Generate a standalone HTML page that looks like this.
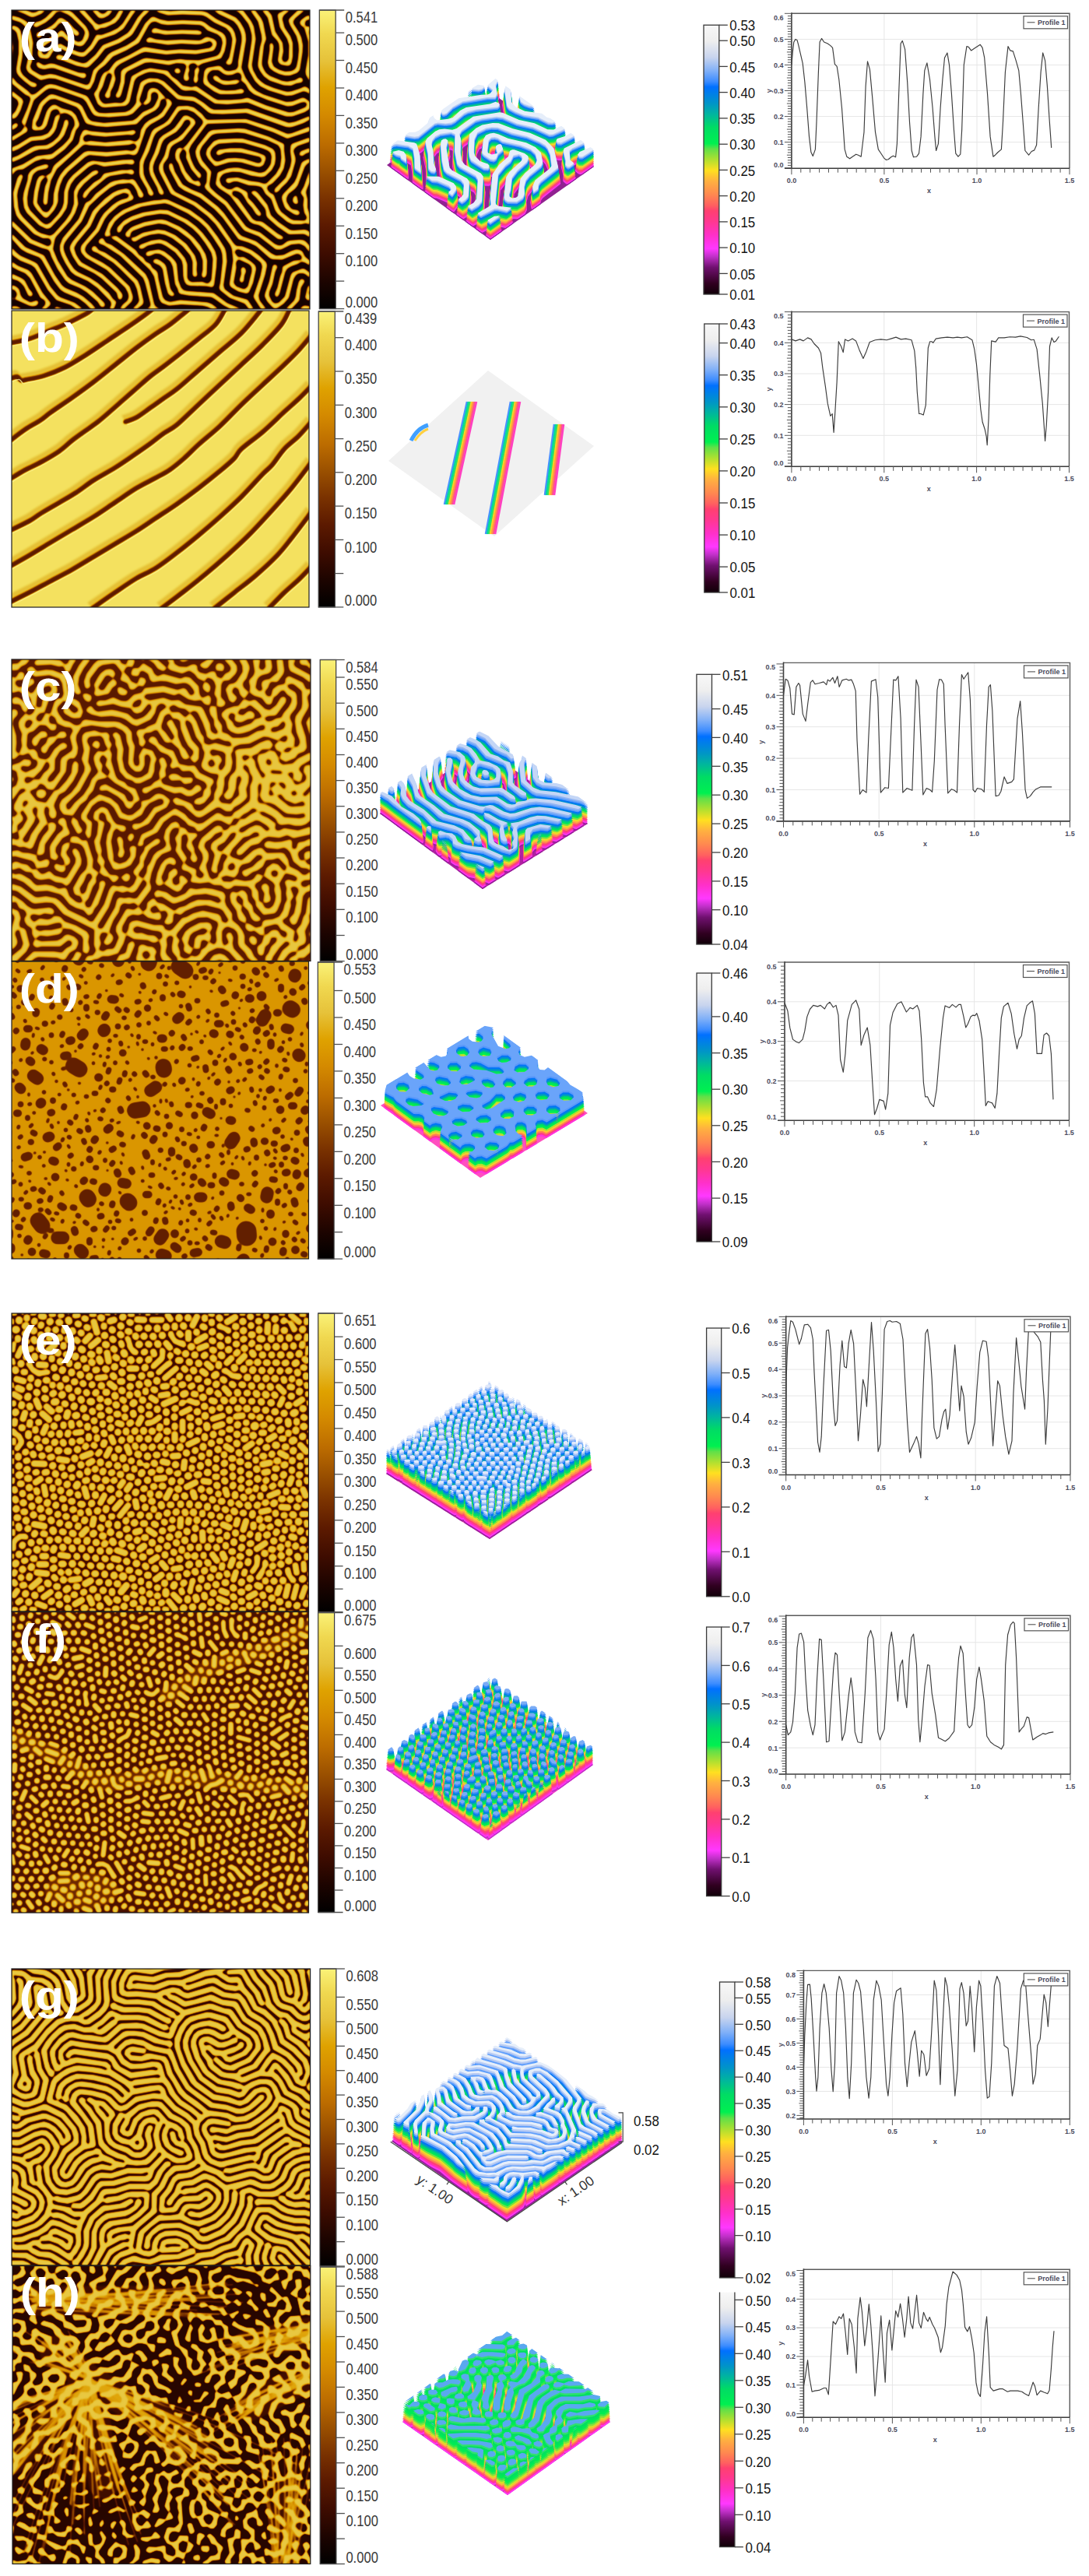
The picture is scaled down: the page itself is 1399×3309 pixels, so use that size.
<!DOCTYPE html>
<html><head><meta charset="utf-8"><style>
html,body{margin:0;padding:0;background:#fff;width:1399px;height:3309px;overflow:hidden}
svg{display:block}
.gl{font-family:'Liberation Sans',sans-serif;font-size:16.6px;fill:#3a3a3a}
.rl{font-family:'Liberation Sans',sans-serif;font-size:16.9px;fill:#141414}
.pl{font-family:'Liberation Sans',sans-serif;font-size:9px;fill:#4a4a5c;font-weight:bold}
.pn{font-family:'Liberation Sans',sans-serif;font-size:52px;font-weight:bold;fill:#fff}
.ax{font-family:'Liberation Sans',sans-serif;font-size:17.5px;fill:#333}
</style></head><body>
<svg width="1399" height="3309" viewBox="0 0 1399 3309">
<defs>
<linearGradient id="gold" x1="0" y1="0" x2="0" y2="1"><stop offset="0.000" stop-color="#faf278"/><stop offset="0.080" stop-color="#f0d850"/><stop offset="0.170" stop-color="#e6c23a"/><stop offset="0.260" stop-color="#dfa200"/><stop offset="0.350" stop-color="#d48a00"/><stop offset="0.450" stop-color="#bc6c00"/><stop offset="0.540" stop-color="#9a5000"/><stop offset="0.630" stop-color="#7a3200"/><stop offset="0.720" stop-color="#5c1a00"/><stop offset="0.815" stop-color="#3e0c00"/><stop offset="0.910" stop-color="#1c0400"/><stop offset="1.000" stop-color="#000000"/></linearGradient>
<linearGradient id="rainbow" x1="0" y1="0" x2="0" y2="1"><stop offset="0.000" stop-color="#f8f8f8"/><stop offset="0.060" stop-color="#eeeeee"/><stop offset="0.120" stop-color="#c8d4ee"/><stop offset="0.170" stop-color="#80b0f8"/><stop offset="0.210" stop-color="#3c8cff"/><stop offset="0.230" stop-color="#0070ff"/><stop offset="0.290" stop-color="#0094c8"/><stop offset="0.330" stop-color="#00b4a0"/><stop offset="0.380" stop-color="#00dc64"/><stop offset="0.440" stop-color="#00f050"/><stop offset="0.460" stop-color="#60e048"/><stop offset="0.500" stop-color="#b0e030"/><stop offset="0.540" stop-color="#ffe020"/><stop offset="0.580" stop-color="#ffb040"/><stop offset="0.630" stop-color="#ff8850"/><stop offset="0.670" stop-color="#ff6060"/><stop offset="0.690" stop-color="#ff4070"/><stop offset="0.730" stop-color="#ff3890"/><stop offset="0.780" stop-color="#ff30c8"/><stop offset="0.830" stop-color="#ff38ff"/><stop offset="0.860" stop-color="#c030c8"/><stop offset="0.900" stop-color="#701070"/><stop offset="0.960" stop-color="#300020"/><stop offset="1.000" stop-color="#100008"/></linearGradient>
<clipPath id="clipa"><rect x="15" y="13" width="383.0" height="384.0"/></clipPath>
<clipPath id="clipb"><rect x="15" y="399" width="382.0" height="381.0"/></clipPath>
<clipPath id="clipc"><rect x="15" y="847" width="384.0" height="387.5"/></clipPath>
<clipPath id="clipd"><rect x="15" y="1235" width="381.5" height="382.0"/></clipPath>
<clipPath id="clipe"><rect x="15" y="1687" width="381.5" height="383.0"/></clipPath>
<clipPath id="clipf"><rect x="15" y="2070.5" width="381.5" height="386.5"/></clipPath>
<clipPath id="clipg"><rect x="15" y="2529" width="383.6" height="381.0"/></clipPath>
<clipPath id="cliph"><rect x="16" y="2910.5" width="382.8" height="383.0"/></clipPath>
<filter id="bl7" x="-5%" y="-5%" width="110%" height="110%"><feGaussianBlur stdDeviation="0.7"/></filter>
<filter id="bl9" x="-5%" y="-5%" width="110%" height="110%"><feGaussianBlur stdDeviation="0.9"/></filter>
<filter id="bl12" x="-5%" y="-5%" width="110%" height="110%"><feGaussianBlur stdDeviation="1.2"/></filter>
<filter id="bl25" x="-5%" y="-5%" width="110%" height="110%"><feGaussianBlur stdDeviation="2.5"/></filter>
<filter id="bl60" x="-5%" y="-5%" width="110%" height="110%"><feGaussianBlur stdDeviation="6.0"/></filter>
<filter id="hma" filterUnits="userSpaceOnUse" x="15" y="13" width="383.0" height="384.0" color-interpolation-filters="sRGB"><feGaussianBlur in="SourceAlpha" stdDeviation="1.5"/><feColorMatrix type="matrix" values="0 0 0 1 0 0 0 0 1 0 0 0 0 1 0 0 0 0 0 1"/><feComponentTransfer><feFuncR type="table" tableValues="0.086 0.098 0.137 0.263 0.467 0.694 0.835 0.882 0.902 0.925 0.937"/><feFuncG type="table" tableValues="0.012 0.016 0.024 0.055 0.184 0.388 0.553 0.663 0.761 0.808 0.839"/><feFuncB type="table" tableValues="0.000 0.000 0.000 0.000 0.000 0.000 0.000 0.051 0.227 0.275 0.306"/></feComponentTransfer></filter>
<filter id="hmb" filterUnits="userSpaceOnUse" x="15" y="399" width="382.0" height="381.0" color-interpolation-filters="sRGB"><feGaussianBlur in="SourceAlpha" stdDeviation="1.1"/><feColorMatrix type="matrix" values="0 0 0 1 0 0 0 0 1 0 0 0 0 1 0 0 0 0 0 1"/><feComponentTransfer><feFuncR type="table" tableValues="0.957 0.941 0.918 0.894 0.855 0.765 0.604 0.494 0.427 0.388 0.361"/><feFuncG type="table" tableValues="0.886 0.847 0.800 0.718 0.592 0.459 0.314 0.208 0.153 0.122 0.102"/><feFuncB type="table" tableValues="0.373 0.314 0.267 0.153 0.000 0.000 0.000 0.000 0.000 0.000 0.000"/></feComponentTransfer></filter>
<filter id="hmc" filterUnits="userSpaceOnUse" x="15" y="847" width="384.0" height="387.5" color-interpolation-filters="sRGB"><feGaussianBlur in="SourceAlpha" stdDeviation="1.5"/><feColorMatrix type="matrix" values="0 0 0 1 0 0 0 0 1 0 0 0 0 1 0 0 0 0 0 1"/><feComponentTransfer><feFuncR type="table" tableValues="0.349 0.361 0.400 0.506 0.663 0.792 0.855 0.882 0.894 0.902 0.910"/><feFuncG type="table" tableValues="0.098 0.102 0.133 0.224 0.361 0.494 0.592 0.663 0.718 0.761 0.780"/><feFuncB type="table" tableValues="0.000 0.000 0.000 0.000 0.000 0.000 0.000 0.051 0.153 0.227 0.247"/></feComponentTransfer></filter>
<filter id="hmd" filterUnits="userSpaceOnUse" x="15" y="1235" width="381.5" height="382.0" color-interpolation-filters="sRGB"><feGaussianBlur in="SourceAlpha" stdDeviation="0.9"/><feColorMatrix type="matrix" values="0 0 0 1 0 0 0 0 1 0 0 0 0 1 0 0 0 0 0 1"/><feComponentTransfer><feFuncR type="table" tableValues="0.855 0.851 0.835 0.784 0.663 0.549 0.467 0.427 0.400 0.388 0.388"/><feFuncG type="table" tableValues="0.592 0.584 0.553 0.482 0.361 0.263 0.184 0.153 0.133 0.122 0.122"/><feFuncB type="table" tableValues="0.000 0.000 0.000 0.000 0.000 0.000 0.000 0.000 0.000 0.000 0.000"/></feComponentTransfer></filter>
<filter id="hme" filterUnits="userSpaceOnUse" x="15" y="1687" width="381.5" height="383.0" color-interpolation-filters="sRGB"><feGaussianBlur in="SourceAlpha" stdDeviation="1.3"/><feColorMatrix type="matrix" values="0 0 0 1 0 0 0 0 1 0 0 0 0 1 0 0 0 0 0 1"/><feComponentTransfer><feFuncR type="table" tableValues="0.224 0.251 0.310 0.439 0.620 0.784 0.855 0.882 0.894 0.902 0.910"/><feFuncG type="table" tableValues="0.043 0.051 0.078 0.165 0.325 0.482 0.592 0.663 0.718 0.761 0.780"/><feFuncB type="table" tableValues="0.000 0.000 0.000 0.000 0.000 0.000 0.000 0.051 0.153 0.227 0.247"/></feComponentTransfer></filter>
<filter id="hmf" filterUnits="userSpaceOnUse" x="15" y="2070.5" width="381.5" height="386.5" color-interpolation-filters="sRGB"><feGaussianBlur in="SourceAlpha" stdDeviation="1.3"/><feColorMatrix type="matrix" values="0 0 0 1 0 0 0 0 1 0 0 0 0 1 0 0 0 0 0 1"/><feComponentTransfer><feFuncR type="table" tableValues="0.286 0.325 0.400 0.522 0.694 0.812 0.867 0.886 0.898 0.910 0.918"/><feFuncG type="table" tableValues="0.067 0.086 0.133 0.235 0.388 0.518 0.616 0.690 0.745 0.780 0.800"/><feFuncB type="table" tableValues="0.000 0.000 0.000 0.000 0.000 0.000 0.000 0.102 0.204 0.247 0.267"/></feComponentTransfer></filter>
<filter id="hmg" filterUnits="userSpaceOnUse" x="15" y="2529" width="383.6" height="381.0" color-interpolation-filters="sRGB"><feGaussianBlur in="SourceAlpha" stdDeviation="1.2"/><feColorMatrix type="matrix" values="0 0 0 1 0 0 0 0 1 0 0 0 0 1 0 0 0 0 0 1"/><feComponentTransfer><feFuncR type="table" tableValues="0.180 0.208 0.286 0.439 0.663 0.812 0.867 0.886 0.898 0.906 0.914"/><feFuncG type="table" tableValues="0.031 0.039 0.067 0.165 0.361 0.518 0.616 0.690 0.745 0.769 0.788"/><feFuncB type="table" tableValues="0.000 0.000 0.000 0.000 0.000 0.000 0.000 0.102 0.204 0.235 0.255"/></feComponentTransfer></filter>
<filter id="hmh" filterUnits="userSpaceOnUse" x="16" y="2910.5" width="382.8" height="383.0" color-interpolation-filters="sRGB"><feGaussianBlur in="SourceAlpha" stdDeviation="1.1"/><feColorMatrix type="matrix" values="0 0 0 1 0 0 0 0 1 0 0 0 0 1 0 0 0 0 0 1"/><feComponentTransfer><feFuncR type="table" tableValues="0.153 0.165 0.224 0.349 0.549 0.757 0.847 0.882 0.894 0.906 0.914"/><feFuncG type="table" tableValues="0.027 0.027 0.043 0.098 0.263 0.447 0.573 0.663 0.733 0.769 0.788"/><feFuncB type="table" tableValues="0.000 0.000 0.000 0.000 0.000 0.000 0.000 0.051 0.176 0.235 0.255"/></feComponentTransfer></filter>
<path id="h3a" d="M13 199l-9-5-2-9 1-59 34-54 11-13 2-8-4-15-23-2-3-34 9 0 8 17 27 21 6 13-15 16-36 59-4 34 5 29-3 8-4 2zM147 51l-21 3-11-3-48-39-8-12 19 0 36 33 21 5 29-7 39-27 20 1 11-5 18 0-4 9-8 7-34 6-33 21-26 8zM143 13l-13 0-18-13 57 0-11 8-15 5zM324 400l-12 0 2-21-5-17-50-55-15-6-55 7-12-3-41-31-43-45-13 3-16 25-3 17 5 17 9 12 19 13 37 34 21 12 3 9-8 5-12-2-42-40-37-27-5-12-3-34 2-13 9-12 17-13 5-12-1-64 39-63 7-5 51-13 38-21 42-9 12-11 5-25 4-1 11 1-9 38-6 8-51 12-41 22-43 11-14 10-23 34-7 17 0 54 6 15 17 11 34 36 25 20 17 5 54-8 13 4 64 69 4 17-2 25-3 0zM312 52l-9-3-2-7 8-21 2-21 15 0-7 46-7 6zM396 98l-9-1-12-13-30-21-5-8 9-55 15 0-9 38 1 13 27 24 17 1 0 18-4 4zM392 47l-9-1-4-12 8-34 13 0-3 42-5 5zM4 74l-3-2 2-21 14-9 4 2 1 11-4 8-14 11zM0 331l0-16 11-12 3-12-3-38-11-18 0-14 8 6 13 0 18-25 5-13-5-33 3-20 36-56 5-17 10-3 6 3 2 9-35 50-10 21-2 13 3 38-2 12-9 13-17 13-4 8 4 67-6 9-23 15zM240 265l-46 3-14-7-20-17-39-42-4-29 3-21 15-26 12-11 42-13 44-22 49-12 38 7 60 43 4 71 4 13 12 14 0 17-17-13-12-22-4-59-4-13-35-29-21-11-12-3-21 2-38 10-38 20-42 13-12 11-8 13-5 29 12 24 34 36 12 8 26 5 21-8 8 2 5 9-9 8zM0 85l0-12 0 12zM362 400l-12 0 4-42-2-9-19-16-60-68-13-38-5-42-12-17 1-8 4-4 30-10 13 0 8 6 6 12 5 42 9 30 30 35 9 15 8 6 9-1 6-9 0-8-42-51-7-25-4-42-8-17-21-14-21-3-30 9-46 25-17 0-8 4-6 8 3 13 24 29 8 6 13-3 7-15-20-13-3-4 0-8 3-5 5 0 15 9 2 21 9 17-1 8-9 5-25 1-8-3-32-37-7-16 3-13 6-9 13-6 29-7 46-24 30-6 25 4 30 23 6 12 3 47 6 21 14 21 21 19 7 14-1 22-18 17-9 1-8-4-51-59-8-21-7-52-4-9-10-6-9 1-7 14 10 21 1 21 10 38 71 82 8 5 9-1 29-21 0 17-25 13-5 6-8 46zM286 400l-11 0 0-13-4-12-27-29-17-5-46 8-13-2-29-21-46-41-9-11 0-9 4-5 9 1 14 21 62 49 12 2 51-7 12 4 38 41 4 16-1 13-3 0zM131 400l-23 0-28-27-29-23-17 2-26 18-8 13 0-24 38-27 8-1 34 22 51 47zM400 400l-12 0 2-25 10-13 0 38zM248 401l-11-1-1-13-9-5-8-1-34 9-12 10-21 0 25-24 46-11 13 4 8 7 7 20 1 4-4 1zM72 400l-16 0-10-6-12 6-13 0 8-17 13-6 13 4 20 19-3 0z" fill-rule="evenodd"/>
<clipPath id="c3a"><rect x="0" y="0" width="400.0" height="400.0"/></clipPath>
<path id="h3c" d="M93 1l-31-1 34 0-3 1zM278 77l-13 3-46-4-56-47-10-21-8-8 16 0 8 17 54 46 34 5 21-7 32-27 55-34 35 0-21 7-55 33-46 37zM248 46l-21-7-44-39 19 0 34 29 12 5 17-5 21-21 15-8 27 0-33 18-28 24-19 4zM257 10l-13 0-7-10 26 0-6 10zM97 34l-21 4-47-10-29 6-1-9 1-4 29-6 47 9 50-7 12 8-3 7-21-3-17 5zM160 233l-46 1-24-7-40-29-16-21-13-12-1-5 5-5 9 1 29 38 34 23 34 6 37-6 24-15 27-33 38-3 11-6 5-8-3-13 11-17 2-17 10-12 35-31 55-33 17-7 0 13-67 40-31 26-10 17-11 34-1 12-6 9-9 4-29 1-13 5-26 32-37 18zM261 111l-8 2-51-3-34-35-25-15-12-1-51 16-51-12-29 8 0-14 21-6 13-1 50 11 21-8 21-1 17-7 30 18 33 33 13 3 42-1 6 7-6 6zM168 266l-67 2-20-7-40-25-41-42 0-20 8 2 8 18 26 27 46 30 21 5 55-2 51-24 8-7 7-17 6-5 38-5 17-8 7-11 14-48 12-20 26-21 50-29 0 14-51 31-19 18-9 17-13 46-8 13-22 10-39 7-10 8 3 13-5 3-59 27zM147 165l-21 3-19-8-19-21-7-21-9-10-38-11-17 3-17 10 0-15 17-8 17-2 25 6 25 11 21-14 26-6 14 2 16 13 19 25-17 30-16 13zM144 152l17-17 3-9-3-12-14-14-8-5-13-1-33 15-2 9 20 29 15 8 18-3zM349 313l-15-1-35-31-17-6-55 3-59 25-84-2-67-40-17-19 0-19 29 31 47 29 17 6 71 1 63-26 34 2 25-4 12 3 35 30 12 6 9 0 17-7 21-1 4-11-3-8-16-9-9-17-20-12-11-16-18-5 11-21 7-35 8-21 16-16 39-24 0 14-34 21-11 14-16 55 4 13 22 17 31 33 4 9 0 21-21 11-30 7zM135 133l-13-2-4-9 2-4 6-3 11 3 3 8-5 7zM156 198l-25 4-24-4-31-21-24-34-10-9-17-1-25 16 0-14 25-15 21 2 13 9 15 25 19 19 21 12 17 2 16-1 17-8 38-47 46-2 9 4 1 4-10 6-29 0-13 4-29 37-21 12zM400 237l-34-33-3-10 12-38 25-19 0 14-15 13-9 21 6 17 18 17 0 18zM400 188l0-11 0 11zM358 279l-9 0-8-5-25-21-8-13-13-2-42 8-12-6 12-7 33-4 27-10-1 17 33 25 17 8 1 5-5 5zM181 337l-13 2-42-5-54 1-38-26-34-14 0-17 40 21 27 20 13 5 51-2 42 3 50-23 21-5 42 2 13 14 19 11-3 9-12 3-4-3-1-13-3-4-30-7-17 0-25 6-42 22zM177 375l-42-8-55 5-25-5-17-9-17-19-21-6 0-13 13 2 12 6 30 25 21 6 50-4 55 6 44-24 28-7 44 11-6 8-9 3-21-9-17 0-67 32zM227 394l-12-5 0-9 17-6 12-10 13 0 21 11 13-2 29-18 21-18 59-16 0 13-51 14-37 27-26 13-12 1-13-11-17-2-8 4-9 14zM13 370l-13-1 0-13 13 2 3 8-3 4zM333 400l-23 0 48-31 42-13 0 13-38 12-29 19zM156 400l-97 1-30-4-29 4-1-5 1-5 29-8 47 10 42-5 25 2 13 5 4 5-4 0zM198 400l-18 0 0-8 5-4 4 2 9 10zM400 401l-27-1 27-8 0 9zM257 400l-14 0 16 0-2 0z" fill-rule="evenodd"/>
<clipPath id="c3c"><rect x="0" y="0" width="400.0" height="400.0"/></clipPath>
<path id="h3d" d="M375 400l-23 0 5-10-3-13-10-10-10-1-10 4-7 10-1 10 4 10-6 1-75-1-11-20-15-7-13 7-4 10 1 10-23 0-7-10-15-5-10 4-10 11-66 1-20-6-29 5-17-22 0-77 15 5 15-1 16-11 1-10-6-9-11-4-30 1 0-32 35 7 8-4 5-10-6-15-12-6-15 3-15 11 0-33 15-4 6-12-7-15-14-9-1-72 1-8 10 9 15 0 14-11 1-10-4-10-11-9-15-1-10 6 0-34 22-13 0 5 13 16 51 21 21-7 5-10-3-10-13-7-25-2-8-6 68 0 5 15 16 8 15-4 8-19 7-1 18 1 18 19 15 4 10-8-2-15 7-1 66 0 20 5 41-5 5 1 10 12 10 2 0 138-15 3-7 12 6 15 16 10 0 34-25-22-10-4-11 2-7 11 6 15 22 17 15 2 10-5 0 33-6 9 7 20-1 72-16 4-6 10 0 10-3 0zM310 46l6-16-7-13-20-6-17 9-3 10 9 13 16 7 16-4zM370 61l12-15-4-16-13-8-16 2-10 11 1 16 14 12 16-2zM201 76l11-15-1-15-8-11-16-2-13 13 0 15 13 17 14-2zM143 81l7-10 2-15-10-11-15-1-11 12 0 20 16 8 11-3zM261 96l10-10 0-15-13-17-15-2-10 14 1 15 9 13 18 2zM91 101l9-15-8-15-16-8-18 8-1 15 9 14 15 5 10-4zM328 106l7-15-6-15-10-7-15 2-11 15 4 15 17 10 14-5zM386 127l11-16-3-15-14-11-15 2-11 14 4 15 12 10 16 1zM113 157l24-23 30-10 9-13-1-10-13-6-15 0-20 22-26 4-12 6-6 10 4 15 9 6 17-1zM224 142l11-10-2-20-10-9-20-1-9 9 4 16 10 12 16 3zM48 147l6-5 4-10-6-16-17-9-15 1-8 14 6 15 12 9 18 1zM293 157l5-15-6-15-14-9-15 5-5 14 5 16 15 9 15-5zM345 177l12-10 1-15-14-16-15-1-12 12 1 15 11 12 16 3zM188 182l8-5 5-10-6-15-18-6-15 5-7 11 2 10 15 9 16 1zM256 243l6-15-3-51-11-11-15-1-10 12 9 31-1 30 12 8 13-3zM77 208l11-11-2-15-10-12-20-1-11 13 4 15 12 10 16 1zM135 223l10-10 2-26-5-8-15-3-15 11-3 16 13 19 13 1zM317 233l9-10 1-15-18-19-15 0-9 14 4 20 15 12 13-2zM188 243l15-10 4-10-4-15-11-8-17 8-11 20 2 10 6 4 16 1zM99 268l8-5 7-10-2-10-6-7-20-5-20 12-2 10 7 12 15 6 13-3zM286 294l12-16-1-15-13-10-16 1-9 14 0 16 9 11 18-1zM354 294l13-10-3-16-20-14-10-1-10 5-5 10 6 16 14 10 15 0zM155 304l10-10 3-16-6-16-5-5-10-1-15 12-4 31 9 9 18-4zM220 299l12-15-1-16-8-8-15 0-15 13-3 16 13 13 17-3zM91 329l19-10 3-10-3-5-19-11-20 3-8 8 2 15 11 9 15 1zM324 344l9-15-6-15-18-7-15 7-5 10 5 15 15 9 15-4zM255 349l8-15-1-15-14-8-15 4-10 14 1 15 14 9 17-4zM382 354l12-10 2-15-11-15-15-2-14 12-1 15 10 14 17 1zM189 359l8-10 2-10-3-10-9-7-20 3-19 14-1 10 11 10 14 4 17-4zM45 370l11-11-4-20-17-10-15 3-9 12 5 15 14 10 15 1zM112 385l14-20 0-11-4-3-26 1-21 13-1 10 12 12 15 2 11-4zM287 395l8-10-1-16-10-9-21 3-6 12 3 15 13 9 14-4z" fill-rule="evenodd"/>
<clipPath id="c3d"><rect x="0" y="0" width="400.0" height="400.0"/></clipPath>
<path id="h3e" d="M7 3l-7 0-1-3 11 0-3 3zM36 6l-7 0-5-6 17 0-5 6zM58 20l-4 0-6-6 0-7 4-7 7 0 1 4 1 10-3 6zM97 1l-6-1 8 0-2 1zM119 11l-8-4-1-7 14 0 0 7-5 4zM141 2l-8-2 11 0-3 2zM227 0l-4 0 4 0zM252 5l-9-5 18 0-9 5zM299 12l-4 0-5-5 3-7 11 0 1 7-6 5zM321 4l-7-4 13 0-6 4zM364 7l-4 3-7-1-3-9 15 0-1 7zM378 4l-4-4 13 0-9 4zM79 15l-3 1-6-5 2-9 10 2 1 7-4 4zM277 18l-9-4-1-7 3-4 7 1 6 7-6 7zM166 18l-10-4-3-3 3-4 10-2 7 2 1 7-8 4zM191 20l-7-1-2-5 3-7 6-3 6 7-6 9zM213 20l-4 0-5-6 1-6 4-4 7 2 2 5-5 9zM234 23l-4-1-4-8 5-7 3 0 7 7-7 9zM335 22l-6-4 0-7 3-4 7-3 3 3 0 7-7 8zM400 18l-4 3-7-3-2-4 2-5 7-2 4 2 0 9zM18 23l-7 2-4-3 0-8 4-5 8 2 1 7-2 5zM97 23l-7-3-1-6 8-6 6 3 1 3-7 9zM137 26l-4-1-4-7 1-4 7-4 8 4-2 8-6 4zM40 26l-8 3-4-4 0-7 4-4 5 0 4 4-1 8zM256 26l-9-4 0-4 5-6 7 2 2 4-5 8zM317 26l-10-4 1-8 6-2 8 6 0 4-5 4zM378 33l-9-8-1-7 3-5 7 3 5 9-1 7-4 1zM357 31l-7 0-4-6 1-3 6-5 7 5-3 9zM119 34l-7-1-3-4 2-7 4-3 8 6-4 9zM295 34l-7-1-3-4 3-9 7 0 5 5-5 9zM79 37l-9-1-4-7 1-4 5-2 8 2 2 7-3 5zM159 37l-8 1-3-4-1-5 4-5 4 0 6 5-2 8zM0 41l0-14 6 5 0 4-6 5zM50 40l-7-2-1-6 5-4 7-1 3 9-7 4zM180 40l-7 1-4-5 0-4 4-6 9 3 1 7-3 4zM198 41l-4-1-3-8 7-6 4 0 3 6-7 9zM223 41l-6-1-3-4 2-8 7-1 4 2 1 7-5 5zM270 40l-3 1-6-5 3-7 6-3 6 3 1 3-7 8zM400 41l-6-5-1-4 7-5 0 14zM97 43l-7-2-2-5 6-6 7 2 2 4-6 7zM249 47l-4 1-6-5-2-7 4-5 10 5 1 7-3 4zM339 48l-9-5-2-7 4-4 7 1 6 7 0 3-6 5zM25 47l-7 0-4-4 0-3 4-6 7 0 4 3 1 6-5 4zM141 52l-11-6-2-6 2-4 7-1 5 5 3 7-4 5zM314 48l-8-1-3-4 3-8 8-1 4 2 1 7-5 5zM364 51l-7-1-3-3 2-7 4-3 9 3 0 7-5 4zM65 56l-4 0-5-6 5-8 7 1 2 4-5 9zM115 55l-7 0-3-4 3-8 7-1 4 3 0 5-4 5zM288 54l-7 1-3-5 3-8 7-1 3 2 1 7-4 4zM389 54l-7 2-4-3-1-6 5-6 7 2 2 4-2 7zM47 60l-10-2-2-8 3-3 5-1 5 4 2 4-3 6zM166 59l-7 0-5-5 2-7 6-2 7 5 1 4-4 5zM213 58l-8 1-4-5 4-9 4 0 6 5-2 8zM4 63l-4-1-1-8 1-6 4 0 6 6-6 9zM86 63l-3 0-6-5 1-8 5-2 7 2 2 4 0 4-6 5zM187 63l-4-2-5-7 6-7 7 2 2 5-2 7-4 2zM231 60l-8 0-2-2 1-8 5-3 7 3 1 4-4 6zM267 63l-10-5 2-9 8 0 5 5-5 9zM306 67l-3 1-7-3 0-7 3-4 4-1 5 5-2 9zM328 66l-7 2-4-3-1-4 5-8 8 1 1 7-2 5zM400 60l0-8 0 8zM29 70l-4 2-7-3-2-4 2-6 4-3 7 4 0 10zM130 70l-7-1-4-4 4-8 7 0 3 4 1 4-4 5zM346 71l-4-1-4-5 2-7 6-3 6 6-6 10zM368 73l-4-1-4-7 8-7 3 1 3 6-6 8zM68 74l-3 1-6-3-2-4 4-6 4-1 6 4 1 3-4 6zM249 72l-4 2-5-2-2-7 3-6 4-1 6 3 0 7-2 4zM105 78l-9-6 1-7 4-3 7 2 3 4-3 8-3 2zM151 77l-7-1-3-4-1-4 4-5 7 1 5 4 0 4-5 5zM285 80l-9-8 5-8 9 4 0 8-5 4zM393 76l-4 2-7-2-1-8 5-4 7 1 2 3-2 8zM47 81l-7 0-4-5 1-4 6-5 8 5-4 9zM180 76l-11 2-5-6 2-4 3-2 8 0 5 6-2 4zM205 80l-10-4 0-8 7-2 7 2 1 8-5 4zM227 85l-7-4-3-5 1-4 5-4 9 8-5 9zM7 84l-7-3 0-9 4-2 3 0 5 6-5 8zM267 83l-4 2-6-2-1-7 3-5 9 1 2 4-3 7zM83 88l-7-5 0-4 7-7 3 1 5 6-1 4-7 5zM303 91l-7-5 0-3 7-7 7-1 3 8-3 5-7 3zM335 87l-3 3-8-2-2-9 6-4 7 2 2 6-2 4zM126 87l-7 2-4-2 0-8 11-2 3 6-3 4zM353 92l-5-2-3-7 8-6 7 6-7 9zM22 94l-4-2-2-6 2-4 7-2 4 3 1 7-8 4zM61 99l-4-2-3-7 7-8 7 4 0 4-7 9zM191 97l-10-3 3-11 3-1 8 4 1 4-5 7zM249 95l-11 0-2-9 5-3 8 1 3 6-3 5zM378 104l-6-3-3-7-1-8 3-5 4 0 4 5 2 15-3 3zM144 98l-3 0-5-4-1-8 6-3 3 1 5 6-5 8zM166 98l-9-8 0-4 5-3 10 7 0 4-6 4zM396 98l-3 0-5-4 5-9 7 2 0 9-4 2zM43 101l-5 0-4-4-1-3 7-6 7 6-4 7zM101 105l-5-4-2-7 7-7 6 3 2 7-4 7-4 1zM216 103l-7-1-4-5 0-7 4-2 7 1 4 5-4 9zM281 98l-11 1-3-5 7-6 7-1 4 7-4 4zM11 109l-7-1-3-3 1-8 5-2 4 0 3 6-3 8zM79 109l-7-4 0-4 7-7 4 1 4 6-1 4-7 4zM130 109l-11-2-2-6 2-3 7-1 6 4-2 8zM321 110l-4 1-6-3-1-7 4-6 8 2 1 8-2 5zM342 110l-7 1-3-3 0-7 3-5 4 0 6 5-3 9zM256 118l-4 0-5-6 2-7 7-5 3 2 3 6-6 10zM299 114l-4 1-6-3 0-7 3-6 3-1 5 3 2 7-3 6zM364 109l-7 2-4-2 0-8 7-3 6 7-2 4zM29 118l-7-1-3-5 6-8 8 4-1 7-3 3zM159 113l-4 2-7-3-2-7 5-3 8 2 2 4-2 5zM177 119l-4 0-5-7 5-8 4-1 5 5-1 7-4 4zM198 117l-3 0-6-5 6-9 8 5-1 7-4 2zM234 117l-9-5 1-7 5-4 3 1 5 6-5 9zM50 121l-7-1-2-5 6-8 7-1 4 6-8 9zM277 121l-7-1-2-5 6-8 8 5 0 3-5 6zM396 122l-7-2-3-5 3-8 7 1 4 4 0 6-4 4zM72 129l-7-2-2-4 2-7 3-3 4 1 5 9-5 6zM94 128l-8-1-2-4 2-8 4-3 7 3 2 4-5 9zM115 128l-8-5 0-8 5-2 8 6 1 4-6 5zM141 129l-10-3-1-7 3-5 4 0 6 5 0 7-2 3zM375 128l-7-1-3-4 6-9 4-1 5 6-5 9zM220 132l-12-6 1-9 7-1 4 3 4 7-4 6zM310 134l-5-1-4-7 5-7 8 2 1 5-5 8zM335 130l-3 3-7-3-3-7 2-4 4-2 6 2 3 7-2 4zM357 130l-7 2-4-2-2-4 2-7 4-2 5 2 3 4-1 7zM14 134l-7 3-5-4-1-7 6-6 8 3-1 11zM162 134l-9-4 0-4 6-5 10 5 0 4-7 4zM36 139l-7 1-4-3 0-7 4-4 3-1 6 5-2 9zM191 138l-7 0-4-3-1-5 3-4 5-2 8 2 2 7-6 5zM241 137l-7-7 4-6 7-1 5 7-1 4-8 3zM267 141l-8-3-2-5 1-3 5-5 4 1 5 7-5 8zM288 139l-3 0-5-6 2-7 6-3 6 7-6 9zM58 142l-8-1-4-4 4-8 8 0 3 4-3 9zM386 144l-5-3 1-8 7-4 4 1 3 3-2 8-8 3zM108 144l-3 3-8-2-2-4 2-7 8-1 3 2 0 9zM130 146l-7 1-4-3-1-7 5-4 8 4-1 9zM86 148l-3 3-8-3-2-7 3-5 9 1 3 7-2 4zM151 149l-7 1-3-2-1-7 4-4 7 1 3 6-3 5zM213 149l-4 2-7-3 0-9 3-2 8 2 2 5-2 5zM371 150l-7 0-3-2-2-7 3-4 6-1 5 5-2 9zM173 154l-7 0-4-6 7-8 7 4 1 4-4 6zM231 155l-8-2-2-5 6-8 7 4 2 4-5 7zM328 152l-4 2-6-3-3-3 2-7 4-2 6 2 3 7-2 4zM350 152l-4 2-7-3-2-3 2-7 7-2 4 3 2 6-2 4zM4 156l-4 2 0-15 6 5-2 8zM252 159l-7-3-2-5 6-7 7 1 3 6-7 8zM303 155l-4 1-6-5 2-8 8-2 3 3 1 7-4 4zM25 159l-7 1-4-5 0-7 4-4 7 4 2 7-2 4zM43 162l-7-2-2-5 6-8 4 1 5 7-6 7zM65 160l-7-1-3-4 6-9 8 5-4 9zM277 163l-7-1-2-7 2-5 7-4 6 5-1 8-5 4zM400 158l-4-7 4-6 0 13zM195 162l-4 1-7-4 0-8 3-3 9 3 1 8-2 3zM97 171l-4-2-5-7 6-7 3 0 6 7-6 9zM119 164l-4 1-5-3-2-3 4-7 9 3 1 4-3 5zM133 170l-7-8 7-7 4 0 4 7-1 4-7 4zM389 169l-7 1-5-4-1-7 2-4 8 0 4 4 2 7-3 3zM159 169l-4 3-6-3-2-3 4-8 8 1 2 7-2 3zM216 171l-7 1-4-3 0-7 4-3 4-1 6 4-3 9zM364 172l-7 0-4-3-1-7 4-3 4-1 7 4-3 10zM76 177l-4-1-3-7 3-6 4-2 3 2 3 6-6 8zM238 176l-7 0-3-3 3-10 7-1 4 4 1 3-5 7zM295 175l-7-2-2-4 0-3 6-5 8 5 0 3-5 6zM317 175l-7-1-3-5 2-7 5-2 3 0 4 6-4 9zM339 175l-4 0-6-6 3-8 7-1 5 6-5 9zM11 178l-10-5-1-4 4-5 7 0 5 5-5 9zM177 178l-8-5 0-7 4-3 7 2 3 4-1 4-5 5zM259 181l-3 0-6-4 1-8 5-3 9 3-1 8-5 4zM32 184l-8-7 0-4 5-5 7 2 3 7-3 7-4 0zM58 181l-8 0-3-4 3-9 8 0 3 5-3 8zM115 186l-7 0-4-6 8-8 9 5 0 3-6 6zM198 188l-7-2-3-6 7-8 3 1 5 7-5 8zM141 192l-10-5-1-7 3-3 4-1 6 4 1 7-3 5zM281 189l-7-1-3-4 3-9 9 2 2 7-4 5zM375 192l-7-4-2-4 5-7 7 1 3 6-6 8zM90 193l-4 0-4-6 3-7 5-2 7 6-7 9zM159 192l-4-1-4-7 4-6 4-1 6 7-6 8zM216 195l-6-4 0-4 3-5 7-2 5 7-2 5-7 3zM332 192l-11 1-3-9 6-4 8 2 2 5-2 5zM353 193l-7-1-3-5 3-7 7-1 5 5 0 3-5 6zM400 193l-7-2-3-4-1-3 4-7 7 2 0 14zM29 206l-4 1-16-16 2-6 7 0 11 10 3 7-3 4zM245 195l-7 3-4-2 0-9 4-3 7 0 3 7-3 4zM306 195l-7 1-4-2-2-7 3-3 7-3 4 3 2 7-3 4zM0 189l0-3 0 3zM68 200l-3 0-5-5 2-8 6-3 7 7-7 9zM184 198l-4 3-7-3 0-10 4-2 5 1 3 4-1 7zM50 203l-7 2-3-3-1-7 4-6 4 0 6 6-3 8zM267 202l-4 3-7-3-2-7 3-4 6-2 4 3 2 6-2 4zM123 206l-7-4-1-4 8-6 6 6-1 4-5 4zM101 209l-6-7 2-5 8-2 5 7-5 7-4 0zM202 210l-4 2-6-3-1-7 4-5 9 1 1 7-3 5zM285 211l-8-1-2-5 6-9 4 1 4 5 0 3-4 6zM368 211l-8 1-3-3-1-7 4-4 4-1 6 5-2 9zM389 211l-7-1-4-5 4-8 7 1 4 4 0 3-4 6zM11 217l-10-4-1-11 7 0 8 7 1 4-5 4zM86 213l-3 3-7-2-2-5 2-5 7-3 3 2 0 10zM144 217l-7 2-4-6 2-8 6-4 5 4-2 12zM166 211l-7 1-4-3-2-4 2-5 4-2 7 4 0 9zM324 214l-7 0-5-5 3-7 6-2 3 3 3 6-3 5zM342 214l-8-5 1-7 4-3 3 0 6 6-2 7-4 2zM220 217l-7-3-1-5 4-5 7-2 5 7-8 8zM303 217l-4 0-4-4-1-4 5-5 4 0 5 5-5 8zM65 220l-4 3-7-2-2-8 6-5 5 1 4 4-2 7zM245 220l-7-2-2-5 5-7 10 3 0 7-6 4zM123 225l-10-2-2-3 4-7 4-1 6 4 1 4-3 5zM180 229l-6-2-2-7 3-7 5-3 4 3 2 7-6 9zM267 227l-8-4-1-3 5-7 10 3 0 7-6 4zM40 227l-8 2-5-6 2-7 3-2 10 2 1 7-3 4zM101 229l-10-2-1-4 4-6 7 0 3 3 1 3-4 6zM162 232l-7 1-4-3-1-7 5-4 4-1 5 5 1 4-3 5zM205 233l-10 0-1-10 4-3 7 0 4 7-4 6zM292 232l-10-1-1-8 4-3 7 0 3 3-3 9zM357 235l-7-3-3-5 6-8 4 1 5 7-5 8zM378 231l-3 0-6-4 2-9 4-2 6 4 1 7-4 4zM400 229l-4 1-5-3-1-4 3-6 7 0 0 12zM231 236l-11-1-1-8 12-4 4 8-4 5zM314 236l-4 0-6-5 2-8 4-2 7 2 2 4-5 9zM335 236l-5-2-4-7 6-7 3 1 5 6-1 7-4 2zM14 240l-7-1-2-5 2-6 7-4 6 7-6 9zM79 238l-7 1-4-5 4-9 10 2 0 7-3 4zM58 244l-8 1-4-4-2-3 3-6 7-2 4 2 3 6-3 6zM144 239l-3 2-9-3 0-7 5-4 7 3 2 4-2 5zM252 243l-7-1-3-4 3-9 7 0 4 3 1 6-5 5zM123 245l-4 1-7-5-1-3 3-4 9-1 6 5-6 7zM97 250l-7 1-4-6 8-8 6 1 3 3-6 9zM277 246l-10 1-2-9 5-4 7 2 3 5-3 5zM375 251l-10-2-1-8 7-3 7 3 1 4-4 6zM400 246l-4 2-7-1-3-6 1-3 9-3 4 4 0 7zM32 253l-7 1-3-5 3-8 4-3 8 3-1 8-4 4zM187 253l-7 0-3-4 0-8 3-2 7-1 4 3 1 8-5 4zM213 254l-8 0-4-5 1-4 7-5 8 5 1 4-5 5zM303 250l-11 0-1-9 4-3 8 2 2 5-2 5zM328 253l-11-1-2-7 6-4 7 2 3 6-3 4zM159 256l-7-4-1-3 4-6 7-2 4 2 2 6-2 4-7 3zM238 258l-7 1-4-3-1-7 5-4 9 4 0 7-2 2zM350 256l-8 0-3-4 3-9 8-1 3 3 1 7-4 4zM7 263l-7-7 7-8 7 4 2 4-2 4-7 3zM72 262l-7 0-3-6 6-9 7 2 3 3-6 10zM141 261l-8 1-3-2-1-8 4-3 8 1 2 6-2 5zM50 264l-7 2-3-3 0-7 3-3 7-1 4 4-4 8zM115 265l-9-2-1-7 3-3 7-1 4 4 1 3-5 6zM259 265l-8-2-2-7 3-4 7-1 5 5 1 3-6 6zM285 267l-8 0-3-3 0-5 3-4 8-1 3 3 1 6-4 4zM393 268l-10-1-3-4 2-6 7-2 4 2 3 6-3 5zM83 282l-7 1-5-6 1-3 11-7 3-8 8-1 2 9-13 15zM198 273l-7 0-3-3 3-10 7-1 4 4-4 10zM306 270l-7-3 0-4 7-7 4 1 4 6-1 4-7 3zM368 273l-8-2-2-4 2-7 4-2 8 5-1 7-3 3zM177 275l-4 2-6-3-1-7 3-6 4-1 5 3 2 7-3 5zM223 274l-7 1-3-3-2-5 2-4 7-2 3 2 3 7-3 4zM346 278l-11-6-11 3-3-8 7-6 11 7 7-3 4 1 2 8-6 4zM32 278l-7 1-4-2-3-3 2-7 5-3 8 3 2 7-3 4zM155 278l-7 1-5-5 5-9 8 2 2 7-3 4zM58 283l-8-2-2-4 2-5 8-3 6 5-6 9zM130 283l-7-1-3-5 6-8 4 0 5 5-5 9zM245 281l-7 1-4-5-1-3 5-6 9 2 1 7-3 4zM7 282l-7 2 0-14 9 4-2 8zM108 286l-7-1-3-4 3-7 4-2 8 5-5 9zM267 286l-8 1-3-6 3-6 8-3 6 5-6 9zM292 286l-7-1-2-4 2-5 7-4 6 5 0 4-6 5zM400 283l-3-6 3-5 0 11zM317 291l-9-3-1-7 3-3 7 0 3 3-3 10zM382 290l-9-5 0-4 5-5 8 1 2 4 0 4-6 5zM187 297l-3 0-5-5 0-7 5-4 3 1 5 6-5 9zM209 290l-4 1-5-3-2-3 4-7 9 3-2 9zM360 295l-9-3 2-10 7-1 5 4 0 3-5 7zM40 299l-4-1-4-6 8-8 3 1 5 7-1 3-7 4zM166 300l-4-1-5-7 5-9 5 2 4 7-5 8zM227 298l-4 1-5-4 0-7 5-4 8 4-4 10zM335 299l-7-2-1-5 8-8 6 4 1 4-7 7zM18 301l-7-1-2-5 3-7 6-2 6 6-6 9zM68 301l-9-2-1-4 3-6 7-1 5 4-5 9zM97 299l-3 3-8-1-2-9 2-3 8-1 4 4-1 7zM144 300l-9-5 1-7 5-2 3 0 6 6-6 8zM123 303l-11 2-4-6 4-6 7-2 6 4-2 8zM249 304l-8 1-4-6 8-9 6 2 1 3-3 9zM267 312l-8-1-1-8 16-12 7-1 3 5-2 4-8 4-7 9zM400 305l-7 0-3-2-2-4 5-7 7 0 0 13zM0 300l0-5 0 5zM303 305l-10-2-2-4 4-6 10 2 2 4-4 6zM209 310l-11 1-2-8 6-5 7 2 3 6-3 4zM375 311l-7-1-3-4 2-7 4-2 7 2 2 4-5 8zM353 315l-7 2-4-3-1-4 1-5 8-3 3 1 3 7-3 5zM32 320l-7-1-3-5 3-8 4-1 7 5 1 4-5 6zM54 318l-7-1-3-3 2-8 4-2 4 0 5 6-5 8zM79 319l-7-1-3-4 0-4 7-5 8 5 0 4-5 5zM137 319l-7-2-2-3 5-9 4 0 4 5-4 9zM162 318l-3 2-8-1-2-5 2-7 8-1 3 3 2 5-2 4zM184 319l-7 0-5-5 5-9 7 0 4 5 1 4-5 5zM11 322l-7 1-3-2-1-7 4-5 7 0 3 5-3 8zM101 323l-7-1-3-5 6-9 9 6 0 3-5 6zM227 322l-8-5 1-7 3-3 8 1 3 6-1 3-6 5zM288 321l-7 0-3-4 3-8 9 1 2 7-4 4zM332 322l-4 2-6-3-2-7 4-7 10 7-2 8zM310 325l-7 0-4-4 4-8 8 1 2 7-3 4zM393 325l-7 2-4-2-2-4 2-6 7-3 4 2 2 7-2 4zM123 329l-8-1-3-4 3-8 9 1 2 7-3 5zM249 329l-8-4-1-4 5-7 4 0 6 3 0 4-6 8zM213 333l-8 0-3-2-3-7 3-3 3-2 8 3 2 6-2 5zM364 332l-7-4-1-4 4-5 8-1 4 6-8 8zM61 336l-5-8 5-6 4 0 5 6-5 7-4 1zM274 335l-7 0-4-3 0-8 4-3 8 3 2 8-3 3zM22 341l-8-2-1-4 5-8 4-1 5 6-5 9zM47 342l-7-2-4-5-1-3 5-7 3 0 6 7 1 7-3 3zM86 340l-7-1-2-4 1-7 5-2 7 6-4 8zM148 340l-7 1-5-6 1-7 4-3 8 3 1 7-2 5zM169 341l-7 1-4-7 4-7 4-2 6 6-3 9zM191 340l-7 0-4-5 4-8 8 1 2 7-3 5zM339 340l-4-2-2-6 6-7 7 1 2 6-1 3-8 5zM4 344l-4 1-1-3 1-12 5 5-1 9zM108 344l-7 1-3-3-1-7 4-4 4 0 5 4-2 9zM231 344l-8-2-1-7 9-6 7 6 0 4-7 5zM295 344l-9-5 2-10 7 1 5 5-5 9zM317 345l-7-1-3-5 3-5 7-4 6 5-6 10zM400 345l-6-6 6-9 0 15zM382 348l-7-1-4-5 1-3 6-5 8 5-4 9zM130 348l-7 1-4-2 0-8 4-3 7 2 2 4-2 6zM256 350l-10-4 3-9 7 0 5 5-5 8zM72 354l-7 0-5-4 5-9 10 5-3 8zM216 354l-14 1-6-5 1-4 5-3 11 1 5 6-2 4zM353 354l-6-4 1-4 5-6 7 0 3 6-1 4-9 4zM32 359l-8-6 5-8 9 5 0 3-6 6zM281 357l-7 0-4-4 0-7 4-3 7 2 4 5 0 3-4 4zM94 361l-8 1-3-4-1-5 4-5 8 1 2 4-2 8zM159 362l-9-2-4-7 3-3 6-2 4 2 3 7-3 5zM180 361l-8-4 0-7 5-3 7 1 3 5-1 4-6 4zM328 361l-7-4 0-4 7-6 7 0 3 6-2 4-8 4zM14 369l-4-1-5-8 1-7 5-3 5 3 3 7-5 9zM50 368l-6-8 2-7 4-2 5 2 2 7-3 7-4 1zM241 364l-3 2-7-3-3-6 2-4 4-2 8 2 2 7-3 4zM310 365l-4 2-7-2-4-8 1-4 7-2 5 2 4 7-2 5zM396 365l-7 0-3-5 3-8 7 0 4 4-4 9zM112 369l-5-1-3-8 4-6 4-1 6 7 0 4-6 5zM133 369l-3 0-4-5 2-7 5-3 6 3 1 3-7 9zM371 369l-7-1-2-4 3-7 6-3 6 6-6 9zM267 368l-4 3-7-1-4-6 1-4 10-2 5 6-1 4zM76 375l-8 1-5-5 5-8 8 1 3 4-3 7zM191 379l-5-4 0-4 5-7 7-1 5 5 0 3-5 5-7 3zM346 375l-7-4 0-3 7-8 4 1 4 7-8 7zM36 381l-4 0-6-6 3-9 7 1 4 4-4 10zM173 381l-10-3-1-7 4-3 7 0 3 3 2 4-5 6zM223 381l-7-1-4-5 1-7 3-3 11 6 0 7-4 3zM285 379l-9-4 1-7 4-3 7 1 3 5 0 4-6 4zM97 383l-7 0-4-5 4-8 7 0 5 5 0 3-5 5zM148 384l-7-1-3-5 3-5 7-3 6 5-6 9zM324 384l-8-6 1-7 4-2 7 1 3 5-7 9zM386 385l-8-2-2-5 6-7 4 1 4 6-4 7zM0 386l0-15 6 4 1 3-7 8zM245 388l-7-2-2-4 0-4 5-5 7 2 3 3 0 4-6 6zM400 385l-4-7 4-6 0 13zM54 392l-7-1-3-5 4-8 6-2 5 6-5 10zM123 389l-8 2-5-5 5-9 8-1 4 2 0 8-4 3zM270 389l-7 3-5-6 0-4 9-5 4 5-1 7zM306 392l-3 1-6-4-1-7 3-5 7 1 3 4-3 10zM368 390l-8 2-5-6 5-9 4 0 6 5-2 8zM22 394l-8-1-2-7 2-5 8-1 3 5-3 9zM76 397l-8 1-3-5 7-9 7 1 2 4-5 8zM202 400l-5-4 0-7 8-6 5 3 1 7-6 7-3 0zM342 398l-3 0-5-5 1-7 4-3 7 2 2 4-6 9zM162 400l-7 0-3-4 3-8 7-1 3 2 1 7-4 4zM184 400l-9 0-1-4 6-10 4 0 4 7-4 7zM231 401l-12-1 0-7 4-4 8 1 3 6-3 5zM285 400l-7 0-3-4 0-3 6-6 4 0 5 6-5 7zM101 401l-13-1 0-4 6-5 7 1 3 4-3 5zM144 400l-11 1-3-1 0-4 7-6 7 6 0 4zM324 401l-12-1 2-4 7-4 6 4 1 4-4 1zM386 401l-13-1 2-4 7-4 7 4 0 4-3 1zM7 401l-8-1 1-7 9 3 2 4-4 1zM40 401l-13-1 9-6 4 2 0 5zM259 400l-17 0 7-5 8 1 2 4zM400 401l-2-5 2-2 0 7zM119 400l-4 0 4 0zM360 400l-6 0 6 0z" fill-rule="evenodd"/>
<clipPath id="c3e"><rect x="0" y="0" width="400.0" height="400.0"/></clipPath>
<path id="h3f" d="M25 14l-8-1-4-5 2-8 10 0 3 4-3 10zM173 18l-6-1-2-9 8-7 8 0 3 7-11 10zM211 10l-11-2-1-8 16 0-4 10zM240 5l-8 1-4-6 16 0-4 5zM269 1l-4 2-6-3 10 1zM295 1l-6-1 6 1zM84 17l-12 2-6-6 0-5 6-4 8 1 5 3-1 9zM371 20l-9-2-3-5 3-10 9 1 3 4 1 8-4 4zM400 18l-8-1-4-4 4-11 8 0 0 16zM0 14l0-7 0 7zM114 22l-9-4-2-5 6-7 9 2 3 5 0 4-7 5zM143 22l-8-4-2-5 10-9 4 2 4 7-8 9zM312 26l-5-1-5-8 5-9 5-1 4 2 3 8-7 9zM345 23l-8 2-4-4 0-11 4-3 8 4 2 6-2 6zM51 28l-9 0-4-3 0-8 13-4 4 8-4 7zM257 28l-12-3-2-4 5-7 9 0 3 3 1 4-4 7zM286 27l-8 0-4-6 4-10 8 1 4 5-4 10zM227 35l-8 3-4-4 0-9 4-5 10 1 1 8-3 6zM17 41l-9-2-4-5 4-9 9 0 5 4-1 8-4 4zM189 39l-6-1-1-9 7-6 9 0 3 6-2 5-10 5zM101 45l-8-2-5-5 0-6 5-5 4 0 7 7-3 11zM160 45l-11-3 1-8 6-4 10 4 0 4-6 7zM392 46l-10-4-2-8 3-5 9 1 4 4 0 8-4 4zM72 51l-9-2-3-7 3-8 4-1 5 1 5 8-5 9zM131 48l-9 0-4-4 0-6 4-5 9 0 4 5-4 10zM362 46l-8 1-4-5 4-10 11 2 1 8-4 4zM278 51l-4 3-9-3-2-5 2-7 9-1 4 4 0 9zM303 52l-10-1-2-9 4-5 8 0 4 5-4 10zM328 51l-4 0-5-9 5-7 9 1 3 6 0 4-8 5zM42 55l-12-4 4-10 8-1 6 6-6 9zM248 52l-8 1-4-2 1-9 7-4 4 2 4 6-4 6zM206 63l-4 0-6-8 2-4 8-5 8 5 0 4-8 8zM177 68l-4 1-6-6 2-8 8-5 4 2 2 7-6 9zM4 68l-4-1-1-8 1-7 4 0 8 3 1 4-9 9zM379 70l-12-3-1-4 5-8 8 0 4 4 1 4-5 7zM93 73l-5 2-7-3-1-9 4-5 12 1 1 8-4 6zM152 73l-9 0-5-6 1-6 4-4 4 0 7 6-2 10zM236 72l-11 0-1-9 3-4 9 1 2 7-2 5zM349 74l-4 1-7-3-1-9 4-4 8 0 4 4-4 11zM400 63l0-7 0 7zM63 77l-8 2-4-3-1-9 5-5 8 1 3 4-3 10zM122 77l-8-1-3-4 0-9 3-3 8 1 4 6-4 10zM265 77l-4 2-8-3-2-9 6-4 4 0 5 4-1 10zM291 80l-5 1-6-5 0-9 6-4 5 1 4 8-4 8zM320 78l-11-2-1-9 4-5 8 0 4 5-4 11zM29 80l-8-4-1-4 5-7 9 2 3 5-1 4-7 4zM198 85l-9 2-4-3 1-8 3-3 9 0 3 7-3 5zM223 93l-4 2-6-2-3-9 3-4 6-2 4 3 0 12zM392 93l-5-1-2-8 2-5 9-3 4 4 0 7-8 6zM109 97l-4 3-8-1-3-11 3-3 8-1 5 4-1 9zM173 102l-12-5-3-9 3-4 7-1 6 5 2 9-3 5zM371 95l-13-1-2-10 6-3 9 3 2 4-2 7zM17 103l-9-1-2-5 2-9 5-2 8 7-4 10zM76 103l-9 0-4-6 9-11 4 1 5 6-5 10zM139 100l-11-3-2-4 5-8 8 0 4 3 0 9-4 3zM248 101l-6 0-5-4 3-10 10 1 2 9-4 4zM337 101l-12-4 3-10 9-1 4 4 1 7-5 4zM42 106l-4-1-4-8 8-8 4 0 5 8-9 9zM278 108l-9-2-3-5 3-11 9 1 4 6-4 11zM307 106l-7-1-5-4 4-11 11 3 2 8-5 5zM202 115l-10-6-2-4 4-6 8 0 6 6 0 4-6 6zM122 124l-8-1-4-5 4-9 8-1 6 6 0 4-6 6zM156 124l-9 0-4-5 0-5 4-5 8 0 4 5-3 10zM232 123l-5 1-7-6 3-11 9 2 3 5-3 9zM366 123l-17-5-2-9 7-1 21 6 0 4-9 5zM400 125l-11-7 0-9 3-2 8 1 0 17zM0 123l0-12 3 7-3 5zM93 127l-9-1-4-4 4-10 12 2 1 8-4 5zM257 127l-10-5 0-4 6-6 8 2 2 4-6 9zM328 129l-8-2-4-5-1-4 5-5 8 1 5 4 0 8-5 3zM29 129l-11-3-2-4 5-7 12 3 2 4-6 7zM59 131l-10-5 1-8 5-3 8 1 3 6-7 9zM185 131l-4 2-8-2-2-9 2-4 8-2 4 4 3 6-3 5zM299 133l-12-2-3-9 2-4 9-1 7 5 1 4-4 7zM215 142l-13-3 0-10 9-2 5 4 2 8-3 3zM114 149l-12-2-3-4 2-6 4-3 9 3 3 6-3 6zM139 146l-10-3 2-11 8 0 3 3 2 4-5 7zM269 148l-4-1-4-8 8-7 8 7-1 4-7 5zM358 145l-13 0-4-6 1-4 7-3 8 3 3 4-2 6zM383 149l-10-6 2-8 4-3 8 2 3 5-3 8-4 2zM8 152l-8-3 0-11 4-2 9 2 3 5-1 4-7 5zM84 152l-14 0-5-5 1-4 14-5 7 5 1 4-4 5zM164 162l-7-2-3-8 1-9 5-4 4 1 4 7-4 15zM244 153l-8 1-4-5-1-6 5-6 8 1 4 5-4 10zM320 153l-10-1-2-9 4-4 8 0 4 4 1 4-5 6zM46 152l-12 2-5-7 5-6 8-1 6 3 2 4-4 5zM189 161l-8-5 4-12 9 3 2 5-2 7-5 2zM291 165l-5-1-4-8 1-4 8-4 7 8-7 9zM215 170l-9-1-2-5 2-5 9-5 7 6-7 10zM341 169l-4 1-7-6 3-8 8-1 4 5-4 9zM135 173l-9-4-2-5 7-7 8 1 4 6-1 4-7 5zM265 174l-8 0-4-6 4-9 8 0 4 5-4 10zM366 173l-8-5-1-4 5-7 9 1 3 6-8 9zM396 177l-9-3-2-6 7-8 8 2 0 12-4 3zM21 178l-8-1-3-4 7-11 8 2 3 4-7 10zM51 179l-9-2-2-4 2-5 9-4 6 4-6 11zM109 177l-8 0-4-4 0-9 8-2 5 2 3 9-4 4zM80 180l-10-3-2-4 4-7 11 2 2 5-5 7zM320 181l-8 2-5-2-3-8 3-5 5-1 8 4 2 6-2 4zM185 190l-4-1-6-8 2-8 4-2 9 6 0 8-5 5zM236 186l-6-1-3-8 9-9 4 2 3 7-7 9zM152 194l-6-5-1-4 2-5 9-4 4 2 2 7-2 5-8 4zM286 190l-8 0-4-5 4-8 8-1 4 5-4 9zM215 194l-9 3-4-3 0-9 9-4 5 4-1 9zM345 194l-7-5-1-4 8-6 10 6-1 5-9 4zM131 198l-9 2-4-2-2-4 2-8 8-2 5 2 2 8-2 4zM379 200l-8-2-4-4 4-9 8-1 5 5-1 8-4 3zM4 203l-5-1 1-15 8 2 2 5-6 9zM38 200l-11-2-2-4 4-7 9 0 3 2 1 5-4 6zM63 203l-8-5 0-4 8-6 9 6-1 4-8 5zM101 203l-4 2-8-3-3-8 2-4 9-2 4 4 0 11zM257 204l-8-2-3-4 4-9 7-2 6 7-6 10zM400 204l-4-6 4-9 0 15zM299 208l-4-3-3-7 3-5 4-1 7 6 0 4-7 6zM328 209l-4 1-7-4-1-4 4-7 4-1 7 4-3 11zM177 212l-9 2-4-3 1-9 3-3 9 1 3 6-3 6zM232 215l-9 1-4-5 4-10 11 1 1 9-3 4zM147 222l-8-1-4-6 8-9 9 4 1 5-6 7zM278 219l-9-4 0-9 5-2 8 2 2 5-6 8zM379 224l-8 1-9-6-13-2-4-6 4-7 5 0 12 9 13 0 3 6-3 5zM25 221l-4 2-7-4-1-4 4-7 10 3-2 10zM51 226l-9-2-3-5 7-9 9 5 1 4-5 7zM80 224l-8-1-3-4 3-7 4-2 9 5 1 4-6 5zM202 224l-8 2-4-3-1-8 5-7 10 3 1 8-3 5zM122 224l-4 2-9-2-4-5 1-4 12-3 6 7-2 5zM4 232l-4 3 0-16 4 4 0 9zM257 232l-9 2-4-3-2-4 2-7 9-3 4 3 2 7-2 5zM312 234l-5 1-8-3-2-5 2-7 4-2 9 4 2 5-2 7zM400 234l-4-2-3-9 7-6 0 17zM337 232l-11 0-2-5 4-7 5-1 5 4-1 9zM177 240l-4 3-8-3-3-4 2-8 4-2 9 3 2 7-2 4zM97 246l-9 0-3-6 3-8 5-3 7 7-3 10zM227 241l-12 1-4-6 2-4 6-5 8 3 3 6-3 5zM278 245l-9-5 0-5 9-6 9 7-1 4-8 5zM38 246l-13 1-7-7 7-7 9 1 6 6-2 6zM63 249l-8-5 0-4 8-7 9 7-1 4-8 5zM143 249l-8-9 8-7 8 7-4 8-4 1zM358 246l-4 2-7-4-1-8 3-3 11 3-2 10zM122 250l-10-2 0-8 6-4 7 4-3 10zM379 254l-5-1-3-9 8-7 7 3 1 4-8 10zM189 270l-5-5 0-8 5-13 9-2 2 6-3 13-3 8-5 1zM4 262l-4 2 0-17 7 6-3 9zM248 262l-4 0-7-5 3-10 8-1 4 2 1 9-5 5zM303 264l-8-3-3-4 3-8 4-2 9 6-1 8-4 3zM328 262l-4-1-5-8 5-8 9 2 2 6 0 4-7 5zM400 264l-5-7 5-8 0 15zM55 272l-9 1-3-4-1-8 4-4 5-1 6 5-2 11zM80 273l-8-3-2-5 6-9 4 0 6 5-2 8-4 4zM164 272l-4-1-6-6 3-8 7-3 7 7-3 8-4 3zM223 270l-8 1-4-6 4-9 8 1 3 4-3 9zM274 272l-9-2-2-5 6-9 11 5 0 4-6 7zM25 274l-9-5 1-7 4-3 4 0 6 6-6 9zM105 274l-4-1-4-8 8-7 4 1 4 6-4 8-4 1zM135 275l-5-1-4-9 9-6 7 6 0 4-7 6zM349 274l-6-5 0-4 6-6 9 1 3 5-2 4-10 5zM379 282l-4-1-4-7 1-5 7-3 8 3 1 5-1 4-8 4zM8 292l-8 1 0-16 11 5-3 10zM240 292l-8-2-3-8 7-6 8-1 4 7-8 10zM295 291l-9-4-1-5 6-7 4-1 7 8-7 9zM324 292l-5-1-5-9 6-8 8 2 5 6-1 4-8 6zM63 299l-4-1-5-7 5-8 4-1 4 2 4 7-8 8zM97 296l-9 2-4-3 0-10 4-3 9 3 2 6-2 5zM152 298l-11-3 0-9 6-4 9 4 1 5-5 7zM181 296l-4 2-7-3-1-9 4-5 8 1 3 4-3 10zM211 292l-9 3-4-3 0-10 4-3 9 2 2 5-2 6zM400 288l0-7 0 7zM34 300l-9-4-1-5 10-8 6 3 2 5-8 9zM118 299l-7-8 3-6 8-2 4 3 1 9-9 4zM274 297l-5 2-8-3-1-10 5-3 8 3 3 5-2 6zM358 300l-8-1-4-4 3-9 9-1 7 6-1 4-6 5zM392 309l-5 1-8-3-2-4 2-7 4-2 9 3 2 6-2 6zM227 313l-8 2-4-3 0-9 4-3 8 2 0 11zM307 317l-10-1-2-9 4-5 8-1 4 2 1 9-5 5zM21 320l-13 0-4-4 0-7 4-3 10 1 6 9-3 4zM109 323l-10-3-1-8 3-4 4-1 8 5 1 4-5 7zM168 321l-8 2-4-3 0-10 4-3 8 2 3 7-3 5zM194 322l-10-6 0-4 5-7 9 1 3 6-3 7-4 3zM244 326l-4-2 0-8 2-9 6-4 7 4 0 9-11 10zM337 320l-7 0-4-4 2-11 9-1 3 3 1 9-4 4zM55 320l-4 3-9-1-4-6 1-4 12-4 5 8-1 4zM76 324l-8-8 8-8 4 0 5 8-5 8-4 0zM135 324l-4-1-5-7 5-8 4 0 7 8-7 8zM278 325l-9 0-2-5 7-11 8 3 2 4-6 9zM366 326l-9-2-3-4 4-8 8 0 5 4 1 4-6 6zM396 338l-9-1-3-4 3-10 11 1 2 9-4 5zM215 340l-11-3 2-10 9-2 5 3 1 5-6 7zM316 346l-8-9 4-8 4-2 4 2 4 8-4 8-4 1zM101 346l-4 3-9-3-2-5 2-7 9-1 4 4 0 9zM181 346l-10-5 2-8 4-3 8 2 3 5-7 9zM286 350l-4-2-2-7 2-5 9-4 4 2 1 7-5 8-5 1zM349 347l-8 2-4-4-1-8 5-5 10 5-2 10zM17 347l-9 2-3-4 1-8 11-3 3 7-3 6zM42 350l-4 0-6-5 2-10 4-2 7 4 1 8-4 5zM67 351l-5-2-4-8 5-7 9 2 2 5-2 8-5 2zM122 350l-8-9 4-7 4-1 8 8-4 8-4 1zM156 347l-9 2-4-3 0-10 4-3 9 2 2 6-2 6zM265 350l-8 3-4-4-2-8 3-4 7-2 4 3 3 7-3 5zM375 351l-11-2-1-4 3-7 5-1 6 4-2 10zM236 359l-9 2-5-7 10-11 7 6-3 10zM206 363l-8 2-4-1-2-10 6-4 8 2 3 6-3 5zM400 367l-13 3-4-8 4-7 9-2 4 3 0 11zM173 371l-9 0-4-5 4-9 9-1 4 5 0 5-4 5zM307 373l-8-1-3-6 3-8 4-2 4 0 5 6-5 11zM333 375l-5-1-5-8 5-9 9 3 3 6-7 9zM29 372l-4 3-8-3-2-10 10-3 6 7-2 6zM55 375l-11-4 1-9 6-3 8 3 2 4-6 9zM88 372l-8 1-4-2 0-10 4-3 8 2 3 6-3 6zM114 376l-11-5 1-9 5-3 5 0 5 7-5 10zM143 376l-8-1-3-4 3-11 8 0 5 6-5 10zM282 377l-8 1-4-3-1-9 5-5 4 0 6 5-2 11zM362 376l-10-5 1-9 5-2 10 6 0 5-6 5zM253 381l-9 0-4-6 8-10 9 6-4 10zM219 388l-8-5-1-4 9-8 4 1 4 7-8 9zM8 394l-8 0 0-15 12 4 1 4-5 7zM189 393l-5-1-4-9 9-7 9 7-9 10zM72 396l-5 1-5-5 1-9 4-2 5 0 5 6-5 9zM164 396l-12 2-2-11 6-4 8 1 3 8-3 4zM320 400l-4 0-6-8 6-9 8 3 2 6-2 6-4 2zM383 397l-8 0-5-5 5-10 8 0 4 5-4 10zM51 400l-13 0-7-8 1-5 10-1 9 10 0 4zM101 400l-10 0-3-4 5-11 9 2 2 9-3 4zM131 400l-10 0-3-4-1-4 5-7 9 1 4 5-4 9zM299 400l-14 0 1-11 9-2 4 5 0 8zM349 400l-6 0-5-4 3-10 8-1 5 3 1 8-6 4zM400 389l0-5 0 5zM269 401l-13-1 0-4 9-7 7 7 0 4-3 1zM244 400l-16 0 8-7 4 1 4 6zM211 400l-8 0 8 0z" fill-rule="evenodd"/>
<clipPath id="c3f"><rect x="0" y="0" width="400.0" height="400.0"/></clipPath>
<path id="h3g" d="M3 9l-3 2 0-9 18-2-15 9zM6 29l-6 2 0-8 13-6 18-13 16 1 8-5 11 0-6 8-25 5-29 16zM3 51l-3 0 0-8 19-7 19-11 25-5 9-7 6-13 9 0-8 18-8 7-30 8-38 18zM6 70l-6 2 0-9 47-19 19-4 13-6 9-9 11-25 8 0-12 28-7 10-17 9-24 6-41 17zM192 155l-31-12-48-6-37-24-10-3-35 13-7 6-11 16-13 4 0-8 10-6 12-16 47-18 51 29 42 5 27 10 6 0 5-3 3-13-1-9-4-7-25-7-50-8-32-22-1-7 8 0 22 18 15 6 45 6 12 5 8-3 0-3-5-6-6-3-60-10-18-13-10-12-7 2-9 8-28 7-51 20-6 1 0-9 54-20 25-6 19-11 22-40 24-6 17 0 47 3 75 22 15 32 4 5 44 27 13 1 25-6 16 0 0 8-13 0-31 7-6 0-54-30-5-6-10-25-7-8-72-20-41-4-32 5-8 8-12 25 1 10 13 12 12 7 60 8 9 7-1 13 8 22 0 16-6 11-13 5zM293 10l-10 2-46-12 31 0 15 3 16-3 17 0-7 5-16 5zM365 57l-9 1-10-4-15-10-9-9-3-10-5-6 1-3 18-16 13 0-18 15-3 7 8 13 7 6 19 8 41-5 0 8-35 5zM378 35l-22 2-14-9-3-6 1-3 16-12 19 1 25-5 0 9-3 1-41 3-6 3 0 6 6 4 44-5 0 8-22 3zM268 252l-4 0-2-6 33-29 14-8 28-6 7-5 14-18 6-26-3-9-18-27-53-30-18-3 4-9-8-19-4-7-9-6-28-5-25-9-38-4-22 1-10 11 0 9 10 7 56 8 16 6 6 4 7 38 5 10-2 25-3 9-17 16-24 5-29-12-34-4-13 6-11 11-4 10-7 3-38-21-9-1-4-3 13-16 10-4 9 2 29 17 8-2 7-9 16-2 28 4 26 11 9 2 16-5 11-11 3-9 1-19-10-44-5-5-10-3-53-7-11-4-11-10-1-6 6-16 6-6 23-4 41 4 67 17 8 8 10 29 70 37 3 4 1 9 10 6-1 10 3 5 6 1 25-6 0 8-22 4-6 3-7 26-19 25-40 12-38 32zM369 76l-19 1-36-20-8-11-11-24 4-3 7 1 1 11 10 16 33 21 9 2 41-6 0 8-31 4zM261 93l-6-2-1-15-4-10-4-5-7-2-12 1-32-11-34-4-13 1-4-5 1-3 6-2 38 4 19 4 19 7 22 3 9 9 4 16 6 6 0 3-7 5zM167 244l-2-5 1-12-7-16-8-8-9-5-12 4-7 10-13 12-22 5-18-2-20-14-19-8-12-1-19 4 0-6 19-6 12 0 22 9 19 13 16 2 19-4 21-24 11-2 15 4 7 5 10 18 0 10 5 4 41-7 29 8 6-2 31-29 22-12 19-4 10-5 9-19-1-10-8-12-10-8-10-2-4-9-23-12-13 0-31 10-7-20-1-13-4-9 2-7 6 3 3 4 3 25 4 6 28-8 10 1 22 10 9 9 16 8 6 5 11 19 0 10-5 15-12 15-25 6-13 6-19 13-25 25-9-1-29-8-38 5-9 7zM189 134l-13-7-56-9-28-17-13-11-7-2-18 5-38 16-11 8 0 6-5 6 0-10 3-2-3-13 9-1 48-20 19-4 6 2 9 9 29 18 69 14 5 7-5 5zM369 117l-10-4 2-3 30-7 9 0 0 6-31 8zM246 142l-3 1-3-4 6-10 31-9 10 1 23 11-2 3-6 2-19-8-9-1-19 6-9 8zM6 168l-6 1 0-9 19-5 16-20 28-12 9 2 33 20-1 4-6 0-26-15-12-2-19 9-10 10-6 11-19 6zM384 133l-6 2-9-3 6-6 25-5 0 9-16 3zM243 220l-7 0-2-6 12-6 23-22 18-8 6-6 28-8 2-3-1-7-7-2-13 6-19-9-9 0-25 12-32 29-22 5-9-3 1-3 5-4 13 0 9-4 14-11 15-16 28-13 12 0 16 8 7 0 12-6 9 5 4 13-3 9-7 4-22 5-25 14-31 27zM95 176l1-3-4-6-10-3-16-10-9-1-7 4 4 8 12 2 16 11 6 1 7-3zM186 217l-6-3-3-12-10-13-13-7-12-3-13-1-6 3-19 23-16 5-10-1-21-14-22-9-13-1-22 5-1-6 1-3 31-5 28 11 20 12 9 3 13-6 19-23 15-2 18 3 15 7 18 12-5 10 5 4 6 2 22-4 10-4 31-29 19-10 9-1 3 4-3 4-22 9-37 34-38 6zM381 177l-2-4 2-6 19-6 0 9-9 2-10 5zM283 354l-22-5-6-5-41-9-22 0-9 4-2-8 8-4 25-1 25 8 8-3 0-10 4-9-2-5-29-12-15-1-35 5-8 7-15 25-14 6-10-3-7-16 11-9 15-23 15-14 60-7 29 9 12 8 7 1 3 7-7 4-9-8-16-7-22-5-50 6-8 3-8 8-12 21-8 6-2 6 6 5 7-2 15-25 10-9 41-7 12 0 22 7 18 9 2 7-2 12-7 13 5 8 3-1 6-4 7-31 12-23 35-34 10-4 18-2 6-4 5-9-2-6 1-7 22-32 3-3 10 3 9-4 0 9-16 3-16 21-4 10-1 15-4 6-13 7-15 0-7 2-35 36-7 12-7 29-5 9 4 9 10-9 6-26 9-19 32-31 6-2 3 3-3 6-32 31-7 13-7 31-8 8zM293 372l-16 2-63-19-38-3-4-2 0-4 8-6 9 8 22-2 66 20 13-2 12-14 6-29 6-12 32-32 5-12 18-13 4-6 3-22 5-10 8-9 11-4 0 8-8 5-7 10-7 30-17 14-13 19-26 25-6 12-7 32-16 16zM107 309l-25-3-28 2-4-2-1-7 5-2 50 3 8-4 10-19 20-22 3-28-10-9 0-4 7-4 5 4 6 16-3 31-19 19-11 19-13 10zM110 246l-44 1-9-4-19-15-13-4-16 1-9 8 0-12 19-5 12 1 38 22 29 1 12-5 4 4-4 7zM274 275l-3 1-25-15-29-8-53 7-4-5 7-9 9 6 38-8 39 11 12 9 6 1 41-35 31-9 5 3-4 6-4 2-16 2-12 5-38 36zM255 400l-27 0-17-5-47-5-64 10 0-6-31-32-4-22 4-3 19 0 13 18 16 13 50-7 13 3 34 3 60 18 16 1 16-9 15-18 6-31 7-13 21-19 14-19 20-16 6-31 5-7 0 25-3 10 3 15-9-2-13 8-19 26-17 13-6 10-4 9-1 16 2 9-9 5-8 11-20 14-9 3-10-1-60-18-50-6-54 7-20-18-11-15-6 0-3 6 9 13 25 27 60-8 47 5 43 13-2 0zM104 288l-47-2-10 2-19-18-19-12-2-6 3-13 6-4 12 1 26 19 9 4 44 1 10-4 8-10 0-7-3-9 4-5 3-1 4 6-2 22-14 14-7 3-9-2-44 0-32-23-6-1-5 6 5 6 9 4 22 19 44 2 13-2 2 5-5 5zM85 401l-7-1-6-8-16-11-6-12-7-41-8-12-11-23-24-18 0-8 19 10 13 13 9 22 9 10 4 1 12-5 19-1 16 3 5 4 11 19 9 5 22-4 6-3 15-26 10-6 35-3 19 5 6 4 0 3-6 3-9-5-13-2-31 3-5 4-10 16-2 9-18 7-19 4-12-4-15-22-5-4-37-1-5 8 7 35 4 6 22 19 2 6-2 1zM350 400l-13 0 19-11 13 3 18-2 7-2 2-4-4-28-17-33-10 1-14 16 1 10 7 9 6 16-6 8-4-5-1-13-8-9-3-10 2-12 5-7 19-15 18-25 10-2 3 1 0 9-6-2-6 3-12 19 2 5 9 8 13 27 0 39-16 4-25 0-9 2zM47 395l-9 1-3-2-9-51-16-34-10-11 0-10 16 14 16 32 8 47 12 10-5 4zM400 327l-10-15 4-5 6 2 0 18zM19 400l-10 0 5-6 0-7-6-34-8-19 0-18 16 34 8 44-2 5-3 1zM381 382l-3 0-3-4-1-13-11-22 2-6 7 1 9 21 4 16-4 7zM318 400l-12 0 27-22 1-13 6 1 4 9-2 6-24 19zM0 392l0-21 2 13-2 8zM63 400l-6 0 3-2 3 2z" fill-rule="evenodd"/>
<clipPath id="c3g"><rect x="0" y="0" width="400.0" height="400.0"/></clipPath>
<path id="h3h" d="M0 58l0-21 9-16-2-21 21 0-5 17 0 21-23 20zM46 36l-4 0-6-7 0-12 6-17 14 0-4 8 4 17-10 11zM84 21l-8 3-7-3-3-8 6-11 10-2 6 4 2 9-6 8zM114 17l-11-4-1-13 22 0-2 12-8 5zM147 9l-8-4-3-5 25 0-5 6-9 3zM185 2l-11-2 15 0-4 2zM206 32l-12-3-4-8 3-8 13-9 1-4 17 0-13 8 1 13-6 11zM236 32l-9-1-3-6 3-12 15-13 21 0-14 13-6 12-7 7zM253 61l-9 1-4-4-2-7 3-9 16-8 4-15 21-19 20 0-28 31-13 7-1 13-7 10zM312 222l-5 1-9-8-6-30-36-50-4-21 1-34 4-10 14-7 3-17 40-38 1-8 13-1 8 1-14 8-1 13-6 8-29 32-12 6-5 30 0 21 5 15 36 52 6 26-4 11zM387 31l-8-2-1-16 8-13 10 0 3 21-12 10zM341 215l-8 1-7-5 0-17-9-26-30-37-4-34 5-21 34-34 23-34 17-8 5 8-2 9-16 10-12 22-31 31-7 17 1 17 7 21 16 12 15 26 2 16 7 17-6 9zM173 35l-9 0-7-10 3-8 8-6 9 3 3 7-2 8-5 6zM139 38l-8 0-7-9 2-9 9-4 8 2 4 7-1 9-7 4zM105 47l-8 0-8-5 0-8 8-9 8 0 7 9 0 8-7 5zM396 233l-13-1-25-13-1-8 4-13-9-13 1-17-11-12-6-17-12-5-7-8-4-21 3-17 34-33 8-17 13-7 8 3-3 12-14 15-8 16-19 16-6 16 11 22 17 8 3 13-2 12 12 13 3 8-5 17 11 10 19 7 2 8-4 6zM67 60l-7-5-2-9 5-10 9-2 6 4 3 8-5 10-9 4zM253 229l-9 0-4-3-6-24-45-63 5-42-6-25-13-17 0-9 6-6 8 1 5 4 0 18 14 13 1 63 46 72 2 12-4 6zM219 65l-8-4-5-10 2-9 7-4 8 2 4 6-2 13-6 6zM358 118l-9 2-4-4 0-15 17-10 9-19 19-26 10-6 0 22-17 25-14 10-11 21zM0 109l1-33 33-31 8-2 6 8-2 8-38 34-8 16zM143 122l-10-4 0-21-9-13-10-25-1-13 5-1 8 0 5 5 2 17 12 17 6 25-2 9-6 4zM219 222l-9-3-22-25-9-17-11-13-3-17-13-3-4-5 1-8 15-9 1-4-4-25-17-38 2-9 6-3 9 3 5 21 11 17 4 25-7 17-1 21 12 8 21 35 16 16 2 9-5 7zM101 82l-8 0-9-6-2-9 6-8 9 0 8 8 1 9-5 6zM8 148l-8 0 0-23 12-3 3-17 19-19 21-17 8-4 4 2 3 9-3 6-29 22-9 16-15 6 0 13-6 9zM282 237l-8 1-8-6 1-9 7-12-9-9-42-67-1-59 5-8 9 1 5 7-2 46 4 17 39 55-2 17 10 12-3 9-5 5zM59 131l-13-2-2-7 3-8 8-6 11-3 6-14 12-2 6 8-3 8-7 5-11-1-4 17-6 5zM387 173l-13-9-1-8 3-9-11-16 20-30 15-15 0 27-12 9-7 21 15 17-2 8-7 5zM114 116l-9-1-6-10 1-8 5-7 9 0 6 11 0 8-6 7zM93 141l-14-6-1-9 6-7 9 0 7 7 0 9-7 6zM198 242l-9-2-23-25-19-36-12-8-6-7 1-12-18-9-2-8 8-10 13 3 2 7-2 12 18 9 8 17 11 12 9 15 25 27 2 9-6 6zM400 145l-3-10 3-6 0 16zM38 159l-9-3-5-9 1-8 9-7 8 2 3 5-1 13-6 7zM76 163l-13-1-5-6-1-9 6-7 9 1 6 6 2 9-4 7zM177 257l-13-1-12-15-13-6-17-36-32-35 3-11 4-3 8 2 17 24 15 13 9 22 14 19 18 14 2 9-3 4zM25 199l-4 3-4-2-16-32 2-8 5-4 9 2 4 6 8 21-4 14zM51 187l-9-2-6-8 2-11 4-4 9 3 6 8 0 8-6 6zM114 261l-7-4-1-25-18-32-12-3-9-8-1-8 6-6 4-2 8 4 9 14 12 7 11 17 14 38-16 8zM400 205l-8 0-10-11 2-9 8-5 8 4 0 21zM0 201l0-10 0 10zM88 251l-12-5-13-29-17 0-8-6 0-9 4-5 9-3 16 14 15 7 12 25-6 11zM17 232l-9-4-3-9 4-8 12-7 8 15-4 8-8 5zM29 287l-16 1-3-2-1-8 12-13 3-17 9-12 9-8 9-1 5 5 2 8-18 13-5 25-6 9zM291 266l-5 3-7-4-3-4 1-8 5-6 17-7 13-16 16 7 17-6 10 7-1 8-5 3-8 2-13-3-21 8-16 16zM227 254l-8-1-7-9 2-8 9-8 9 4 4 8-2 8-7 6zM0 267l-1-23 1-5 4 0 8 5 0 9-12 14zM375 261l-9 1-7-5 2-13 5-3 13 1 4 6-2 9-6 4zM261 271l-4 1-12-11 0-13 8-8 8 3 5 10 0 8-5 10zM400 268l-6-15 6-12 0 27zM59 304l-8-2-7-7 8-34 7-10 4 0 7 6 1 8-6 13 1 21-7 5zM173 291l-9 2-6-2-6-12-17-9-8-13 4-4 12-2 7 6 6 13 20 4 3 8-6 9zM198 276l-9-3-5-8 3-8 11-6 10 10-2 8-8 7zM324 279l-8 3-9-4 2-13 32-9 16 5-2 8-6 5-16 0-9 5zM93 283l-9 1-5-10 3-9 6-6 9 1 6 5-1 9-9 9zM232 288l-9 0-6-6 1-13 9-6 9 4 3 7-2 8-5 6zM295 296l-9 2-8-7-2-9 6-7 9 0 8 7 0 9-4 5zM383 291l-14-5 0-8 10-8 17 1 0 11-13 9zM126 296l-8 3-8-4-2-9 6-10 8-1 10 7 0 9-6 5zM261 305l-8 2-8-4-1-4 4-13 9-8 4 1 6 7 0 9-6 10zM143 355l-8 2-5-3-3-9 4-6 29-15 10-17 24-21 4-3 9 3 3 5-2 8-19 14-24 28-22 14zM316 316l-9-3-3-6 2-8 6-5 8-2 13 3 16-13 11 4 0 9-6 8-9 2-12-5-8 12-9 4zM93 312l-9 1-11-10 4-8 11-7 11 11 0 8-6 5zM0 317l0-25 7 3 4 12-11 10zM147 318l-8 1-5-3-1-4 4-13 10-5 5 1 5 8-2 9-8 6zM400 315l-7-12 7-11 0 23zM34 320l-9 4-9-8 2-9 11-8 11 4 0 9-6 8zM164 380l-8 1-4-2-4-4 2-9 20-12 53-54 9-1 6 4-4 13-18 12-52 52zM379 325l-8 2-9-7 2-13 7-4 8 1 6 8-6 13zM282 329l-12-5-2-4 6-10 12-5 7 7 1 8-3 6-9 3zM118 333l-9-2-5-7 1-9 9-6 14 7 2 4-4 8-8 5zM59 337l-12 0-3-9 3-8 12-6 12 14-12 9zM349 337l-8 3-11-7 1-9 6-7 8-1 6 4 3 8-5 9zM189 401l-18-1 0-4 29-34 21-21 27-21 9-1 8 5-6 13-17 8-15 13-26 25-8 17-4 1zM0 345l0-22 6 14-6 8zM93 341l-13 3-8-16 8-5 8-1 7 6-2 13zM400 348l-8-3-5-8 3-9 10-6 0 26zM316 348l-9 0-7-7-1-8 4-6 9-2 10 8 0 8-6 7zM29 355l-8 2-7-8 1-12 10-6 12 10-2 8-6 6zM227 400l-20 0 4-8 37-35 30-18 13 6 0 9-3 4-23 6-23 19-15 17zM375 365l-9-1-7-10 0-9 7-7 9 2 6 9-1 9-5 7zM114 362l-9 4-8-3-3-9 3-7 8-4 9 2 4 9-4 8zM76 368l-25 0-5-2-2-8 7-8 25 1 5 7-5 10zM341 376l-8-5-6-9 3-8 7-5 8 3 6 10-2 9-8 5zM0 395l0-39 6 10-6 29zM312 381l-9-2-6-8 2-9 8-5 9 3 4 6-1 9-7 6zM396 400l-7 0 0-34 11-12 1 38-1 7-4 1zM25 400l-16 0 10-8-3-17 9-10 9 2 4 8-2 8-10 9-1 8zM131 389l-9 1-7-7 1-8 10-8 9 1 5 7-9 14zM97 394l-13 0-6-7 1-8 5-5 9-2 9 7 1 8-6 7zM299 401l-15-1 0-4-6-4-13 8-21 0 6-8 23-17 9-2 20 23 1 4-4 1zM366 400l-8-4-4-13 8-9 9-2 6 15-3 9-8 4zM59 401l-18-1 5-13 9-6 8 1 6 5-3 9-7 5zM337 401l-23-1 1-4 6-9 16-2 6 7-3 8-3 1zM160 400l-24 0 7-8 9-2 8 6 0 4zM118 400l-12 0 8-3 7 3-3 0z" fill-rule="evenodd"/>
<clipPath id="c3h"><rect x="0" y="0" width="400.0" height="400.0"/></clipPath>
</defs>
<g filter="url(#hma)"><rect x="15" y="13" width="383.0" height="384.0" fill="#000" fill-opacity="0"/><g transform="translate(15,13) scale(0.5)"><path d="M61 16l-7 2-6-1-16-8-24-9 28 0 18 7 10-2 7-5 16 0-10 9-16 7zM96 123l-6 2-16-2-5-4-2-7 2-19 5-9 13-5 12-9 16-7 10-10 3-1 6 3 7 9 10 8 19 10 6-1 6-4 6-16 0-6-4-7-30-30-10-7-19-8-10 2-12 14-16 13-23 12-7-2-2-3 5-7 14-4 13-8 20-20 38 0 11 6 35 36 7 13 1 9-3 10-9 13-4 4-7 2-9-2-23-11-13-12-9 0-7 6-12 5-16 10-8 7-3 10 3 6 4 3 8-3 8-14 26-12 19 11 26 10 9 2 7-1 17-18 15-27 13 1 22-8 19-9 13-12 22-35 13 0-10 13-23 35-21 14-42 14-16 24-19 18-6 2-9-1-28-10-15-8-9-2-10 2-6 5-10 17zM218 52l-3 0-7-13-37-39 15 0 29 33 9 5 29-9 13-11 11-18 11 0-12 22-10 11-26 12-12 1-10 6zM237 20l-6 1-7-1-18-20 13 0 9 8 6 2 6-2 8-8 12 0-10 13-13 7zM192 148l-25-5-36-14-12-2-4-2-1-6 5-4 6 0 38 16 20 6 9-2 23-20 19-25 38-15 26-16 9-11 17-29 17-19 15 0-20 19-25 42-6 6-27 17-38 15-19 24-22 22-7 3zM558 141l-7-3-1-3 9-13 6-29 2-19-5-16-11-12-30-14-21-15-10-4-51-2-38 2-23-7-9-6 19 0 19 3 29-3 55 3 11 3 24 17 32 16 9 8 6 11 4 19-11 58-2 4-6 2zM721 273l-16 0-57-19-42-17-52 5-32-2-48-32-9-2-20 1-9-3-36-34-9-6-26-5-12 0-10 3-19 9-6 6-3 6-12 52-4 6-7 5-52 4-9-1-10-8-10-26 9-13 11-32 6-9 13-6 12-17 7-7 32-15 36-20 6-1 54 9 36-3 41 2 36-6 7-7-2-6-5-5-24 8-12 1-38-2-35 3-39-6-13 0-3-3-1-3 6-6 5-1 13 5 28 3 39-2 45 2 6-1 10-7 6-1 16 5 7 6 1 7-3 9-4 7-4 2-42 8-45-2-32 3-54-7-10 3-54 28-10 8-5 8-1 7 4 16-6 19-7 13-1 13-3 4-6 0-4-4-1-3 9-17 10-32-1-6-7-3-3 1-5 8-8 26-9 16-1 10 3 9 7 8 6 2 26-3 16 1 6-3 5-5 2-6 13-55 29-16 19-5 45 7 4 5 6 9 15 10 13 14 23 4 12-3 45 31 10 5 32 0 29-2 16-4 48 20 58 18 12-1 32-13 3-8-3-4-3-1-9 1-23 9-13 1-50-16-36-15-12-10-9-16-12-10 2-6-1-7-3-5-7-2-13 6-13 1-9-3-13-10-16 0-6 3-6 7-2 6 1 10 7 10 25 15 16 2 23-1 16-4 6 3 2 4-5 5-29 2-29 0-15-7-26-19-2-7 3-26 4-6 4-3 29-5 6 2 10 10 10 2 19-4 5-8 0-13 9-52 0-13-3-12-8-16-10-11-38-18-13-10 16 0 41 19 11 12 10 17 4 13 1 16-12 71 11 26 18 25 9 8 19 10 58 19 16-1 26-10 6 1 13 10 1 11-2 7-12 8-32 11zM721 219l-16 1-45-14-22-11-13-13-14-25-4-12 10-68 0-13-4-16-5-13-17-22-8-8-11-5 22 0 21 28 7 14 5 32-10 67 3 13 11 20 9 9 11 8 22 9 26 8 9 2 10-1 22-7 13-6 7 3 6 6 0 12-6-6-10-3-29 11zM718 194l-19-1-36-12-15-11-10-14-5-11 0-10 5-39 5-19-1-13-9-35-20-29 12 0 16 21 5 11 8 42-6 16-5 42 0 9 4 10 6 10 10 8 32 13 13 2 10-2 10-2 12-7 5 1 3 3 0 6-4 3-13 2-13 6zM715 142l-7 1-16-3-6-5-2-6 4-29-1-13-4-8-14-15-11-45-15-19 14 0 11 13 9 42 19 29 2 22-4 19 3 7 5 2 6-2 4-7 1-35-5-16-19-30-6-31 3-5 9-4 6-4 14 0-16 13-4 9 6 23 15 22 6 17 0 35-3 16-4 7zM715 168l-13 0-15-4-14-7-11-9-4-13 5-32 0-16 4-3 3 1 3 8-5 39 5 13 13 8 16 5 16-1 10-5 4-7 4-20 2-22-1-16-5-20-17-29-4-12 4-6 21-20 17 0-25 21-5 8 1 6 13 20 7 15 4 20-1 19-7 45-6 7-19 7zM276 225l-7 0-2-6 7-13 6-23 1-26 6-6 50-26 9-2 55 7 32-4 16 2 32 1 45-11 6-4 5-8 5-22-3-13-10-9-26-10-10-10-9-4-45-2-38 2-16-2-16-7-10 2-7 8-25 45-32 19-35 16-20 22-17 13-6 10-5 19-10 19-6 3-84-29-16-1-22 5-30-19-5-7-2-6 5-23 2-38-7-42-5-6-10-8-22-7 0-10 19 5 14 7 8 6 5 10 9 42-2 19 0 26-6 16 5 9 22 13 6 1 19-4 13 2 77 26 7 0 5-6 9-32 24-22 13-17 9-7 39-17 22-14 8-10 18-33 16-16 6-1 16 7 20 4 38-2 48 2 9 4 14 11 31 15 7 7 3 9 0 13-4 19-9 18-48 13-12 7-5-6-5-2-10 2-4 7 3 9-4 10 3 13-4 5-7-1-3-4 0-7 7-25-1-4-6-4-19-1-19 5-45-7-16 1-45 22-4 4-3 6-1 19-8 29-3 7-3 3zM766 184l-10-18-1-9 7-41 0-36-10-35-9-6-3-7 3-6 13-10 10-3 0 11-10 2-3 9 2 7 11 0 0 3-2 13 3 13-1 113zM71 71l-4 0-3-4 0-6 2-3 14-5 23-13 9-8 8-10 5-2 6 1 16 11 13 15 11 8 3 6-4 5-7-1-28-31-7-2-6 2-10 12-29 15-12 10zM61 198l-10-1-18-14-14-13-6-9-1-10 6-39 0-32-5-22-7-8-6-1 0-8 6-1 10 4 6 7 2 7 5 32-2 32-5 26 1 9 6 10 19 16 16 6 1 4-4 5zM487 62l-6 1-42-2-45 2-19-4-13 0-3-4 3-7 7-2 16 5 16 2 35-2 42 1 9 3 2 3-2 4zM0 135l0-67 4 28-4 39zM189 174l-6 1-74-26-10 0-16 3-9-2-7-3-4-9 1-3 3-2 16 9 16-5 10 1 64 23 16 1 3 5-3 7zM474 188l-3 0-4-8 3-13 0-13 8-9 3 4 1 5-4 13 1 13-5 8zM433 161l-7 2-5-2-3-4 2-6 6-2 5 2 3 6-1 4zM724 299l-9 2-10-1-102-36-61 3-29-1-7-3-22-19-16-10-42-5-41-38-10-5-10-2-16 3-9 7-12 37 2 6 5 4-24 25-13 5-48 4-29-2-9-3-6-7-15-28-8-8-68-24-9-2-10 0-9 5-30 25-22 64-3 3-6-9 0-3 14-32 8-23 0-6-2-3-11-5-35-29 0-18 13 16 29 22 9 10 10-3 27-22 11-3 13 2 80 28 5 5 18 33 9 6 16 1 52-3 12-5 10-10 6-9 1-16 10-36 9-6 13-5 22 1 16 7 38 35 10 3 23 1 9 2 22 14 17 14 9 4 29 0 58-3 106 37 16-3 38-15 0 9-16 9-26 9zM577 190l-26 2-9-1-21-11-4-6 1-4 4-2 7 2 9 9 7 2 13 1 19-3 6 1 4 3-10 7zM0 430l0-23 29-11 35-21 39-5 28-22 11-11 7-9 5-17 8-15-1-13-6-10-11-7-9-2-10 3-4-10-6-3-9 2-5 4-11 36-7 9-6 3-16 1-5-1-4-3 2-22 17-41 6-8 19-16 7-2 9 2 61 22 8 7 14 29 6 7 7 3 29 4 74-6 10-6 16-16 25-11 6-7 9-19-1-10-7-5-7 1-4 4 0 16-5 8-10 5-6-3 10-13 3-19 6-8 9-1 10 3 20 22-1 3-6 0-5 3-4 16-9 10-30 16-19 20-77 7-26-2-25-6-4-4-14-31-8-8-55-21-13 1-9 7-10 11-12 33-6 9 0 7 5 5 4 0 7-5 12-36 6-9 8-7 8-1 16 9 26 7 11 11 9 22-1 7-8 9-8 26-20 23-31 24-10 3-16-2-19 6-32 21-13 1-6 3-7 8-3 9zM0 280l0-10 10-10 8-19-3-10-15-11 0-13 27 21 3 7-7 22-7 13-6 7-10 3zM90 534l-7-2-17-18-8-11-3-8 3-29 7-29 6-10 9-3 7 3-10 10-3 6-6 26-3 26 15 22 10 3 6-4 11-18 1-26 4-17 6-18 7-14 12-15 49-43 10-3 48 3 51-5 13 2 7-2 6-7-1-6-6-5-13 4-54 4-48-3-10-2-6 2-67 61-15 29-7 32-2 26-2 5-7 0-2-8 2-20 3-19 7-16-3-8-3-2 14-9 6-16 5-6 35-29 24-23 3-7 2-13 7-14 6-3 13 4 42 4 54-4 16-3 5 4 0 3-8 6-13-1-58 5-32-3-12-3-10 4-3 8 3 6 3 2 13-3 38 4 64-6 13 4 4-1 8-9 3-20 10-16 11-9 22-11 11-9 12-19 0-9-3-7 6-1 9 7 2 7-21 32-10 7-25 14-11 11-20 58-4 7-7 3-13-3-57 6-45-4-10 5-44 38-13 16-8 19-5 22 0 20-4 11-6 11-14 16-5 4zM0 249l0-10 1 5-1 5zM362 477l-6 0-5-5-3-12-18-31-2-11 1-29 12-26 19-51 6-7 25-13 11-9 24-36 26-1 16 4 21 17 10 13 4 2 99-2 68 22 38 16 10-1 48-18 0 11-3 2-55 18-35-16-70-24-16-1-85 3-41 55-6 13 5 22 7 16 6 10 13 13 1 6-3 5-3 0-20-24-13-29 1-13-3-6-4-3-3 0-8 13 0 9 16 36 18 22 6 3 10-2 6 12-6 3-26-11-8-8-11-19-7-20-8-13-1-12 3-10 3-4 7-3 6 3 10-9 42-55 1-6-4-6-20-18-16-6-16 0-7 4-22 32-32 20-6 6-5 10-11 34-12 24-3 12 1 23 5 13 20 35 1 3-3 5zM0 364l0-11 16-7 32-20 29-3 16-6 11-15 8-29 10-6 2 3-1 6-5 13-3 13-6 12-10 11-16 8-32 3-34 21-17 7zM654 768l-13 0-17-26-3-6 18-52 5-25-3-10-29-23-29-12-6 1-4 5 0 3 7 10 3 2 13-1 19 12 11 10 2 9-8 36-11 25-6 2-20-5-19-11-4-5 0-6 9-58-3-29-4-10-39-55-20-20-35-27-59-30-28-54-3-10 1-10 14-25 7-26 7-8 19-10 13-11 21-26-2-9-6-2-7 2-9 15-13 15-26 15-7 6-5 10-7 23-11 22-4 13 1 13 7 16 19 35 1 6-3 3-7-2-3-4-4-13-18-33-3-15 2-16 12-26 12-35 9-9 22-13 9-7 23-31 10 0 16 9 4 6 0 6-33 41-22 12-7 6-4 9-4 19-12 16-1 10 2 10 23 45 6 7 54 27 39 30 22 24 35 51 7 7 16 1 24 10 18 13 19 18 2 8-5 24-17 53 3 13 17 22zM3 390l-3 0 0-10 16-6 35-21 10-4 29-2 16-9 13-12 5-8 8-19 4-16 5-2 4 2 1 9-11 29-10 13-19 16-13 7-22 1-13 4-36 20-19 8zM0 309l0-12 10-7 6 2 0 4-3 5-13 8zM3 335l-3 2 0-11 24-14 11-15 6 8-1 7-37 23zM766 623l-13-17-13-6-22 2-26 13-13 0-44-34-36-14-6-6-45-60-32-25-17-16-4-7 6-10 1-25-4-7-11-10-6-9-7-16-2-13 5-13 30-38 9-4 67-4 16 1 61 20 40 19 0 16 3 26-4 21-10 18-19 20-13 7-1 8 7 9 10 5 13 34 6 10 23 18 9 4 29 1 5-4 0-7-6-9-3-20 2-19-9-13 9-16 15-43 0 31-9 22-1 6 4 17 0 22 5 16 1 27-10-4-12 3-23 0-13-6-25-21-6-9-10-29-15-13-6-12-5-6-13-3-19-1-29-10-10 0-12 5-5-2-3-3 1-6 3-2 26-2 32 9 23 3 12 4 7 0 25-25 11-19 3-23-2-22-6-10-28-13-58-18-19-2-54 3-10 3-6 5-21 25-6 13 1 10 5 13 24 29-5 32 2 9 16 15 27 21 49 64 10 6 26 9 38 30 10 4 9-1 13-10 7-2 25-2 10 1 6 4 10 11 0 17zM679 469l-3 0-1-3 1-7 28-28 12-29 3-16-3-23 1-16 4-4 45-16 0 11-32 11-9 8-1 6 5 16 0 10-11 38-11 16-14 13-7 9-7 4zM695 589l-11-1-40-31-9-5-14-3-9-5-51-68-29-19-8-10 5-30 25-10 16-2 13 0 52 13 6 0 10-3 9-10 6-10 2-19-3-10-8-6-13-5-48-14-22-1-42 3-6 3-9 7-5 7-2 6 1 7 3 6 6 7 6 3 6 0 22-8 20-1 22 2 35 11 7 0 4-4 0-7-4-5-48-11-16-1-26 1-16 7-7-3 2-7 5-4 29-4 29 0 41 11 18 7 3 3 1 6-6 16-9 5-10-1-38-11-16-1-16 1-29 9-7 1-17-19-6-12 3-13 17-20 13-5 42-2 19 0 58 17 19 9 4 4 3 6 1 16-2 14-8 15-17 16-10 2-26-4-28-9-20-1-19 4-6 3-7 9-1 6 5 13 15 10 10 1 10-6 6-1 23 12 3 3 1 13 13 13 20 26 1 6-3 2-3 0-7-5-10-16-12-13-9-16-7-9-10-5-10-1-3 2-1 6 2 4 14 9 37 52 9 5 13 1 6 3 36 28 14 8 1 3-3 4zM747 375l-8-2 0-3 3-7 24-9 0 11-10 3-9 7zM734 527l-9-3-20-13-4-6-6-17-1-9 4-7 28-29 6-12 13-39 5-4 16-7 0 10-6 3-7 8-18 48-7 9-17 13-5 10 0 10 10 16 5 4 13 2 5 3 1 7-6 3zM99 560l-9 2-19-9-32-32-7-13-3-23 2-16 10-32 1-13 3-6 6-7 13-8 19-6 7-1 4 2 1 4-5 5-23 5-8 6-5 6-11 39-3 19 1 19 6 13 27 28 9 7 7 2 10-5 20-22 10-16 4-13 1-29 6-19 5-10 11-13 39-33 12-4 32 4 45-6 26-1 3 2 2 6-5 5-16-2-58 7-19-6-6 0-10 4-6 4-33 28-11 15-7 19-1 29-3 14-13 20-29 31zM683 737l-5-1-2-7 7-16 7-29 5-12 1-13 28-15 20-2 2-6-2-6-7-4-6 0-36 15-25-1-7-3-35-31-19-9-26-8-41-56-20-21-38-30-41-19-14-10-24-45-1-10 3-5 3 0 3 2 6 20 20 33 23 13 25 10 43 34 15 16 37 51 8 8 38 14 39 31 12 6 20-2 19-10 13-4 9 1 7 4 6 13 13 11 0 12-13-8-9-2-9 6-17 6-10 6-5 8-15 57-5 8zM237 763l-8-1-8-13-29-25-16-10-29-12-9-8-20-29-16-32-4-13-5-5-16-4-32-13-45-44 0-14 51 49 42 18 3-1 6-5-1-10-5-5-16 0-23-11-38-38-7-10-6-22-2-36 11-38 7-9 4 0 3 5-13 36-2 13 3 32 4 13 8 11 35 35 10 6 25 7 9-5 31-35 13-19 8-23 0-32 7-14 10-12 31-26 10-3 6 4-3 5-13 7-22 19-14 17-4 13 3 22-8 23-12 20-37 41-3 6-5 26 12 29 25 41 11 9 35 17 19 13 30 29 2 6-3 5zM189 483l-3 1-4-5 4-11 25-25 17-10 9-13 45-9 16 0 10-2 6 4 1 5-4 5-16-4-42 7-9 4-42 35-13 18zM260 768l-9 0 5-10-1-9-34-35-25-18-33-15-11-9-14-22-10-20-4-13 0-13 7-18 41-49 18-42 12-6 14-17 37-29 10-4 22-4 16 1 10-2 6 4 21 34 1 4-2 5-7 1-4-3-5-16-8-13-9-6-32 3-19 9-25 20-29 27-19 40-37 45-7 10-3 9 1 10 5 13 10 19 11 16 10 8 31 15 20 13 29 26 10 15 9 7-3 10-4 9-2 0zM288 768l-10 0 7-11 13-11 3-10-2-10-7-13-48-46-54-31-11-13-2-9 2-9 37-43 12-26 9-14 22-21 13-9 10-5 16-4 4-7-2-4-12-3-22 9-38 32-11 14-15 32-35 42-7 13 5 16 7 12 7 9 54 30 39 36 12 15 1 7-3 6-3 2-5-2-4-16-39-37-19-13-40-20-15-23-6-14-2-8 2-7 6-10 37-45 14-32 7-8 24-24 21-16 13-6 22-5 9 5 3 9 6 7 0 6-4 3-33 13-27 23-10 13-15 31-32 36-4 10 1 6 6 7 10 7 29 15 19 13 50 48 8 24 0 8-3 7-20 19zM766 584l-10-7-6-2-38 1-29-20-26-23-3-6-1-13-3-6-21-26-14-13 1-3 9-2 7 5 25 31 9 27 20 18 29 20 9 1 29-2 7 2 6 5 0 13zM734 498l-6 0-6-6 1-10 5-5 3-1 2 3 3 16-2 3zM622 768l-12 0-11-14-39-15-25-20-2-6 3-12 6-55-1-19-4-13-21-32-17-23-18-17-29-20-45-22-13-4-32 4-29 5-38 15-16 10-14 13-11 19-2 7 2 9-1 2-13 2-1-7 11-28 14-17 21-16 37-16 43-9 16-1 10-2 10 1 58 27 31 23 16 15 23 30 19 30 3 11 2 23-9 61 3 10 23 17 36 10 16 24zM516 712l-16-3-42-1-9-3-5-8-3-13-1-28-3-13-17-21-23-16-12-6-10-1-26 6-12 8-7 0-3-2 0-4 3-4 29-11 22-3 16 5 29 20 19 23 6 15 0 36 4 7 7 4 28-1 10 4 6 0 7-8 2-22 2-33-4-16-16-25-16-21-16-16-23-16-41-20-20-2-38 6-35 12-20 13-8 15-4 3-4-1-1-2 0-10 17-18 20-11 29-10 44-7 20 1 51 25 22 17 16 16 20 26 13 22 4 16-1 23-6 48-4 5zM494 688l-4-2-2-5 3-13 0-25-7-20-26-34-32-24-29-14-19-3-35 7-32 12-5 5-2 10-3 2-6-2-3-3 1-7 13-13 8-4 26-10 32-6 13-1 11 2 35 16 19 13 18 16 16 19 14 23 4 16-1 35-2 6-5 4zM474 685l-6 0-3-4 0-35-6-16-20-24-26-20-19-9-16-3-22 3-19 6-20 12-5-1-4-3-1-6 10-2 20-11 38-8 18 2 27 12 29 23 22 30 5 18-1 19 2 13-3 4zM215 768l-11 0-15-15-16-12-38-16-10-7-16-21-32-56-6-6-32-12-15-9-24-27 0-13 35 35 48 21 28 51 18 26 9 7 29 12 17 10 21 18 12 14-2 0zM529 768l-14 0-12-6-13-3-54-3-32 3-19-7-6-10-13-58-10-16-48-46-36-27-12-7-6-6 15-2 50 37 8 12 11 7 6 10 12 6 5 10 11 8 3 5 2 16 10 42 2 6 6 7 12 4 26-5 70 6 11 4 17 13-2 0zM381 768l-36 0 11-6 1-7-14-54-5-13-59-57-42-27-13-5-1-5 4-6 7-3 8 13 14 5 33 24 55 51 8 16 14 61 4 7 13 6-2 0zM321 768l-11 0 14-14 4-8-6-29-7-16-36-36-19-17-39-24-13-5-3-5 3-7 7-1 9 11 16 6 29 20 55 52 6 15 9 39-2 7-16 12zM183 768l-15 0-17-11-36-12-22-26-33-57-9-7-30-12-18-13-3-4 0-16 10 11 12 10 36 16 8 5 33 58 19 23 7 5 37 14 21 16zM590 768l-27 0-19-10-22-16-9-5-58-4-22-4-4-3-2-9-7-13-6-45-6-13-14-12-13-8-12-1-13 6-7 1-4-2 0-7 8-4 25-4 14 5 18 14 10 11 4 7 4 42 7 19 7 7 10 2 67 5 35 26 36 15zM417 734l-7 1-8-6-8-28-6-36-7-9-16-7-2-3 2-5 7-2 9 4 12 9 4 7 10 54 3 7 8 9-1 5zM599 717l8-7 10-38 0-10-3-6-5-4-26-12-4 3-3 6 1 13-7 39 7 9 16 6 6 1zM87 768l-12 0 11-10 1-9-4-5-9-5-27-51-12-12-19-8-16-9 0-13 16 11 27 11 8 8 28 50 21 26-1 6-12 10zM683 765l-7 2-6-4-13-14-7-13 1-8 11-31 9-41 5-3 5 3 2 3-6 13-7 32-8 19-1 10 8 16 7 5 10-2 16-16 15-55 4-7 26-10 6 1 13 10 0 13-10-9-6-3-13 0-7 5-6 10-12 48-13 15-16 11zM590 701l-5-7 5-16-1-13 4-5 3 0 5 5 1 7-4 9-2 16-6 4zM51 735l-6 0-3-3-10-22-8-9-8-6-16-5 0-13 24 11 9 6 12 23 8 9 1 7-3 2zM718 768l-14 0 22-22 4-10 2-16 6-23 5-6 5 0 4 3 1 3-10 16-4 33-21 22zM64 759l-10 2-9-2-38-17 5-6 2-7-5-9-3-2-6 0 0-12 11 4 8 7 4 16 6 8 19 10 16-5 3 1 2 5-5 7zM766 746l-6-1-6-6 6-26 3-6 3-1 0 14-3 6 3 7 0 13zM3 743l-3 2 0-8 6 5-3 1zM26 768l-26 0 0-7 13 0 16 7-3 0zM766 768l-26 0 7-7 6-2 13 2 0 7zM135 768l-26 0 3-5 3-1 22 6-2 0z"/></g></g><rect x="15" y="13" width="383.0" height="384.0" fill="none" stroke="#1e1e1e" stroke-width="1.2"/>
<text transform="matrix(1.16 0 0 1 24.8 65.7)" class="pn">(a)</text>
<rect x="410.3" y="13.0" width="20.9" height="383.6" fill="url(#gold)" stroke="#3a3a3a" stroke-width="1.2"/>
<line x1="410.3" y1="13.0" x2="442.2" y2="13.0" stroke="#505050" stroke-width="1.3"/>
<text transform="matrix(1 0 0 1.17 443.7 29.3)" class="gl">0.541</text>
<line x1="410.3" y1="396.6" x2="442.2" y2="396.6" stroke="#505050" stroke-width="1.3"/>
<text transform="matrix(1 0 0 1.17 443.7 394.7)" class="gl">0.000</text>
<line x1="431.2" y1="361.1" x2="442.2" y2="361.1" stroke="#505050" stroke-width="1.3"/>
<line x1="431.2" y1="325.7" x2="442.2" y2="325.7" stroke="#505050" stroke-width="1.3"/>
<text transform="matrix(1 0 0 1.17 443.7 342.0)" class="gl">0.100</text>
<line x1="431.2" y1="290.2" x2="442.2" y2="290.2" stroke="#505050" stroke-width="1.3"/>
<text transform="matrix(1 0 0 1.17 443.7 306.5)" class="gl">0.150</text>
<line x1="431.2" y1="254.8" x2="442.2" y2="254.8" stroke="#505050" stroke-width="1.3"/>
<text transform="matrix(1 0 0 1.17 443.7 271.1)" class="gl">0.200</text>
<line x1="431.2" y1="219.3" x2="442.2" y2="219.3" stroke="#505050" stroke-width="1.3"/>
<text transform="matrix(1 0 0 1.17 443.7 235.6)" class="gl">0.250</text>
<line x1="431.2" y1="183.9" x2="442.2" y2="183.9" stroke="#505050" stroke-width="1.3"/>
<text transform="matrix(1 0 0 1.17 443.7 200.2)" class="gl">0.300</text>
<line x1="431.2" y1="148.4" x2="442.2" y2="148.4" stroke="#505050" stroke-width="1.3"/>
<text transform="matrix(1 0 0 1.17 443.7 164.7)" class="gl">0.350</text>
<line x1="431.2" y1="113.0" x2="442.2" y2="113.0" stroke="#505050" stroke-width="1.3"/>
<text transform="matrix(1 0 0 1.17 443.7 129.3)" class="gl">0.400</text>
<line x1="431.2" y1="77.5" x2="442.2" y2="77.5" stroke="#505050" stroke-width="1.3"/>
<text transform="matrix(1 0 0 1.17 443.7 93.8)" class="gl">0.450</text>
<line x1="431.2" y1="42.1" x2="442.2" y2="42.1" stroke="#505050" stroke-width="1.3"/>
<text transform="matrix(1 0 0 1.17 443.7 58.4)" class="gl">0.500</text>
<g filter="url(#bl7)"><polygon points="630.0,118.0 763.0,214.0 630.0,308.0 497.0,212.0" fill="#902090"/><g transform="matrix(0.33250 0.24000 -0.33250 0.23500 630.0 118.0)"><use href="#h3a" fill="#98209c" stroke="#98209c" stroke-width="14.0" stroke-linejoin="round" clip-path="url(#c3a)"/></g><g transform="matrix(0.33250 0.24000 -0.33250 0.23500 630.0 116.4)"><use href="#h3a" fill="#ff36f4" stroke="#ff36f4" stroke-width="13.0" stroke-linejoin="round" clip-path="url(#c3a)"/></g><g transform="matrix(0.33250 0.24000 -0.33250 0.23500 630.0 114.9)"><use href="#h3a" fill="#ff33b2" stroke="#ff33b2" stroke-width="12.0" stroke-linejoin="round" clip-path="url(#c3a)"/></g><g transform="matrix(0.33250 0.24000 -0.33250 0.23500 630.0 113.3)"><use href="#h3a" fill="#ff3e78" stroke="#ff3e78" stroke-width="11.0" stroke-linejoin="round" clip-path="url(#c3a)"/></g><g transform="matrix(0.33250 0.24000 -0.33250 0.23500 630.0 111.7)"><use href="#h3a" fill="#ff7e54" stroke="#ff7e54" stroke-width="10.0" stroke-linejoin="round" clip-path="url(#c3a)"/></g><g transform="matrix(0.33250 0.24000 -0.33250 0.23500 630.0 110.1)"><use href="#h3a" fill="#ffb040" stroke="#ffb040" stroke-width="9.0" stroke-linejoin="round" clip-path="url(#c3a)"/></g><g transform="matrix(0.33250 0.24000 -0.33250 0.23500 630.0 108.6)"><use href="#h3a" fill="#ebe024" stroke="#ebe024" stroke-width="8.0" stroke-linejoin="round" clip-path="url(#c3a)"/></g><g transform="matrix(0.33250 0.24000 -0.33250 0.23500 630.0 107.0)"><use href="#h3a" fill="#74e042" stroke="#74e042" stroke-width="7.0" stroke-linejoin="round" clip-path="url(#c3a)"/></g><g transform="matrix(0.33250 0.24000 -0.33250 0.23500 630.0 105.4)"><use href="#h3a" fill="#00e957" stroke="#00e957" stroke-width="6.0" stroke-linejoin="round" clip-path="url(#c3a)"/></g><g transform="matrix(0.33250 0.24000 -0.33250 0.23500 630.0 103.9)"><use href="#h3a" fill="#00cc7c" stroke="#00cc7c" stroke-width="5.0" stroke-linejoin="round" clip-path="url(#c3a)"/></g><g transform="matrix(0.33250 0.24000 -0.33250 0.23500 630.0 102.3)"><use href="#h3a" fill="#009cbe" stroke="#009cbe" stroke-width="4.0" stroke-linejoin="round" clip-path="url(#c3a)"/></g><g transform="matrix(0.33250 0.24000 -0.33250 0.23500 630.0 100.7)"><use href="#h3a" fill="#0076f6" stroke="#0076f6" stroke-width="3.0" stroke-linejoin="round" clip-path="url(#c3a)"/></g><g transform="matrix(0.33250 0.24000 -0.33250 0.23500 630.0 99.1)"><use href="#h3a" fill="#5e9efc" stroke="#5e9efc" stroke-width="2.0" stroke-linejoin="round" clip-path="url(#c3a)"/></g><g transform="matrix(0.33250 0.24000 -0.33250 0.23500 630.0 97.6)"><use href="#h3a" fill="#b8ccf4" stroke="#b8ccf4" stroke-width="1.0" stroke-linejoin="round" clip-path="url(#c3a)"/></g><g transform="matrix(0.33250 0.24000 -0.33250 0.23500 630.0 96.0)"><use href="#h3a" fill="#e6eefa" clip-path="url(#c3a)"/></g></g>
<rect x="904.0" y="32.2" width="19.8" height="345.8" fill="url(#rainbow)"/>
<rect x="904.0" y="32.2" width="19.8" height="345.8" fill="none" stroke="#3a3a3a" stroke-width="1.3"/>
<line x1="923.8" y1="32.2" x2="934.8" y2="32.2" stroke="#404040" stroke-width="1.3"/>
<text transform="matrix(1 0 0 1.12 937.3 39.4)" class="rl">0.53</text>
<line x1="923.8" y1="52.2" x2="934.8" y2="52.2" stroke="#404040" stroke-width="1.3"/>
<text transform="matrix(1 0 0 1.12 937.3 59.4)" class="rl">0.50</text>
<line x1="923.8" y1="85.4" x2="934.8" y2="85.4" stroke="#404040" stroke-width="1.3"/>
<text transform="matrix(1 0 0 1.12 937.3 92.6)" class="rl">0.45</text>
<line x1="923.8" y1="118.6" x2="934.8" y2="118.6" stroke="#404040" stroke-width="1.3"/>
<text transform="matrix(1 0 0 1.12 937.3 125.8)" class="rl">0.40</text>
<line x1="923.8" y1="151.9" x2="934.8" y2="151.9" stroke="#404040" stroke-width="1.3"/>
<text transform="matrix(1 0 0 1.12 937.3 159.1)" class="rl">0.35</text>
<line x1="923.8" y1="185.2" x2="934.8" y2="185.2" stroke="#404040" stroke-width="1.3"/>
<text transform="matrix(1 0 0 1.12 937.3 192.3)" class="rl">0.30</text>
<line x1="923.8" y1="218.4" x2="934.8" y2="218.4" stroke="#404040" stroke-width="1.3"/>
<text transform="matrix(1 0 0 1.12 937.3 225.6)" class="rl">0.25</text>
<line x1="923.8" y1="251.6" x2="934.8" y2="251.6" stroke="#404040" stroke-width="1.3"/>
<text transform="matrix(1 0 0 1.12 937.3 258.8)" class="rl">0.20</text>
<line x1="923.8" y1="284.9" x2="934.8" y2="284.9" stroke="#404040" stroke-width="1.3"/>
<text transform="matrix(1 0 0 1.12 937.3 292.1)" class="rl">0.15</text>
<line x1="923.8" y1="318.1" x2="934.8" y2="318.1" stroke="#404040" stroke-width="1.3"/>
<text transform="matrix(1 0 0 1.12 937.3 325.3)" class="rl">0.10</text>
<line x1="923.8" y1="351.4" x2="934.8" y2="351.4" stroke="#404040" stroke-width="1.3"/>
<text transform="matrix(1 0 0 1.12 937.3 358.6)" class="rl">0.05</text>
<line x1="923.8" y1="378.0" x2="934.8" y2="378.0" stroke="#404040" stroke-width="1.3"/>
<text transform="matrix(1 0 0 1.12 937.3 385.2)" class="rl">0.01</text>
<path d="M1016.9 182.6H1374.0M1016.9 149.6H1374.0M1016.9 116.5H1374.0M1016.9 83.4H1374.0M1016.9 50.4H1374.0M1135.9 17.3V216.2M1255.0 17.3V216.2" stroke="#e6e6e6" stroke-width="1" fill="none"/>
<path d="M1016.9 83.4 L1018.3 66.9 L1019.8 54.0 L1022.0 50.4 L1024.0 51.4 L1025.7 57.6 L1028.3 68.9 L1031.2 81.4 L1033.9 105.6 L1036.7 138.7 L1039.5 175.4 L1041.9 195.5 L1044.3 200.5 L1047.4 191.9 L1049.0 156.8 L1051.4 92.7 L1053.1 54.0 L1055.5 49.4 L1058.6 54.0 L1063.3 56.0 L1066.9 58.6 L1069.6 61.3 L1072.4 82.4 L1075.2 85.4 L1077.8 102.0 L1081.5 138.7 L1085.2 191.9 L1087.8 201.2 L1091.7 203.8 L1095.2 201.2 L1099.7 198.2 L1102.6 199.2 L1106.2 201.2 L1110.0 169.7 L1112.1 110.9 L1114.5 78.8 L1117.4 89.1 L1120.9 127.4 L1124.5 169.7 L1128.3 191.9 L1131.9 197.2 L1135.5 202.8 L1138.3 205.4 L1141.2 204.8 L1144.7 201.8 L1147.4 200.2 L1150.6 201.8 L1152.4 184.6 L1154.7 120.1 L1157.1 56.0 L1159.3 52.4 L1162.6 63.3 L1165.7 105.6 L1168.5 156.8 L1171.2 193.5 L1173.5 201.8 L1177.6 201.2 L1180.5 197.2 L1183.1 175.4 L1185.9 120.1 L1187.8 90.7 L1190.9 80.8 L1194.5 102.0 L1198.1 138.7 L1200.9 175.4 L1202.6 193.5 L1205.4 184.6 L1208.1 138.7 L1210.9 102.0 L1213.5 74.2 L1216.9 67.9 L1219.5 83.4 L1222.4 120.1 L1225.4 166.1 L1227.8 197.2 L1230.9 201.2 L1233.8 198.2 L1235.7 166.1 L1238.3 83.4 L1241.9 59.6 L1244.3 60.3 L1247.6 64.9 L1253.1 61.3 L1259.3 57.3 L1262.1 61.3 L1264.7 74.2 L1268.5 120.1 L1272.1 175.4 L1275.9 201.2 L1278.5 199.2 L1282.1 195.5 L1286.4 191.9 L1288.5 156.8 L1291.4 92.7 L1295.0 59.6 L1297.8 64.9 L1301.4 65.9 L1305.2 77.8 L1308.8 90.7 L1311.4 120.1 L1314.2 156.8 L1316.9 193.5 L1321.6 199.2 L1325.2 194.5 L1328.8 192.9 L1331.6 186.3 L1334.2 138.7 L1337.1 92.7 L1339.7 67.9 L1342.6 77.8 L1345.4 110.9 L1348.1 153.2 L1350.7 189.9" stroke="#3c3c3c" stroke-width="1.15" fill="none" stroke-linejoin="round"/>
<path d="M1016.9 17.3H1374.0V216.2" stroke="#5a5a5a" stroke-width="1.4" fill="none"/>
<path d="M1016.9 16.3V216.2M1007.9 216.2H1374.0" stroke="#3c3c3c" stroke-width="1.6" fill="none"/>
<path d="M1007.9 215.7H1016.9M1011.9 212.4H1016.9M1011.9 209.1H1016.9M1011.9 205.8H1016.9M1011.9 202.5H1016.9M1010.9 199.2H1016.9M1011.9 195.9H1016.9M1011.9 192.6H1016.9M1011.9 189.2H1016.9M1011.9 185.9H1016.9M1007.9 182.6H1016.9M1011.9 179.3H1016.9M1011.9 176.0H1016.9M1011.9 172.7H1016.9M1011.9 169.4H1016.9M1010.9 166.1H1016.9M1011.9 162.8H1016.9M1011.9 159.5H1016.9M1011.9 156.2H1016.9M1011.9 152.9H1016.9M1007.9 149.6H1016.9M1011.9 146.3H1016.9M1011.9 143.0H1016.9M1011.9 139.6H1016.9M1011.9 136.3H1016.9M1010.9 133.0H1016.9M1011.9 129.7H1016.9M1011.9 126.4H1016.9M1011.9 123.1H1016.9M1011.9 119.8H1016.9M1007.9 116.5H1016.9M1011.9 113.2H1016.9M1011.9 109.9H1016.9M1011.9 106.6H1016.9M1011.9 103.3H1016.9M1010.9 100.0H1016.9M1011.9 96.7H1016.9M1011.9 93.4H1016.9M1011.9 90.0H1016.9M1011.9 86.7H1016.9M1007.9 83.4H1016.9M1011.9 80.1H1016.9M1011.9 76.8H1016.9M1011.9 73.5H1016.9M1011.9 70.2H1016.9M1010.9 66.9H1016.9M1011.9 63.6H1016.9M1011.9 60.3H1016.9M1011.9 57.0H1016.9M1011.9 53.7H1016.9M1007.9 50.4H1016.9M1011.9 47.1H1016.9M1011.9 43.8H1016.9M1011.9 40.4H1016.9M1011.9 37.1H1016.9M1010.9 33.8H1016.9M1011.9 30.5H1016.9M1011.9 27.2H1016.9M1011.9 23.9H1016.9M1011.9 20.6H1016.9M1007.9 17.3H1016.9M1016.9 216.2V224.2M1028.8 216.2V221.7M1040.7 216.2V221.7M1052.6 216.2V221.7M1064.5 216.2V221.7M1076.4 216.2V221.7M1088.3 216.2V221.7M1100.2 216.2V221.7M1112.1 216.2V221.7M1124.0 216.2V221.7M1135.9 216.2V224.2M1147.8 216.2V221.7M1159.7 216.2V221.7M1171.6 216.2V221.7M1183.5 216.2V221.7M1195.5 216.2V221.7M1207.4 216.2V221.7M1219.3 216.2V221.7M1231.2 216.2V221.7M1243.1 216.2V221.7M1255.0 216.2V224.2M1266.9 216.2V221.7M1278.8 216.2V221.7M1290.7 216.2V221.7M1302.6 216.2V221.7M1314.5 216.2V221.7M1326.4 216.2V221.7M1338.3 216.2V221.7M1350.2 216.2V221.7M1362.1 216.2V221.7M1374.0 216.2V224.2" stroke="#555" stroke-width="1" fill="none"/>
<text x="1006.4" y="215.0" class="pl" text-anchor="end">0.0</text>
<text x="1006.4" y="185.9" class="pl" text-anchor="end">0.1</text>
<text x="1006.4" y="152.9" class="pl" text-anchor="end">0.2</text>
<text x="1006.4" y="119.8" class="pl" text-anchor="end">0.3</text>
<text x="1006.4" y="86.7" class="pl" text-anchor="end">0.4</text>
<text x="1006.4" y="53.7" class="pl" text-anchor="end">0.5</text>
<text x="1006.4" y="25.8" class="pl" text-anchor="end">0.6</text>
<text x="1016.9" y="235.2" class="pl" text-anchor="middle">0.0</text>
<text x="1135.9" y="235.2" class="pl" text-anchor="middle">0.5</text>
<text x="1255.0" y="235.2" class="pl" text-anchor="middle">1.0</text>
<text x="1374.0" y="235.2" class="pl" text-anchor="middle">1.5</text>
<text x="1193.5" y="248.2" class="pl" text-anchor="middle">x</text>
<text transform="translate(990.9,116.8) rotate(-90)" class="pl" text-anchor="middle">y</text>
<rect x="1315.0" y="20.8" width="56.5" height="16" fill="#fff" stroke="#555" stroke-width="1.2"/>
<line x1="1319.5" y1="28.8" x2="1329.5" y2="28.8" stroke="#444" stroke-width="1"/>
<text x="1333.0" y="32.3" class="pl">Profile 1</text>
<g filter="url(#hmb)"><rect x="15" y="399" width="382.0" height="381.0" fill="#000" fill-opacity="0"/><g transform="translate(15,399) scale(0.5)"><g stroke="#000" stroke-width="20.0" stroke-opacity="0.25" fill="none"><path d="M-6.0 84.0C2.5 82.1 27.3 78.3 45.0 72.8C62.7 67.3 83.5 57.5 100.0 50.8C116.5 44.1 129.3 39.1 144.0 32.4C158.7 25.7 177.7 16.1 188.0 10.4C198.3 4.7 203.0 0.1 206.0 -2.0" transform="translate(-6.0,-8.0)"/><path d="M-6.0 176.0C-2.7 175.0 9.0 169.3 14.0 170.0C19.0 170.7 20.3 178.7 24.0 180.0C27.7 181.3 26.3 180.0 36.0 178.0C45.7 176.0 65.2 173.3 82.0 168.0C98.8 162.7 118.7 155.1 137.0 146.0C155.3 136.9 173.6 124.8 192.0 113.2C210.4 101.6 228.9 88.6 247.2 76.4C265.5 64.2 286.7 50.4 302.0 40.0C317.3 29.6 329.3 21.0 339.0 14.0C348.7 7.0 356.5 0.7 360.0 -2.0" transform="translate(-6.0,-8.0)"/><path d="M-6.0 336.0C0.7 331.0 20.7 315.0 34.0 306.0C47.3 297.0 62.8 289.3 73.8 282.0C84.8 274.7 86.4 271.7 100.0 262.0C113.6 252.3 136.9 237.0 155.2 224.0C173.5 211.0 191.6 198.0 210.0 184.0C228.4 170.0 247.0 154.7 265.4 140.0C283.8 125.3 303.2 109.3 320.6 96.0C338.0 82.7 355.6 70.0 370.0 60.0C384.4 50.0 394.6 44.9 406.8 36.0C419.0 27.1 435.5 12.9 443.4 6.6C451.3 0.3 452.2 -0.6 454.0 -2.0" transform="translate(-6.0,-8.0)"/><path d="M-6.0 434.0C0.7 430.0 20.0 417.7 34.0 410.0C48.0 402.3 63.3 396.1 78.0 388.0C92.7 379.9 109.3 370.4 122.2 361.4C135.1 352.4 144.2 342.6 155.2 334.0C166.2 325.4 177.0 318.0 188.0 310.0C199.0 302.0 210.3 294.7 221.4 286.0C232.5 277.3 244.0 267.0 254.4 258.0C264.8 249.0 273.0 241.7 284.0 232.0C295.0 222.3 308.4 210.7 320.6 200.0C332.8 189.3 345.8 177.3 357.4 168.0C369.0 158.7 378.7 152.5 390.0 144.0C401.3 135.5 410.0 128.7 425.0 116.8C440.0 104.9 463.5 86.3 480.0 72.8C496.5 59.3 512.7 48.5 524.0 36.0C535.3 23.5 544.0 4.3 548.0 -2.0" transform="translate(-6.0,-8.0)"/><path d="M292.0 286.0C296.8 284.1 309.7 280.9 320.6 274.8C331.5 268.7 345.8 257.3 357.4 249.2C369.0 241.1 378.7 234.0 390.0 226.0C401.3 218.0 410.0 213.5 425.0 201.4C440.0 189.3 461.6 169.5 480.0 153.6C498.4 137.7 516.8 121.7 535.2 105.8C553.6 89.9 573.9 74.5 590.4 58.0C606.9 41.5 626.1 16.6 634.4 6.6C642.7 -3.4 639.1 -0.6 640.0 -2.0" transform="translate(-6.0,-8.0)"/><path d="M-6.0 566.0C2.5 561.8 31.7 548.3 45.0 541.0C58.3 533.7 60.9 529.9 73.8 522.0C86.7 514.1 106.8 502.7 122.2 493.6C137.6 484.5 151.7 476.8 166.4 467.2C181.1 457.6 193.9 446.7 210.4 436.2C226.9 425.7 248.3 414.7 265.4 404.0C282.5 393.3 297.9 382.5 313.2 372.0C328.5 361.5 344.6 350.3 357.4 341.0C370.2 331.7 378.7 324.0 390.0 316.0C401.3 308.0 410.0 305.6 425.0 293.2C440.0 280.8 461.6 258.9 480.0 241.8C498.4 224.7 516.8 207.5 535.2 190.4C553.6 173.3 572.0 156.2 590.4 139.0C608.8 121.8 628.3 104.6 645.4 87.4C662.5 70.2 681.8 50.9 693.2 36.0C704.6 21.1 710.5 4.3 714.0 -2.0" transform="translate(-6.0,-8.0)"/><path d="M-6.0 658.0C2.5 653.2 27.3 639.5 45.0 629.2C62.7 618.9 81.6 607.0 100.0 596.0C118.4 585.0 136.8 574.0 155.2 563.0C173.6 552.0 192.0 541.6 210.4 530.0C228.8 518.4 247.0 505.5 265.4 493.2C283.8 480.9 303.2 466.9 320.6 456.4C338.0 445.9 355.6 437.9 370.0 430.0C384.4 422.1 394.6 417.2 406.8 408.8C419.0 400.4 431.2 390.1 443.4 379.4C455.6 368.7 464.7 358.4 480.0 344.6C495.3 330.8 516.8 313.9 535.2 296.8C553.6 279.7 572.0 259.5 590.4 241.8C608.8 224.1 627.0 207.5 645.4 190.4C663.8 173.3 685.3 153.7 700.6 139.0C715.9 124.3 725.8 114.7 737.4 102.2C749.0 89.7 764.6 70.4 770.0 64.0" transform="translate(-6.0,-8.0)"/><path d="M-6.0 750.0C2.5 745.8 27.3 733.7 45.0 724.6C62.7 715.5 81.6 705.0 100.0 695.2C118.4 685.4 136.8 676.2 155.2 665.8C173.6 655.4 192.0 643.8 210.4 632.8C228.8 621.8 247.0 610.8 265.4 599.8C283.8 588.8 303.2 577.6 320.6 566.6C338.0 555.6 352.6 545.2 370.0 533.6C387.4 522.0 406.7 509.7 425.0 496.8C443.3 483.9 461.6 470.5 480.0 456.4C498.4 442.3 519.9 425.1 535.2 412.4C550.5 399.7 562.8 389.5 572.0 380.0C581.2 370.5 578.2 367.0 590.4 355.6C602.6 344.2 627.0 327.5 645.4 311.6C663.8 295.7 685.3 274.3 700.6 260.2C715.9 246.1 725.8 238.0 737.4 227.0C749.0 216.0 764.6 199.5 770.0 194.0" transform="translate(-6.0,-8.0)"/><path d="M206.0 766.0C215.9 759.1 246.3 737.6 265.4 724.6C284.5 711.6 303.2 698.4 320.6 688.0C338.0 677.6 352.6 673.0 370.0 662.0C387.4 651.0 406.7 635.9 425.0 621.8C443.3 607.7 461.6 592.9 480.0 577.6C498.4 562.3 516.8 546.5 535.2 530.0C553.6 513.5 572.0 497.0 590.4 478.6C608.8 460.2 632.1 433.6 645.4 419.8C658.7 406.0 660.8 406.7 670.0 396.0C679.2 385.3 689.4 367.8 700.6 355.6C711.8 343.4 725.8 334.2 737.4 322.6C749.0 311.0 764.6 292.1 770.0 286.0" transform="translate(-6.0,-8.0)"/><path d="M384.0 766.0C393.9 758.5 424.3 735.9 443.4 721.0C462.5 706.1 480.2 692.1 498.6 676.8C517.0 661.5 535.2 645.7 553.6 629.2C572.0 612.7 590.4 596.0 608.8 577.6C627.2 559.2 645.4 539.2 663.8 519.0C682.2 498.8 701.3 477.9 719.0 456.4C736.7 434.9 761.5 401.1 770.0 390.0" transform="translate(-6.0,-8.0)"/><path d="M520.0 766.0C528.7 759.1 554.1 738.8 572.0 724.6C589.9 710.4 608.8 696.5 627.2 680.6C645.6 664.7 666.9 645.1 682.2 629.2C697.5 613.3 704.4 603.5 719.0 585.0C733.6 566.5 761.5 529.2 770.0 518.0" transform="translate(-6.0,-8.0)"/><path d="M660.0 766.0C666.8 759.1 687.7 737.0 700.6 724.6C713.5 712.2 725.8 702.7 737.4 691.6C749.0 680.5 764.6 663.6 770.0 658.0" transform="translate(-6.0,-8.0)"/></g><g stroke="#000" stroke-width="11.0" fill="none" stroke-linecap="round"><path d="M-6.0 84.0C2.5 82.1 27.3 78.3 45.0 72.8C62.7 67.3 83.5 57.5 100.0 50.8C116.5 44.1 129.3 39.1 144.0 32.4C158.7 25.7 177.7 16.1 188.0 10.4C198.3 4.7 203.0 0.1 206.0 -2.0"/><path d="M-6.0 176.0C-2.7 175.0 9.0 169.3 14.0 170.0C19.0 170.7 20.3 178.7 24.0 180.0C27.7 181.3 26.3 180.0 36.0 178.0C45.7 176.0 65.2 173.3 82.0 168.0C98.8 162.7 118.7 155.1 137.0 146.0C155.3 136.9 173.6 124.8 192.0 113.2C210.4 101.6 228.9 88.6 247.2 76.4C265.5 64.2 286.7 50.4 302.0 40.0C317.3 29.6 329.3 21.0 339.0 14.0C348.7 7.0 356.5 0.7 360.0 -2.0"/><path d="M-6.0 336.0C0.7 331.0 20.7 315.0 34.0 306.0C47.3 297.0 62.8 289.3 73.8 282.0C84.8 274.7 86.4 271.7 100.0 262.0C113.6 252.3 136.9 237.0 155.2 224.0C173.5 211.0 191.6 198.0 210.0 184.0C228.4 170.0 247.0 154.7 265.4 140.0C283.8 125.3 303.2 109.3 320.6 96.0C338.0 82.7 355.6 70.0 370.0 60.0C384.4 50.0 394.6 44.9 406.8 36.0C419.0 27.1 435.5 12.9 443.4 6.6C451.3 0.3 452.2 -0.6 454.0 -2.0"/><path d="M-6.0 434.0C0.7 430.0 20.0 417.7 34.0 410.0C48.0 402.3 63.3 396.1 78.0 388.0C92.7 379.9 109.3 370.4 122.2 361.4C135.1 352.4 144.2 342.6 155.2 334.0C166.2 325.4 177.0 318.0 188.0 310.0C199.0 302.0 210.3 294.7 221.4 286.0C232.5 277.3 244.0 267.0 254.4 258.0C264.8 249.0 273.0 241.7 284.0 232.0C295.0 222.3 308.4 210.7 320.6 200.0C332.8 189.3 345.8 177.3 357.4 168.0C369.0 158.7 378.7 152.5 390.0 144.0C401.3 135.5 410.0 128.7 425.0 116.8C440.0 104.9 463.5 86.3 480.0 72.8C496.5 59.3 512.7 48.5 524.0 36.0C535.3 23.5 544.0 4.3 548.0 -2.0"/><path d="M292.0 286.0C296.8 284.1 309.7 280.9 320.6 274.8C331.5 268.7 345.8 257.3 357.4 249.2C369.0 241.1 378.7 234.0 390.0 226.0C401.3 218.0 410.0 213.5 425.0 201.4C440.0 189.3 461.6 169.5 480.0 153.6C498.4 137.7 516.8 121.7 535.2 105.8C553.6 89.9 573.9 74.5 590.4 58.0C606.9 41.5 626.1 16.6 634.4 6.6C642.7 -3.4 639.1 -0.6 640.0 -2.0"/><path d="M-6.0 566.0C2.5 561.8 31.7 548.3 45.0 541.0C58.3 533.7 60.9 529.9 73.8 522.0C86.7 514.1 106.8 502.7 122.2 493.6C137.6 484.5 151.7 476.8 166.4 467.2C181.1 457.6 193.9 446.7 210.4 436.2C226.9 425.7 248.3 414.7 265.4 404.0C282.5 393.3 297.9 382.5 313.2 372.0C328.5 361.5 344.6 350.3 357.4 341.0C370.2 331.7 378.7 324.0 390.0 316.0C401.3 308.0 410.0 305.6 425.0 293.2C440.0 280.8 461.6 258.9 480.0 241.8C498.4 224.7 516.8 207.5 535.2 190.4C553.6 173.3 572.0 156.2 590.4 139.0C608.8 121.8 628.3 104.6 645.4 87.4C662.5 70.2 681.8 50.9 693.2 36.0C704.6 21.1 710.5 4.3 714.0 -2.0"/><path d="M-6.0 658.0C2.5 653.2 27.3 639.5 45.0 629.2C62.7 618.9 81.6 607.0 100.0 596.0C118.4 585.0 136.8 574.0 155.2 563.0C173.6 552.0 192.0 541.6 210.4 530.0C228.8 518.4 247.0 505.5 265.4 493.2C283.8 480.9 303.2 466.9 320.6 456.4C338.0 445.9 355.6 437.9 370.0 430.0C384.4 422.1 394.6 417.2 406.8 408.8C419.0 400.4 431.2 390.1 443.4 379.4C455.6 368.7 464.7 358.4 480.0 344.6C495.3 330.8 516.8 313.9 535.2 296.8C553.6 279.7 572.0 259.5 590.4 241.8C608.8 224.1 627.0 207.5 645.4 190.4C663.8 173.3 685.3 153.7 700.6 139.0C715.9 124.3 725.8 114.7 737.4 102.2C749.0 89.7 764.6 70.4 770.0 64.0"/><path d="M-6.0 750.0C2.5 745.8 27.3 733.7 45.0 724.6C62.7 715.5 81.6 705.0 100.0 695.2C118.4 685.4 136.8 676.2 155.2 665.8C173.6 655.4 192.0 643.8 210.4 632.8C228.8 621.8 247.0 610.8 265.4 599.8C283.8 588.8 303.2 577.6 320.6 566.6C338.0 555.6 352.6 545.2 370.0 533.6C387.4 522.0 406.7 509.7 425.0 496.8C443.3 483.9 461.6 470.5 480.0 456.4C498.4 442.3 519.9 425.1 535.2 412.4C550.5 399.7 562.8 389.5 572.0 380.0C581.2 370.5 578.2 367.0 590.4 355.6C602.6 344.2 627.0 327.5 645.4 311.6C663.8 295.7 685.3 274.3 700.6 260.2C715.9 246.1 725.8 238.0 737.4 227.0C749.0 216.0 764.6 199.5 770.0 194.0"/><path d="M206.0 766.0C215.9 759.1 246.3 737.6 265.4 724.6C284.5 711.6 303.2 698.4 320.6 688.0C338.0 677.6 352.6 673.0 370.0 662.0C387.4 651.0 406.7 635.9 425.0 621.8C443.3 607.7 461.6 592.9 480.0 577.6C498.4 562.3 516.8 546.5 535.2 530.0C553.6 513.5 572.0 497.0 590.4 478.6C608.8 460.2 632.1 433.6 645.4 419.8C658.7 406.0 660.8 406.7 670.0 396.0C679.2 385.3 689.4 367.8 700.6 355.6C711.8 343.4 725.8 334.2 737.4 322.6C749.0 311.0 764.6 292.1 770.0 286.0"/><path d="M384.0 766.0C393.9 758.5 424.3 735.9 443.4 721.0C462.5 706.1 480.2 692.1 498.6 676.8C517.0 661.5 535.2 645.7 553.6 629.2C572.0 612.7 590.4 596.0 608.8 577.6C627.2 559.2 645.4 539.2 663.8 519.0C682.2 498.8 701.3 477.9 719.0 456.4C736.7 434.9 761.5 401.1 770.0 390.0"/><path d="M520.0 766.0C528.7 759.1 554.1 738.8 572.0 724.6C589.9 710.4 608.8 696.5 627.2 680.6C645.6 664.7 666.9 645.1 682.2 629.2C697.5 613.3 704.4 603.5 719.0 585.0C733.6 566.5 761.5 529.2 770.0 518.0"/><path d="M660.0 766.0C666.8 759.1 687.7 737.0 700.6 724.6C713.5 712.2 725.8 702.7 737.4 691.6C749.0 680.5 764.6 663.6 770.0 658.0"/></g></g></g><g clip-path="url(#clipb)" stroke="#fbf08a" stroke-width="1.6" fill="none" opacity="0.8" filter="url(#bl7)"><path d="M14.5 444.5C18.8 443.6 31.2 441.7 40.0 438.9C48.8 436.1 59.2 431.3 67.5 427.9C75.8 424.5 82.2 422.1 89.5 418.7C96.8 415.3 106.3 410.6 111.5 407.7C116.7 404.8 119.0 402.5 120.5 401.5"/><path d="M14.5 490.5C16.2 490.0 22.0 487.2 24.5 487.5C27.0 487.8 27.7 491.8 29.5 492.5C31.3 493.2 30.7 492.5 35.5 491.5C40.3 490.5 50.1 489.2 58.5 486.5C66.9 483.8 76.8 480.1 86.0 475.5C95.2 470.9 104.3 464.9 113.5 459.1C122.7 453.3 131.9 446.8 141.1 440.7C150.3 434.6 160.8 427.7 168.5 422.5C176.2 417.3 182.2 413.0 187.0 409.5C191.8 406.0 195.8 402.8 197.5 401.5"/><path d="M14.5 570.5C17.8 568.0 27.9 560.0 34.5 555.5C41.1 551.0 48.9 547.2 54.4 543.5C59.9 539.8 60.7 538.3 67.5 533.5C74.3 528.7 85.9 521.0 95.1 514.5C104.3 508.0 113.3 501.5 122.5 494.5C131.7 487.5 141.0 479.8 150.2 472.5C159.4 465.2 169.1 457.2 177.8 450.5C186.5 443.8 195.3 437.5 202.5 432.5C209.7 427.5 214.8 424.9 220.9 420.5C227.0 416.1 235.3 409.0 239.2 405.8C243.1 402.6 243.6 402.2 244.5 401.5"/><path d="M14.5 619.5C17.8 617.5 27.5 611.3 34.5 607.5C41.5 603.7 49.1 600.5 56.5 596.5C63.9 592.5 72.2 587.7 78.6 583.2C85.0 578.7 89.6 573.8 95.1 569.5C100.6 565.2 106.0 561.5 111.5 557.5C117.0 553.5 122.7 549.8 128.2 545.5C133.7 541.2 139.5 536.0 144.7 531.5C149.9 527.0 154.0 523.3 159.5 518.5C165.0 513.7 171.7 507.8 177.8 502.5C183.9 497.2 190.4 491.2 196.2 486.5C202.0 481.8 206.9 478.8 212.5 474.5C218.1 470.2 222.5 466.8 230.0 460.9C237.5 455.0 249.2 445.6 257.5 438.9C265.8 432.2 273.8 426.7 279.5 420.5C285.2 414.3 289.5 404.7 291.5 401.5"/><path d="M163.5 545.5C165.9 544.6 172.4 543.0 177.8 539.9C183.2 536.8 190.4 531.2 196.2 527.1C202.0 523.0 206.9 519.5 212.5 515.5C218.1 511.5 222.5 509.2 230.0 503.2C237.5 497.2 248.3 487.3 257.5 479.3C266.7 471.3 275.9 463.4 285.1 455.4C294.3 447.4 304.4 439.8 312.7 431.5C321.0 423.2 330.6 410.8 334.7 405.8C338.8 400.8 337.0 402.2 337.5 401.5"/><path d="M14.5 685.5C18.8 683.4 33.4 676.7 40.0 673.0C46.6 669.3 48.0 667.5 54.4 663.5C60.8 659.5 70.9 653.9 78.6 649.3C86.3 644.7 93.3 640.9 100.7 636.1C108.1 631.3 114.5 625.9 122.7 620.6C130.9 615.3 141.6 609.9 150.2 604.5C158.8 599.1 166.4 593.8 174.1 588.5C181.8 583.2 189.8 577.7 196.2 573.0C202.6 568.3 206.9 564.5 212.5 560.5C218.1 556.5 222.5 555.3 230.0 549.1C237.5 542.9 248.3 532.0 257.5 523.4C266.7 514.8 275.9 506.3 285.1 497.7C294.3 489.1 303.5 480.6 312.7 472.0C321.9 463.4 331.6 454.8 340.2 446.2C348.8 437.6 358.4 427.9 364.1 420.5C369.8 413.1 372.8 404.7 374.5 401.5"/><path d="M14.5 731.5C18.8 729.1 31.2 722.3 40.0 717.1C48.8 711.9 58.3 706.0 67.5 700.5C76.7 695.0 85.9 689.5 95.1 684.0C104.3 678.5 113.5 673.3 122.7 667.5C131.9 661.7 141.0 655.2 150.2 649.1C159.4 643.0 169.1 636.0 177.8 630.7C186.5 625.4 195.3 621.5 202.5 617.5C209.7 613.5 214.8 611.1 220.9 606.9C227.0 602.7 233.1 597.6 239.2 592.2C245.3 586.9 249.8 581.7 257.5 574.8C265.1 567.9 275.9 559.5 285.1 550.9C294.3 542.3 303.5 532.3 312.7 523.4C321.9 514.5 331.0 506.3 340.2 497.7C349.4 489.1 360.1 479.4 367.8 472.0C375.5 464.6 380.4 459.9 386.2 453.6C392.0 447.4 399.8 437.7 402.5 434.5"/><path d="M14.5 777.5C18.8 775.4 31.2 769.4 40.0 764.8C48.8 760.2 58.3 755.0 67.5 750.1C76.7 745.2 85.9 740.6 95.1 735.4C104.3 730.2 113.5 724.4 122.7 718.9C131.9 713.4 141.0 707.9 150.2 702.4C159.4 696.9 169.1 691.3 177.8 685.8C186.5 680.3 193.8 675.1 202.5 669.3C211.2 663.5 220.8 657.3 230.0 650.9C239.2 644.5 248.3 637.7 257.5 630.7C266.7 623.7 277.4 615.1 285.1 608.7C292.8 602.3 298.9 597.2 303.5 592.5C308.1 587.8 306.6 586.0 312.7 580.3C318.8 574.6 331.0 566.2 340.2 558.3C349.4 550.3 360.1 539.6 367.8 532.6C375.5 525.6 380.4 521.5 386.2 516.0C392.0 510.5 399.8 502.2 402.5 499.5"/><path d="M120.5 785.5C125.5 782.0 140.6 771.3 150.2 764.8C159.8 758.3 169.1 751.7 177.8 746.5C186.5 741.3 193.8 739.0 202.5 733.5C211.2 728.0 220.8 720.4 230.0 713.4C239.2 706.4 248.3 698.9 257.5 691.3C266.7 683.6 275.9 675.8 285.1 667.5C294.3 659.2 303.5 651.0 312.7 641.8C321.9 632.6 333.6 619.3 340.2 612.4C346.8 605.5 347.9 605.9 352.5 600.5C357.1 595.1 362.2 586.4 367.8 580.3C373.4 574.2 380.4 569.6 386.2 563.8C392.0 558.0 399.8 548.5 402.5 545.5"/><path d="M209.5 785.5C214.4 781.8 229.6 770.4 239.2 763.0C248.8 755.6 257.6 748.5 266.8 740.9C276.0 733.2 285.1 725.4 294.3 717.1C303.5 708.8 312.7 700.5 321.9 691.3C331.1 682.1 340.2 672.1 349.4 662.0C358.6 651.9 368.1 641.5 377.0 630.7C385.9 620.0 398.2 603.0 402.5 597.5"/><path d="M277.5 785.5C281.8 782.0 294.6 771.9 303.5 764.8C312.4 757.7 321.9 750.8 331.1 742.8C340.3 734.8 351.0 725.1 358.6 717.1C366.2 709.1 369.7 704.3 377.0 695.0C384.3 685.7 398.2 667.1 402.5 661.5"/><path d="M347.5 785.5C350.9 782.0 361.4 771.0 367.8 764.8C374.2 758.6 380.4 753.8 386.2 748.3C392.0 742.8 399.8 734.3 402.5 731.5"/></g><rect x="15" y="399" width="382.0" height="381.0" fill="none" stroke="#1e1e1e" stroke-width="1.2"/>
<text transform="matrix(1.16 0 0 1 24.8 451.7)" class="pn">(b)</text>
<rect x="409.2" y="400.0" width="21.1" height="379.9" fill="url(#gold)" stroke="#3a3a3a" stroke-width="1.2"/>
<line x1="409.2" y1="400.0" x2="441.3" y2="400.0" stroke="#505050" stroke-width="1.3"/>
<text transform="matrix(1 0 0 1.17 442.8 416.3)" class="gl">0.439</text>
<line x1="409.2" y1="779.9" x2="441.3" y2="779.9" stroke="#505050" stroke-width="1.3"/>
<text transform="matrix(1 0 0 1.17 442.8 778.0)" class="gl">0.000</text>
<line x1="430.3" y1="736.6" x2="441.3" y2="736.6" stroke="#505050" stroke-width="1.3"/>
<line x1="430.3" y1="693.4" x2="441.3" y2="693.4" stroke="#505050" stroke-width="1.3"/>
<text transform="matrix(1 0 0 1.17 442.8 709.7)" class="gl">0.100</text>
<line x1="430.3" y1="650.1" x2="441.3" y2="650.1" stroke="#505050" stroke-width="1.3"/>
<text transform="matrix(1 0 0 1.17 442.8 666.4)" class="gl">0.150</text>
<line x1="430.3" y1="606.8" x2="441.3" y2="606.8" stroke="#505050" stroke-width="1.3"/>
<text transform="matrix(1 0 0 1.17 442.8 623.1)" class="gl">0.200</text>
<line x1="430.3" y1="563.6" x2="441.3" y2="563.6" stroke="#505050" stroke-width="1.3"/>
<text transform="matrix(1 0 0 1.17 442.8 579.9)" class="gl">0.250</text>
<line x1="430.3" y1="520.3" x2="441.3" y2="520.3" stroke="#505050" stroke-width="1.3"/>
<text transform="matrix(1 0 0 1.17 442.8 536.6)" class="gl">0.300</text>
<line x1="430.3" y1="477.0" x2="441.3" y2="477.0" stroke="#505050" stroke-width="1.3"/>
<text transform="matrix(1 0 0 1.17 442.8 493.3)" class="gl">0.350</text>
<line x1="430.3" y1="433.7" x2="441.3" y2="433.7" stroke="#505050" stroke-width="1.3"/>
<text transform="matrix(1 0 0 1.17 442.8 450.0)" class="gl">0.400</text>
<g filter="url(#bl7)"><polygon points="627,476 763,573 635,689 499,592" fill="#f1f1f1"/><line x1="571.0" y1="648.0" x2="600.0" y2="516.0" stroke="#4a90ff" stroke-width="2.6"/><line x1="573.0" y1="648.0" x2="602.0" y2="516.0" stroke="#00d8a0" stroke-width="2.6"/><line x1="575.0" y1="648.0" x2="604.0" y2="516.0" stroke="#30e060" stroke-width="2.6"/><line x1="577.0" y1="648.0" x2="606.0" y2="516.0" stroke="#ffd020" stroke-width="2.6"/><line x1="579.0" y1="648.0" x2="608.0" y2="516.0" stroke="#ff9a40" stroke-width="2.6"/><line x1="581.0" y1="648.0" x2="610.0" y2="516.0" stroke="#ff5a80" stroke-width="2.6"/><line x1="583.0" y1="648.0" x2="612.0" y2="516.0" stroke="#ff40c0" stroke-width="2.6"/><line x1="624.0" y1="686.0" x2="656.0" y2="516.0" stroke="#4a90ff" stroke-width="2.6"/><line x1="626.0" y1="686.0" x2="658.0" y2="516.0" stroke="#00d8a0" stroke-width="2.6"/><line x1="628.0" y1="686.0" x2="660.0" y2="516.0" stroke="#30e060" stroke-width="2.6"/><line x1="630.0" y1="686.0" x2="662.0" y2="516.0" stroke="#ffd020" stroke-width="2.6"/><line x1="632.0" y1="686.0" x2="664.0" y2="516.0" stroke="#ff9a40" stroke-width="2.6"/><line x1="634.0" y1="686.0" x2="666.0" y2="516.0" stroke="#ff5a80" stroke-width="2.6"/><line x1="636.0" y1="686.0" x2="668.0" y2="516.0" stroke="#ff40c0" stroke-width="2.6"/><line x1="700.0" y1="636.0" x2="712.0" y2="545.0" stroke="#4a90ff" stroke-width="2.6"/><line x1="702.0" y1="636.0" x2="714.0" y2="545.0" stroke="#00d8a0" stroke-width="2.6"/><line x1="704.0" y1="636.0" x2="716.0" y2="545.0" stroke="#30e060" stroke-width="2.6"/><line x1="706.0" y1="636.0" x2="718.0" y2="545.0" stroke="#ffd020" stroke-width="2.6"/><line x1="708.0" y1="636.0" x2="720.0" y2="545.0" stroke="#ff9a40" stroke-width="2.6"/><line x1="710.0" y1="636.0" x2="722.0" y2="545.0" stroke="#ff5a80" stroke-width="2.6"/><line x1="712.0" y1="636.0" x2="724.0" y2="545.0" stroke="#ff40c0" stroke-width="2.6"/><path d="M528 566q8-16 22-20" stroke="#40a0ff" stroke-width="5" fill="none"/><path d="M533 566q8-12 17-15" stroke="#ffd040" stroke-width="3" fill="none"/></g>
<rect x="904.8" y="416.0" width="19.1" height="345.0" fill="url(#rainbow)"/>
<rect x="904.8" y="416.0" width="19.1" height="345.0" fill="none" stroke="#3a3a3a" stroke-width="1.3"/>
<line x1="923.9" y1="416.0" x2="934.9" y2="416.0" stroke="#404040" stroke-width="1.3"/>
<text transform="matrix(1 0 0 1.12 937.4 423.2)" class="rl">0.43</text>
<line x1="923.9" y1="440.6" x2="934.9" y2="440.6" stroke="#404040" stroke-width="1.3"/>
<text transform="matrix(1 0 0 1.12 937.4 447.8)" class="rl">0.40</text>
<line x1="923.9" y1="481.7" x2="934.9" y2="481.7" stroke="#404040" stroke-width="1.3"/>
<text transform="matrix(1 0 0 1.12 937.4 488.9)" class="rl">0.35</text>
<line x1="923.9" y1="522.8" x2="934.9" y2="522.8" stroke="#404040" stroke-width="1.3"/>
<text transform="matrix(1 0 0 1.12 937.4 530.0)" class="rl">0.30</text>
<line x1="923.9" y1="563.9" x2="934.9" y2="563.9" stroke="#404040" stroke-width="1.3"/>
<text transform="matrix(1 0 0 1.12 937.4 571.1)" class="rl">0.25</text>
<line x1="923.9" y1="604.9" x2="934.9" y2="604.9" stroke="#404040" stroke-width="1.3"/>
<text transform="matrix(1 0 0 1.12 937.4 612.1)" class="rl">0.20</text>
<line x1="923.9" y1="646.0" x2="934.9" y2="646.0" stroke="#404040" stroke-width="1.3"/>
<text transform="matrix(1 0 0 1.12 937.4 653.2)" class="rl">0.15</text>
<line x1="923.9" y1="687.1" x2="934.9" y2="687.1" stroke="#404040" stroke-width="1.3"/>
<text transform="matrix(1 0 0 1.12 937.4 694.3)" class="rl">0.10</text>
<line x1="923.9" y1="728.1" x2="934.9" y2="728.1" stroke="#404040" stroke-width="1.3"/>
<text transform="matrix(1 0 0 1.12 937.4 735.3)" class="rl">0.05</text>
<line x1="923.9" y1="761.0" x2="934.9" y2="761.0" stroke="#404040" stroke-width="1.3"/>
<text transform="matrix(1 0 0 1.12 937.4 768.2)" class="rl">0.01</text>
<path d="M1016.9 559.3H1373.5M1016.9 519.6H1373.5M1016.9 480.0H1373.5M1016.9 440.3H1373.5M1135.8 400.6V599.3M1254.6 400.6V599.3" stroke="#e6e6e6" stroke-width="1" fill="none"/>
<path d="M1016.9 435.9 L1022.0 437.9 L1027.6 435.9 L1032.1 437.9 L1037.6 433.9 L1042.1 435.9 L1045.9 441.5 L1051.4 447.0 L1054.5 453.4 L1056.8 472.4 L1060.4 496.6 L1063.3 518.4 L1066.8 534.3 L1069.2 531.5 L1071.1 555.4 L1072.8 529.6 L1075.1 491.1 L1077.3 438.7 L1080.6 445.0 L1083.2 452.6 L1085.6 435.9 L1089.6 437.9 L1095.1 435.1 L1099.6 437.9 L1104.4 450.6 L1108.9 460.5 L1112.5 452.6 L1117.2 439.5 L1124.4 436.7 L1131.7 435.9 L1139.1 436.7 L1144.6 435.1 L1151.0 433.1 L1157.4 435.9 L1163.8 435.1 L1171.0 436.7 L1174.8 450.6 L1176.7 472.4 L1178.3 503.8 L1180.7 531.5 L1182.8 531.5 L1186.2 533.1 L1189.3 520.4 L1191.2 472.4 L1192.3 447.0 L1194.7 438.7 L1196.9 438.7 L1198.8 440.3 L1202.3 435.1 L1209.7 433.9 L1217.1 433.1 L1224.4 433.9 L1229.9 433.1 L1235.4 433.9 L1242.5 432.7 L1248.9 436.7 L1251.8 448.6 L1254.4 467.3 L1257.2 496.6 L1259.9 526.0 L1262.2 542.3 L1265.3 551.8 L1267.2 560.9 L1268.2 571.6 L1270.1 537.1 L1271.8 481.9 L1273.7 437.9 L1279.1 439.1 L1282.7 433.9 L1290.1 433.9 L1297.4 432.7 L1304.6 433.1 L1311.0 431.9 L1319.3 433.5 L1324.8 436.7 L1328.3 436.3 L1332.1 448.6 L1335.7 481.9 L1339.3 518.4 L1341.2 546.2 L1342.6 566.5 L1344.3 546.2 L1346.6 503.8 L1348.5 445.0 L1351.2 433.9 L1354.0 439.5 L1356.6 437.9 L1360.4 432.3" stroke="#3c3c3c" stroke-width="1.15" fill="none" stroke-linejoin="round"/>
<path d="M1016.9 400.6H1373.5V599.3" stroke="#5a5a5a" stroke-width="1.4" fill="none"/>
<path d="M1016.9 399.6V599.3M1007.9 599.3H1373.5" stroke="#3c3c3c" stroke-width="1.6" fill="none"/>
<path d="M1007.9 599.0H1016.9M1011.9 595.0H1016.9M1011.9 591.1H1016.9M1011.9 587.1H1016.9M1011.9 583.1H1016.9M1010.9 579.2H1016.9M1011.9 575.2H1016.9M1011.9 571.2H1016.9M1011.9 567.3H1016.9M1011.9 563.3H1016.9M1007.9 559.3H1016.9M1011.9 555.4H1016.9M1011.9 551.4H1016.9M1011.9 547.4H1016.9M1011.9 543.4H1016.9M1010.9 539.5H1016.9M1011.9 535.5H1016.9M1011.9 531.5H1016.9M1011.9 527.6H1016.9M1011.9 523.6H1016.9M1007.9 519.6H1016.9M1011.9 515.7H1016.9M1011.9 511.7H1016.9M1011.9 507.7H1016.9M1011.9 503.8H1016.9M1010.9 499.8H1016.9M1011.9 495.8H1016.9M1011.9 491.9H1016.9M1011.9 487.9H1016.9M1011.9 483.9H1016.9M1007.9 480.0H1016.9M1011.9 476.0H1016.9M1011.9 472.0H1016.9M1011.9 468.1H1016.9M1011.9 464.1H1016.9M1010.9 460.1H1016.9M1011.9 456.2H1016.9M1011.9 452.2H1016.9M1011.9 448.2H1016.9M1011.9 444.2H1016.9M1007.9 440.3H1016.9M1011.9 436.3H1016.9M1011.9 432.3H1016.9M1011.9 428.4H1016.9M1011.9 424.4H1016.9M1010.9 420.4H1016.9M1011.9 416.5H1016.9M1011.9 412.5H1016.9M1011.9 408.5H1016.9M1011.9 404.6H1016.9M1007.9 400.6H1016.9M1016.9 599.3V607.3M1028.8 599.3V604.8M1040.7 599.3V604.8M1052.6 599.3V604.8M1064.4 599.3V604.8M1076.3 599.3V604.8M1088.2 599.3V604.8M1100.1 599.3V604.8M1112.0 599.3V604.8M1123.9 599.3V604.8M1135.8 599.3V607.3M1147.7 599.3V604.8M1159.5 599.3V604.8M1171.4 599.3V604.8M1183.3 599.3V604.8M1195.2 599.3V604.8M1207.1 599.3V604.8M1219.0 599.3V604.8M1230.9 599.3V604.8M1242.7 599.3V604.8M1254.6 599.3V607.3M1266.5 599.3V604.8M1278.4 599.3V604.8M1290.3 599.3V604.8M1302.2 599.3V604.8M1314.1 599.3V604.8M1326.0 599.3V604.8M1337.8 599.3V604.8M1349.7 599.3V604.8M1361.6 599.3V604.8M1373.5 599.3V607.3" stroke="#555" stroke-width="1" fill="none"/>
<text x="1006.4" y="598.1" class="pl" text-anchor="end">0.0</text>
<text x="1006.4" y="562.6" class="pl" text-anchor="end">0.1</text>
<text x="1006.4" y="522.9" class="pl" text-anchor="end">0.2</text>
<text x="1006.4" y="483.3" class="pl" text-anchor="end">0.3</text>
<text x="1006.4" y="443.6" class="pl" text-anchor="end">0.4</text>
<text x="1006.4" y="409.1" class="pl" text-anchor="end">0.5</text>
<text x="1016.9" y="618.3" class="pl" text-anchor="middle">0.0</text>
<text x="1135.8" y="618.3" class="pl" text-anchor="middle">0.5</text>
<text x="1254.6" y="618.3" class="pl" text-anchor="middle">1.0</text>
<text x="1373.5" y="618.3" class="pl" text-anchor="middle">1.5</text>
<text x="1193.2" y="631.3" class="pl" text-anchor="middle">x</text>
<text transform="translate(990.9,499.9) rotate(-90)" class="pl" text-anchor="middle">y</text>
<rect x="1314.5" y="404.1" width="56.5" height="16" fill="#fff" stroke="#555" stroke-width="1.2"/>
<line x1="1319.0" y1="412.1" x2="1329.0" y2="412.1" stroke="#444" stroke-width="1"/>
<text x="1332.5" y="415.6" class="pl">Profile 1</text>
<g filter="url(#hmc)"><rect x="15" y="847" width="384.0" height="387.5" fill="#000" fill-opacity="0"/><g transform="translate(15,847) scale(0.5)"><path d="M4 28l-4 0-1-4 1-12 16-1 11-11 20 0-10 12-13 6-8 9-12 1zM145 33l-4 1-8-17-12 1-20-5-37 2-4-2-1-5 2-4 7-4 33 0 24 3 12 11 8-4 4-10 17 0-9 13-7 15-5 5zM173 90l-8-2-5-7-2-36 15-29 12-16 17 0-18 24-11 21-3 20 8 20-5 5zM314 77l-10 0-6-16-19-8 5-16-1-5-16-20-6-2-28 4-10 6-22 29-1 8 2 12-5 5-4 1-4-3-3-15 7-20 18-25 10-9 24-4 32 1 4 10 13 5 6-15 15 0 0 8-5 11-12-1-4 2-7 12 13 13 7 12 11 5 4 2 2-3 6-15 12 3 3 8-7 12-12-2-12 10zM390 30l-14-6-10-14-8-6-12-4-8 3-11-3 46 0 23 20 1 4-7 6zM547 118l-8 4-8-1-4-3 1-17-7-12 4-20-4-12-6-7-12-4-8 10-16-7-9-12-12-8-4 0-16 7-28-8-7-4-2-4 5-12-8-8 17 0 3 12 12 7 20 1 12-6 8-1 6 3 1 12 6 6 16 4 12-6 8-1 4 2 4 12 12 5 10-13 11-5 4-8-3-8-15-16 19 0 13 16 1 12-4 9-16 16-16 2-5 10-1 32 12 13-2 8zM446 5l-8 1-10-6 31 0-13 5zM503 22l-8 1-6-3-5-4 1-4 20-12 16 0-18 22zM571 110l-4 1-8-6-9-28 9-13 12-2 7-5 16-25-1-16-9-16 18 0 8 16 1 8-8 25-8 9-2 7 3 8 13 12-10 14-4 0-8-9-4-14-8-5-4 1-4 6-1 7 12 12 0 4-7 9zM334 479l-11 0 11-29 28-13 20-29 36-24 4 0 23 14 10 12 23 13 13-2 36-26 8 1 12 8 16 0 4-2 4-8 15-9 25-20 2-8 0-32 6-14 0-9-6-10-5-16-9-7-4 5-1 6 12 12 3 8-1 16-6 17 3 20-6 8-12 10-16 9-7 10-13 0-16-10-8 0-36 23-8 3-9-2-32-28-20-3-7-8-1-4 8-6 35 14 6 4 6 12 5 4 9 1 8-3 29-26 1-16 7-16-1-13 5-16-1-5-20-3-16-8-7-8 0-8 6-16 2-13-6-12-1-8-15-20-11-33-5-6-8-5-4 3 0 8 16 41 18 20 1 4-1 25-10 10-10-10 0-4 7-9 0-8-13-13-8-15-11-28-2-21-7-5-12-2-8-12-8 2-6 5-8 24 1 9 9 8 16 22 4-2 5-8-20-33 0-4 7-6 4-1 3 3 13 25 1 16 10 24 9 9 11 20-7 4-8 0-6-8-6-18-20-18-8 2-8-2-20-31-8 1-8 5-16 2-5 10 7 12-1 4-5 8-4 1-6-5-1-16-6-12 1-6 4-4 16-2 8-6 20-8 12-30 17-13-8-8-9-1-7 5-3 4-4 16-11 16-35 17-12-4-17-13-12-5-24-4-28 2-24-6-12-7-1-4 2-4 7-6 4 1 8 10 8 4 36-5 12 2 29 8 16 14 8 1 16-6 9-7 13-16-2-10-4-2-4 1-16 20-12 4-8-3-8-11-25-4-20-7-36 6-5-2-3-4 2-4 6-4 16 0 20-8 20 9 13 1 6-3 14-14 20-5 8-12 48-5 36 10 16-5 6 3 10 15 4 1 7-4 1-4-3-8-9-11-8-5-8-1-20 3-24-7-16-1-20 3-6-5-5-16-13-8-8 1-4 11-4 2-13-2-2-4 3-11 4-3 12 0 12-13 22 14 6 13 8 7 16-6 44 12 12-5 12 2 22 22 2 20 5 9 4 1 16-7 5 9-2 13-3 3-4 0-8-3-8-10-17 2-16-4-24-15-12 5-28-8-44 5-5 4-1 4 3 4 11 5 36-7 20 7 20-1 16 11 41 6 6 8 16 36 2 17 4 5 8 4 4 0 4-5-10-17-1-16-9-12-3-12 3-10 12 1 2 1 4 32 11 16 0 17 15 5 12 10 24 0 16-3 24-14 16-3 4-3 0-9-4-2-8 1-28 15-16 5-12 2-8-1-12-5-8-8-5-19-10-12 0-8 11-10 20-7 12-1 12-16 4-1 12 5 12-4 4 1 24 23 12 3 17-13 12-20 8-2 5 5-1 9-24 32-4 2-17 1-10 5 4 8 6 2 8-1 13-7 13-2 6-12 13-15 7-13 1-9-2-4-10-7-8-11-8 1-12 13-7 4-6 17-4 2-8-1-12-16-20-6-11-8 1-16-3-12 1-4 11-12 3-9-5-32 18 0-3 20 1 4 7 4 4-1 6-7-2-20 15 0 3 20-4 12-6 4-16 4-8 5-5 8-4 20 9 9 7-1 3-4-3-12 2-8 7-4 12-2 21-18-3-33 15 0 4 28-2 9-14 19-4 2-13-1-4 3-5 13-7 8-1 4 5 9 8 2 4-2 4-17 13-10 16-3 3-3 1-12 8-6 36 17 8 17 8 1 4-4 0 13-4 1-5 9 4 21-2 8-14 24-4 12 12 37 3 28-6 9-16 6-8 11-24 10-13-7-2-4 5-13-14-7-4-9 1-4 11-10 12 4 6-2 3-8-1-6-4-2-8 3-12 10-25-9-12-1-36 18-24 2-13 5-5 4-1 8-5 8 4 21-3 16-3 8-15 16 0 17-5 24-9 12 0 4 7 8 24 3 8-11 14-12-2-20 8-21-3-8-5-1-5 5-3 29-8 20-4 4-8 3-6-3-4-8 12-16 0-17 5-16 12-12 3-8 0-28-3-17 9-4 32-3 24-14 16-6 8 0 8 11-4 8-4 3-20 1-12 11-14 6-1 4 8 8 3 16 16 29 4 0 4-4 1-5-12-12-8-24 0-8 3-7 16-4 12-7 13 3 9 15 2 12 9 7 26-3 14-13 32-16 0 19-24 14-6 8 0 4 9 12-3 14-4 4-4 0-12-6 0-16-4-3-10 3-1 4 11 12 8 14 8 0 16-7 5-7 0-8-7-12 2-12 4-3 12-2 2 37-2 16-20 21 0 4 4 3 4-1 7-6 5-10 0 78-12 10-12 4-16 0-16-4-20 2-7-3-6-12-10-8-22-11-8 0-4 2-8-9-8-2-12 10-12 6-12 11-12-1-8 14-4 3-21-11-11-1-8 3-32 24-9 2-8-11-16-5-8-10-16-12-8-4-8 0-24 18-16 26-32 16-4 7 0 9-4 3zM768 60l-20-15-32-15-4-10-1-20 18 0-5 12 4 7 40 22 0 19zM768 26l-8-10-16-3-4-5 1-8 17 0 6 11 4 1 0 14zM543 30l-17-2-2-8 3-8 8-2 8 3 3 7-3 10zM48 487l-16-6-12 1-12-6-8 1-1-2 1-15 12 4 6-1 2-4-3-17 11-9 13-23-2-8-11-16-7 8 8 12-1 8-14 12 0 16-14 6-1-14 5-16-4-8 0-10 4 7 11-9 0-4-9-9 1-12 13-24 18-12-6-6-10 2-22 30 0-32 12-7 5-16-4-20-9-5-4 2-1-9 2-4 19-6 12-9 16 2 2 9-6 7-16-2-5 3 1 9 12 6 24-11 6-8 1-8-3-6-9-2-11-16-16 6-8-2-12 11-8 1-1-114 1-10 4-4 8 2 3 4 0 8-11 12-2 12 9 29 1 20-2 20 6 7 4 0 7-19-2-16 2-16-8-17-1-12 4-8 14-15 8 5 8-3 6-7 2-8-1-4-7-4-3-17-5-7-12-1-12-12-20 5 0-42 8 4 4-2 8-13 8 0 4 4 0 12-4 3-16 1-4 8 4 7 8 5 12-5 4-11 4-4 12-3 4 1 2 10-18 12 1 8 7 7 8-3 12-20 12-8 25-1 8 7 4 14-1 8-3 5-12 5-4 4-13 37-12 2-8 8-2 8 6 6 8-1 12-21 9 3 4-3 9-28 7-8 12-2 5-11-4-28-7-12-26-9-37 4-20-14 0-6 8-5 7 1 9 11 24-4 17 1 24 9 8 1 2 3 7 52 7 7 12 4 9 6 9 24-6 16-16 1-8-2-18-11-2-8 2-4 6-3 4 1 8 10 8 5 10-5 0-8-22-16-16-4-15 16-2 8 5 11 12 16 16 4 12 8 8 1 8-3 5-9 7-3 36 5 40 0 12 2 20 12 11 13 1 20 7 16-4 37 3 12 7 3 6-3 1-8-2-16 11-20 24 7 10 21-5 12-1 20-7 16-29 14-12 0-8-7-16-5-16-18-7-32 1-25-5-12 0-12-7-12 0-4 9-4 9 8 9 36-3 25 5 24 8 12 17 11 8 2 12-2 17-11 7-36-4-10-8-3-5 5 0 24-6 12-5 4-12 0-12-10-6-10 2-41-6-16-2-19-9-10-20-9-20 2-40-6-26 5-13 21-1 12 5 20-2 16-7 11-12 0-7 6-3 28-30 44-4 3-13-2-8-10-8-4-4 0-8 11-16 7-2 4 18 23 24 5 21-30 12-5 20-22 13-20 2-20 5-10 4 0 6 6-1 20-12 24-21 27-16 8-11 22-2 8 7 17-2 12-8 3-5-3-4-8 1-14-5-6-4-1-4 6-1 11 9 28-8 6-16 22-14 33-6 4zM221 94l-5-1-4-4 3-12-3-12 9-17 8-12 12-9 12-2 8 3 5 9-5 11-12-8-8 2-20 31 8 7 8-1 12-18 12-11 8 7 0 8-11 8-9 15-28 6zM507 84l-4 1-10-8-2-8 4-10 8 1 7 9 0 8-3 7zM712 239l12-12 12-3 5-9-1-8-8-20-4-29 2-12 15-20 2-12-1-33-19-16-7-3-12 3 0 4 4 6 17 10 3 8 1 21-4 12-13 16-2 8 7 16-3 21 9 16-1 16-2 8-16-1-11 9 4 4 11 0zM77 122l5-29 3-4 16-6 2-6 0-4-6-6-13 3-19 23-3 29 10 2 5-2zM294 91l-9 1-9-3-4-8 1-9 8 0 16 9 0 4-3 6zM201 108l-4 1-8-4-5-8-1-8 10-1 11 5 1 8-4 7zM36 137l-8-7-4-11-4-4-17-1-3-9 4-6 8-2 8 3 22 18 0 8-6 11zM326 122l5-4 3-8 0-5-4-3-8 2-8 5-5 9 1 4 4 2 12-2zM566 223l-2-8-5-5-12-1-16-7-16 5-13-8-2-12-9-25-12-24-5-5-8-1-8 5-12-10-16-3-12-7-4 0-9 5-1 4 6 10 20 0 16 14 12-11 8 8 8 12 12 32 7 8 1 16 5 3 8 2 16-5 32 9 11-1zM588 174l27-9 11-11 15-4 2-4-8-12-20-16-4-1-12 9-12 1-7 11 4 4 11 2 12-10 8-1 7 5 2 4-1 7-4 3-12 1-16 8-8 0-8-3-2-4 2-12-4-3-8-2-5 5-2 8 12 12 3 8 8 6 9-2zM107 312l18-24 1-28 3-7 26-18 2-8-7-28 8-16-5-8-16-2-16-7-4-3-5-13-11-8-6 8 1 12 5 4 12 1 2 3-2 10-4 2-8 0-13-13-16-1-16 16-12 4-4 5-2 30 6 10 12-2 4 2 5 6 3 13 4 3 16 3 9-6 13-21 15-13 8-4 9 5-1 8-17 8-13 21-1 28-14 16-4 8 0 5 5 3 10-4zM768 200l-11-38 11-19 0 57zM47 174l8-12-3-5-8-3-8 5-3 11 3 6 4 2 7-4zM678 187l20-8 4-5 2-8-4-7-4 0-12 13-13 2-6 5 2 8 11 0zM64 221l-4 2-4-2-3-6-1-4 3-8 21-18 12 1 4 9-3 4-15 4-10 18zM88 240l-4 1-5-2-3-4 0-8 13-12 4-12 4-3 16-2 12-12 12 0 4 9-2 4-6 3-16 0-8 11-12 10-9 17zM157 401l-24-3-9-13-1-12 6-12 24-18 14-18 20-37 1-12-8-20 6-21-5-28 1-12 7-7 24-5 16 6 16-1 6 7-1 12 7 12-6 12 6 12-2 17 12 40 6 9 17 7 8 10 20 7 11 28-13 8-8 12-6 3-8-5-7-14-14-13-28-16-17 1-3-4 4-8 12-4 49 27 8 17 12 1 3-5 0-8-5-8-10-9-33-19-19-17 3-2 4-10-12-16 5-16-9-10-4-1-6 7-2 8 8 12-3 16 15 12-2 4-22 5-5 7-7 21-11 12-6 12-16 12-19 28zM150 385l12-16 23-21 15-23 6-17 15-16 2-4-8-16-4-16 1-8 9-12 16 2 11-7-7-12-5-16-7-7-28 2-6 5-2 8 8 16-5 37 6 12 2 8-29 53-36 36 2 11 4 3 5-2zM483 373l-13-2-1-6 5-6 17-6 3-16 8-8-1-8-6-7-22-10-6-12-9-6-20 1-8-10-4-1-12 4-4-1-3-7 5-8 0-8-10-11-20-8-12-15-18-11 0-4 6-8 8 0 5 4 7 14 20 13 17 5 15 34 24 5 16-1 13 19 34 16 2 8-9 13 2 12-2 8-15 19-12 5zM221 230l-13-7-1-4 6-9 8 0 5 5 0 8-5 7zM768 227l0-10 0 10zM541 284l8-12 1-29-7-6-24-6-6 0-5 8 7 10 16-3 6 6 3 8-8 12-1 8 4 6 6-2zM602 260l11-8-2-4-12-3-6 3-2 4 4 7 4 3 3-2zM462 351l-12 0-16-9-16 2-24-9-12-8-16 4-20 13-8-1-3-6 3-6 20-6 8-9 15-8-2-16 5-16-5-16 1-4 6-4 4 1 4 5 5 14-5 12 2 16-13 8 3 9 4 4 28 8 20-1 16 9 8-1 12-13 9 1 5 9-3 4-23 14zM665 272l3-4-1-8-8-5-4 2-2 7 1 4 5 4 6 0zM517 276l5-4 1-4-4-8-4-4-4 1-7 7 1 8 6 5 6-1zM48 316l8-7 16 0 11-17 10-8 5-8-1-8-5-6-4 1-12 21-20 20-16-3-6 3-2 8 4 6 4 1 8-3zM697 292l-5-6-25-2-2 4 0 4 6 2 21 1 5-3zM462 317l-16 3-4-1-8-9-24 1-6-7-1-4 7-5 8-1 8 2 12 8 24 0 4 4-4 9zM0 319l0-21 5 10-5 11zM675 349l-8-15-3-1 15-12 0-5-12-1-4 6 0 12-3 12 3 6 12-2zM703 333l2-8-5-7-4-2-10 0 0 5 10 10 4 3 3-1zM753 406l2-4-3-7-20 3-24-2-8-4-24-19-13-5-12-1-4-2-6-8-3-8 4-16 0-12-3-4-5 4-2 8 1 20-2 12 4 8 16 3 16 8 16 10 17 16 40 3 13-3zM84 354l-8 3-10-4-3-8 3-8 10-3 10 3 3 8-5 9zM731 349l3-4-6-9-11 5 3 8 4 2 7-2zM197 461l-8-15 4-12 0-8-4-7-10-9 0-12 22-33 24-18 29 10 19 16 10 21 15 7 12-1 20-16 4-7-1-12 21-5 16-13 8-2 12 3 16 13 0 4-8 15-27 14-19 28-34 16-7-4-1-8 4-3 16-1 8-5 11-11 17-25 22-8 3-4-1-8-4-3-8 0-24 11-11 12-9 18-28 16-29-8-14-26-10-10-20-9-12 3-15 12-14 25 2 8 11 7 1 5-3 32-6 7zM751 377l3-4-1-4-5-5-20 7-24-10-12-15-11 3 6 8 25 20 8 2 31-2zM32 381l11-12-3-7-8 1-4 6 0 8 4 4zM39 471l5-4 6-17 22-32 0-4-7-12 2-17-3-5-4-2-7 7 1 9 7 12-4 12-30 45 5 7 7 1zM261 573l-12-14-12-3-11-8 4-16-10-13 3-16-6-12-5-24 8-17 3-28-2-7-8-2-3-7 3-14 16-12 8 0 9 5 15 30 8 9 21 4 4 6-4 8-9 0-12-9-8 9-6 25 6 36 0 16 16 7 17-6 11-13 1-8-3-12 3-6 8-2 6 4-2 24-12 21-16 8-21 4-8-2-13-27-5-40 3-21 8-16 2-8-3-6-8-6-4-16-8-6-8 4-2 14 2 3 12 5 1 4-12 49 5 20-2 12 10 16-3 13 13 18 4 4 16 1 7 5-7 9-8 4zM696 776l-15-1 15-27 17-14 2-4-3-4-8-2-16 16-17 24-4 11-4 1-12-1 2-12 7-8 7-17 13-12 2-8-2-4-13 0-6 16-10 8-4 19-4 4-7-2-3-4-2-12 1-5 11-9 6-19 10-5 8-8 9-2 8 2 8 13 8 5 4 0 4-7-1-6-3-3-12-5-8-13-8-1-25 7-3 3 1 16-2 2-8 0-16-12-8 3-8-2-6-7 0-8 1-4 9 2 16 10 16-4 2-12 6-4 20-2 17-7 10-16 4-16 6-12-3-16 2-13-5-16 3-4 7-2 16 5 5-3 1-8-10-6-20-5-3 3-14 24 5 20 0 25-10 24-6 7-29 4-19-23-1-12-9-12-1-17-10-9-36-2-8 7-8 2-8-3-8-7-20-1-12-7-24 3-22-3-1-4 4-12-2-4-8-7-16-5-1-8 5-9-21-32 4-16-5-16 9-13 2-12 3-3 12 4 8 11 20 1 3 3-1 4-13 13-1 4 7 16 0 8 8 16-3 9-8 1-7-10 4-12-2-4-8-8-4-8 5-16-4-14-8 0-6 5-1 33 15 24-7 12 11 9 20 8-1 16 10 7 8-2 4-9-12-12-1-4 8-17 2-8-2-12-11-16 4-14 6-10 34-29 8-3 8 3 4 8-4 4-16 6-12 13-12 7-4 7 0 8 9 12 2 8-1 12-6 12 1 9 8 24 7 6 15-6 2-8 11-12 2-17 10-16-1-4-7-3-4-2-4 2-11 32 0 16-5 1-8-4-2-5 9-37-3-8-7-8 1-12 6-7 21-14 3-8-3-4 3-3 4 1 8-3 8-9 13-2 11-15 12-1 16-12 16-8 12 11 16 7 19 14-2 12 4 6 8 0 12-6 36 6 32-10 0 19-44 10-16-8-20 7-29-3-12 5-12 13-20 5-24 23-9 2-4-4 1-8 21-20 15-10 22-7-2-8-4-2-8 0-12 9-16 4-28 30-8 16 8 6 24 8 30-26 14-6 8 0 12 13 37-1 8 2 10 16 3 17 23 11 12 11 8 0 12-9 0 21-16 1-9 5 0 8 5 5 8 0 12-8 1 11-1 6-12 4-8 10-5 41-11 28-4 4-8 0-6-11 1-5 11-12 6-28-2-12 8-17-2-8-8-5-8 1-4 4 8 21-8 12 1 12-7 24-2 4-13 9 3 8 29 20-4 24 4 4 5 0 6-12-6-16 1-4 11-13 6-20 6-8 5-36 7-10 1 42-5 8 1 17-12 24 3 20-1 8-3 5-15 7-5 12-12 1-8 5-16 20zM173 448l-4-1-3-5-13-24 4-13 12 9 4 12 8 12 0 4-8 6zM113 516l-13-5-2-28 3-8 17-25 14-12 0-8-11-8-2-4 4-8 10-3 6 7 3 16 6 12 1 7-19 10-17 24-1 12 8 12-7 9zM599 442l12-9 16-7 12 2 16 14 8-4 0-4-8-8-20-12-8-1-40 20-5 9 9 4 8-4zM635 775l-17 0-10-8-9-15-14-14-3-8 0-20-3-10-8-8-16-6-8 3-7 9 0 24 3 11 4 3 10-6 1-4-7-16 4-7 8-1 6 12-2 16 3 13 30 32-20 0-21-24-16-9-16-1-21 10-21 24-59 0 0-8-13-16-1-13 4-24-6-5-8 2-5 7 2 16-4 17 3 8 16 16-23 0-5-5-4-11 2-21-5-16 9-8-2-12-8-4-16-2-40-11-8 4-3 5 4 8 7 2 12-1 16 6 16 1 6 4 6 8-8 5-8 0-12-6-36-3-20-11-7 23-14 25-24 7-16 0-12 7-12 2-4 4-18 0 6-10 4-3 12-1 7-10 1-4-5-13 1-40-80-40-20-23-8-6-17-1-28 3-7-2-37-29-8-3-8 0 0-16 23 7 37 27 8 1 20-3 25 5 10 7 22 23 44 21 12 9 8 0 29-45 13-37 6-9 4-2 12 3 12-2 17 6 12-10 8-18-2-4-6-5-1-7 16-21 1-16 11-16 1-8 28-21 8-1 4 6-4 6-18 10-8 8-13 28 0 13-12 16-2 8 13 8 9-16 2-16 7-9 9-20 9-9 16-8 7-7 0-8-6-12 5-21 14-17 12-4 7 5 3 8-2 3-8-1-8 2-6 8-3 8 0 21 5 16-1 4-23 9-14 15-13 33-5 24 4 12-1 8-31 41 1 4 10 12-1 4-10 4-16-2-12 6-14 25-1 12 3 4 8 4 6-12 3-16 7-5 12-2 44 12 20 0 4 2 4 9 12 4 8-5 24-28 12-3 16-9 25-7 40 9 6 6 3 13 11 4 7-8-15-25-8-5-36-9-25 3-28 12-12 10-16-5-3 6-1 17-4 4-8 3-9-3 0-4 9-17-3-8-5-4-12 2-12-16-12 6-3 8 7 8 16-3 4 2 2 9-2 7-8 1-24-6-12-10 0-4 9-8 2-16 13-10 4 0 8 10 16 4 28 18 12-9 16-4 12-8 20-8 33 1 20 8 9-6-9-11-32-8-33 3-24 14-20 7-8 1-28-18-16 2-4-10 8-8 24 6 16 12 8 1 24-10 12-14 16 3 21-3 20 2 28 8 4 5 2 6-2 12 4 12 15 20 0 17 17 14 10 14 5 12 0 20 17 17 8 17 12 11zM80 501l-12 2-3-4 7-28 9-17 14-16-1-16 7-3 8 1 5 6-2 12-27 37-1 20-4 6zM543 491l30-32 5-13-7-2-8 3-16 22-18 10-2 8 2 4 10 4 4-4zM306 468l-4-2-4-7 4-9 8-3 4 6-1 6-7 9zM197 658l-12-14-20-6-16-9-16-20-8-6-33-9-32 2-29-24-23-10-8 1 0-15 8 5 12-2 8 3 20 12 9 10 7 5 24-2 17 3 16 8 16-3 4 3 7 19 17 14 8 3 7-1 3-4-6-13-12-3-4-4-3-13 19-34 14-14 4-13-1-16-7-24-6-9-8-5-20-3-3-3 3-11 8-1 8 1 12 10 12-1 16 50-2 21 16 12-7 12 1 12-9 12-11 30-10 11 4 12 10 1 4-5 20-45 1-16 7-3 4 0 4 7-19 53-10 12-5 12-10 5zM285 508l-8 1-4-6 4-16-6-24 2-6 4-2 6 4 3 8 0 16 4 12-5 13zM768 543l-8-6-16-2-20-16-8-23-8-9-8-4-16 4-29-3-6-5 2-8 8-4 17 3 16-1 24-6 4 4 0 19 8 2 4-3 4-14 16-3 16-8 0 18-12 2-16 12-4 3-1 8 5 12 4 2 8-1 8 10 4 2 4-1 0 16zM141 530l-4-3-3-12-8-12 4-24 7-6 12-3-2 13-8 12 3 8 7 9 1 7-1 5-8 6zM141 582l-12-8-16-2-16-9-21 3-8-1-9-5-7-13-16-2-16-10-20 6 0-16 8-5 8 1 8 4 16 3 12 12 12 0 12 12 8-1 13-7 13 12 27 7 5-3 22-37 1-12-7-12-2-8 3-4 6-1 8 9 6 20-1 12-29 48-8 7zM68 536l-4 1-5-14-7-6-44-12-8 2 0-14 16-2 12 6 16 1 19 5 2 12 7 5 16-6 7 1 2 8-5 10-24 3zM756 516l-4-5 0-12 4-4 12-3 0 17-12 7zM662 641l10-8 5-12 2-12-4-17 2-12-6-8-23-16 7-20 16-12 13 3 12 14 4 3 4-2 3-10-19-20-4-2-13 4-18 1-8 17-14 10-12 4-16 12-7-2-4-8 1-4 26-11 12-12 14-10-2-8-12-1-20 20-20 5-7 9-2 12-7 10-4 2-20-5-14 5 6 11 20 1 12-7 24 5 16-2 7-4 9-13 15 5-7 12-13 8-2 8 9 12 2 25 8 4 8 14 11 2zM382 581l-8-1-4-8 5-24 9-21 10-12 12-6 8 1 6 5 2 8-4 6-12-5-8 3-14 33 6 16-8 5zM572 540l3-8-4-8-4-2-8 4-4 6 1 8 7 3 9-3zM133 546l-8 0-12-6-4-8 4-7 16 5 8-2 1 12-5 6zM426 597l-11-5-24-16 11-12 2-16 14-11 6 3 2 8-1 4-13 12 2 13 8 4 10-5-1-16 3-5 8 3 10 10 0 4-10 8-8 13-8 4zM683 556l2-8-2-4-7-3-9 3-1 8 5 7 9 0 3-3zM187 601l4-5 6-20 11-16-3-8-4-3-8 2-8 20-11 17 3 13 4 3 6-3zM298 570l-8 0-9-10 13-10 7 2 3 4-1 8-5 6zM235 690l31-53 5-20 6-5 13 2 12-2 12 3 8-1 25-34 0-8-9-8-17 28-7 6-8 1-8-4-13 4-16-5-4 2-5 9-11 32-28 45 0 8 8 3 6-3zM655 625l-5 0-3-3 3-21-8-13 1-8 8-4 4 1 6 7 0 17 4 12-1 8-9 4zM599 677l-14-7-4-9-3-16-14-20-3-16 2-8 4-4 12 3 12-7 8 3 6 9 2 16 11 12 3 16 18 16 0 5-8 3-8-1-7-7-8-20-13-12 0-16-12-12-4 2-3 10 4 8 11 8-2 12 13 20 0 9-3 3zM193 756l-10-5 1-33-4-8-27-17-24-3 1-8-5-6-12 1-21 6-28 0-4 7 2 4 10 5 12-3 17 0 28-6 2 4-4 8-6 4-29 5-20-2-12 9-7-12 0-12-2-4-11-7-6-9-1-9 6-8-2-8-5-6-12-4-8-16-8 0-4 3 0-20 8 3 20 13 12 12 12 7 8 1 37-4 8 3 3 4 1 5-4 5-21-3-12 5-16-3-8 3-1 8 9 10 4-1 12-8 20 3 9-2 8-7 8 0 8 2 11 12 29 10 28 16 6 10-3 16 4 17-3 9-4 4zM235 751l10-6 16-1 5-6 10-24-8-16 1-12 25-43 4-2 16 3 11-7 0-4-7-6-4-2-12 3-12-2-5 1-6 6-4 16-14 21-8 20-3 12 7 5 4 7-2 8-6 8-8 4-7-4-1-4 11-20-3-4-12-1-4 3-4 10 4 16-5 13 0 4 11 4zM8 776l-9-1 1-12 25-20 5-13-10-35-4-1-6 4-2 8 6 16 0 8-5 8-9 8-1-52 9-29-2-8-6-5 0-15 4 5 10 3 4 4 5 16-4 13 1 10 12 4 4 4 10 38-9 17-25 24-4 1zM455 767l7-6 8 3 8-2 7-7 2-8 12-8 8-13 12 7 5-3 3-8-2-20 6-20-2-8-26-12-25 1-32 16-20 23-4 8 9 12-5 12 6 17 0 12 10 6 8 0 5-2zM458 758l-12-6-4-5 2-13-7-16 9-18 12-10 25-13 20-1 8 3 4 11-7 12 4 8-1 9-4 7-12-6-8 2-4 21-15 0 3-25 7-9 17-2 10-9-6-6-8-2-25 11-8 8-6 21 6 8 8 5-8 15zM768 719l-4-13 4-13 0 26zM48 776l-17-1 25-24 53 0 20 3 12-12 12-6 3-6-3-7-8-2-20 16-49 0-12 3-8-5-1-5 5-11 16 6 41-2 11-5 9-9 8-2 16 6 9 9 1 8-6 14-16 9-12 18-8 0-12-5-49-2-8 3-12 9zM627 733l-8 0-7-7-2-8 5-7 8 1 6 6 1 8-3 7zM281 775l-15 0 5-4 6-11 13-4 4-3 6-23 10-6 4 3 2 7-14 33-21 8zM732 775l-21 0 5-8 15-8 2-8 19-8 16-16 0 24-16 15-16 1-4 8zM366 776l-45-1-1-8 5-16 1-11 4-6 8-1 12 5 12 1 5 4 5 8-5 12 3 12-4 1zM353 767l4-8-7-10-8 0-7 6 1 8 6 7 4 1 7-4zM169 775l-19 0 8-8 7-14 4-2 10 4 0 4-10 16zM559 776l-12 0-12-5-16 5-12-1 12-15 16-4 12 4 15 15-3 1zM768 775l-2 0-1-4 3-6 0 10zM253 775l-8 0 11 0-3 0zM756 775l-14 0 6-3 8 3z"/></g></g><rect x="15" y="847" width="384.0" height="387.5" fill="none" stroke="#1e1e1e" stroke-width="1.2"/>
<text transform="matrix(1.16 0 0 1 24.8 899.7)" class="pn">(c)</text>
<rect x="411.2" y="847.5" width="20.5" height="387.1" fill="url(#gold)" stroke="#3a3a3a" stroke-width="1.2"/>
<line x1="411.2" y1="847.5" x2="442.7" y2="847.5" stroke="#505050" stroke-width="1.3"/>
<text transform="matrix(1 0 0 1.17 444.2 863.8)" class="gl">0.584</text>
<line x1="411.2" y1="1234.6" x2="442.7" y2="1234.6" stroke="#505050" stroke-width="1.3"/>
<text transform="matrix(1 0 0 1.17 444.2 1232.7)" class="gl">0.000</text>
<line x1="431.7" y1="1201.5" x2="442.7" y2="1201.5" stroke="#505050" stroke-width="1.3"/>
<line x1="431.7" y1="1168.3" x2="442.7" y2="1168.3" stroke="#505050" stroke-width="1.3"/>
<text transform="matrix(1 0 0 1.17 444.2 1184.6)" class="gl">0.100</text>
<line x1="431.7" y1="1135.2" x2="442.7" y2="1135.2" stroke="#505050" stroke-width="1.3"/>
<text transform="matrix(1 0 0 1.17 444.2 1151.5)" class="gl">0.150</text>
<line x1="431.7" y1="1102.0" x2="442.7" y2="1102.0" stroke="#505050" stroke-width="1.3"/>
<text transform="matrix(1 0 0 1.17 444.2 1118.3)" class="gl">0.200</text>
<line x1="431.7" y1="1068.9" x2="442.7" y2="1068.9" stroke="#505050" stroke-width="1.3"/>
<text transform="matrix(1 0 0 1.17 444.2 1085.2)" class="gl">0.250</text>
<line x1="431.7" y1="1035.7" x2="442.7" y2="1035.7" stroke="#505050" stroke-width="1.3"/>
<text transform="matrix(1 0 0 1.17 444.2 1052.0)" class="gl">0.300</text>
<line x1="431.7" y1="1002.6" x2="442.7" y2="1002.6" stroke="#505050" stroke-width="1.3"/>
<text transform="matrix(1 0 0 1.17 444.2 1018.9)" class="gl">0.350</text>
<line x1="431.7" y1="969.5" x2="442.7" y2="969.5" stroke="#505050" stroke-width="1.3"/>
<text transform="matrix(1 0 0 1.17 444.2 985.8)" class="gl">0.400</text>
<line x1="431.7" y1="936.3" x2="442.7" y2="936.3" stroke="#505050" stroke-width="1.3"/>
<text transform="matrix(1 0 0 1.17 444.2 952.6)" class="gl">0.450</text>
<line x1="431.7" y1="903.2" x2="442.7" y2="903.2" stroke="#505050" stroke-width="1.3"/>
<text transform="matrix(1 0 0 1.17 444.2 919.5)" class="gl">0.500</text>
<line x1="431.7" y1="870.0" x2="442.7" y2="870.0" stroke="#505050" stroke-width="1.3"/>
<text transform="matrix(1 0 0 1.17 444.2 886.3)" class="gl">0.550</text>
<g filter="url(#bl7)"><polygon points="623.0,961.0 755.0,1058.0 620.0,1142.0 488.0,1045.0" fill="#b020a0"/><g transform="matrix(0.33000 0.24250 -0.33750 0.21000 623.0 961.0)"><use href="#h3c" fill="#98209c" stroke="#98209c" stroke-width="14.0" stroke-linejoin="round" clip-path="url(#c3c)"/></g><g transform="matrix(0.33000 0.24250 -0.33750 0.21000 623.0 959.1)"><use href="#h3c" fill="#ff36f4" stroke="#ff36f4" stroke-width="13.0" stroke-linejoin="round" clip-path="url(#c3c)"/></g><g transform="matrix(0.33000 0.24250 -0.33750 0.21000 623.0 957.3)"><use href="#h3c" fill="#ff33b2" stroke="#ff33b2" stroke-width="12.0" stroke-linejoin="round" clip-path="url(#c3c)"/></g><g transform="matrix(0.33000 0.24250 -0.33750 0.21000 623.0 955.4)"><use href="#h3c" fill="#ff3e78" stroke="#ff3e78" stroke-width="11.0" stroke-linejoin="round" clip-path="url(#c3c)"/></g><g transform="matrix(0.33000 0.24250 -0.33750 0.21000 623.0 953.6)"><use href="#h3c" fill="#ff7e54" stroke="#ff7e54" stroke-width="10.0" stroke-linejoin="round" clip-path="url(#c3c)"/></g><g transform="matrix(0.33000 0.24250 -0.33750 0.21000 623.0 951.7)"><use href="#h3c" fill="#ffb040" stroke="#ffb040" stroke-width="9.0" stroke-linejoin="round" clip-path="url(#c3c)"/></g><g transform="matrix(0.33000 0.24250 -0.33750 0.21000 623.0 949.9)"><use href="#h3c" fill="#ebe024" stroke="#ebe024" stroke-width="8.0" stroke-linejoin="round" clip-path="url(#c3c)"/></g><g transform="matrix(0.33000 0.24250 -0.33750 0.21000 623.0 948.0)"><use href="#h3c" fill="#74e042" stroke="#74e042" stroke-width="7.0" stroke-linejoin="round" clip-path="url(#c3c)"/></g><g transform="matrix(0.33000 0.24250 -0.33750 0.21000 623.0 946.1)"><use href="#h3c" fill="#00e957" stroke="#00e957" stroke-width="6.0" stroke-linejoin="round" clip-path="url(#c3c)"/></g><g transform="matrix(0.33000 0.24250 -0.33750 0.21000 623.0 944.3)"><use href="#h3c" fill="#00cc7c" stroke="#00cc7c" stroke-width="5.0" stroke-linejoin="round" clip-path="url(#c3c)"/></g><g transform="matrix(0.33000 0.24250 -0.33750 0.21000 623.0 942.4)"><use href="#h3c" fill="#009cbe" stroke="#009cbe" stroke-width="4.0" stroke-linejoin="round" clip-path="url(#c3c)"/></g><g transform="matrix(0.33000 0.24250 -0.33750 0.21000 623.0 940.6)"><use href="#h3c" fill="#0076f6" stroke="#0076f6" stroke-width="3.0" stroke-linejoin="round" clip-path="url(#c3c)"/></g><g transform="matrix(0.33000 0.24250 -0.33750 0.21000 623.0 938.7)"><use href="#h3c" fill="#5e9efc" stroke="#5e9efc" stroke-width="2.0" stroke-linejoin="round" clip-path="url(#c3c)"/></g><g transform="matrix(0.33000 0.24250 -0.33750 0.21000 623.0 936.9)"><use href="#h3c" fill="#90b4f4" stroke="#90b4f4" stroke-width="1.0" stroke-linejoin="round" clip-path="url(#c3c)"/></g><g transform="matrix(0.33000 0.24250 -0.33750 0.21000 623.0 935.0)"><use href="#h3c" fill="#c4d6f6" clip-path="url(#c3c)"/></g></g>
<rect x="894.9" y="866.3" width="19.6" height="346.7" fill="url(#rainbow)"/>
<rect x="894.9" y="866.3" width="19.6" height="346.7" fill="none" stroke="#3a3a3a" stroke-width="1.3"/>
<line x1="914.5" y1="866.3" x2="925.5" y2="866.3" stroke="#404040" stroke-width="1.3"/>
<text transform="matrix(1 0 0 1.12 928.0 873.5)" class="rl">0.51</text>
<line x1="914.5" y1="910.6" x2="925.5" y2="910.6" stroke="#404040" stroke-width="1.3"/>
<text transform="matrix(1 0 0 1.12 928.0 917.8)" class="rl">0.45</text>
<line x1="914.5" y1="947.4" x2="925.5" y2="947.4" stroke="#404040" stroke-width="1.3"/>
<text transform="matrix(1 0 0 1.12 928.0 954.6)" class="rl">0.40</text>
<line x1="914.5" y1="984.3" x2="925.5" y2="984.3" stroke="#404040" stroke-width="1.3"/>
<text transform="matrix(1 0 0 1.12 928.0 991.5)" class="rl">0.35</text>
<line x1="914.5" y1="1021.2" x2="925.5" y2="1021.2" stroke="#404040" stroke-width="1.3"/>
<text transform="matrix(1 0 0 1.12 928.0 1028.4)" class="rl">0.30</text>
<line x1="914.5" y1="1058.1" x2="925.5" y2="1058.1" stroke="#404040" stroke-width="1.3"/>
<text transform="matrix(1 0 0 1.12 928.0 1065.3)" class="rl">0.25</text>
<line x1="914.5" y1="1095.0" x2="925.5" y2="1095.0" stroke="#404040" stroke-width="1.3"/>
<text transform="matrix(1 0 0 1.12 928.0 1102.2)" class="rl">0.20</text>
<line x1="914.5" y1="1131.9" x2="925.5" y2="1131.9" stroke="#404040" stroke-width="1.3"/>
<text transform="matrix(1 0 0 1.12 928.0 1139.1)" class="rl">0.15</text>
<line x1="914.5" y1="1168.7" x2="925.5" y2="1168.7" stroke="#404040" stroke-width="1.3"/>
<text transform="matrix(1 0 0 1.12 928.0 1175.9)" class="rl">0.10</text>
<line x1="914.5" y1="1213.0" x2="925.5" y2="1213.0" stroke="#404040" stroke-width="1.3"/>
<text transform="matrix(1 0 0 1.12 928.0 1220.2)" class="rl">0.04</text>
<path d="M1006.5 1014.5H1374.5M1006.5 974.1H1374.5M1006.5 933.7H1374.5M1006.5 893.3H1374.5M1129.2 851.4V1054.9M1251.8 851.4V1054.9" stroke="#e6e6e6" stroke-width="1" fill="none"/>
<path d="M1006.5 893.3 L1009.2 872.3 L1011.9 873.9 L1014.8 884.0 L1017.5 917.1 L1020.2 917.9 L1022.9 882.4 L1025.9 877.5 L1027.6 880.4 L1031.3 917.1 L1035.0 926.4 L1037.7 904.2 L1041.3 876.7 L1044.0 873.9 L1047.0 878.8 L1052.4 877.5 L1058.0 875.9 L1061.7 879.6 L1063.4 873.1 L1066.1 875.1 L1069.8 870.3 L1072.5 877.5 L1075.9 868.7 L1078.1 882.4 L1081.8 873.9 L1087.2 872.3 L1090.2 873.9 L1093.8 873.1 L1096.5 878.8 L1099.2 887.6 L1101.0 950.3 L1104.6 1020.2 L1108.3 1014.5 L1113.0 1018.1 L1115.7 950.3 L1119.4 875.1 L1125.0 872.7 L1127.7 895.3 L1131.4 1018.1 L1136.8 1011.7 L1141.4 1012.5 L1145.1 931.7 L1147.8 873.1 L1150.8 873.9 L1153.9 868.7 L1157.1 922.8 L1159.8 1018.1 L1165.2 1012.5 L1171.9 1015.3 L1174.6 931.7 L1177.0 873.1 L1180.0 882.4 L1182.9 950.3 L1185.8 1021.0 L1190.3 1012.5 L1194.7 1014.5 L1197.6 1017.3 L1200.3 977.7 L1204.0 886.0 L1206.7 872.7 L1209.4 873.1 L1212.3 878.8 L1214.1 931.7 L1217.7 1018.9 L1222.4 1013.7 L1226.1 1015.3 L1229.5 1018.1 L1232.5 931.7 L1235.4 866.6 L1238.1 872.3 L1243.7 863.8 L1246.4 899.0 L1250.1 1014.5 L1252.8 1017.3 L1255.5 1012.5 L1260.9 1013.7 L1264.3 1017.3 L1267.5 931.7 L1270.2 882.4 L1272.4 879.6 L1274.9 913.5 L1279.1 1022.6 L1283.0 1021.8 L1285.9 1016.5 L1290.1 997.9 L1294.0 1006.4 L1299.7 1004.4 L1302.4 1000.8 L1307.0 922.8 L1310.7 900.6 L1313.4 941.0 L1317.1 1014.5 L1319.5 1025.4 L1323.5 1022.6 L1327.2 1017.3 L1330.8 1013.7 L1336.5 1010.9 L1351.2 1010.9" stroke="#3c3c3c" stroke-width="1.15" fill="none" stroke-linejoin="round"/>
<path d="M1006.5 851.4H1374.5V1054.9" stroke="#5a5a5a" stroke-width="1.4" fill="none"/>
<path d="M1006.5 850.4V1054.9M997.5 1054.9H1374.5" stroke="#3c3c3c" stroke-width="1.6" fill="none"/>
<path d="M997.5 1054.9H1006.5M1001.5 1050.9H1006.5M1001.5 1046.8H1006.5M1001.5 1042.8H1006.5M1001.5 1038.7H1006.5M1000.5 1034.7H1006.5M1001.5 1030.7H1006.5M1001.5 1026.6H1006.5M1001.5 1022.6H1006.5M1001.5 1018.5H1006.5M997.5 1014.5H1006.5M1001.5 1010.5H1006.5M1001.5 1006.4H1006.5M1001.5 1002.4H1006.5M1001.5 998.3H1006.5M1000.5 994.3H1006.5M1001.5 990.3H1006.5M1001.5 986.2H1006.5M1001.5 982.2H1006.5M1001.5 978.1H1006.5M997.5 974.1H1006.5M1001.5 970.1H1006.5M1001.5 966.0H1006.5M1001.5 962.0H1006.5M1001.5 957.9H1006.5M1000.5 953.9H1006.5M1001.5 949.9H1006.5M1001.5 945.8H1006.5M1001.5 941.8H1006.5M1001.5 937.7H1006.5M997.5 933.7H1006.5M1001.5 929.7H1006.5M1001.5 925.6H1006.5M1001.5 921.6H1006.5M1001.5 917.5H1006.5M1000.5 913.5H1006.5M1001.5 909.5H1006.5M1001.5 905.4H1006.5M1001.5 901.4H1006.5M1001.5 897.3H1006.5M997.5 893.3H1006.5M1001.5 889.3H1006.5M1001.5 885.2H1006.5M1001.5 881.2H1006.5M1001.5 877.1H1006.5M1000.5 873.1H1006.5M1001.5 869.1H1006.5M1001.5 865.0H1006.5M1001.5 861.0H1006.5M1001.5 856.9H1006.5M997.5 852.9H1006.5M1006.5 1054.9V1062.9M1018.8 1054.9V1060.4M1031.0 1054.9V1060.4M1043.3 1054.9V1060.4M1055.6 1054.9V1060.4M1067.8 1054.9V1060.4M1080.1 1054.9V1060.4M1092.4 1054.9V1060.4M1104.6 1054.9V1060.4M1116.9 1054.9V1060.4M1129.2 1054.9V1062.9M1141.4 1054.9V1060.4M1153.7 1054.9V1060.4M1166.0 1054.9V1060.4M1178.2 1054.9V1060.4M1190.5 1054.9V1060.4M1202.8 1054.9V1060.4M1215.0 1054.9V1060.4M1227.3 1054.9V1060.4M1239.6 1054.9V1060.4M1251.8 1054.9V1062.9M1264.1 1054.9V1060.4M1276.4 1054.9V1060.4M1288.6 1054.9V1060.4M1300.9 1054.9V1060.4M1313.2 1054.9V1060.4M1325.4 1054.9V1060.4M1337.7 1054.9V1060.4M1350.0 1054.9V1060.4M1362.2 1054.9V1060.4M1374.5 1054.9V1062.9" stroke="#555" stroke-width="1" fill="none"/>
<text x="996.0" y="1053.7" class="pl" text-anchor="end">0.0</text>
<text x="996.0" y="1017.8" class="pl" text-anchor="end">0.1</text>
<text x="996.0" y="977.4" class="pl" text-anchor="end">0.2</text>
<text x="996.0" y="937.0" class="pl" text-anchor="end">0.3</text>
<text x="996.0" y="896.6" class="pl" text-anchor="end">0.4</text>
<text x="996.0" y="859.9" class="pl" text-anchor="end">0.5</text>
<text x="1006.5" y="1073.9" class="pl" text-anchor="middle">0.0</text>
<text x="1129.2" y="1073.9" class="pl" text-anchor="middle">0.5</text>
<text x="1251.8" y="1073.9" class="pl" text-anchor="middle">1.0</text>
<text x="1374.5" y="1073.9" class="pl" text-anchor="middle">1.5</text>
<text x="1188.5" y="1086.9" class="pl" text-anchor="middle">x</text>
<text transform="translate(980.5,953.2) rotate(-90)" class="pl" text-anchor="middle">y</text>
<rect x="1315.5" y="854.9" width="56.5" height="16" fill="#fff" stroke="#555" stroke-width="1.2"/>
<line x1="1320.0" y1="862.9" x2="1330.0" y2="862.9" stroke="#444" stroke-width="1"/>
<text x="1333.5" y="866.4" class="pl">Profile 1</text>
<g filter="url(#hmd)"><rect x="15" y="1235" width="381.5" height="382.0" fill="#000" fill-opacity="0"/><g transform="translate(15,1235) scale(0.5)"><g stroke="#000" stroke-linecap="round" fill="none"><path d="M538 403h0M215 383l-2 1M481 3l-3 5M2 667l-4 1M772 121l-3 2M-4 511l3 1M115 97l4 1M261 34l-3 3M86 558l3 0M479 271l-1 1M567 519l0 2M746 495l2 4M580 659l-1 1M353 579l5 2M675 505l3 1M323 209l1 5M572 348h0M277 593l2 2M559 48l5 1M746 184l-2 4M556 652l-1 3M83 490l2 0M162 670l-2 1M321 711l-5 3M593 503l2 5M336 528l1 4M558 309l0 1M690 329l0 3M507 299l-1 2M472 687l3 1M520 288l-4 4M222 636l0 3M512 76l2 1M366 182l4 2M763 735l2 3M120 413l0 2M645 636l0 6M233 765l1 0M56 187l-1 6M677 686l-1 3M46 564l1 1M701 669l-2 1M632 -9l3 0M579 501l-3 4M534 29h0M145 473l3 5M336 226l0 1M351 249l1 1M398 643l-4 3M381 521l-1 4M467 301l0 3M21 527l6 1M198 389l1 3M173 313l2 0M308 188l2 3M146 330l-1 0M424 557l-4 1M409 615l-2 4M652 522l0 1M246 537h0M665 406l-1 2M503 -9h0M285 494l2 4M213 733l1 0M585 338l-1 2M281 516l1 3M142 -3l-1 0M139 537l1 1M517 607l-1 2M412 632l4 2M544 222l-4 4M136 43l-3 3M63 171l6 2M505 151l-3 3M316 326l3 4M148 770l2 2M26 754l1 0M431 635l1 1M259 713l1 0M164 230l0 1M496 191l1 1M612 517l-1 4M383 356l0 6M738 696l-4 3M323 413l3 1M459 65l0 1M397 356l1 4M560 209l3 4M277 413l-5 2M246 466l-1 0M329 79l1 1M591 99l-2 2M462 186l0 1M243 75l1 0M44 340l0 4M142 561l2 1M524 447l5 0M212 237l-3 1M686 769l2 1M474 180l3 2M324 347l0 2M329 33l-1 0M543 472l0 3M683 46l-5 3M95 570l3 3M94 406l-2 6M640 233l-1 1M172 161l1 1M510 644l-4 2M60 492l-1 0M300 220l1 0M66 -8l0 1M710 235l1 4M639 708l1 4M719 456l1 1M550 251l-3 5M-2 400l-2 1M585 120h0M235 733l0 1M54 234l-2 2M464 347l-1 1" stroke-width="7"/><path d="M534 242l-2 2M358 99l-2 1M480 142l-1 1M770 315l-1 3M701 406l-4 4M48 366l-3 1M761 359l0 1M236 715l0 1M452 665l0 1M135 275l-4 1M764 520l0 1M227 489l-2 3M557 488l0 5M296 259l2 2M453 329l-3 1M393 626l-1 2M441 572l-1 1M465 575l-4 3M582 307l-1 1M2 65h0M281 86l3 2M538 658l2 4M131 666l-1 3M362 212l0 2M749 649l4 1M479 452l1 0M367 371h0M177 37l3 2M82 525l1 0M259 408l-3 1M761 -9l-5 1M303 -1l0 2M18 424l-1 3M305 304l-1 1M79 199l1 2M443 545l-2 2M613 71l-3 1M130 217l-2 1M115 308h0M622 228l3 0M14 23l4 3M170 362l-2 1M473 433l-1 1M646 421l-1 1M165 577l1 1M651 350l-1 3M308 663l0 1M633 345l0 2M405 508l-5 1M745 213l1 3M516 654l4 5M397 37l3 2M639 330l0 1M417 316l1 2M336 564l1 0M404 16l0 2M553 164l1 2M539 7l-4 3M394 532l1 1M24 253l-1 1M698 207l0 1M103 662l4 2M310 16l2 4M758 262l0 3M19 477l-2 1M544 516l-4 3M436 616l2 5M299 772l-2 0M755 17l1 0M525 370l0 6M102 421l2 5M78 88l1 2M132 456l-2 4M113 647l5 1M586 262l1 3M269 191l-4 0M52 420l-4 4M229 321l-2 5M193 140l4 3M251 746l-1 5M681 267l0 2M210 261l0 1M34 152l1 2M38 592l-3 3M454 443l5 1M676 187l0 2M70 728l0 1M239 262l-1 5M146 520l0 3M278 736l-1 2M214 104l6 1M361 744l-2 2M193 407l1 2M-8 322l-4 1M460 624l-3 2M607 598l5 0M107 288l1 2M123 342l-1 0M704 91l-1 1M600 302l-3 3M171 146l2 1M313 448l-2 5M505 525l-3 1M371 247h0M48 24l-5 2M108 156l-3 1M81 14l-3 4M248 245l-2 1M766 338l-2 0M58 389l-1 0M767 410l-1 1M417 -8l2 1M228 243h0M678 539l1 1M615 49l1 4M159 91l0 3M418 540l-3 3M479 724l-5 0M644 754l-1 3M483 663l0 3M389 12l-4 4M471 526l-3 3M401 583l3 1M181 518l-1 4M395 134l3 2M-9 1l-1 3M150 733l-2 3M676 485l3 4M190 55l1 0" stroke-width="9"/><path d="M619 126l-2 1M747 717l3 2M166 397l-2 5M230 622l2 1M367 77l-1 2M568 133l1 1M702 626l-3 2M280 209l1 4M18 117l-1 0M592 572l-2 0M103 691l-5 1M604 382l4 1M352 158l0 1M625 362l1 4M623 741l3 1M616 327l1 5M653 115l4 4M345 760l4 4M504 127l2 3M644 667h0M727 669l4 3M362 297l2 0M266 260l0 1M0 305l3 1M746 773l0 1M102 259h0M147 451l2 1M371 144l4 4M252 204h0M78 47h0M697 722l1 1M327 743h0M230 10l2 1M226 404l4 1M299 350l2 3M72 503h0M146 65l2 3M591 194l1 1M510 671l-4 4M139 433h0M509 232l3 3M26 611l-3 0M105 43h0M410 365l1 4M755 282h0M226 87l-2 4M424 256l-1 2M102 93l-1 3M177 105l-1 1M341 206l4 0M253 669h0M488 206l0 1M649 375l0 2M425 55l-1 0M153 124l0 1M7 565l-4 2M640 296l4 3M23 572l0 1M513 24l-2 4M24 450l-3 2M496 42l4 0M457 267h0M677 358l4 0M653 686h0M538 496l3 3M342 712h0M718 649l-2 0M528 430h0M708 765h0M521 548l0 5M44 544l2 0M373 388l3 3M714 592l1 1M442 711l-4 3M262 685l1 0M704 575l0 5M83 336h0M194 90l-4 1M-1 763l-2 0M88 704l-3 4M579 174l5 2M704 505l-2 0M413 84l2 2M271 666l5 1M435 115h0M394 315l-1 1M525 -8l0 1M766 615l0 1M563 371h0M111 766l1 3M457 224l3 0M113 -4l3 0M240 510l0 2M451 692l0 1M425 455l2 4M31 662l-2 2M599 162l1 2M277 765h0M488 339l2 0M160 343l-1 0M692 294l-1 4M696 450h0M45 -10l4 1M186 20l-1 1M128 594l2 3M667 166l1 5M700 253l3 1M413 221l-1 2M647 17l1 0M191 347l2 0M766 55l0 1M2 611l-2 4M136 314l2 4M76 638l-3 0M20 705h0M715 200h0M435 670l-1 3M326 192l0 3M656 769l1 3M290 145l-2 0M362 514l0 4M480 313l-1 3M8 47l1 2M249 225l0 1M638 270l-1 1M421 604h0M84 251l1 0" stroke-width="11"/><path d="M160 533l-1 0M271 122l5 4M632 205l1 2M458 723h0M656 256l-3 3M480 369l6 2M721 5l-1 0M614 281l-3 1M726 714l1 1M692 17l1 3M395 58h0M383 575l2 3M516 696l6 1M299 35l3 2M58 584l-4 1M53 90l-2 4M258 766l-1 1M633 59l-2 1M382 485l1 0M478 101l-2 0M92 641l4 4M124 143l-1 0M41 401l0 2M153 498l-3 2M297 169l-2 1M427 390l6 3M278 304l-2 6M627 570l-3 4M378 615l-2 5M594 -3l0 2M390 225l5 0M528 634l-2 3M453 605l0 1M655 281l2 1M729 306h0M291 286l-1 5M540 595h0M245 685l-4 5M703 277l5 1M574 17h0M584 732l-1 6M398 398h0M672 522l-5 2M102 189l0 1M496 711l2 2M594 64h0M481 510h0M100 607l-2 6M570 155l0 1M13 -5l2 2M445 757l-2 1M629 503l0 2M173 435l4 2M519 50l-2 2M615 429l3 2M217 216l-2 4M247 357l1 1M149 413l3 2M4 225l-5 5M43 770l0 2M91 -10l5 3M731 485l0 1M437 431l0 1M441 193l3 5M141 754l0 3M468 770l0 4M218 530l-3 0M-5 119h0M200 0l3 1M170 653l2 1M327 103l-5 1M294 124l3 2M358 549l4 0M3 85l4 4M224 40l-1 1M75 615l-4 1M653 34l2 2M279 53l-5 1M260 517l-3 4M235 382l-1 1M212 339l4 0M393 -9l3 2M683 616l0 5M655 736l-1 6M315 289l1 1M250 278l-2 6M457 154l-4 4M504 501l-1 1M245 313l-1 1M185 460l2 5M394 444l0 1M443 468l-1 0M283 470l4 1M178 217l-2 2M270 646l-1 3M0 139l2 4M693 521l0 2M771 37h0M748 65l-3 3M428 502l4 2M527 138h0M100 63l-1 2M189 670l4 3M327 163h0M131 185l-2 5M371 664l-1 4M105 113l-2 4M220 131l1 0M686 589l-2 2" stroke-width="13"/><path d="M200 716l0 6M279 379l2 5M473 40h0M594 39l-1 0M606 482l-3 1M625 544l-1 1M192 117l0 4M379 37l0 1M9 284l2 3M752 101l1 3M394 664l1 5M475 248l-7 2M342 646h0M510 356l1 2M86 160l-1 0M106 357l0 1M692 65l0 7M551 107l-7 2M76 588l4 3M12 178l-1 1M343 287l3 4M515 575l-4 0M-6 260l-2 1M495 425l-2 4M231 654l-4 1M371 429l4 1M157 632l4 1M556 276l3 5M23 367h0M618 149l-1 2M213 687l-3 1M733 440h0M196 428l1 4M669 560l7 1M692 225l-2 2M465 645l3 1M498 272l1 7M169 65l2 1M337 61l1 3M135 372l-1 3M750 752l3 1M530 771l1 4M340 446l2 2M453 369l3 0M259 622l-1 4M505 734l3 2M16 682l6 1M439 220l-2 2M740 408l-3 3M201 482l-1 2M326 133l-3 4M273 167h0M55 440l4 2M137 102l1 4M262 481l-5 3M523 260l0 1M258 329l3 0M673 468l3 0M312 694l-6 4M388 92l0 3M208 565l4 1M656 491l1 2M716 343l-6 5M-8 546l6 2M277 442l4 2M412 184l-1 1M656 184l-3 2M36 102l-4 3M137 17l-1 3M613 258l-5 1M543 359l0 3M50 464l-1 0M307 535l3 6M216 762l-8 1M454 114l2 7M530 309l-2 2M494 22l-6 2" stroke-width="15"/><path d="M726 511l4 2M292 718l-2 2M575 86l-1 2M559 -8l2 1M682 434l-3 1M741 331l-5 7M103 388l-3 1M215 456l-3 4M187 562l-3 3M626 24l3 3M450 517l1 5M405 422h0M285 235l1 0M622 462l1 6M411 486l0 6M271 541l2 5M120 474l-5 4M470 395l0 1M40 628l3 0M12 646l-1 2M358 690l-5 7M536 160l-7 0M22 70l2 0M-9 438l-1 7M743 577l-3 4M726 615l2 8M649 462l2 0M17 390l-4 0M344 492l3 8M243 137l-4 6M63 129l-1 5M704 699l0 2M487 566l4 4M707 478l-7 3M39 173l6 0M539 71l3 4M438 306l-1 1M666 208l0 9M468 554l-1 0M513 471l-3 0M708 542l-5 1M434 84l4 1M200 508l1 1M568 244l1 1M161 689l2 7M345 599l7 0M719 371l6 0M347 422l1 1M126 628l7 4M349 120h0M563 626l1 6M587 607l2 2M366 455l-3 5M722 78l1 1M560 187l2 1M631 176l-2 3M685 132l-4 0M763 431l2 4M667 328l-5 3M698 743l-1 5M564 330l-4 2" stroke-width="18"/><path d="M765 542l-4 2M43 714l-2 3M223 298l1 0M518 185l3 1M105 512l6 2M46 255l4 3M690 381h0M389 198l-5 0M755 381l-2 2M-2 734l0 6M143 242l-8 1M81 750l8 2M597 220l1 1M112 554h0M467 479l1 2M-7 695l0 10M610 95l3 0M153 203l-4 1M418 732l8 6M256 97l9 1M759 461l1 4M665 648l0 2M419 699l0 1M52 746h0M43 500l-9 3M251 428l-5 4M543 565l5 3M560 408l6 1M733 545l-1 4M607 633l8 5M729 741h0M670 720h0M479 747l-11 2" stroke-width="21"/><path d="M284 569l11 2M704 172l9 2M490 606l-9 0M98 450l-6 2M36 209l-1 7M431 143l-6 5M770 163l-1 1M76 225l5 3M20 324l4 4M773 685l-4 1M665 -7l1 1M502 387l9 5M642 89h0M185 185l-5 6M76 363l-2 2M565 546l8 2" stroke-width="25"/><path d="M386 754l9 3M370 323l-13 9M176 742l6 6M388 703l-7 10M596 767l-4 4M117 710l15 0M571 454l-8 12M238 176l-1 2M173 -9l-1 3M728 35l-1 3M272 -13l2 11M56 294l10 7M240 585l-1 3M651 139l-7 12M538 719l10 3M657 595l-2 10M737 240l2 2" stroke-width="32"/><path d="M336 380l-19 3M68 666l10 13M298 616l4 4M159 268l15 9M430 13l16 11M390 271l1 7M356 -13l-4 17M194 606l3 5M716 121l5 3" stroke-width="41"/><path d="M603 693l1 12" stroke-width="51"/></g></g></g><rect x="15" y="1235" width="381.5" height="382.0" fill="none" stroke="#1e1e1e" stroke-width="1.2"/>
<text transform="matrix(1.16 0 0 1 24.8 1287.7)" class="pn">(d)</text>
<rect x="408.3" y="1236.0" width="20.8" height="381.2" fill="url(#gold)" stroke="#3a3a3a" stroke-width="1.2"/>
<line x1="408.3" y1="1236.0" x2="440.1" y2="1236.0" stroke="#505050" stroke-width="1.3"/>
<text transform="matrix(1 0 0 1.17 441.6 1252.3)" class="gl">0.553</text>
<line x1="408.3" y1="1617.2" x2="440.1" y2="1617.2" stroke="#505050" stroke-width="1.3"/>
<text transform="matrix(1 0 0 1.17 441.6 1615.3)" class="gl">0.000</text>
<line x1="429.1" y1="1582.7" x2="440.1" y2="1582.7" stroke="#505050" stroke-width="1.3"/>
<line x1="429.1" y1="1548.3" x2="440.1" y2="1548.3" stroke="#505050" stroke-width="1.3"/>
<text transform="matrix(1 0 0 1.17 441.6 1564.6)" class="gl">0.100</text>
<line x1="429.1" y1="1513.8" x2="440.1" y2="1513.8" stroke="#505050" stroke-width="1.3"/>
<text transform="matrix(1 0 0 1.17 441.6 1530.1)" class="gl">0.150</text>
<line x1="429.1" y1="1479.3" x2="440.1" y2="1479.3" stroke="#505050" stroke-width="1.3"/>
<text transform="matrix(1 0 0 1.17 441.6 1495.6)" class="gl">0.200</text>
<line x1="429.1" y1="1444.9" x2="440.1" y2="1444.9" stroke="#505050" stroke-width="1.3"/>
<text transform="matrix(1 0 0 1.17 441.6 1461.2)" class="gl">0.250</text>
<line x1="429.1" y1="1410.4" x2="440.1" y2="1410.4" stroke="#505050" stroke-width="1.3"/>
<text transform="matrix(1 0 0 1.17 441.6 1426.7)" class="gl">0.300</text>
<line x1="429.1" y1="1375.9" x2="440.1" y2="1375.9" stroke="#505050" stroke-width="1.3"/>
<text transform="matrix(1 0 0 1.17 441.6 1392.2)" class="gl">0.350</text>
<line x1="429.1" y1="1341.5" x2="440.1" y2="1341.5" stroke="#505050" stroke-width="1.3"/>
<text transform="matrix(1 0 0 1.17 441.6 1357.8)" class="gl">0.400</text>
<line x1="429.1" y1="1307.0" x2="440.1" y2="1307.0" stroke="#505050" stroke-width="1.3"/>
<text transform="matrix(1 0 0 1.17 441.6 1323.3)" class="gl">0.450</text>
<line x1="429.1" y1="1272.5" x2="440.1" y2="1272.5" stroke="#505050" stroke-width="1.3"/>
<text transform="matrix(1 0 0 1.17 441.6 1288.8)" class="gl">0.500</text>
<g filter="url(#bl7)"><polygon points="627.0,1337.0 755.0,1430.0 617.0,1513.0 489.0,1420.0" fill="#ff50c0"/><g transform="matrix(0.32000 0.23250 -0.34500 0.20750 627.0 1337.0)"><use href="#h3d" fill="#ff33de" stroke="#ff33de" stroke-width="6.0" stroke-linejoin="round" clip-path="url(#c3d)"/></g><g transform="matrix(0.32000 0.23250 -0.34500 0.20750 627.0 1334.8)"><use href="#h3d" fill="#ff3a88" stroke="#ff3a88" stroke-width="5.4" stroke-linejoin="round" clip-path="url(#c3d)"/></g><g transform="matrix(0.32000 0.23250 -0.34500 0.20750 627.0 1332.6)"><use href="#h3d" fill="#ff7e54" stroke="#ff7e54" stroke-width="4.8" stroke-linejoin="round" clip-path="url(#c3d)"/></g><g transform="matrix(0.32000 0.23250 -0.34500 0.20750 627.0 1330.4)"><use href="#h3d" fill="#ffc830" stroke="#ffc830" stroke-width="4.2" stroke-linejoin="round" clip-path="url(#c3d)"/></g><g transform="matrix(0.32000 0.23250 -0.34500 0.20750 627.0 1328.2)"><use href="#h3d" fill="#b0e030" stroke="#b0e030" stroke-width="3.6" stroke-linejoin="round" clip-path="url(#c3d)"/></g><g transform="matrix(0.32000 0.23250 -0.34500 0.20750 627.0 1326.0)"><use href="#h3d" fill="#00f050" stroke="#00f050" stroke-width="3.0" stroke-linejoin="round" clip-path="url(#c3d)"/></g><g transform="matrix(0.32000 0.23250 -0.34500 0.20750 627.0 1323.8)"><use href="#h3d" fill="#00dc64" stroke="#00dc64" stroke-width="2.4" stroke-linejoin="round" clip-path="url(#c3d)"/></g><g transform="matrix(0.32000 0.23250 -0.34500 0.20750 627.0 1321.6)"><use href="#h3d" fill="#009cbe" stroke="#009cbe" stroke-width="1.8" stroke-linejoin="round" clip-path="url(#c3d)"/></g><g transform="matrix(0.32000 0.23250 -0.34500 0.20750 627.0 1319.4)"><use href="#h3d" fill="#0076f6" stroke="#0076f6" stroke-width="1.2" stroke-linejoin="round" clip-path="url(#c3d)"/></g><g transform="matrix(0.32000 0.23250 -0.34500 0.20750 627.0 1317.2)"><use href="#h3d" fill="#5a98fa" stroke="#5a98fa" stroke-width="0.6" stroke-linejoin="round" clip-path="url(#c3d)"/></g><g transform="matrix(0.32000 0.23250 -0.34500 0.20750 627.0 1315.0)"><use href="#h3d" fill="#6aa4fa" clip-path="url(#c3d)"/></g></g>
<rect x="895.0" y="1250.0" width="19.3" height="345.0" fill="url(#rainbow)"/>
<rect x="895.0" y="1250.0" width="19.3" height="345.0" fill="none" stroke="#3a3a3a" stroke-width="1.3"/>
<line x1="914.3" y1="1250.0" x2="925.3" y2="1250.0" stroke="#404040" stroke-width="1.3"/>
<text transform="matrix(1 0 0 1.12 927.8 1257.2)" class="rl">0.46</text>
<line x1="914.3" y1="1305.9" x2="925.3" y2="1305.9" stroke="#404040" stroke-width="1.3"/>
<text transform="matrix(1 0 0 1.12 927.8 1313.1)" class="rl">0.40</text>
<line x1="914.3" y1="1352.6" x2="925.3" y2="1352.6" stroke="#404040" stroke-width="1.3"/>
<text transform="matrix(1 0 0 1.12 927.8 1359.8)" class="rl">0.35</text>
<line x1="914.3" y1="1399.2" x2="925.3" y2="1399.2" stroke="#404040" stroke-width="1.3"/>
<text transform="matrix(1 0 0 1.12 927.8 1406.4)" class="rl">0.30</text>
<line x1="914.3" y1="1445.8" x2="925.3" y2="1445.8" stroke="#404040" stroke-width="1.3"/>
<text transform="matrix(1 0 0 1.12 927.8 1453.0)" class="rl">0.25</text>
<line x1="914.3" y1="1492.4" x2="925.3" y2="1492.4" stroke="#404040" stroke-width="1.3"/>
<text transform="matrix(1 0 0 1.12 927.8 1499.6)" class="rl">0.20</text>
<line x1="914.3" y1="1539.1" x2="925.3" y2="1539.1" stroke="#404040" stroke-width="1.3"/>
<text transform="matrix(1 0 0 1.12 927.8 1546.3)" class="rl">0.15</text>
<line x1="914.3" y1="1595.0" x2="925.3" y2="1595.0" stroke="#404040" stroke-width="1.3"/>
<text transform="matrix(1 0 0 1.12 927.8 1602.2)" class="rl">0.09</text>
<path d="M1008.0 1388.5H1373.5M1008.0 1337.6H1373.5M1008.0 1286.8H1373.5M1129.8 1236.0V1439.3M1251.7 1236.0V1439.3" stroke="#e6e6e6" stroke-width="1" fill="none"/>
<path d="M1008.0 1288.3 L1011.9 1298.5 L1014.8 1320.4 L1018.5 1335.1 L1022.9 1338.2 L1026.5 1339.7 L1031.1 1335.1 L1033.8 1324.4 L1036.8 1306.1 L1040.4 1296.5 L1044.8 1291.4 L1050.4 1292.9 L1054.1 1291.4 L1059.4 1296.0 L1062.3 1290.4 L1066.0 1287.3 L1070.4 1293.9 L1074.0 1291.4 L1077.0 1304.1 L1079.6 1361.0 L1083.3 1377.3 L1086.0 1353.4 L1088.7 1311.2 L1094.3 1290.4 L1099.6 1284.8 L1103.8 1296.5 L1106.2 1342.7 L1109.9 1329.5 L1114.2 1319.9 L1117.9 1342.7 L1120.8 1390.5 L1123.5 1431.7 L1126.7 1423.5 L1129.8 1412.4 L1135.2 1414.4 L1137.6 1425.1 L1140.8 1404.7 L1143.5 1316.8 L1147.1 1300.5 L1152.7 1289.4 L1157.9 1286.8 L1164.4 1300.0 L1169.1 1294.4 L1172.7 1296.0 L1178.3 1291.4 L1181.0 1298.5 L1183.7 1335.1 L1186.4 1390.5 L1188.6 1408.8 L1191.5 1408.8 L1195.1 1416.9 L1199.5 1421.5 L1203.2 1399.7 L1207.8 1344.3 L1211.5 1307.7 L1214.1 1291.9 L1219.7 1294.4 L1223.4 1290.4 L1228.0 1293.9 L1231.7 1290.4 L1234.4 1290.4 L1238.0 1306.1 L1240.7 1319.9 L1243.4 1315.3 L1247.0 1306.1 L1250.0 1304.1 L1252.6 1304.6 L1254.8 1301.6 L1258.0 1311.2 L1261.7 1335.1 L1264.3 1381.4 L1266.3 1420.5 L1269.0 1414.9 L1274.6 1416.9 L1278.2 1423.5 L1280.9 1404.7 L1283.6 1353.4 L1286.3 1307.7 L1289.4 1292.9 L1295.0 1288.3 L1299.2 1302.1 L1302.8 1328.0 L1306.5 1347.3 L1309.2 1335.1 L1312.3 1330.5 L1315.5 1307.7 L1319.2 1291.9 L1322.8 1288.3 L1326.5 1285.8 L1329.4 1302.1 L1332.1 1353.4 L1334.8 1353.4 L1338.4 1353.4 L1341.1 1329.5 L1344.5 1327.0 L1347.7 1330.5 L1350.4 1353.4 L1353.0 1412.4" stroke="#3c3c3c" stroke-width="1.15" fill="none" stroke-linejoin="round"/>
<path d="M1008.0 1236.0H1373.5V1439.3" stroke="#5a5a5a" stroke-width="1.4" fill="none"/>
<path d="M1008.0 1235.0V1439.3M999.0 1439.3H1373.5" stroke="#3c3c3c" stroke-width="1.6" fill="none"/>
<path d="M999.0 1439.3H1008.0M1003.0 1434.2H1008.0M1003.0 1429.1H1008.0M1003.0 1424.1H1008.0M1003.0 1419.0H1008.0M1002.0 1413.9H1008.0M1003.0 1408.8H1008.0M1003.0 1403.7H1008.0M1003.0 1398.6H1008.0M1003.0 1393.6H1008.0M999.0 1388.5H1008.0M1003.0 1383.4H1008.0M1003.0 1378.3H1008.0M1003.0 1373.2H1008.0M1003.0 1368.1H1008.0M1002.0 1363.1H1008.0M1003.0 1358.0H1008.0M1003.0 1352.9H1008.0M1003.0 1347.8H1008.0M1003.0 1342.7H1008.0M999.0 1337.7H1008.0M1003.0 1332.6H1008.0M1003.0 1327.5H1008.0M1003.0 1322.4H1008.0M1003.0 1317.3H1008.0M1002.0 1312.2H1008.0M1003.0 1307.2H1008.0M1003.0 1302.1H1008.0M1003.0 1297.0H1008.0M1003.0 1291.9H1008.0M999.0 1286.8H1008.0M1003.0 1281.7H1008.0M1003.0 1276.7H1008.0M1003.0 1271.6H1008.0M1003.0 1266.5H1008.0M1002.0 1261.4H1008.0M1003.0 1256.3H1008.0M1003.0 1251.2H1008.0M1003.0 1246.2H1008.0M1003.0 1241.1H1008.0M999.0 1236.0H1008.0M1008.0 1439.3V1447.3M1020.2 1439.3V1444.8M1032.4 1439.3V1444.8M1044.5 1439.3V1444.8M1056.7 1439.3V1444.8M1068.9 1439.3V1444.8M1081.1 1439.3V1444.8M1093.3 1439.3V1444.8M1105.5 1439.3V1444.8M1117.7 1439.3V1444.8M1129.8 1439.3V1447.3M1142.0 1439.3V1444.8M1154.2 1439.3V1444.8M1166.4 1439.3V1444.8M1178.6 1439.3V1444.8M1190.8 1439.3V1444.8M1202.9 1439.3V1444.8M1215.1 1439.3V1444.8M1227.3 1439.3V1444.8M1239.5 1439.3V1444.8M1251.7 1439.3V1447.3M1263.8 1439.3V1444.8M1276.0 1439.3V1444.8M1288.2 1439.3V1444.8M1300.4 1439.3V1444.8M1312.6 1439.3V1444.8M1324.8 1439.3V1444.8M1337.0 1439.3V1444.8M1349.1 1439.3V1444.8M1361.3 1439.3V1444.8M1373.5 1439.3V1447.3" stroke="#555" stroke-width="1" fill="none"/>
<text x="997.5" y="1438.1" class="pl" text-anchor="end">0.1</text>
<text x="997.5" y="1391.8" class="pl" text-anchor="end">0.2</text>
<text x="997.5" y="1340.9" class="pl" text-anchor="end">0.3</text>
<text x="997.5" y="1290.1" class="pl" text-anchor="end">0.4</text>
<text x="997.5" y="1244.5" class="pl" text-anchor="end">0.5</text>
<text x="1008.0" y="1458.3" class="pl" text-anchor="middle">0.0</text>
<text x="1129.8" y="1458.3" class="pl" text-anchor="middle">0.5</text>
<text x="1251.7" y="1458.3" class="pl" text-anchor="middle">1.0</text>
<text x="1373.5" y="1458.3" class="pl" text-anchor="middle">1.5</text>
<text x="1188.8" y="1471.3" class="pl" text-anchor="middle">x</text>
<text transform="translate(982.0,1337.7) rotate(-90)" class="pl" text-anchor="middle">y</text>
<rect x="1314.5" y="1239.5" width="56.5" height="16" fill="#fff" stroke="#555" stroke-width="1.2"/>
<line x1="1319.0" y1="1247.5" x2="1329.0" y2="1247.5" stroke="#444" stroke-width="1"/>
<text x="1332.5" y="1251.0" class="pl">Profile 1</text>
<g filter="url(#hme)"><rect x="15" y="1687" width="381.5" height="383.0" fill="#000" fill-opacity="0"/><g transform="translate(15,1687) scale(0.5)"><g stroke="#000" stroke-linecap="round" fill="none"><path d="M1 55l0 10M762 665l0 10M762 722l0 10M1 740l0 10M710 765l13 0" stroke-width="3"/><path d="M146 1h0M760 226l1 9M170 763l-8 1" stroke-width="5"/><path d="M11 2l-8 1M28 1h0M61 2l-10 1M251 3l-9-1M267 1h0M329 1h0M346 3l8 0M556 2l-8 1M588 3l10 0M630 3l7 0M689 3l11 0M2 16l1 10M2 180l1 9M762 304h0M760 326l1 8M3 354l0 7M3 375l0 10M3 401l0 9M3 536l0 8M762 600h0M3 620l0 8M762 693h0M302 763l10 0M753 763l-11 0M654 765h0" stroke-width="6"/><path d="M760 560l0 8" stroke-width="8"/><path d="M760 88l-2 16M4 426l-1 8M212 763l-8-1" stroke-width="9"/><path d="M109 4l-9 0M204 4l9 0M303 4l8 0M517 4l-7-1M744 4l8 0M3 120l2 8M759 205l0 5M4 559l0 8M100 762l9 0M250 762l-7 0M515 763l-7-1" stroke-width="10"/><path d="M6 78l-3 17M759 401l0 8M698 762l-7-1" stroke-width="11"/><path d="M5 326l0 7M758 377l0 7M59 761l-8-1M551 761l4 0M596 761l-6 0" stroke-width="12"/><path d="M129 5l-4 1M757 18l0 6M758 58l-1 8M757 183l1 5M5 230l0 3M757 427l1 6M757 537l1 7M757 622l0 6M10 761l-4 0M349 761l3 0M398 761l-5-1M635 760l-5 1" stroke-width="13"/><path d="M170 5l-7 1M750 643l1 16M732 701l-8 30M754 704l-9 25M375 760l-5 1" stroke-width="14"/><path d="M401 5l7 10M738 22l-20-17M385 17l-24 0M93 42l-1 2M281 76l2 6M111 81l-17 14M500 83l-18 7M25 90l-9 19M422 142l-28 24M240 164l-19 2M686 189l13 13M20 216l-14-8M401 208l-18 3M696 220l-7 15M457 246l-20 10M542 263l-25 8M439 278l0 24M179 305l-15 2M477 326l-23 11M252 349l-9 17M226 356l-4 5M286 433l-8 11M83 445l4 21M628 448l-1 4M684 460l-22 9M238 468l-10 19M619 473l-2 2M280 485l-15 17M299 494l-21 26M197 507l2 6M660 506l-19 4M710 592l0 2M145 624l-20-3M181 646l-3-2M729 648l3 18M434 654l-18 3M599 663l-2 6M8 665l-2 4M576 665l-6 19M174 682l-22 3M710 701l-6 25M77 707l-4 2M14 713l-8 11M436 712l2 5M100 716l-18 13M416 723l15 15M553 742l-20-9M404 740l16 20M631 740l-2 2M85 753l-19-7M32 758l-4 2" stroke-width="15"/><path d="M476 9l-11 22M39 11l0 2M496 11l0 3M574 10l-20 12M190 14l-3-1M340 17l-17-1M59 19l-1 3M211 22l8 27M514 22l0 3M76 29l-1 3M658 28l-1 20M237 32l0 2M419 32l0 4M679 35l-1 12M136 40l-1 5M454 50l0 15M37 54l-3-2M431 52l3 3M201 58l-12 13M497 59l-21 12M537 60l-3-2M16 64l0 3M166 68l3 3M556 67l0 3M222 69l-18 15M38 73l-2 1M82 76l-12 16M397 77l9 11M618 76l-2 3M747 79l-1 4M133 82l0 3M157 89l-3-1M636 88l-2 0M50 91l-3 1M225 94l0 3M424 97l3 2M364 99l2 6M580 100l-3 3M245 102l4 21M38 110l-1 3M598 110l-14 14M103 115l0 3M564 116l-11 11M757 121l-4-3M612 126l-3 1M148 127l0 3M87 133l-17-1M512 139l-10-9M752 140l-3-1M303 142l17 0M443 142l3 3M219 145l-4 1M667 146l-2 3M498 155l-8-6M34 151l-3 0M358 157l-2 0M756 160l0 3M30 174l-17-5M699 169l1 4M264 190l-12-9M105 184l0 1M398 187l-9 1M464 186l-4 2M720 190l-5-1M26 196l-10-4M547 193l11 13M344 199l0 3M529 205l3 3M472 208l-4-1M370 224l-11-7M421 220l-30 13M63 224l7 17M288 224l-3-2M746 222l-15 10M103 252l-13-12M34 256l-5 15M96 273l-17-15M593 263l-16 2M618 265l-3-1M333 269l-7 14M664 272l-3-2M8 277l-1 6M398 277l0 3M732 277l0 3M47 280l-1 6M603 281l-1 0M153 282l1 7M174 283l1 2M234 283l0 3M282 285l-9-3M133 286l0 3M541 285l-18 6M649 286l-3 1M419 289l0 3M460 289l0 3M88 291l-7 16M670 293l-4 4M61 298l0 3M604 301l-5 0M145 307l-1 4M541 307l-2 0M648 307l-6 0M711 307l0 2M419 311l0 15M198 316l0 5M380 315l-7 9M675 315l-15 9M219 319l0 3M256 319l5 12M440 322l-1 2M698 322l-4 0M398 325l0 2M534 328l2 0M639 328l-3 3M617 335l-16 11M191 341l-2 2M213 340l-2-1M317 340l1 3M742 339l15 16M296 343l6 15M564 350l-13-8M631 351l-4 4M508 358l0 3M705 367l-15-8M203 360l-21 8M428 366l-14 1M526 373l0 2M142 378l-20-3M627 376l0 2M40 378l-3 1M207 380l-9 5M400 384l-12-3M444 381l-2 17M84 387l-26-1M663 384l-18 4M741 391l0 2M463 397l0 2M315 399l0 2M677 399l4 0M64 408l-3 1M90 408l-5 1M658 407l-9 2M428 411l-3 1M155 421l0 1M527 420l-4 0M392 423l-20 2M719 424l-5 14M74 426l-12 8M264 429l-2 1M507 433l-14-2M472 435l-22 11M612 435l-3 1M738 435l0 3M304 442l-8 11M207 444l0 3M672 443l-3 2M105 448l0 3M187 450l6 21M7 452l1 3M64 455l1 4M407 455l-10 19M549 453l4 13M749 453l6 15M610 456l-2 1M705 456l0 3M170 465l1 3M639 468l0 3M422 471l-1 3M737 475l1 3M259 476l-6 7M318 483l3 15M583 489l3 3M136 498l0 3M710 499l-17-1M490 513l0 3M308 516l-3 1M756 516l-9 0M701 519l-2 0M258 522l-2 0M80 525l-4 0M211 528l-3 15M434 529l-1 18M661 528l-4 0M455 531l-1 6M580 531l-3 11M602 534l-7 22M499 537l-4 5M713 536l-4 1M84 547l-26-5M559 550l-16-7M621 543l0 6M665 548l-2 1M192 555l-12 13M702 556l0 2M367 567l-15-10M511 558l-2 0M490 563l1 20M533 560l-3 1M85 567l-4-1M613 567l-1 2M634 570l-1 8M651 591l-21 14M481 600l0 3M671 607l-4-1M291 616l-20-7M357 612l-3 1M451 622l1 2M493 621l0 2M516 620l11 15M79 624l9 0M373 627l-14 9M274 633l-12-3M568 633l-6 16M35 635l-3 1M386 642l10 12M88 645l-17 0M541 648l-1 5M169 663l-2-1M90 669l-25-3M126 665l1 1M328 666l-3-1M553 668l1 3M385 672l-15 11M428 675l0 3M109 678l3 3M71 686l-20 17M332 687l0 3M6 691l2 3M353 696l0 3M32 698l-4 1M169 702l-4 0M688 705l-5 14M552 718l-13-5M625 720l-16 9M317 724l-5-2M200 731l6 14M244 733l7 10M22 738l-5 4M180 737l-17 10M386 743l-2 1M757 744l-1 3M651 747l0 2M711 747l0 2M672 756l0 2M269 759l-3 0M330 759l-2 0" stroke-width="16"/><path d="M82 8l-6-1M614 9l-1-1M654 7h0M535 13l-2-2M263 17l-10 3M636 20l-2 0M124 24l-3-1M305 24l-2-1M172 28l-2-1M37 31l-3 2M615 31l0 1M193 36l2 1M495 36l-4-2M328 38l-4 0M113 42l0 1M636 41l0 3M156 44l1 3M302 47l-3-1M475 48l0 1M178 50l1 1M281 56l-2-2M75 55l1 2M318 58l1 2M100 62l-3 2M690 63l0 3M737 61l-2 1M259 66l2 2M597 66l-2 1M57 67l2 4M517 71l-2-1M353 80l-2-1M576 79l2 0M702 84l0 3M724 83l0 2M656 85l1 3M262 91l2 2M519 95l-3-1M342 99l-2 1M618 101l3 5M142 106l-2 0M497 107l-3 2M59 110l0 4M267 113l3 2M225 117l3 7M517 115l2 2M329 120l-1 1M353 118l-2 2M433 121l-5 0M205 125l2 2M654 127l3 0M678 127l3 0M705 127l-3 1M532 131l0 4M109 139l0 2M690 147l-1 2M713 147l-2 1M734 151l1 3M263 163l-3-3M432 161l-1 2M311 165l-7 0M49 166l0 2M720 168l0 1M138 169l2 0M546 172l-3-2M88 172l3 0M68 177l-1 4M284 175l-5 0M416 175l-2 2M183 180l1 1M440 183l-3 1M569 184l-3-2M207 183l-1 1M594 184l-3-1M46 188l0 2M85 194l1 2M368 197l-3-1M192 203l1 2M217 203l-2 2M108 205l-3 2M323 205l1 3M604 205l2 0M303 209l0 2M675 209l2 2M227 220l1 0M521 226l-7-2M594 225l-2-2M616 226l2 0M138 233l-2-1M26 234l-1 4M46 238l1 3M353 238h0M225 241l3 0M536 243l-1 0M332 245l1 3M421 244l-2 1M558 246l1 4M580 244l3 0M121 247l3 0M251 250l-2-1M627 247l3 0M207 251l1 2M144 255l-3 10M312 256l1 4M270 259l3 0M355 260l-3 0M231 262l-3 0M192 268l-3-1M291 266l0 1M639 267l-2 1M752 268l-2-1M119 268l-2 1M460 268l-3 0M710 277l1 8M70 280l-1 0M306 281l-3 2M195 290l0 3M255 293l-1 2M381 291l-1 4M559 298l3 0M294 302l0 3M481 301l-2 3M273 305l0 1M123 308l0 4M237 307l1 3M43 309l0 6M102 310l-1 1M459 311l-1 1M496 316l0 4M559 323l-2-1M600 322l-3 1M283 325l-1 2M86 328l2 0M155 329l0 3M178 327l-3 1M132 331l1 3M238 332l-2 5M47 337l2 2M362 343l-2 2M383 343l3 0M656 344l-3 1M702 343l3 0M410 346l-3-1M97 348l-3 1M472 352l-1 1M36 356l-1 1M55 361l1 3M395 361h0M669 361l-1 2M79 366l-2 0M371 364l3 0M546 363l0 1M17 367l0 3M645 367l3 0M103 369l-4 1M264 369l0 3M565 373l3 0M465 376l2 0M307 379l1 0M681 379l3 0M505 382l1 3M250 388l-1 1M607 390l2 0M293 395l1 4M130 396l-2 0M215 400l-1 1M380 402l3 0M720 402l0 2M195 405l0 3M235 405l-1 3M258 409l-2 1M361 408l-3 1M547 408l-3 1M174 412l1 3M136 416l-1 1M481 414l-5 1M568 417l0 3M308 421l-6-1M590 426l-2 2M97 429l-2 0M193 429l-4 1M435 431l-1 1M654 429l-1 1M325 433l-1 2M693 436l-1 3M25 438l-3 0M569 441l-1 3M364 445l2 0M389 444l-3 0M590 448l-1 2M648 448l1 2M341 450l-2 1M508 455l1 2M729 457l-3-1M150 460l-2 2M466 460l4 12M28 462l0 2M356 463l0 2M531 464h0M574 465l0 4M108 471l1 0M494 474l-2-1M595 472l2 2M337 474l1 3M9 477l1 3M130 477l3 0M515 478l2 2M693 477l3 0M153 483l3 0M359 483l3 0M538 483l3 0M563 486l0 2M653 486l-2 1M182 491l-5-1M457 489l0 3M114 492l-1 2M410 492l-3 0M632 492l-2 2M734 498l-2-1M243 501l-1 4M365 503l0 1M526 500l1 1M159 504l-2 1M550 505l-2-1M31 510l3 0M177 512l0 1M445 510l1 3M594 513l2 0M619 514l-1 5M678 513l0 2M119 516l-1 1M353 520l1 2M378 519l-1 3M139 522l2 0M536 522l-1 0M16 525l-3 0M294 532l-1 2M413 531h0M392 536l1 1M124 538l-1 2M272 542l0 4M342 540l-4 0M370 543l-4-2M520 540l3 0M18 547l1 5M171 546l-1 2M230 552l-2-2M42 553l-1 1M413 552l-4 1M723 552l0 2M297 554l-3 1M329 559l-11 3M743 558l-2 3M133 562l-3-1M681 561l-2 3M60 565l-2 3M553 570l0 3M469 575l0 6M726 576l-7-2M341 576l3 0M696 578l-1 1M98 582l-1 2M323 582l-1 2M383 581l1 1M534 582l1 0M73 586l-1 0M167 585l3 0M240 591l-2 2M615 591l-3 1M28 595l-1 2M550 596l0 2M308 600l-2-1M340 598l-11 8M730 597l-1 2M526 601l1 2M85 603l3 0M109 603l-2 6M203 606l1 2M437 606l0 3M748 606l1 0M43 612l-2 2M416 613l1 2M568 612l-3 0M542 618l5 11M167 624l1 1M193 627l-2-2M589 625l-3-1M734 624l2 4M216 630l-1-2M55 630l3 0M241 631l-2-1M106 633l3 0M608 637l-1 4M503 640l2 2M133 644l-5 0M586 645l-1 3M204 649l-2-1M345 651l-2-2M671 649l-1 1M255 650l-3 1M109 654l-3 2M279 655l-3-1M301 660l3 0M146 664l1 2M213 669l3 0M46 675l-1 4M24 679h0M311 681l-3 0M203 687l-14 8M652 687l0 1M226 690l-2 1M443 692l-2 2M295 699l-14 17M638 702l-7-3M118 702l-3 0M315 702h0M374 705l1 0M481 705l0 3M610 704l-2 1M335 711l0 3M186 716l-2 1M258 714l0 4M355 720l-1 2M160 723l2 0M495 724l1 5M645 723l1 3M374 726l1 0M221 728l1 3M473 729l2 7M571 730l-2-2M294 732l1 0M452 733l0 4M103 739l-2 2M734 750l-2 2M146 759l-2-2M533 755l-1 0" stroke-width="17"/><path d="M286 9l-1 1M229 11l2 1M453 11l0 1M677 14l-1 1M19 17l0 2M146 17l1 4M99 21l-1 1M281 33l-1-1M441 32l1 1M576 34l-1 0M350 38l1 0M374 38l0 2M258 42l1 1M748 41l-1 1M57 44l-1 1M596 44l-1 1M701 44l-1 0M516 47l-1 1M618 55l-2 0M576 56l0 1M363 59l1 1M713 62l0 2M145 65l1 2M643 66l-5-1M375 78l1 2M241 80l2 1M536 82l2 2M182 94l-3-2M558 93l-1 1M119 102l-1-1M288 101l2 4M206 106l-3-1M739 103l-1 2M471 107l-1 0M538 107l2 2M645 107l-1 0M668 107h0M715 107l1 1M164 110l-1 2M185 117l0 1M306 119l1 2M456 125l1 1M731 127l-3 2M24 129l0 1M286 128l1 1M480 128l1 1M170 134l-1 1M265 137l-1 1M192 141l-1 0M343 139l-1 1M573 141l-1-2M241 143l2 1M9 145l1 2M131 145l-1 2M467 146l1 2M620 145l-1 2M154 151l0 2M283 151l1 2M176 157l1 2M525 157l-4 3M200 162l-1 1M115 165l-2-1M455 166h0M480 169l-2 0M654 167l-1 1M162 176l-1 0M504 176l-1 0M739 177l0 1M351 180l-2-2M327 182l1 2M526 182l-1 1M125 186l0 2M231 186l-1 0M617 187l-1-1M305 188l-1 0M642 188l-1 0M664 188l1 2M146 192l1 2M486 192l0 1M170 199l0 1M284 199l-1-1M509 199l-1 2M740 200l-1 2M64 203l1 1M242 203l2 0M580 203l1 2M446 206l-5 2M630 208l-2-2M652 208l2 2M42 213l-1 3M265 211l1 2M719 213l-1 0M154 215l1 2M87 219l-2-1M178 221l1 2M337 223l-1 0M545 223l2 2M570 223l-2 2M114 227l-5 1M642 228l-1-1M269 236l-1-1M712 236l-1 1M161 238l-1 2M496 239l-1 0M185 244l-1 2M292 244l-1 1M374 246l0 1M749 245l-1 0M515 248l0 1M653 249l-1 0M397 253l0 2M56 260l-1 1M167 262l-3 1M418 267l0-1M253 272l-1 0M212 276h0M560 274l0 1M687 275l-2 1M480 277l1 2M501 288l1 6M581 286l-1 1M27 294l-1 0M692 298l-2 2M730 300l0 2M317 302l-1 1M339 301l0 2M518 311l0 1M748 316l-1 1M305 322l0 2M111 331l-1 1M578 334l1 1M492 342l0 2M72 345l-1-1M433 343l-1 2M274 349l1 1M146 354l-3 0M724 352l-1 2M585 359l-1-1M326 363l-2-1M608 365l-1 2M488 367l0 1M162 372l0 2M286 371l0 3M721 378l0 1M588 381l-2 0M228 382l0 2M367 386l-1-1M547 385l-1 1M178 389l0 1M702 389l-2 1M19 392l-1 1M106 391l-1 1M485 391l0 2M567 395l0 1M155 397l-3 2M525 398l-1-1M40 401l-1 1M629 400l1 1M588 404l0 1M335 409l-2 3M113 413l-1-1M280 414l-1 0M611 414l-1 0M699 414l-1 2M740 415l-1 0M676 422l-1-1M44 424l-3 0M219 425l-4-2M412 430l-1 3M548 431l-1-1M120 433l0 1M143 439l-1 1M169 439l-3 5M528 443l-1-1M429 452l-2-1M126 455l0 1M319 459l-1 2M379 465l-1 2M215 466l0 2M444 469l1 1M48 472h0M70 479l-1 1M92 486l-1 2M206 488l-1 1M675 487l-2 2M384 491l1 4M434 490l0 1M607 493l1 2M52 495l0 1M343 498l0 1M503 496l0 2M12 502l-1 1M221 507l-1 1M571 508l2 2M423 510l-1 1M400 513l-1 1M331 518l-1 1M513 519l-1 0M724 518l-2-1M163 527h0M233 526l0 1M637 530l0-1M101 531l1 2M188 531l-1 2M476 531l0 1M687 539l-3-2M249 541l0 1M644 549l-2 2M472 552l0 1M388 559l-1 0M450 560l1 1M158 566l-2-1M211 565l-2 2M575 564l0 1M429 568l-1 1M657 569l-2 1M235 572l-2 0M513 578l0 2M119 581l1 1M145 584l-3-2M194 583l-1 3M674 585l-1 0M259 585l2 4M571 587l0 2M50 589l0 1M285 593l-2-2M132 602l-1-1M459 601l0 1M504 600l0 1M591 601l-1 2M155 603l1 2M378 604l-1 1M227 610l1 1M251 610l0 1M611 615l-1-1M713 614l0-1M19 619l0 1M394 620l0 1M314 622l-1-1M471 623l-1 1M693 623l-1-1M338 626l-2 0M431 631l1 1M296 638l-1-1M410 637h0M11 642l-2 2M481 642l0 2M692 645l-1-1M230 650l-3-1M51 651l-1 2M519 657l-1 0M496 661l-1 1M471 663l1 2M190 667l1 1M662 668h0M686 667l-1-1M239 670l0 1M349 673l2 0M533 674l0 1M406 675l0 2M487 682l0 2M697 686l0 1M591 690l-1 2M249 692l0 1M550 692l-2 0M92 693l2 2M272 695l-1 0M393 693l0 1M418 697l-2 4M503 701l0 1M144 707l-4 3M570 706l-1-1M210 709l-2 1M661 708l2 1M396 715l0 6M591 716l-2 0M36 720l-1 1M59 724l1 1M142 732l1 3M270 736l2 1M336 735l2 5M591 740l-1 0M314 745l-2 1M612 752l-1-1M188 757l-2 1" stroke-width="18"/><path d="M430 11l0 2M594 21h0M397 35l0 1M10 42l2 0M239 57h0M387 57h0M340 59h0M123 63h0M667 65l0 1M328 80l-1 0M462 86l-1 0M679 86l1 0M598 90h0M447 104h0M691 107l1 0M81 111h0M125 124h0M632 126h0M596 143l0 1M643 147h0M334 161h0M606 165l-1 0M630 167l0 1M676 168l1 0M373 173l0 1M420 197h0M130 209l-1 1M491 216l1 0M205 227l-3 0M247 227l1 0M314 230l-2 2M667 230l-1 0M605 245l-1 0M10 254l-1 1M477 253h0M676 253l1 0M728 255l-4 2M700 257h0M497 263l0 1M109 290h0M750 291l1 0M215 299h0M361 303h0M399 303l1 0M579 311h0M620 314l1 0M65 323h0M328 322h0M351 323h0M725 326l-4 2M513 334h0M680 339l-2 0M339 344l0 1M169 350h0M530 350h0M121 353l-2 0M449 359h0M349 367l0 1M741 368h0M421 389h0M272 392h0M405 406h0M504 409l-1 0M21 415l-2 1M453 418l1 0M632 425l0 1M241 429l1 0M349 429h0M45 448h0M229 448l1 0M255 452l-2-1M487 452h0M276 464h0M298 474h0M716 478h0M30 487h0M754 492h0M480 493h0M74 502l0 1M96 509h0M467 511l0 1M56 518h0M558 526l0 1M37 532l0 1M737 535l0 1M316 538l-1 1M146 544l1 0M106 557l1 3M254 562l0 1M277 569h0M405 575l1 0M301 577l-1 0M593 578h0M445 583l0 1M749 583h0M217 589h0M361 589l0 1M423 590h0M400 598h0M691 601l0 1M180 604l0 1M65 607l0 1M650 617h0M670 628l1 0M712 636h0M156 643l0 1M321 643l-1 0M457 645l-2 1M369 656l-1 0M28 658h0M450 669h0M263 673l0 1M511 679h0M613 682h0M748 682l-1 1M133 685h0M674 688h0M525 697h0M235 712h0M518 719h0M121 724l-1 1M668 732h0M44 742h0M361 743h0M513 742l-1 1M688 741l1 0M123 748h0M227 752l0 1M289 753h0M465 755h0M491 753l-2 2M572 753h0M442 757l-1 1" stroke-width="19"/><path d="M625 289l-1 1M286 676h0" stroke-width="21"/></g><path d="M374 3l-6-1-2-2 8-1 7 1-7 3zM730 48l-6 1-3-1-12-25-9 5-7-1-3-6 2-6 5-4 3-1 6 3 6 7 6-1 3 1 13 19 0 3-4 6zM560 52l-6 0-9-8-15-4-3-4 0-6 3-3 6-2 12 8 12 4 3 2 1 6 0 3-4 4zM443 88l-6-2-21-9-14-20 0-6 2-4 3-1 6 0 3 5 3 9 5 6 7 3 9 1 6 4 2 7-1 3-4 4zM323 107l-9 0-6-4-7-10-4-6-1-10-5-11 0-3 2-3 6-2 6 5 7 24 11 8 3 4-3 8zM368 142l-6 1-3-1-2-7 4-6 19-18 1-6-1-9 2-6 4-1 3 0 4 4 2 3-2 21-4 6-21 19zM383 157l-6 2-3-1-4-5 2-6 26-23 9-4-6-6-2-6 5-8 6 0 5 5 1 3-2 6-7 6 6 6-1 6-20 15-9 10zM78 160l-6 2-6-1-15-10-14-19 2-6 6-4 6 3 5 13 10 7 9 2 15-3 8 3 1 6-3 4-18 3zM589 168l-6 3-20-5-9-8-12-5-3-3 1-6 5-3 6-1 18 14 17 1 5 4 1 3-3 6zM479 237l-6 1-24-9-6 8-6 2-7-2-1-6 5-8 6-1 9 2 3-5 6-2 12 5 9 1 3 2 2 6-1 3-4 3zM356 289l-9 1-3-2-2-6 2-5 3-2 13-2 17-13 6 1 3 3 0 6-2 3-16 11-12 5zM18 353l-6 1-5-6 2-6 6-6 3-6-2-6-4-6-12-6-1-12 1-3 3-2 6 3 6 7 9 6 8 16-1 9-13 17zM350 399l-6 0-3-2-3-6-9 2-6-2-2-6 2-7 6-3 6 3 3 7 3 0 6-2 5 2 3 3 0 3-2 5-3 3zM6 611l-6-1-1-6 1-18 3-6 15-13 15-1 6 2 4 6-1 4-3 3-15-1-9 6-4 6 0 15-5 4zM619 670l-6-3-1-6 11-15 1-6-1-15 5-5 3-1 5 3 3 6-3 21-11 17-6 4zM637 685l-6 0-3-3-1-6 17-24 0-9 1-6 4-4 3-1 6 5 2 9-9 12-1 6-2 6-7 12-4 3zM727 693l-9-1-14-22-2-9 1-5 3-3 6-1 3 2 5 19 10 9 1 6-4 5zM461 722l-6-1-4-6 0-3 5-15 1-9 2-6 8-3 4 3 2 6-6 15-2 15-4 4zM132 766l-13 0 7-3 7 3-1 0z"/></g></g><rect x="15" y="1687" width="381.5" height="383.0" fill="none" stroke="#1e1e1e" stroke-width="1.2"/>
<text transform="matrix(1.16 0 0 1 24.8 1739.7)" class="pn">(e)</text>
<rect x="408.7" y="1687.0" width="20.9" height="383.6" fill="url(#gold)" stroke="#3a3a3a" stroke-width="1.2"/>
<line x1="408.7" y1="1687.0" x2="440.6" y2="1687.0" stroke="#505050" stroke-width="1.3"/>
<text transform="matrix(1 0 0 1.17 442.1 1703.3)" class="gl">0.651</text>
<line x1="408.7" y1="2070.6" x2="440.6" y2="2070.6" stroke="#505050" stroke-width="1.3"/>
<text transform="matrix(1 0 0 1.17 442.1 2068.7)" class="gl">0.000</text>
<line x1="429.6" y1="2041.1" x2="440.6" y2="2041.1" stroke="#505050" stroke-width="1.3"/>
<line x1="429.6" y1="2011.7" x2="440.6" y2="2011.7" stroke="#505050" stroke-width="1.3"/>
<text transform="matrix(1 0 0 1.17 442.1 2028.0)" class="gl">0.100</text>
<line x1="429.6" y1="1982.2" x2="440.6" y2="1982.2" stroke="#505050" stroke-width="1.3"/>
<text transform="matrix(1 0 0 1.17 442.1 1998.5)" class="gl">0.150</text>
<line x1="429.6" y1="1952.8" x2="440.6" y2="1952.8" stroke="#505050" stroke-width="1.3"/>
<text transform="matrix(1 0 0 1.17 442.1 1969.1)" class="gl">0.200</text>
<line x1="429.6" y1="1923.3" x2="440.6" y2="1923.3" stroke="#505050" stroke-width="1.3"/>
<text transform="matrix(1 0 0 1.17 442.1 1939.6)" class="gl">0.250</text>
<line x1="429.6" y1="1893.8" x2="440.6" y2="1893.8" stroke="#505050" stroke-width="1.3"/>
<text transform="matrix(1 0 0 1.17 442.1 1910.1)" class="gl">0.300</text>
<line x1="429.6" y1="1864.4" x2="440.6" y2="1864.4" stroke="#505050" stroke-width="1.3"/>
<text transform="matrix(1 0 0 1.17 442.1 1880.7)" class="gl">0.350</text>
<line x1="429.6" y1="1834.9" x2="440.6" y2="1834.9" stroke="#505050" stroke-width="1.3"/>
<text transform="matrix(1 0 0 1.17 442.1 1851.2)" class="gl">0.400</text>
<line x1="429.6" y1="1805.4" x2="440.6" y2="1805.4" stroke="#505050" stroke-width="1.3"/>
<text transform="matrix(1 0 0 1.17 442.1 1821.7)" class="gl">0.450</text>
<line x1="429.6" y1="1776.0" x2="440.6" y2="1776.0" stroke="#505050" stroke-width="1.3"/>
<text transform="matrix(1 0 0 1.17 442.1 1792.3)" class="gl">0.500</text>
<line x1="429.6" y1="1746.5" x2="440.6" y2="1746.5" stroke="#505050" stroke-width="1.3"/>
<text transform="matrix(1 0 0 1.17 442.1 1762.8)" class="gl">0.550</text>
<line x1="429.6" y1="1717.1" x2="440.6" y2="1717.1" stroke="#505050" stroke-width="1.3"/>
<text transform="matrix(1 0 0 1.17 442.1 1733.4)" class="gl">0.600</text>
<g filter="url(#bl7)"><polygon points="628.0,1804.0 761.0,1888.0 629.0,1977.0 496.0,1893.0" fill="#ff50b0"/><g transform="matrix(0.33250 0.21000 -0.33000 0.22250 628.0 1804.0)"><use href="#h3e" fill="#98209c" stroke="#98209c" stroke-width="14.0" stroke-linejoin="round" clip-path="url(#c3e)"/></g><g transform="matrix(0.33250 0.21000 -0.33000 0.22250 628.0 1801.9)"><use href="#h3e" fill="#ff36f4" stroke="#ff36f4" stroke-width="13.0" stroke-linejoin="round" clip-path="url(#c3e)"/></g><g transform="matrix(0.33250 0.21000 -0.33000 0.22250 628.0 1799.7)"><use href="#h3e" fill="#ff33b2" stroke="#ff33b2" stroke-width="12.0" stroke-linejoin="round" clip-path="url(#c3e)"/></g><g transform="matrix(0.33250 0.21000 -0.33000 0.22250 628.0 1797.6)"><use href="#h3e" fill="#ff3e78" stroke="#ff3e78" stroke-width="11.0" stroke-linejoin="round" clip-path="url(#c3e)"/></g><g transform="matrix(0.33250 0.21000 -0.33000 0.22250 628.0 1795.4)"><use href="#h3e" fill="#ff7e54" stroke="#ff7e54" stroke-width="10.0" stroke-linejoin="round" clip-path="url(#c3e)"/></g><g transform="matrix(0.33250 0.21000 -0.33000 0.22250 628.0 1793.3)"><use href="#h3e" fill="#ffb040" stroke="#ffb040" stroke-width="9.0" stroke-linejoin="round" clip-path="url(#c3e)"/></g><g transform="matrix(0.33250 0.21000 -0.33000 0.22250 628.0 1791.1)"><use href="#h3e" fill="#ebe024" stroke="#ebe024" stroke-width="8.0" stroke-linejoin="round" clip-path="url(#c3e)"/></g><g transform="matrix(0.33250 0.21000 -0.33000 0.22250 628.0 1789.0)"><use href="#h3e" fill="#74e042" stroke="#74e042" stroke-width="7.0" stroke-linejoin="round" clip-path="url(#c3e)"/></g><g transform="matrix(0.33250 0.21000 -0.33000 0.22250 628.0 1786.9)"><use href="#h3e" fill="#00e957" stroke="#00e957" stroke-width="6.0" stroke-linejoin="round" clip-path="url(#c3e)"/></g><g transform="matrix(0.33250 0.21000 -0.33000 0.22250 628.0 1784.7)"><use href="#h3e" fill="#00cc7c" stroke="#00cc7c" stroke-width="5.0" stroke-linejoin="round" clip-path="url(#c3e)"/></g><g transform="matrix(0.33250 0.21000 -0.33000 0.22250 628.0 1782.6)"><use href="#h3e" fill="#009cbe" stroke="#009cbe" stroke-width="4.0" stroke-linejoin="round" clip-path="url(#c3e)"/></g><g transform="matrix(0.33250 0.21000 -0.33000 0.22250 628.0 1780.4)"><use href="#h3e" fill="#0076f6" stroke="#0076f6" stroke-width="3.0" stroke-linejoin="round" clip-path="url(#c3e)"/></g><g transform="matrix(0.33250 0.21000 -0.33000 0.22250 628.0 1778.3)"><use href="#h3e" fill="#5e9efc" stroke="#5e9efc" stroke-width="2.0" stroke-linejoin="round" clip-path="url(#c3e)"/></g><g transform="matrix(0.33250 0.21000 -0.33000 0.22250 628.0 1776.1)"><use href="#h3e" fill="#a8c4f6" stroke="#a8c4f6" stroke-width="1.0" stroke-linejoin="round" clip-path="url(#c3e)"/></g><g transform="matrix(0.33250 0.21000 -0.33000 0.22250 628.0 1774.0)"><use href="#h3e" fill="#e0e8fa" clip-path="url(#c3e)"/></g></g>
<rect x="907.6" y="1706.0" width="19.1" height="344.8" fill="url(#rainbow)"/>
<rect x="907.6" y="1706.0" width="19.1" height="344.8" fill="none" stroke="#3a3a3a" stroke-width="1.3"/>
<line x1="926.7" y1="1706.0" x2="937.7" y2="1706.0" stroke="#404040" stroke-width="1.3"/>
<text transform="matrix(1 0 0 1.12 940.2 1713.2)" class="rl">0.6</text>
<line x1="926.7" y1="1763.5" x2="937.7" y2="1763.5" stroke="#404040" stroke-width="1.3"/>
<text transform="matrix(1 0 0 1.12 940.2 1770.7)" class="rl">0.5</text>
<line x1="926.7" y1="1820.9" x2="937.7" y2="1820.9" stroke="#404040" stroke-width="1.3"/>
<text transform="matrix(1 0 0 1.12 940.2 1828.1)" class="rl">0.4</text>
<line x1="926.7" y1="1878.4" x2="937.7" y2="1878.4" stroke="#404040" stroke-width="1.3"/>
<text transform="matrix(1 0 0 1.12 940.2 1885.6)" class="rl">0.3</text>
<line x1="926.7" y1="1935.9" x2="937.7" y2="1935.9" stroke="#404040" stroke-width="1.3"/>
<text transform="matrix(1 0 0 1.12 940.2 1943.1)" class="rl">0.2</text>
<line x1="926.7" y1="1993.3" x2="937.7" y2="1993.3" stroke="#404040" stroke-width="1.3"/>
<text transform="matrix(1 0 0 1.12 940.2 2000.5)" class="rl">0.1</text>
<line x1="926.7" y1="2050.8" x2="937.7" y2="2050.8" stroke="#404040" stroke-width="1.3"/>
<text transform="matrix(1 0 0 1.12 940.2 2058.0)" class="rl">0.0</text>
<path d="M1009.7 1860.7H1375.0M1009.7 1826.8H1375.0M1009.7 1793.0H1375.0M1009.7 1759.1H1375.0M1009.7 1725.2H1375.0M1131.5 1691.3V1894.5M1253.2 1691.3V1894.5" stroke="#e6e6e6" stroke-width="1" fill="none"/>
<path d="M1009.7 1834.2 L1010.2 1768.2 L1011.6 1731.3 L1013.6 1713.1 L1015.8 1696.5 L1018.5 1698.2 L1021.9 1707.6 L1026.7 1726.9 L1029.4 1719.5 L1033.3 1701.9 L1037.7 1701.2 L1041.4 1705.6 L1044.3 1720.5 L1046.0 1762.5 L1048.9 1817.7 L1050.6 1852.5 L1053.0 1865.4 L1055.2 1845.4 L1057.9 1781.1 L1061.6 1709.3 L1064.5 1708.3 L1067.2 1735.1 L1070.8 1808.5 L1073.0 1831.5 L1075.5 1825.1 L1079.1 1753.3 L1081.8 1722.2 L1084.7 1755.4 L1087.4 1757.1 L1090.1 1725.9 L1093.2 1708.3 L1096.6 1725.9 L1099.8 1790.2 L1102.5 1850.8 L1105.4 1817.7 L1108.6 1772.0 L1111.3 1782.8 L1113.4 1806.8 L1116.9 1744.2 L1119.5 1698.5 L1122.2 1735.1 L1125.9 1808.5 L1128.1 1864.7 L1131.0 1854.6 L1133.4 1790.2 L1136.1 1707.6 L1139.7 1697.5 L1143.4 1696.5 L1146.1 1698.2 L1151.7 1697.5 L1156.3 1700.2 L1160.0 1720.5 L1162.6 1772.0 L1165.6 1826.8 L1168.5 1865.4 L1173.6 1854.6 L1177.5 1845.4 L1180.2 1854.6 L1182.9 1872.8 L1184.3 1826.8 L1187.2 1753.3 L1188.9 1713.1 L1191.6 1707.6 L1194.5 1731.3 L1197.2 1772.0 L1199.9 1834.2 L1203.3 1848.1 L1206.5 1845.4 L1210.1 1823.1 L1212.6 1813.3 L1214.8 1810.2 L1217.4 1835.9 L1220.1 1817.7 L1223.8 1762.5 L1226.7 1727.6 L1229.4 1762.5 L1232.8 1812.2 L1235.0 1780.1 L1238.1 1794.0 L1241.3 1839.7 L1244.0 1855.2 L1247.6 1847.1 L1252.3 1826.8 L1255.2 1781.1 L1258.8 1736.8 L1262.5 1722.2 L1267.1 1723.2 L1269.8 1744.2 L1272.5 1799.4 L1275.6 1857.3 L1279.0 1808.5 L1281.7 1773.7 L1284.4 1780.1 L1288.1 1817.7 L1291.7 1845.4 L1295.9 1868.1 L1300.0 1850.8 L1301.9 1790.2 L1305.6 1718.5 L1308.3 1744.2 L1311.9 1781.1 L1316.6 1810.2 L1318.5 1762.5 L1321.2 1711.4 L1323.1 1694.8 L1328.5 1711.4 L1333.1 1716.8 L1336.8 1723.9 L1339.4 1772.0 L1341.4 1799.4 L1343.3 1855.2 L1346.0 1808.5 L1347.7 1762.5 L1349.7 1711.4 L1353.3 1694.8" stroke="#3c3c3c" stroke-width="1.15" fill="none" stroke-linejoin="round"/>
<path d="M1009.7 1691.3H1375.0V1894.5" stroke="#5a5a5a" stroke-width="1.4" fill="none"/>
<path d="M1009.7 1690.3V1894.5M1000.7 1894.5H1375.0" stroke="#3c3c3c" stroke-width="1.6" fill="none"/>
<path d="M1000.7 1894.5H1009.7M1004.7 1891.1H1009.7M1004.7 1887.7H1009.7M1004.7 1884.3H1009.7M1004.7 1881.0H1009.7M1003.7 1877.6H1009.7M1004.7 1874.2H1009.7M1004.7 1870.8H1009.7M1004.7 1867.4H1009.7M1004.7 1864.0H1009.7M1000.7 1860.7H1009.7M1004.7 1857.3H1009.7M1004.7 1853.9H1009.7M1004.7 1850.5H1009.7M1004.7 1847.1H1009.7M1003.7 1843.7H1009.7M1004.7 1840.3H1009.7M1004.7 1837.0H1009.7M1004.7 1833.6H1009.7M1004.7 1830.2H1009.7M1000.7 1826.8H1009.7M1004.7 1823.4H1009.7M1004.7 1820.0H1009.7M1004.7 1816.6H1009.7M1004.7 1813.3H1009.7M1003.7 1809.9H1009.7M1004.7 1806.5H1009.7M1004.7 1803.1H1009.7M1004.7 1799.7H1009.7M1004.7 1796.3H1009.7M1000.7 1793.0H1009.7M1004.7 1789.6H1009.7M1004.7 1786.2H1009.7M1004.7 1782.8H1009.7M1004.7 1779.4H1009.7M1003.7 1776.0H1009.7M1004.7 1772.6H1009.7M1004.7 1769.3H1009.7M1004.7 1765.9H1009.7M1004.7 1762.5H1009.7M1000.7 1759.1H1009.7M1004.7 1755.7H1009.7M1004.7 1752.3H1009.7M1004.7 1748.9H1009.7M1004.7 1745.6H1009.7M1003.7 1742.2H1009.7M1004.7 1738.8H1009.7M1004.7 1735.4H1009.7M1004.7 1732.0H1009.7M1004.7 1728.6H1009.7M1000.7 1725.2H1009.7M1004.7 1721.9H1009.7M1004.7 1718.5H1009.7M1004.7 1715.1H1009.7M1004.7 1711.7H1009.7M1003.7 1708.3H1009.7M1004.7 1704.9H1009.7M1004.7 1701.6H1009.7M1004.7 1698.2H1009.7M1004.7 1694.8H1009.7M1000.7 1691.4H1009.7M1009.7 1894.5V1902.5M1021.9 1894.5V1900.0M1034.1 1894.5V1900.0M1046.2 1894.5V1900.0M1058.4 1894.5V1900.0M1070.6 1894.5V1900.0M1082.8 1894.5V1900.0M1094.9 1894.5V1900.0M1107.1 1894.5V1900.0M1119.3 1894.5V1900.0M1131.5 1894.5V1902.5M1143.6 1894.5V1900.0M1155.8 1894.5V1900.0M1168.0 1894.5V1900.0M1180.2 1894.5V1900.0M1192.3 1894.5V1900.0M1204.5 1894.5V1900.0M1216.7 1894.5V1900.0M1228.9 1894.5V1900.0M1241.1 1894.5V1900.0M1253.2 1894.5V1902.5M1265.4 1894.5V1900.0M1277.6 1894.5V1900.0M1289.8 1894.5V1900.0M1301.9 1894.5V1900.0M1314.1 1894.5V1900.0M1326.3 1894.5V1900.0M1338.5 1894.5V1900.0M1350.6 1894.5V1900.0M1362.8 1894.5V1900.0M1375.0 1894.5V1902.5" stroke="#555" stroke-width="1" fill="none"/>
<text x="999.2" y="1893.3" class="pl" text-anchor="end">0.0</text>
<text x="999.2" y="1864.0" class="pl" text-anchor="end">0.1</text>
<text x="999.2" y="1830.1" class="pl" text-anchor="end">0.2</text>
<text x="999.2" y="1796.2" class="pl" text-anchor="end">0.3</text>
<text x="999.2" y="1762.4" class="pl" text-anchor="end">0.4</text>
<text x="999.2" y="1728.5" class="pl" text-anchor="end">0.5</text>
<text x="999.2" y="1699.8" class="pl" text-anchor="end">0.6</text>
<text x="1009.7" y="1913.5" class="pl" text-anchor="middle">0.0</text>
<text x="1131.5" y="1913.5" class="pl" text-anchor="middle">0.5</text>
<text x="1253.2" y="1913.5" class="pl" text-anchor="middle">1.0</text>
<text x="1375.0" y="1913.5" class="pl" text-anchor="middle">1.5</text>
<text x="1190.3" y="1926.5" class="pl" text-anchor="middle">x</text>
<text transform="translate(983.7,1792.9) rotate(-90)" class="pl" text-anchor="middle">y</text>
<rect x="1316.0" y="1694.8" width="56.5" height="16" fill="#fff" stroke="#555" stroke-width="1.2"/>
<line x1="1320.5" y1="1702.8" x2="1330.5" y2="1702.8" stroke="#444" stroke-width="1"/>
<text x="1334.0" y="1706.3" class="pl">Profile 1</text>
<g filter="url(#hmf)"><rect x="15" y="2070.5" width="381.5" height="386.5" fill="#000" fill-opacity="0"/><g transform="translate(15,2070.5) scale(0.5)"><g stroke="#000" stroke-width="44.0" stroke-opacity="0.22" fill="none" stroke-linecap="round"><path d="M-10.0 314.0C12.3 324.3 82.3 355.3 124.0 376.0C165.7 396.7 201.3 430.3 240.0 438.0C278.7 445.7 311.0 423.3 356.0 422.0C401.0 420.7 458.7 426.0 510.0 430.0C561.3 434.0 619.0 441.7 664.0 446.0C709.0 450.3 760.7 454.3 780.0 456.0"/><path d="M402.0 214.0C420.0 202.3 472.7 162.0 510.0 144.0C547.3 126.0 587.3 121.3 626.0 106.0C664.7 90.7 716.3 63.7 742.0 52.0C767.7 40.3 773.7 38.7 780.0 36.0"/></g><ellipse cx="180.0" cy="716.0" rx="96.0" ry="48.0" fill="#000" fill-opacity="0.22"/><g stroke="#000" stroke-linecap="round" fill="none"><path d="M761 139l0 12M761 484l0 12M2 508l0 12M761 595l0 11M532 771l12 0" stroke-width="3"/><path d="M167 2h0M266 2h0M761 324h0M480 771h0" stroke-width="5"/><path d="M2 567l1 9M106 770l3 0M457 770l3 0" stroke-width="6"/><path d="M12 2h0M72 4l-6-1M329 2h0M365 4l-10-1M438 2h0M565 3l7 0M632 2h0M755 3l-6 1M761 19h0M3 39l1 6M760 39l-1 6M2 102h0M759 165l1 7M3 210l0 8M760 210l0 8M3 298l1 6M3 425l1 7M760 424l0 8M760 566l0 11M760 681l0 8M2 751h0M573 769l-7 1M658 770l9 0M726 770l6 0" stroke-width="7"/><path d="M2 627l4 20" stroke-width="8"/><path d="M4 682l0 6M71 769l-4 1M754 770l-4-1" stroke-width="9"/><path d="M223 4l3 0M406 4l-6 1M670 5l-7-1M727 4l4 0M5 167l0 7M632 405l-1 4M5 488l-1 4M4 597l2 6M759 747l-1 4M417 765l-11 5M9 769l3 0M361 769l-5-1M520 767l-7 2M638 767l-8 2" stroke-width="10"/><path d="M110 4l-3 1M510 4l-8 4M550 7l-10-3M4 17l1 6M4 141l1 5M562 185l2 0M611 330l-29-8M117 344l-17-6M414 368l3 0M175 375l-7 23M305 464l-10 1M689 471l-21 5M759 513l-1 7M465 585l1 22M124 671l21 0M498 678l1 22M194 682l-5 0M144 691l-20 1M168 769l-3-1M336 768l-7 1M434 768l4 0" stroke-width="11"/><path d="M159 16l-14-10M482 6l2 16M130 16l-5-3M344 15l-15 6M744 20l-1 16M122 36l-17-9M209 40l-18-7M585 39l1 3M138 54l-6 1M756 63l-13-6M487 67l3 22M510 78l15 19M661 91l-4 3M114 96l3 10M552 102l-11 5M54 113l2 3M521 116l-1 22M730 116l-4 0M641 136l-11-4M26 139l-6 18M486 149l1 3M597 148l-17 6M636 157l-20-7M562 165l-5-1M351 171l6 19M249 182l-2 3M397 182l-2 19M461 204l-17-12M648 195l-4-2M730 194l-1 0M623 200l15 15M322 206l3 2M106 212l-16-2M451 223l-19-13M626 232l-17-15M315 227l-2 0M172 230l0 6M440 242l-14-11M724 230l-10 16M652 233l-5 1M611 246l-9-7M48 252l-18-12M632 250l3 3M15 257l-3 3M322 268l-16-4M493 264l9 14M233 289l-2 0M758 298l-11-3M689 300l-19 13M707 314l-18 12M706 339l-1 3M73 363l-12-10M116 366l-25-9M133 376l-8 12M105 385l-16-7M150 389l-1 4M333 389l0 1M110 405l-1 3M134 406l-3 3M345 406l-4 3M487 407l8 25M531 408l2 4M67 409l2 3M589 411l-11 14M726 416l-12-6M301 419l-4-3M649 420l-3 2M282 429l1 3M719 439l-14-11M663 434l-3 5M192 437l-9 13M146 450l-14-2M226 455l6 21M35 461l-9 21M479 467l6 21M406 473l-22 6M51 476l12 12M503 477l1 3M560 476l15 14M441 487l-8 18M350 498l-9-9M550 496l3 2M148 509l-3 3M675 513l-8 18M361 520l-22-3M49 529l-10-9M193 520l4 19M438 523l3 3M352 540l-16-2M533 537l-5 1M700 551l24 25M386 558l-2 2M450 571l-19-9M508 578l1 11M239 593l-4 32M43 609l-18-6M99 610l1 3M577 615l-7-6M144 613l-9 14M722 621l-2 18M86 628l8 14M269 645l15 25M440 660l-19-7M598 658l16 15M687 658l-13 6M322 675l3 3M560 675l9 12M243 689l-3 6M399 710l8 21M282 716l-17 5M340 725l-21-3M98 725l-7 15M131 741l-13-12M384 730l2 3M666 734l3 2M257 739l0 4M200 744l-11-4M42 745l10 14M554 756l0 3M127 762l0 4M202 768l-16-6" stroke-width="12"/><path d="M49 8l-1 3M707 6l-1 4M206 15l2 2M423 13l-2 2M647 13l-1 2M626 20l0 3M143 31l4 4M604 30l0 2M703 33l-1 2M323 41l-13-3M345 38l-3 1M682 43l0 4M600 57l0 9M641 55l-2 1M85 59l-7 17M527 62l1 4M651 73l-4 0M323 82l-3 1M541 82l1 1M135 92l2 2M199 102l-19-7M365 96l-11 13M484 110l-15-7M79 116l-8 16M180 116l-20 4M318 120l-2 1M474 130l-4-2M541 129l0 3M708 128l-3 14M300 130l1 3M146 136l-2 1M181 138l-14 4M463 150l-14-12M562 141l-4 2M86 146l0 3M242 145l-1 18M303 155l4 4M285 168l5 5M452 168l1 4M474 170l-3 14M653 174l-3-2M375 176l1 4M432 175l1 1M225 179l1 2M270 181l-2-1M99 189l-4 0M286 193l-1 4M51 204l-13-7M507 199l0 3M529 199l0 3M238 205l-7-2M715 210l-8-7M68 214l1 1M495 222l0 3M61 235l-15-12M541 223l4 5M749 232l-3 3M295 236l2 7M214 241l11 12M505 244l0 3M72 252l-3 1M757 251l-1 1M180 257l0 3M421 254l2 2M655 254l-1 2M140 266l3 3M33 268l1 2M56 271l-2 2M218 273l-4 3M757 274l-5-2M436 288l-14-12M651 276l-10-2M275 282l1 1M671 287l-3 3M146 290l4 3M563 289l0 23M211 297l4 3M342 298l2 2M193 309l0 2M480 314l-10-7M324 310l-1 2M374 316l-11-6M214 320l2 12M6 323l-1 2M686 348l-16-11M38 353l-11 4M671 362l3 4M706 363l-11 5M158 365l-5 5M256 368l-13 2M396 373l-22 4M653 374l-3-2M682 387l-9 1M419 389l-7 1M8 393l-1 15M48 393l2 2M190 395l0 3M729 393l1 2M611 399l-1 8M28 403l1 2M317 404l3 3M427 408l-2 1M406 411l-6 24M156 414l-13 14M360 423l-3 2M335 429l-15 0M603 428l-1 1M453 438l1 1M640 443l-3 2M699 449l12 14M248 458l4 5M459 462l-8 5M11 466l-3 1M75 469l2 2M428 472l-3 1M361 479l1 2M539 479l-2-1M647 479l1 2M90 489l-9 8M529 498l-8-6M44 498l-3-1M476 506l9 14M629 523l0 2M217 533l0 3M690 531l-2 2M555 537l7 11M6 541l-1 4M456 549l-9-3M162 554l-2 2M677 551l-9 2M295 554l2 2M542 555l-1 2M18 560h0M39 565l-2 1M289 577l-13-9M313 569l-2 2M559 569l-4 4M81 583l5 5M201 597h0M406 596l-1 1M594 599l-2 0M424 606l0 2M122 610l-1 2M320 610l-1 3M445 615l-2 3M17 621l3 3M215 628h0M112 631l3 4M254 630l2 2M156 634l-2 2M198 642l1 2M616 645l-7-5M71 645l2 1M376 646l-23-2M732 658l-1 3M718 679l-6 18M633 683l-3 1M202 699l-1 2M65 704l-3 1M424 717l1 2M31 728l-3-2M446 724l-1 3M299 731l4 8M529 730l-1 2M280 738l-2 2M610 737l-15 5M236 741l-1 1M68 745l3 4M146 752l1 4M219 755l5 12M290 755l-2 2M691 767l-16-11M267 762l-1 5M30 766l2 1" stroke-width="13"/><path d="M288 6l-2 0M460 6h0M609 7l-1 0M248 10l-3 1M27 15l0 2M88 14h0M309 13l1 2M381 15l1 0M586 15l0 2M525 18h0M684 16l2 2M444 20l-1 2M67 24h0M228 25l0 2M361 24l0 3M402 24l0 3M723 24h0M290 28l-1 2M463 28l1 4M665 27l0 1M503 31h0M170 33l1 2M250 34l-2 2M644 35h0M21 38l2 0M86 38l2 0M382 38h0M424 38l-1 0M484 42l0 3M524 41l0 1M271 45l-1 0M445 45h0M621 44l-2 3M361 50l0 1M404 49l-2-1M109 55l-4-4M293 52l0 2M662 51l-1 2M38 55l3 0M187 55l-3-1M505 55h0M17 59l-2 0M251 58l1 2M702 59l3 0M210 62l1 1M313 61h0M341 63l-4-2M382 62l3 0M273 69l3 0M622 69l2 1M682 70l-8 2M726 70l-2-1M55 72l-1 4M123 73h0M146 73l1 2M170 73l0 3M365 73l-4-1M406 71l-2 2M31 76l-1 2M102 76l-2 0M194 77h0M296 76l0 3M6 81l1 2M467 80l0 2M255 84l1 0M385 83l0 3M426 84h0M565 83h0M588 84l0 2M702 83l3 0M746 82h0M215 86l0 4M344 85l1 2M610 87l0 3M634 90l0 3M68 94l0 2M278 93l2 1M447 93l2 0M684 93l1 3M725 93l1 1M45 96l-2 1M91 96l1 4M157 97l3 0M237 96l2 2M21 99l-2 1M304 100l-4 5M330 102l1 2M504 104l0 3M575 103l1 2M757 103l-10 1M386 108l-8 6M426 107l3 0M705 106h0M218 111l0 2M622 111l-2-1M668 110l0 1M140 113h0M644 114l3 0M33 117l0 1M282 117l-1 3M450 117h0M9 120l2 2M100 120l-2 5M242 121l-2 0M407 120l-2 0M562 121l-2 0M688 121l0 3M201 125l-2-1M341 124l0 3M122 127l1 3M429 129l0 2M497 128l1 4M582 128l0 3M750 127l-2 1M262 131l0 3M362 131h0M661 131l3 0M221 135h0M48 137h0M728 138h0M324 142l-2 0M409 142l0 3M109 146h0M282 145l1 1M682 145l-1 1M201 148l-2 1M344 148l3 0M65 153l-1 3M434 153l-2 0M658 152h0M745 152h0M508 155l0 1M538 155l-6 2M42 159h0M152 158l2 2M221 159h0M392 159l-1 2M722 159l-2-1M180 162l-3 1M698 162l0 3M329 165l-2 1M412 166l0 3M606 169l-2 0M674 168l1 1M78 172h0M201 173l3 0M495 174l-1 6M740 173l-3 0M29 176l-1 0M140 176l0 3M518 176l0 3M541 179l1 1M627 178l-1 2M310 182l-1 4M185 186l-1 1M334 187h0M690 186l2 1M753 191l0 2M13 193l1 1M72 193l3 0M121 193l2 3M208 193l0 4M419 192l-1 2M603 193l-1 4M484 200l0 3M580 199l-3 2M168 206l0 2M263 203l-2 0M552 203l1 1M301 210l-2 2M685 209l-1 2M661 213l1 1M739 213h0M26 217l-2 0M129 218l0 3M212 217l-1 4M590 219l-1 2M388 221l-5 4M518 221l-1 2M567 221l-1 0M151 224l-1 3M255 224l-2 0M473 224l0 1M232 228h0M336 227l2 2M700 227l-2 2M88 231l-3 1M7 235l3 0M362 234l-1 4M675 234l-2 5M402 238l3 0M273 242l-3-1M527 241l0 1M579 241l-16 1M246 245l2 0M320 246h0M460 244l-1 1M483 245h0M156 250l2 3M381 247l1 2M342 252l-2 1M545 252l0 3M694 252l-2 0M201 260h0M361 260l0 2M262 262l0 4M285 262h0M401 262l1 3M568 262l-4 4M674 264l0 2M523 266l-2-1M239 269l2 0M620 269l-4-1M78 273l0 3M382 272l0 1M102 276l0 2M167 277l-4-2M343 276l-2 0M542 276l3 0M582 279l0 1M729 280l3 0M14 283l3 0M126 284l-3-1M296 283l0 3M603 283l0 3M255 288l1 8M362 286l0 1M405 289l-2-2M457 286l2 0M482 287l-1-1M521 288l0 2M38 290l-1 1M320 289h0M627 290l-1 2M709 290l-1 1M62 293l-1 1M85 296l-1 1M381 296l1 0M108 300h0M171 300l2 0M543 300l-2 1M585 300l1 1M648 300l2 0M280 303l-5 2M422 305l1 3M728 304l-1 0M22 307l-1 0M132 307l-1 0M447 307l2 0M607 307l2 0M45 312l-1 2M237 310l-3 0M400 310l-2 2M521 312l0 2M68 315l0 2M153 314l0 3M630 315h0M92 318h0M258 317l1 2M746 317h0M115 321h0M344 323l-3 0M174 324l0 4M500 324l1 1M542 323l-1 2M651 325l-1 2M412 328l0 2M436 327l1 1M460 327l-1 1M28 331l-1 1M136 331l0 1M238 331h0M319 332l-3-1M388 332h0M51 335l3 0M194 334h0M521 335l0 3M563 335h0M79 339l-3-1M481 337l-2 2M631 338l-1 1M746 338l3 0M297 343l-1 2M7 345l0 3M256 344l-2 1M338 345l2 0M586 344l-2 0M402 350l0 2M428 349l-3-1M459 352l-9-3M501 349h0M543 348l-2 0M205 352l2 0M231 351l2 1M610 351l-3 1M727 351l-2 0M137 354l-2 2M317 354l-1 2M564 357l1 0M358 359l0 3M480 361l1 2M630 361l1 2M750 362l-2-1M297 366l-1 4M336 367l0 1M586 366l3 0M7 370h0M439 369l-2 1M545 369l0 4M50 372l0 1M197 372l1 2M221 373l-2-1M504 373l-3 0M729 373l-4 0M460 375l1 2M610 375h0M28 380l2 0M276 380l0 3M314 379l0 1M566 380l2 0M354 383l-2 0M483 384l1 2M524 383l1 4M68 386l3 0M235 390l0 3M256 390h0M591 390l-2-1M211 394h0M296 393l0 1M443 393h0M548 394h0M389 397l2 0M651 397l3 0M89 400l0 4M367 400l0 1M466 400l0 1M572 400l-2 1M276 406l-4 2M694 408l-2-1M748 408l-1 3M248 410l1 2M201 415l0 2M45 418l2 0M178 417l-1 2M384 417l-2 1M555 417l1 1M23 424l0 1M95 425l-7 0M470 423l1 2M623 425l0 3M121 428l-2-1M426 431l3 0M685 431h0M739 432l0 3M65 434h0M215 435l-1 2M166 438l-2 0M375 439h0M562 439h0M41 441h0M300 442l3 0M16 445l1 1M108 445l1 3M350 445l-1 0M477 445l0 3M86 448l-4 1M614 448l-1 2M756 449l0 3M327 452l-4 1M436 451h0M677 452l-1 0M61 455l-3 1M204 456l1 3M391 455l0 1M543 456l4 0M731 455l2 2M368 460h0M571 459l-2 0M655 459h0M166 462l0 1M99 466l0 3M344 466l0 3M521 465h0M146 472l1 0M187 474h0M275 473l-3-1M748 472l2 2M210 481l1 3M726 479l0 1M112 487h0M167 487l-7 4M463 486l0 1M704 486l0 1M136 490h0M416 491l-1 2M682 493l2 0M234 497l-2 0M276 498l-2-2M395 498h0M634 497l0 3M660 497h0M744 497l-2 1M324 501l-2 0M372 500l2 0M21 503l-2 1M501 503l0 3M719 504l3 0M102 507h0M123 508l0 1M255 509l1 1M456 507l0 1M613 506l-1 2M62 511l2 0M171 510l-1 4M569 512l-1 6M699 510l-2 1M85 519l1 3M385 518l3 0M415 518l-3-1M520 517l0 1M542 518l3 0M651 517h0M234 521l1 1M276 520l1 1M736 520l-1 1M18 524l0 1M320 525l-2-1M109 527h0M463 528h0M712 527l-1 1M131 531l-1 1M154 531l-1 1M255 532l0 3M298 532l-2 0M606 530l1 2M71 535l-2 0M174 535h0M582 536l1 3M374 538l1 1M401 538l-3 1M649 539l-2 0M31 543h0M92 542l1 4M481 541l-2 1M236 545l-1 1M276 545h0M726 545l-1 3M54 549l1 2M116 549h0M316 548l2 1M139 552h0M186 557l-3-1M255 556l1 4M518 556l0 3M603 555l1 1M79 560l-3-2M211 558l4 0M361 560l-2-1M411 559l-2 0M495 559h0M338 562l-4 1M470 562l3 0M579 561l1 2M644 562l3 0M235 569l3 0M688 570h0M60 572l2 2M147 573h0M170 576h0M195 576l-1 1M397 578l-2 0M600 577l-2 0M665 576l2 0M351 581l-1 2M372 580l2 0M421 579l2 3M487 580l1 17M21 582l-2 2M218 582l1 2M259 582l1 2M42 586l0 1M328 586l-2 3M576 586l-1 1M644 586l-3 1M704 586l1 2M743 587l3 0M443 590l1 4M135 593l-2 0M157 594h0M304 593l-1 2M551 593l1 2M682 594l2 0M62 597l-1 1M180 597h0M278 596l2 3M364 601l0 3M386 600l0 1M528 601l0 3M661 601h0M341 604l0 3M79 609h0M218 606l-1 2M259 606l-1 2M504 611l3 0M701 610l2 1M744 610l-2 2M296 617l1 1M402 618h0M549 617l-4 1M620 619l0 2M678 618l3 0M61 621l1 4M276 621l0 3M483 620l2 2M599 620l-2 1M358 624h0M525 625l-1 2M657 625h0M40 628h0M334 628l1 4M463 628l0 2M423 631l-4 1M565 631l-2 1M313 635h0M501 635l3 0M636 635h0M742 635l1 5M177 637l-1 2M442 638l0 1M542 640l-1 2M585 638l1 3M674 639h0M290 642h0M398 642l1 5M26 645l2 1M51 646l0 2M480 644l1 2M137 650l-4-1M521 650h0M654 649l0 2M340 661l-12-9M460 652l0 3M111 656l-2 2M161 655l-1 2M184 659l0 2M306 659l1 1M500 659l-1 0M709 658l-1 1M753 661l0 2M542 663l-1 2M14 665h0M38 666l-1 1M62 666l2 0M208 665h0M362 666l-1 1M385 666l0 3M477 667l0 2M235 670l-4-1M520 673l-2 0M431 680l-2-1M695 679h0M106 682l-4 2M302 683l1 1M345 683l-1 1M740 683l-2 4M24 687l3 0M51 686l-1 1M218 686h0M369 686l-1 2M671 687l3 0M282 691l2 3M477 690l0 2M416 694l0 3M520 697h0M613 697l-4-1M180 700l1 4M262 700l-2 1M327 702l-4-2M584 702l2 0M691 701l0 3M40 707l-2-1M89 705h0M753 704l1 4M112 708l-2-1M157 707l0 1M221 708l0 3M302 707l1 1M353 707l-2 0M461 707l0 1M561 707l1 2M731 708l-1 3M538 712h0M669 711l-2 1M136 715l-4-1M483 714l1 1M245 718l-4 1M510 718l-3 2M600 718l3 0M709 718l-1 4M198 720h0M51 725l3 3M75 724h0M174 724h0M579 725l-3 0M648 724l-1 4M6 728h0M150 729l0 2M362 728l-1 1M746 728l0 3M218 731l-1 1M468 731l-2 2M724 735l-1 0M491 738l-2 0M426 743l0 3M511 742l1 4M630 742l0 3M167 745l3 0M324 745l3 0M20 748h0M109 749l0 3M347 748l1 1M371 750h0M400 750l-2 1M450 749l0 3M572 748l1 1M534 752l0 1M736 752l0 1M473 756h0M713 755l-1 2M245 760l0 2M495 759l-1 1M613 758h0M88 762l2 1M310 763l-2 0M591 764l0 2M383 766h0" stroke-width="14"/><path d="M268 19l0 2M45 33l-1-1M723 47l-1 0M64 49l0 2M160 54l-1 0M235 74l-2-1M405 97h0M387 135l-2 2M263 158l1 1M368 155h0M55 178l-3 2M162 182l-1 1M714 180l0 1M669 191l-1 0M279 219l0 1M134 243l-1 0M95 254l-2 1M735 255l-1 2M595 262l-2-1M445 265l-2 0M470 266h0M191 282l1 2M501 301l-1 1M726 328h0M157 342h0M653 350l-1-1M179 352l1 2M379 354l-1 0M276 355l0 1M521 360l1 2M631 385l-1 0M750 384l1 2M670 411l-1 1M225 414h0M238 434l1 2M589 447l-2-2M414 451l-1 1M124 467l-1 0M630 466h0M188 497l3 0M212 508l0 2M300 508l-3 1M504 533l0 2M423 539l1 2M627 548l-1-1M99 567l0 1M124 571l-1 1M623 571l0 1M532 578l0 1M109 590h0M724 599l-1 1M639 610l0 1M168 616l-1 1M194 619l-2-1M698 634l0 3M633 660l-2-1M406 670l2 2M653 673l-1 1M455 679l1 3M167 680l-3 2M76 685l-1 1M541 687l3 3M392 690h0M439 700l0 1M14 705l2 2M378 710l-2 0M554 732l-2 2M652 751l1 1" stroke-width="15"/><path d="M181 13l2 0M230 49h0M466 56h0M260 108h0M584 177h0M145 201l1 0M410 215l-1 0M110 235l1 0M117 259l1 0M362 336l2 0M449 416l0 1M253 485l0 1M619 596l-2 1M380 624h0M88 665l-1 0" stroke-width="16"/><path d="M708 388l-2 0" stroke-width="17"/><path d="M582 69l-7-2-4-3-11-19-1-24 2-5 4-2 3 1 4 6-2 14 1 10 4 6 10 8 1 3-4 7zM558 66l-7 3-4-3-3-7-4-10-2-21 3-7 3-1 5 4 1 21 8 17 0 4zM452 74l-7 1-10-8-14-3-3-5 0-4 3-2 7-1 10 7 10 2 5 5 1 3-2 5zM612 134l-6 0-5-6-2-7-8-14 1-3 3-5 7 2 2 3 2 10 9 14-3 6zM120 174l-7 2-17-5-4-5 0-3 4-4 3 0 10 5 5-1 5-4 7-13 4-1 5 4 0 7-15 18zM366 217l-7 1-10-2-8-5-2-6 3-4 4 0 13 6 6-2 8-10 3-1 4 4 0 7-14 12zM195 244l-7-1-2-4 0-10-3-18 2-6 3-3 7 2 1 4-2 10 5 18 0 3-4 5zM691 285l-5-4-1-4 5-7 22-10 3-1 6 4 0 4-2 4-14 4-14 10zM277 338l-3 1-4-3-1-3 1-5 4-4 17-9 3-3 4-11 3-2 4 0 4 6-6 14-5 6-11 4-10 9zM520 427l-7 2-4-3-3-17-7-14 0-3 4-3 7 2 4 8 3 13 5 11-2 4zM284 458l-14-2-11-9-5-14 0-7 3-3 3-1 3 1 2 3 1 11 4 7 14 3 3 4 0 3-3 4zM503 462l-7 2-3-3-1-7 4-4 14-10 14-3 13-10 4 0 5 3 1 3-3 5-17 9-14 4-10 11zM619 491l-7-2-5-11-5-3-17 2-3-4-1-5 4-3 10-1 14 2 14 16 1 3-5 6zM305 492l-14 0-4-3 0-4 4-4 17-1 14-10 6 3 2 5-2 4-23 10zM595 522l-6 1-3-3-1-7 5-24 5-4 7 4 1 3-6 11 1 13-3 6zM746 570l-7 1-3-6 8-14 0-14 5-5 5 2 1 7-2 14-7 15zM763 648l-7-24 4-5 3-1 1 9-1 21zM263 687l-6-4-14-26-10-4-14 2-4-3 0-4 2-3 5-3 14 0 14 7 20 30-1 4-6 4zM599 688l-4 1-6-2-18-22-14-6-2-4 1-3 9-3 13 7 11 14 10 9 1 4-1 5zM626 729l-5-1-3-7 8-12 7-6 10-4 7-7 7 1 2 4-3 7-20 10-6 13-4 2zM701 749l-6 2-7-6-6-17 0-4 2-4 4-1 4 2 4 14 7 7-2 7z" stroke="none" fill="#000"/></g></g></g><rect x="15" y="2070.5" width="381.5" height="386.5" fill="none" stroke="#1e1e1e" stroke-width="1.2"/>
<text transform="matrix(1.16 0 0 1 24.8 2123.2)" class="pn">(f)</text>
<rect x="408.7" y="2071.5" width="20.9" height="385.0" fill="url(#gold)" stroke="#3a3a3a" stroke-width="1.2"/>
<line x1="408.7" y1="2071.5" x2="440.6" y2="2071.5" stroke="#505050" stroke-width="1.3"/>
<text transform="matrix(1 0 0 1.17 442.1 2087.8)" class="gl">0.675</text>
<line x1="408.7" y1="2456.5" x2="440.6" y2="2456.5" stroke="#505050" stroke-width="1.3"/>
<text transform="matrix(1 0 0 1.17 442.1 2454.6)" class="gl">0.000</text>
<line x1="429.6" y1="2428.0" x2="440.6" y2="2428.0" stroke="#505050" stroke-width="1.3"/>
<line x1="429.6" y1="2399.5" x2="440.6" y2="2399.5" stroke="#505050" stroke-width="1.3"/>
<text transform="matrix(1 0 0 1.17 442.1 2415.8)" class="gl">0.100</text>
<line x1="429.6" y1="2370.9" x2="440.6" y2="2370.9" stroke="#505050" stroke-width="1.3"/>
<text transform="matrix(1 0 0 1.17 442.1 2387.2)" class="gl">0.150</text>
<line x1="429.6" y1="2342.4" x2="440.6" y2="2342.4" stroke="#505050" stroke-width="1.3"/>
<text transform="matrix(1 0 0 1.17 442.1 2358.7)" class="gl">0.200</text>
<line x1="429.6" y1="2313.9" x2="440.6" y2="2313.9" stroke="#505050" stroke-width="1.3"/>
<text transform="matrix(1 0 0 1.17 442.1 2330.2)" class="gl">0.250</text>
<line x1="429.6" y1="2285.4" x2="440.6" y2="2285.4" stroke="#505050" stroke-width="1.3"/>
<text transform="matrix(1 0 0 1.17 442.1 2301.7)" class="gl">0.300</text>
<line x1="429.6" y1="2256.9" x2="440.6" y2="2256.9" stroke="#505050" stroke-width="1.3"/>
<text transform="matrix(1 0 0 1.17 442.1 2273.2)" class="gl">0.350</text>
<line x1="429.6" y1="2228.4" x2="440.6" y2="2228.4" stroke="#505050" stroke-width="1.3"/>
<text transform="matrix(1 0 0 1.17 442.1 2244.7)" class="gl">0.400</text>
<line x1="429.6" y1="2199.8" x2="440.6" y2="2199.8" stroke="#505050" stroke-width="1.3"/>
<text transform="matrix(1 0 0 1.17 442.1 2216.1)" class="gl">0.450</text>
<line x1="429.6" y1="2171.3" x2="440.6" y2="2171.3" stroke="#505050" stroke-width="1.3"/>
<text transform="matrix(1 0 0 1.17 442.1 2187.6)" class="gl">0.500</text>
<line x1="429.6" y1="2142.8" x2="440.6" y2="2142.8" stroke="#505050" stroke-width="1.3"/>
<text transform="matrix(1 0 0 1.17 442.1 2159.1)" class="gl">0.550</text>
<line x1="429.6" y1="2114.3" x2="440.6" y2="2114.3" stroke="#505050" stroke-width="1.3"/>
<text transform="matrix(1 0 0 1.17 442.1 2130.6)" class="gl">0.600</text>
<g filter="url(#bl7)"><polygon points="631.0,2176.0 762.0,2267.0 627.0,2364.0 496.0,2273.0" fill="#f040c8"/><g transform="matrix(0.32750 0.22750 -0.33750 0.24250 631.0 2176.0)"><use href="#h3f" fill="#c030c8" stroke="#c030c8" stroke-width="16.0" stroke-linejoin="round" clip-path="url(#c3f)"/></g><g transform="matrix(0.32750 0.22750 -0.33750 0.24250 631.0 2174.2)"><use href="#h3f" fill="#ff36f4" stroke="#ff36f4" stroke-width="14.8" stroke-linejoin="round" clip-path="url(#c3f)"/></g><g transform="matrix(0.32750 0.22750 -0.33750 0.24250 631.0 2172.3)"><use href="#h3f" fill="#ff30c8" stroke="#ff30c8" stroke-width="13.5" stroke-linejoin="round" clip-path="url(#c3f)"/></g><g transform="matrix(0.32750 0.22750 -0.33750 0.24250 631.0 2170.5)"><use href="#h3f" fill="#ff3890" stroke="#ff3890" stroke-width="12.3" stroke-linejoin="round" clip-path="url(#c3f)"/></g><g transform="matrix(0.32750 0.22750 -0.33750 0.24250 631.0 2168.6)"><use href="#h3f" fill="#ff5068" stroke="#ff5068" stroke-width="11.1" stroke-linejoin="round" clip-path="url(#c3f)"/></g><g transform="matrix(0.32750 0.22750 -0.33750 0.24250 631.0 2166.8)"><use href="#h3f" fill="#ff904d" stroke="#ff904d" stroke-width="9.8" stroke-linejoin="round" clip-path="url(#c3f)"/></g><g transform="matrix(0.32750 0.22750 -0.33750 0.24250 631.0 2164.9)"><use href="#h3f" fill="#ffc830" stroke="#ffc830" stroke-width="8.6" stroke-linejoin="round" clip-path="url(#c3f)"/></g><g transform="matrix(0.32750 0.22750 -0.33750 0.24250 631.0 2163.1)"><use href="#h3f" fill="#b0e030" stroke="#b0e030" stroke-width="7.4" stroke-linejoin="round" clip-path="url(#c3f)"/></g><g transform="matrix(0.32750 0.22750 -0.33750 0.24250 631.0 2161.2)"><use href="#h3f" fill="#00f050" stroke="#00f050" stroke-width="6.2" stroke-linejoin="round" clip-path="url(#c3f)"/></g><g transform="matrix(0.32750 0.22750 -0.33750 0.24250 631.0 2159.4)"><use href="#h3f" fill="#00dc64" stroke="#00dc64" stroke-width="4.9" stroke-linejoin="round" clip-path="url(#c3f)"/></g><g transform="matrix(0.32750 0.22750 -0.33750 0.24250 631.0 2157.5)"><use href="#h3f" fill="#00acaa" stroke="#00acaa" stroke-width="3.7" stroke-linejoin="round" clip-path="url(#c3f)"/></g><g transform="matrix(0.32750 0.22750 -0.33750 0.24250 631.0 2155.7)"><use href="#h3f" fill="#0082e4" stroke="#0082e4" stroke-width="2.5" stroke-linejoin="round" clip-path="url(#c3f)"/></g><g transform="matrix(0.32750 0.22750 -0.33750 0.24250 631.0 2153.8)"><use href="#h3f" fill="#3a8cf8" stroke="#3a8cf8" stroke-width="1.2" stroke-linejoin="round" clip-path="url(#c3f)"/></g><g transform="matrix(0.32750 0.22750 -0.33750 0.24250 631.0 2152.0)"><use href="#h3f" fill="#7aacf6" clip-path="url(#c3f)"/></g></g>
<rect x="907.6" y="2090.0" width="19.1" height="345.6" fill="url(#rainbow)"/>
<rect x="907.6" y="2090.0" width="19.1" height="345.6" fill="none" stroke="#3a3a3a" stroke-width="1.3"/>
<line x1="926.7" y1="2090.0" x2="937.7" y2="2090.0" stroke="#404040" stroke-width="1.3"/>
<text transform="matrix(1 0 0 1.12 940.2 2097.2)" class="rl">0.7</text>
<line x1="926.7" y1="2139.4" x2="937.7" y2="2139.4" stroke="#404040" stroke-width="1.3"/>
<text transform="matrix(1 0 0 1.12 940.2 2146.6)" class="rl">0.6</text>
<line x1="926.7" y1="2188.7" x2="937.7" y2="2188.7" stroke="#404040" stroke-width="1.3"/>
<text transform="matrix(1 0 0 1.12 940.2 2195.9)" class="rl">0.5</text>
<line x1="926.7" y1="2238.1" x2="937.7" y2="2238.1" stroke="#404040" stroke-width="1.3"/>
<text transform="matrix(1 0 0 1.12 940.2 2245.3)" class="rl">0.4</text>
<line x1="926.7" y1="2287.5" x2="937.7" y2="2287.5" stroke="#404040" stroke-width="1.3"/>
<text transform="matrix(1 0 0 1.12 940.2 2294.7)" class="rl">0.3</text>
<line x1="926.7" y1="2336.9" x2="937.7" y2="2336.9" stroke="#404040" stroke-width="1.3"/>
<text transform="matrix(1 0 0 1.12 940.2 2344.1)" class="rl">0.2</text>
<line x1="926.7" y1="2386.2" x2="937.7" y2="2386.2" stroke="#404040" stroke-width="1.3"/>
<text transform="matrix(1 0 0 1.12 940.2 2393.4)" class="rl">0.1</text>
<line x1="926.7" y1="2435.6" x2="937.7" y2="2435.6" stroke="#404040" stroke-width="1.3"/>
<text transform="matrix(1 0 0 1.12 940.2 2442.8)" class="rl">0.0</text>
<path d="M1009.7 2245.2H1375.0M1009.7 2211.3H1375.0M1009.7 2177.5H1375.0M1009.7 2143.7H1375.0M1009.7 2109.8H1375.0M1131.5 2075.3V2279.0M1253.2 2075.3V2279.0" stroke="#e6e6e6" stroke-width="1" fill="none"/>
<path d="M1009.7 2215.7 L1012.4 2228.6 L1015.8 2224.9 L1018.5 2212.0 L1021.4 2175.1 L1024.1 2116.6 L1026.7 2099.0 L1029.4 2098.0 L1032.6 2109.2 L1035.0 2156.9 L1037.7 2197.1 L1041.4 2217.4 L1044.3 2228.6 L1047.0 2215.7 L1049.6 2156.9 L1052.6 2105.4 L1055.2 2106.4 L1057.9 2156.9 L1061.6 2237.7 L1065.0 2236.7 L1068.1 2184.3 L1070.8 2142.3 L1073.0 2123.0 L1075.5 2125.7 L1078.1 2175.1 L1081.8 2235.7 L1085.4 2224.9 L1090.1 2178.9 L1093.2 2155.2 L1095.7 2175.1 L1098.3 2224.9 L1102.0 2237.7 L1107.1 2238.7 L1111.3 2175.1 L1114.9 2103.7 L1118.6 2094.3 L1122.0 2105.4 L1125.1 2156.9 L1127.8 2224.9 L1130.5 2235.0 L1136.1 2221.1 L1138.8 2175.1 L1142.2 2112.9 L1145.3 2096.3 L1148.0 2116.6 L1150.7 2156.9 L1153.4 2185.3 L1156.3 2140.3 L1159.5 2132.2 L1162.4 2177.2 L1164.8 2193.7 L1168.2 2129.5 L1170.9 2103.7 L1173.6 2099.0 L1177.5 2138.6 L1179.7 2208.3 L1181.9 2237.7 L1184.3 2212.0 L1188.0 2166.0 L1191.6 2138.6 L1194.1 2139.3 L1197.2 2175.1 L1201.8 2202.9 L1205.5 2232.3 L1209.2 2234.0 L1214.3 2236.7 L1219.1 2233.0 L1225.7 2223.9 L1229.4 2156.9 L1231.6 2129.5 L1234.0 2114.2 L1237.2 2123.7 L1240.3 2175.1 L1243.0 2215.7 L1245.4 2219.5 L1248.6 2215.7 L1251.8 2193.7 L1254.7 2156.9 L1257.9 2141.3 L1260.5 2156.9 L1264.2 2184.3 L1267.8 2230.3 L1272.5 2237.7 L1277.1 2241.4 L1282.7 2244.2 L1286.4 2246.9 L1289.5 2241.4 L1291.7 2138.6 L1294.6 2100.0 L1298.3 2087.2 L1301.5 2083.4 L1303.2 2085.1 L1305.6 2129.5 L1309.2 2224.9 L1311.9 2221.1 L1315.3 2217.4 L1319.2 2205.6 L1321.7 2206.6 L1326.8 2235.0 L1332.1 2231.3 L1337.0 2228.6 L1339.7 2226.6 L1343.3 2227.6 L1347.0 2225.9 L1353.3 2224.9" stroke="#3c3c3c" stroke-width="1.15" fill="none" stroke-linejoin="round"/>
<path d="M1009.7 2075.3H1375.0V2279.0" stroke="#5a5a5a" stroke-width="1.4" fill="none"/>
<path d="M1009.7 2074.3V2279.0M1000.7 2279.0H1375.0" stroke="#3c3c3c" stroke-width="1.6" fill="none"/>
<path d="M1000.7 2279.0H1009.7M1004.7 2275.6H1009.7M1004.7 2272.2H1009.7M1004.7 2268.8H1009.7M1004.7 2265.5H1009.7M1003.7 2262.1H1009.7M1004.7 2258.7H1009.7M1004.7 2255.3H1009.7M1004.7 2251.9H1009.7M1004.7 2248.6H1009.7M1000.7 2245.2H1009.7M1004.7 2241.8H1009.7M1004.7 2238.4H1009.7M1004.7 2235.0H1009.7M1004.7 2231.6H1009.7M1003.7 2228.2H1009.7M1004.7 2224.9H1009.7M1004.7 2221.5H1009.7M1004.7 2218.1H1009.7M1004.7 2214.7H1009.7M1000.7 2211.3H1009.7M1004.7 2207.9H1009.7M1004.7 2204.6H1009.7M1004.7 2201.2H1009.7M1004.7 2197.8H1009.7M1003.7 2194.4H1009.7M1004.7 2191.0H1009.7M1004.7 2187.7H1009.7M1004.7 2184.3H1009.7M1004.7 2180.9H1009.7M1000.7 2177.5H1009.7M1004.7 2174.1H1009.7M1004.7 2170.7H1009.7M1004.7 2167.3H1009.7M1004.7 2164.0H1009.7M1003.7 2160.6H1009.7M1004.7 2157.2H1009.7M1004.7 2153.8H1009.7M1004.7 2150.4H1009.7M1004.7 2147.1H1009.7M1000.7 2143.7H1009.7M1004.7 2140.3H1009.7M1004.7 2136.9H1009.7M1004.7 2133.5H1009.7M1004.7 2130.1H1009.7M1003.7 2126.8H1009.7M1004.7 2123.4H1009.7M1004.7 2120.0H1009.7M1004.7 2116.6H1009.7M1004.7 2113.2H1009.7M1000.7 2109.8H1009.7M1004.7 2106.4H1009.7M1004.7 2103.1H1009.7M1004.7 2099.7H1009.7M1004.7 2096.3H1009.7M1003.7 2092.9H1009.7M1004.7 2089.5H1009.7M1004.7 2086.2H1009.7M1004.7 2082.8H1009.7M1004.7 2079.4H1009.7M1000.7 2076.0H1009.7M1009.7 2279.0V2287.0M1021.9 2279.0V2284.5M1034.1 2279.0V2284.5M1046.2 2279.0V2284.5M1058.4 2279.0V2284.5M1070.6 2279.0V2284.5M1082.8 2279.0V2284.5M1094.9 2279.0V2284.5M1107.1 2279.0V2284.5M1119.3 2279.0V2284.5M1131.5 2279.0V2287.0M1143.6 2279.0V2284.5M1155.8 2279.0V2284.5M1168.0 2279.0V2284.5M1180.2 2279.0V2284.5M1192.3 2279.0V2284.5M1204.5 2279.0V2284.5M1216.7 2279.0V2284.5M1228.9 2279.0V2284.5M1241.1 2279.0V2284.5M1253.2 2279.0V2287.0M1265.4 2279.0V2284.5M1277.6 2279.0V2284.5M1289.8 2279.0V2284.5M1301.9 2279.0V2284.5M1314.1 2279.0V2284.5M1326.3 2279.0V2284.5M1338.5 2279.0V2284.5M1350.6 2279.0V2284.5M1362.8 2279.0V2284.5M1375.0 2279.0V2287.0" stroke="#555" stroke-width="1" fill="none"/>
<text x="999.2" y="2277.8" class="pl" text-anchor="end">0.0</text>
<text x="999.2" y="2248.5" class="pl" text-anchor="end">0.1</text>
<text x="999.2" y="2214.6" class="pl" text-anchor="end">0.2</text>
<text x="999.2" y="2180.8" class="pl" text-anchor="end">0.3</text>
<text x="999.2" y="2147.0" class="pl" text-anchor="end">0.4</text>
<text x="999.2" y="2113.1" class="pl" text-anchor="end">0.5</text>
<text x="999.2" y="2083.8" class="pl" text-anchor="end">0.6</text>
<text x="1009.7" y="2298.0" class="pl" text-anchor="middle">0.0</text>
<text x="1131.5" y="2298.0" class="pl" text-anchor="middle">0.5</text>
<text x="1253.2" y="2298.0" class="pl" text-anchor="middle">1.0</text>
<text x="1375.0" y="2298.0" class="pl" text-anchor="middle">1.5</text>
<text x="1190.3" y="2311.0" class="pl" text-anchor="middle">x</text>
<text transform="translate(983.7,2177.2) rotate(-90)" class="pl" text-anchor="middle">y</text>
<rect x="1316.0" y="2078.8" width="56.5" height="16" fill="#fff" stroke="#555" stroke-width="1.2"/>
<line x1="1320.5" y1="2086.8" x2="1330.5" y2="2086.8" stroke="#444" stroke-width="1"/>
<text x="1334.0" y="2090.3" class="pl">Profile 1</text>
<g filter="url(#hmg)"><rect x="15" y="2529" width="383.6" height="381.0" fill="#000" fill-opacity="0"/><g transform="translate(15,2529) scale(0.5)"><path d="M170 112l-22 2-10-3-18-31-8-41-11-13-19-10-27-4-20-12 16-1 36 5 9 4 16 11 9 10 5 12 9 42 11 16 8 3 14-3 20-13 8-8 2-11-5-57 9-10 14 0-10 19 4 51-2 13-9 10-29 19zM161 93l-10-1-10-15-6-35-10-21-7-8-20-13 23 0 11 10 14 25 3 26 5 16 7 3 15-10 2-6-5-38-14-26 13 0 8 8 5 14 5 48-7 10-22 13zM164 71l-7-4-1-3 1-10-5-25-17-29 16 0 13 26 6 35-1 6-5 4zM189 6l-6-1-3-5 13 0-4 6zM42 355l-13 0-29-12 0-14 32 13 14-1 21-8 6-8 8-38-15-26-5-28-4-10 3-9-2-3-3 1-10 7-10 3-4 8 8 45 12 15-2 16-4 6-6 3-7-1-16-8-2-9 12-23-8-44 2-10 9-7 29-18 31-39 27-25 25-9 31-1 24-16 15-13 5-6 2-9-3-58 10-19 9-1 5 1-12 26 3 51-2 12-13 17-19 14-11 4-2 4 3 3 7 0 31-23 10-12 4-10-3-51 1-13 12-22 14 0-14 29 0 19 4 32-3 16-7 12-14 14-29 20-13 1-16-8-19-1-13 2-16 7-29 27-27 37-1 3 6 7 6 38 9 16 8 10 1 6-12 51-6 5-35 12zM263 762l-13 0 13-22 16-12 21-7 3-4-1-3-7-1-29 14-11 9-14 26-14 0 23-40 36-19 13 0 4-5 0-3-4-3-10 4-10 1-35 19-26 46-14 0 24-48-3-19 1-16 3-9 9-12 12-9 49-7 22-14 19-19 1-19-2-3-5-2-10 2-22-1-20 8-38 8-10-5-39 34-13 26-5 20 1 21-1 13-10 19-9 10-3 9-7 0-29-19-19-9-23-1-16-10-8 1-2 3 2 3 21 10 22 1 10 4 38 23 6 7-19 0-31-19-33-5-16-8-9-8-36 0-6-5 0-25 26-3 41-16 15-10 18-17 6-1 19 5 39 18 6-5-3-5-13-2-32-16-16-1-6-5-23 23-13 8-38 15-20 4-6-1 0-14 10 2 16-4 32-12 11-8 15-16 9-25-3-19-10-15-16-16-9 0-9-8-1-16-6-22-20-13-19-4-1-5 1-8 29 5 3-7 3-2 23-9 13-11 6 2 2 7-5 6-26 15-13 3-2 2 6 6 6 0 10-7 14-5 11-10 7-11-3-11-7-5-6 1-23 14-26 12-22-3 0-12 22 1 52-25 6-1 9 5 9 13 1 12-8 16-11 12-9 6-13 3-5 5 5 35 3 5 3 1 3-3-5-32 2-6 7-4 5 4 1 3-2 13 5 29 26 35 10-3 12 4 13 1 26-6 10-5 9-10 21-32 11-9 13-3 24 2 44-14 28 1 26-2 32-32 0-5-3-3-5 1-6 9-15 16-9 6-26 2-26-3-6 7-17 1-15 8-26-3-16 5-13 9-21 32-11 11-29 9-29-3-6-5-18-25-7-41 3-6 16-20 9-19-2-6-11-19-9-8-10-2-19 6-32 18-13 3-13-2 0-12 20 0 38-20 19-5 13 1 13 10 20 30 0 3-9 22-18 26 1 25 6 17 10 12 9 5 22 2 20-7 9-10 21-31 15-11 22-7 23 5 5-3 0-3-25-8-27 8-18 12-21 32-11 11-16 5-13-1-6-3-7-5-8-13-3-19 0-10 15-22 13-25 26-20 2-9-6-20-26-31-38-19-10-1-58 16-6-8-16-5 0-15 32 13 26-6 25-10 7 1 45 23 30 36 6 16 1 22-5 7-26 20-25 44 3 18 9 11 10 3 13-4 7-6 17-29 11-11 13-9 10-4 12-1 5-4-1-4-10-1-19 7-13 8-13 13-17 28-9 7-9 1-9-8-2-6 0-9 21-36 6-6 28-22 1-23-7-23-32-40-9-7-38-16-3-3-1-6 12-45 7-11 16-12 16-10 20-7 12-1 36 4 19 3 13 5 7-3-8-6-10-3-63-8-35 12-10 9-10 1-9-21-4-19-1-9 4-10 20-25 19-14 16-2 26 7 22 1 29 5 10-4 32-29 6-2 39-2 19 3 39 18 22 6 5-3 0-10 15-25-10-3-51-30-33-4-38 0-26-9-5-9-2-41 15-32 5-1 9 1-12 22-5 13 1 29 4 7 22 9 29-1 42 5 23 15 28 13 7 10 9-4 1-3-3-3-46-25-13-10-48-6-25 1-17-4-5-7-1-23 5-16 11-18 5-4 11-1 45 2 26-2 54 1-41 3-32 11-42-6-10 1-9 7-10 20-1 18 7 5 26-1 51 5 16-8 26-7 16 3 13 10 10 2 61-18 6 1 27 15 21 3 13-1 6 2 13 15 16 30 29 17 15 13 13 26 11 32 30 19 27 28 5 10 1 13 0 3-8 6-1 4 3 6 4 0 4-3 7-19-8-25-26-27-32-22-9-28-13-26-21-19-25-13-19-34-16-16-3-1-9 3-26-4-26-15-6-2-13 2-51 17-10-3-4-7-18-4-15 0-30 12-10 2-55-5-9 3-4-2-4-6 9-23 5-4 7-2 48 5 32-10 35-2 28-9 30 0-23 10-32 11-34 1-33 12-19-1-29-4-7 2-2 4 2 5 13-3 42 5 35-12 36-1 61-24 38-6 17 1-11 6-1 4 1 2 10 5 7 5 22-1 7 5 11 22 19 22 12 26 22 9 30 29 2 9 7 13 9 26 29 20 30 31 8 22 0 13-10 22-1 10-5 2-6-1-15-8-8-16-13-19-16-16-16-10-6 1-3 3-19 25 3 5 6-1 13-21 6-3 7 3 27 30 14 26 12 6 14 4 16 17 0 14-11-6-12-13-25-11-7-8-8-16-11-15-12-15-7 1-1 7 11 8 11 14 14 27 26 13 19 17 13 5 0 14-9-5-7 2-19-20-32-17-16-31-16-15-29-2-23 8-16 8-9 1-20-9-25-4-10-3-24-18-7-9-4-13-12-16-8-26 0-6 2-6 8-6 13-2 10 3 19 12 6 1 16-4 13-7 10-3 2 3 0 9-34 14-16 0-29-15-6 1-2 3 1 5 4 2 9-2 3 1 13 11 19 3 36-12 9-11 7 1 3 5-3 8-23 13-18 5-1 3 2 3 8 1 30-13 8-8 5-8-2-10-12-8-10-2-7-9-6-1-9 9-17 5-9-2-13-8-13-5-13 0-12 5-7 9-2 10 10 35 21 35 25 20 10 5 26 4 22 6 10 6 19-11 20-7 19 0 13 3 13 16 11 25 30 15 10 8 6 9 0 13 2 6 8 6 19 10 1 10-1 3-32-16-7-9-6-24-11-8-21-9-4 2-4 10-13 16-30 24-26 15-35 5-26 10-22-5-13 2-7-2-1-8 5-5 38 6 5-1 11-8 32-4 13-4 25-16 20-16 10-11 11-20-11-27-5-5-8-4-16 0-12 4-16 9-14 18-13 4-26-9-32-5-44-32-28-46-13-35-1-19 8-22 14-18 26-9 22-3 20 6 16 8 5 6-2 6-7 2-16-9-22-6-22 4-14 6-12 19-4 16 3 16 10 28 26 42 36 26 35 7 22 8 7-2 2-4-2-4-10 1-16-6-35-8-29-20-10-10-20-35-10-29 0-16 7-16 10-9 20-6 12 1 10 3 19 11 6 0 16-10-11-19-8-5-35-10-29 5-18 7-11 10-12 22-6 22 2 16 13 34 29 49 45 33 39 7 22 9 10 0 6-3 26-26 19-6 10 0 9 5 9 19-2 10-13 17-29 23-23 13-28 3-10-3-10-7-22-5-23-1-12 4-14 13-4 16 4 16 12 19 8 30 10 12 16 7 9 1 71-17 13 1 6-5 0-3-3-3-23 3-61 15-12-1-13-6-6-8-8-29-10-16-5-13 2-12 14-15 10-2 12 1 36 8 1 8-4 2-39-6-8 1-8 4-4 8 4 10 6 8 4 1 9-3 19 5 13 0 26-10 32-4 13-6 47-36 11-9 3-12 6-3 7 2 15 9 7 25 7 9 38 20 0 14-42-21-12-11-10-30-6-3-5 4 9 13 2 12 4 10 22 16 38 18 0 13-16-4-9-9-20-7-13-9-6 0-58 40-4 6-5 19-10 9-6-6-6 0-62 15-6 3-10 1-26-10-14-12-6-13-5-22-15-26-5-28-18-16-30-18-29-30-25-2-36 7-9 4-23 18-16 4-13-5-18-20-8-6-35-10-28-3-9 6-4 13 43 58 3 9 6 45-4 5-26 6-25 19-25 37 0 6 5 2 2-2 16-29 14-14 20-13 16-3 9-6 10 4 4 10 4 3 23 10 7 6 23 5 3-2-4-6-18-5-26-12-20-21-8-54-21-32-22-26 0-6 7-5 9 5 0 9 14 13 10 16 15 19 2 7 3 38 5 11 16 16 22 11 16 5 10 8 9 4 20 1 12-3 11-9 17-19-7-35 7-28-18-4-6 3-7 7-7 25 7 13 0 10-6 9-10 3-9-2-13-11-20-4-16-10-7-14 1-25 16-28 6-1 10 4 35-25 33-8 16 0 9 2 28 30 24 12 17 14 5 9 5 26 13 22 10 32 14 16 37 16 4 3 4 7 6 4 10 0 41-12 13-2 10 1 20 11 15 0 13-9 12-29 17-14 19-13 16-3 7-4 9-2 13 2 0 12-13 0-23 6-27 16-9 10-11 27-10 9-10 4-19 1-22-11-10-1-51 14-10 0-10-5-16-13-32-12-32 18-35 6-7 7-10 23-16 19-3 19 4 6 19-2 14-20 12-8 38-2 20-12 9 2 10 10 1 7-5 9-19 14-12 5-23-3-9 4-7 10 0 5 19 11 13 3 10-1 25-9 14-10 12-13 7-12 3-13-1-19-3-5-23-18-18-8-10 2-26 14-22 1-6 3-4 8 4 2 9-5 26-3 19-11 10-2 9 4 20 13 8 11 0 16-4 10-8 12-12 11-29 13-26-3-7-5 0-3 4-4 6-1 13 4 10-1 16-7 10-7 13-16 2-9-1-7-5-6-13-10-9-2-26 14-16 0-13 4-10-4-16 17-7 13-6 2-3-1-3-4 2-7 18-22 7-19 8-8 32-5 26-15 7-1 22 8 26 19 6 3 61-15 10 2 19 9 22 1 11-5 13-9 5-8 12-27 20-15 26-8 16-1 0 12-20 2-15 6-11 7-9 10-7 19-5 8-26 19-13 3-19-1-24-10-8-1-38 14 6 3 3 6-3 22-6 16-13 24-20 20-9 6-36 15-11-4-1-3 3-6 16-3 23-10 25-23 10-16 6-16 1-22 5-9-3-2-6 0-4 2 0 28-8 19-11 15-16 15-41 17-26-7-23-11-53 3-22 16-18 17-8 37 5 7 16 2 7-2 2-19 6-13 11-11 16-7 29-1 9 2 23 9 22 22 13 3 13-1 45-19 36-35 19-42 3-13-2-12 5-4 6 0 5 7-3 9 1 13-23 48-37 38-26 9-23 12-25 3-13-5-12-9-7-11-20-9-12-3-26 2-10 4-7 7-5 16 3 9 3-1 6-21 7-4 9-3 23-1 9 2 20 13 2 6-2 4-4 1-12-1-2 6-5 3-45 2-6-4-13 10-13 4-13-2-22-9-39 14-7 7-9 13zM648 93l-6 2-7-6-11-25-19-23-14-25-7-3-29 1-2-4 2-6 40-4 21 35 21 26 7 19 7 9-3 4zM758 186l-7-3-30-20-2-7 1-9-14-20-6-3-10 2-6-4-27-23-5-7 1-12-10-26-22-25-17-29 15 0 13 23 20 22 15 44 15 16 8 5 19 5 20 19 22 10 7 0 9-6 0 14-9 6-10-1-13-9-5 2 0 3 5 5 16 9 7 0 9-6 0 14-9 11zM758 134l-10 0-13-6-21-20-21-6-12-8-8-11-12-40-21-24-13-19 14 0 11 14 17 18 7 13 8 30 6 11 7 4 25 8 16 17 10 6 10-1 9-7 0 16-9 5zM754 113l-9-3-20-19-22-7-7-4-7-13-8-33-30-34 15 0 19 19 10 16 7 32 4 5 13 4 7-3 2-19-9-37-13-17 17 0 10 16 6 32 2 19-7 13 0 3 4 3 5-3 5-13 1-9-9-48-7-13 17 0 3 6 0 10 8 48-3 19-4 4-6 3-2 6 4 3 4-1 13-17 1 8-1 13-13 11zM716 68l-3 0-5-7-8-36-23-25 18 0 16 19 11 42-1 3-5 4zM767 45l-4-26-4-9 0-4 5-5 3 1 1 8-1 35zM0 151l0-15 10-8 16-18 10-14 4-10-3-25 1-32-9-10-23-3-2 3 4 10 3 48-3 9-8 12 0-94 26 1 9 4 16 12 29 3 16 8 7 7 4 9 8 41 8 13 11 10-3 6-6 3-8-3-3-10-9-9-4-13-5-32-4-9-16-10-21-2-4 1-1 4-1 19 4 29-2 10-30 38-21 17zM581 45l2-7-4-3-14 1-10-2-29-19-28 4-36 14-13 2-3 3 0 4 10 0 45-16 19-3 9 3 11 9 13 6 28 4zM0 126l0-16 14-18 4-9 0-42-6-12 4-6 3 0 9 6 2 6 1 51-7 13-24 27zM48 332l-13 3-9-2-26-14-1-32 6-22-5-26 0-25 6-10 42-28 37-45 10-10 1-6-3-2-5 2-46 55-32 21-10 10-1-13 1-4 35-25 46-54 2-6-5-38-4-7-3 0-4 3 7 35-3 13-45 52-26 17-1-8 1-6 23-17 36-44 2-10-5-41 2-4 6-4 16 5 7 6 8 45 8 12 9 10 0 3-3 6-22 21-32 39-32 20-13 16 8 48-13 29 0 6 18 13 12 3 13-2 5-4 6-19-1-10-11-16-7-35 0-6 5-9 8 5 0 13 5 22 13 23 1 9-7 29-7 7-10 3zM599 277l37-16 18-28 14-16 3-1 19 9 13 9 20 21 6 13 5 0 1-7-6-11-23-24-34-19-10-35-10-21-14-14-22-12-9-7-20-34-6-6-39-6-28-14-61 18-10-2-24-13-11 0-2 3 2 2 16 5 22 13 23-4 41-13 7 1 25 12 33 4 6 5 13 24 9 13 29 17 9 7 11 19 13 41-10 10-26 35-44 19 6 5 8-2zM597 379l25-12 28-26 5-6 2-7-4-9-8-3-13 3-25 25-20 8-37-11-33-5-45-32-11-11-25-44-17-48 0-22 13-29 15-19 12-8 13-3 29-8 13 1 35 10 6 4 20 28 36 24 8 15-2 10-14 17-41 19-13-3-8-11-5-3-13 0-6-2-10-11-6-3-3 3 0 4 17 19 3 12 24 20 10 3 23 1 5-1 4-8 36-14 29-39-4-22-13-26-38-25-20-32-6-5-26-4-32-12-64 16-6-1-20-13-16-6-6-9-6-1-6 3 2 5 42 22 13 9 64-16 10 1 29 11 16 2 6 5 23 33 33 21 8 9 5 13 3 13-1 9-25 32-29 13-14 9-16-1-13-4-19-17-5-6 5-6 3 0 22 18 14 4 38-16 10-7 16-22 1-10-4-12-10-13-32-19-23-32-48-15-37 9-27 8-19 23-13 32-6 5-29-7-45-20-42 0-11 3-32 29-8 4-58-7-26-6-9 1-20 13-16 20-1 13 5 19 6 6 3-1 1-5-6-12 1-20 14-15 16-11 74 12 22 0 39-33 9-3 20 0 25 3 39 18 16 4 13 0 3 3 3 6-6 9-10-6-32-7-29-15-17-3-19 0-9 3-10 6-19 17-1 6 4 3 4-1 6-8 16-14 16-4 29 4 29 15 32 7 10-1 6 9 16 42 26 44 10 9 51 36 35 5 26 9 9 1 12-3 11-6 29-27 8 1 2 3-2 7-21 18-16 12-16 7-16 0-26-10-42-6-62-47-29-48-8-23-10-19-48-10-6-4-7-7-29-6-16 5-14 13-1 7 9 15 16 11 10 2 19-1 26-5 16 1 6 3 4 6 8 28 12 16 15 28 15 17 29 19 20 17 6 1 2-2-3-6-47-34-14-14-15-28-14-20-8-29-4-4-6-4-22-3-26 6-29-2-15-15 2-11 10-7 9-2 29 5 5 2 0 3-2 6-3 1-32-4-5 4 1 3 4 3 26 2 13-7 9 0 39 8 7 10 11 32 24 40 12 14 29 20 26 22 51 7 23 10 19-2zM404 141l-3 0-51-27-26-3-35 1-10-2-9-5-10-1-6-5 0-7 3-3 6-2 10 7 16 5 38 0 29 4 39 21 13 4 2 9-6 4zM103 278l-7-4-10-19-10-41 1-7 11-19 16-19 18-17 13-7 26-3 25 9 16-1 28-19 20-21 7-2 25 11 45 0 23 4 38 20 10 1 5 6 1 3-4 3-8 2-52-25-19-2-45 1-4 2-2 7-29 23-10 5-10-1-12-5-23 0-25-8-17 1-9 3-13 10-16 16-16 25 3 26 6 19 11 10-2 9-5 4zM228 156l28-22 10-5-1-5-5-2-6 2-20 19-13 7-2 3 2 4 7-1zM767 229l-3-5-10-6-19-21-29-20-8-27-12-16 4-6 10 4 9 11 7 26 32 21 19 23 0 16zM767 202l-3-1-5-7 2-9 6 0 0 17zM309 290l6-4 51-6 13 1 4-4-1-3-6-3-71 10-39-23-5-6-5-13-9-7-86-13-7 3-6 7-4 0-4-3-1-6 9-10 13-4 86 12 14 8 12 19 6 7 29 15 52-7 12 2 5-4-1-3-10-4-29 5-32 1-23-13-15-24-20-11-67-7-23-5-9 3-15 14-2 6 3 13 4 4 6-1 7-5 16-3 77 12 10 9 0 9 4 3 44 28 7 1zM199 450l2-7-5-38-16-24-29-33-2-7 7-19 8-8 9-4 10 0 26 4 29 7 16 9 21 21 7 2 13-5 23-19 48-9 16 2 2-3-1-3-4-4-7 0-61 11-22 20-7 2-6-3-19-20-13-7-39-10-32-3-11 4-9 6-7 13 1 13-9 5-10-11-9 5-5-5-1-7 6-22 7-10 12-10 13-7 16-6 42 3 41 9 29 17 20 19 4 1 2-3-2-7-13-12-40-24-47-8-33-3-19 5-18 10-18 16-10 35 0 7 4 3 10 1 6 5 16 6 28 29 19 29 4 26-1 12 5 5 3-1zM290 328l-2-6-15-13-23-13-38-10-32-4-17 2-22 12-9 10-5 16 1 8 4-1 3-4 3-13 10-11 16-9 16-2 22 3 42 9 19 10 19 18 4 1 4-3zM39 300l0-7-4-4-4 1-3 3 1 7 3 2 7-2zM767 316l-7-7-2-6 9-14 0 27zM477 389l1-3-3-6-16-13-29-18-8-8-16-19-8-19-10-11-25 1-52 7 1 6 6 2 38-7 23-2 6 2 8 8 5 16 23 27 32 20 19 18 5-1zM331 485l-13 0-10-3-14-10-31-12-14-10-6-10-3-10-2-38-21-25-7-16-17-13 3-6 6-1 13 7 16 2 7 2 25 25 3 9-12 16-3 10-1 16 4 16 6 9 9 7 30 10 16 12 17 0 15-13 2-9-6-20 0-9 7-16 6-3 6 3 0 6-6 13 6 29 0 6-16 19-6 4-9 3zM251 379l-1-6-16-18-6-4-3 0-2 3 1 3 13 13 7 11 3 1 4-3zM244 705l3-7-2-9 0-7 9-10 19-7 38-4 45-38 4-8 0-38 19-19 16-31 16-17 6-4 34-2 21-13-3-23-7-15-11-16-2-16-4-13-15-13-26-12-19-23-9-6-26 1-23 8-22 20-5 16-9 12 1 6 7 1 3-3 11-29 18-16 22-8 13-1 10 2 25 28 23 9 13 11 7 23-3 9 8 6 7 10 8 19 0 7-4 6-17 7-19 1-10-3-13-10-6-1-29 32-6 19-7 8-10 2-39-1-41 12-29 1-8 6-18 29-22 19-9 4-23-2-1-5 4-6 19 0 13-10 13-13 19-28 7-6 32-1 42-12 41 0 8-4 0-6-4-1-13 4-35-1-42 13-29-1-12 8-22 32-17 16-33 10-25-4-13-6-2 3 1 7 4 3 42 8 5 8 5 2 22 0 33-28 12-22 6-6 7-2 25-1 36-12 51 0 12-11 10-22 19-23 7-2 7 2 0 8-10 6-10 12-14 29-18 16-6 1-10-3-38 0-36 11-22 2-8 4-1 7 3 2 9-5 26-3 22-9 13-2 39 0 3 1 4 6-3 35-20 20-23 17-48 8-16 10-5 9-2 19 2 7 5 0zM767 386l-19-11-4-5 1-7 6-3 16 12 0 14zM132 454l-7-2-3-12-13-19-12-10-10-4-13 0-19 6-36 19-19 0 0-13 10 1 9-1 32-18 32-8 13 4 16 10 15 17 5 12 3 2 3-1 0-10-10-14-13-14-10-7-18-7-10 1-34 9-21 14-12 3-10-2 0-14 10 4 6-1 19-14 45-13 10 1 19 8 13 7 11 11 12 15 7 16-1 10-19 14zM19 390l-9 1-10-4 0-13 6 3 16 2 0 7-3 4zM308 437l13-12 7-23 10-13 9-5 16-3 6 2 7 12 3-1 3-5-3-6-13-10-27 6-15 13-15 35-10 4-13-4-8-9 3-13 11-19-3-5-3 1-14 23 0 19 5 6 9 5 16 5 6-3zM553 453l34-11 33-4 9-4 48-35 10-4 3-6-1-3-5-2-3 2-7 7-54 36-33 5-35 11-32-6-3 1-1 3 4 8 3 1 7-4 12 6 11-1zM445 485l6-7-8-17-22-8-11-13-4-19 8-4 5 4 5 19 6 4 6-1 0-3-7-10-2-12-16-10-7 2-6 17 6 19 4 7 8 6 25 10 1 6-5 5-7-1-19-9-17-14-7-16-1-13 3-13 7-12-1-4-7-1-9 21-1 9 1 10 6 20 14 15 23 13 8 2 15-2zM559 472l38-11 35-4 52-37 13-7 2-5-2-3-7 1-54 39-10 4-32 4-48 13-13-1-10-8-3 4 3 8 10 5 9 1 17-3zM661 524l-13 1-19-12-13-1-10 1-44 12-19-2 3-8 3-2 16-1 35-10 26-4 6 5 4 1 3-4 7-15 1-10 5-6 51-37 10 0 9 10 16 3 7 4 0 5-3 4-20 0-38 26-7 10-9 23-7 7zM328 450l0-7-4-3-7 3-1 3 2 5 6 2 4-3zM653 513l5-3 8-22 5-9 29-22 11-4 3-3-1-4-10 0-40 29-5 10-5 16-6 6 1 5 5 1zM19 661l-9 2-10-2 0-14 13 3 40-16 15-15 3-10 1-10-4-9-7-10-35-19-2-6 2-13-4-16-6-7-16-6 0-13 16 5 16 12 4 9 3 29 28 14 12 14 6 16-4 20-14 19-12 10-36 13zM319 721l6-39 5-9 46-39 6-2 10 2 16 0 19-3 4-3 8-16 7-6 10-2 26 1 21-12 2-6-4-3-7 3-6 7-6 2-39 2-9 8-10 16-7 3-32 2-6-5 2-35 17-21 16-30 13-9 22-2 16-5 20-11 1-2-1-5-7-2-9 9-16 7-32 4-17 15-12 26-19 22-1 29 1 13-45 38-9 10-8 41 4 7 4 0zM350 720l-7-1-3-5 5-25 15-17 16-13 9-4 48-2 39 17 8 6 4 9 7 3 10-1 35-16 26-24 10-13 13-28 2-23-2-9 6-6 19-6 6 1 23 10 25 0 12-2 21-13 10-10 6-9 5-16 7-10 20-10 22-3 0 12-14 1-18 9-6 9-5 14-8 13-14 13-12 6-6 6-13 3-39-1-19-10-12 2-2 6-2 26-15 32-7 12-29 28-42 18-13 2-13-5-16-17-29-13-9-1-32 2-13 5-17 13-7 13 0 16-5 6zM16 642l-6 0-10-3 0-14 13 5 6-2-5-6-14-5 0-13 19 7 10 8 6 1 13-8 3-9-3-7-10-6-28-14-10 0 0-12 4-6 1-16-5-10 0-11 10 3 6 8 2 20-3 9 1 4 39 20 6 8 3 6-2 13-9 13-14 7-14 2-9 8zM767 594l-9-1-7-5-13 4-13 0-20-9-1-3 2-6 10-4 13-15 10-26 6-5 16-4 6 0 0 13-17 3-14 32-12 6-1 3 6 4 10-4 12-19 5-16 8-2 3 2 1 6-5 10 1 10-9 6-2 6 1 3 13-4 0 15zM767 573l-3-5 3-2 0 7zM39 611l-7 0-13-8-19-8 0-15 39 18 4 8-4 5zM767 616l-16-5-22 2-20-5-22-14-2-7 5-4 10 1 7 9 18 7 29-2 13 5 0 13zM170 762l-12 0-3-10 12-9 16-26 3-12-1-32 16-35 30-27 7-3 12 0 29-4 26-13 6 2 2 6-21 14-53 9-27 22-13 29-1 35-2 9-12 23-12 16-2 6zM193 763l-13-1 2-6 14-20 9-20 1-40 11-26 14-13 13-8 45-7 10-3 16-10 4-13 5-5 7 2 3 6-3 7-10 12-16 11-13 6-42 6-12 6-10 10-7 11-3 11 0 38-14 29-11 17zM767 637l-13-4-25 0-20-4-16-7-17-13-8-4-26 0-13 3-4-5 0-7 7-5 45 3 14 12 18 10 20 4 25 0 13 4 0 13zM639 762l-13 0-4-16 0-10 9-25 1-6-5-7-20-15-7 2-12 10-13 20-29 9-29 15-30 4-18 10-26 9-70 0 15-6 45-3 35-13 7-9 35-4 29-14 26-8 15-20 20-15 16-36 8-15 5-6 35 0 10 5 19 13 10 4 26 6 25 0 13 5 0 13-13-5-29-1-28-7-38-21-17 0-8 3-11 19-9 23 2 5 29 23 3 7-6 9-7 22 0 13 4 13zM176 644l2-3-1-5-16 1-28-15-27-6-6 6 3 6 13-2 16 4 22 12 16 5 6-3zM767 762l-9-1-49-50-9-3-26-4-19-8-29-23-2-10 13-25 8-6 13 1 23 15 14 6 34 8 25 0 13 6 0 14-16-8-26 0-44-12-29-18-7 3-7 16 3 7 23 16 17 6 25 5 13 6 39 41 9 5 0 13zM767 740l-6-4-38-41-52-15-22-14-3-9 9-3 13 10 13 6 51 14 16-3 19 10 0 22-5-8-11-10-9-3-3 3 1 3 14 10 13 17 0 15zM151 730l14-22 1-10-2-16-3-3-10-2-27-14-15-4-7 1-11 13-24 14-16 4-19 9-10 2-12-1-4 0-1 4 2 3 6 2 19-1 7-2 16-9 16-1 4-8 18-7 5-9 4-3 10-3 39 17 6 5 1 12-7 18-3 3-7 0-22-16-23-8-22 1 0 6 6 3 20-1 19 8 25 17 7-2zM264 692l9-6 19-5 10 4 3-3 2-6-5-3-20 2-19 6-5 4-2 7 4 2 4-2zM146 705l0-7-5-4-25-12-11 0-2 3 3 4 10 2 16 7 9 9 5-2zM616 762l-14 0 0-3-1-26 9-22-3-5-7 5-10 25-1 4 4 3 3 6-5 10-10-2-29 6-17-1 17-11 13-4 13-1 9-6-9-4-26 7-32 17-35 3-18-1 21-11 32-5 26-14 33-8 4-3 12-23 8-6 7 2 13 14 0 6-9 22 2 26zM661 763l-12-1-6-16 1-13 6-16 0-9 8-5 6 3 4 8-7 7-6 19 1 9 7 13-2 1zM436 714l-3-6-12-2-23 1-5 4 0 3 5 3 13-3 25 0zM745 762l-15 0-27-30-16-7-6 2-5 16 3 6 13 13-18 0-8-10-3-9 8-29 10-2 19 4 6 3 41 43-2 0zM286 763l-13-1 13-14 25-10 7 0 16 6 19 3 13-4 16-8 45-1 32-15 10 0 3 5 0 7-42 14-45 4-29 10-45-7-13 4-12 7zM116 762l-16 1-29-3-16-6-20-11-35-2 0-13 6 2 33 0 28 16 29 4 20 12zM719 762l-16 0-17-16-3-6 1-4 3-2 6 0 26 28zM51 762l-51 0-1-10 1-2 29 0 13 5 9 7zM324 762l-20 0 11-2 11 2-2 0z"/></g></g><rect x="15" y="2529" width="383.6" height="381.0" fill="none" stroke="#1e1e1e" stroke-width="1.2"/>
<text transform="matrix(1.16 0 0 1 24.8 2581.7)" class="pn">(g)</text>
<rect x="411.0" y="2529.0" width="20.9" height="382.0" fill="url(#gold)" stroke="#3a3a3a" stroke-width="1.2"/>
<line x1="411.0" y1="2529.0" x2="442.9" y2="2529.0" stroke="#505050" stroke-width="1.3"/>
<text transform="matrix(1 0 0 1.17 444.4 2545.3)" class="gl">0.608</text>
<line x1="411.0" y1="2911.0" x2="442.9" y2="2911.0" stroke="#505050" stroke-width="1.3"/>
<text transform="matrix(1 0 0 1.17 444.4 2909.1)" class="gl">0.000</text>
<line x1="431.9" y1="2879.6" x2="442.9" y2="2879.6" stroke="#505050" stroke-width="1.3"/>
<line x1="431.9" y1="2848.2" x2="442.9" y2="2848.2" stroke="#505050" stroke-width="1.3"/>
<text transform="matrix(1 0 0 1.17 444.4 2864.5)" class="gl">0.100</text>
<line x1="431.9" y1="2816.8" x2="442.9" y2="2816.8" stroke="#505050" stroke-width="1.3"/>
<text transform="matrix(1 0 0 1.17 444.4 2833.1)" class="gl">0.150</text>
<line x1="431.9" y1="2785.3" x2="442.9" y2="2785.3" stroke="#505050" stroke-width="1.3"/>
<text transform="matrix(1 0 0 1.17 444.4 2801.6)" class="gl">0.200</text>
<line x1="431.9" y1="2753.9" x2="442.9" y2="2753.9" stroke="#505050" stroke-width="1.3"/>
<text transform="matrix(1 0 0 1.17 444.4 2770.2)" class="gl">0.250</text>
<line x1="431.9" y1="2722.5" x2="442.9" y2="2722.5" stroke="#505050" stroke-width="1.3"/>
<text transform="matrix(1 0 0 1.17 444.4 2738.8)" class="gl">0.300</text>
<line x1="431.9" y1="2691.1" x2="442.9" y2="2691.1" stroke="#505050" stroke-width="1.3"/>
<text transform="matrix(1 0 0 1.17 444.4 2707.4)" class="gl">0.350</text>
<line x1="431.9" y1="2659.7" x2="442.9" y2="2659.7" stroke="#505050" stroke-width="1.3"/>
<text transform="matrix(1 0 0 1.17 444.4 2676.0)" class="gl">0.400</text>
<line x1="431.9" y1="2628.3" x2="442.9" y2="2628.3" stroke="#505050" stroke-width="1.3"/>
<text transform="matrix(1 0 0 1.17 444.4 2644.6)" class="gl">0.450</text>
<line x1="431.9" y1="2596.9" x2="442.9" y2="2596.9" stroke="#505050" stroke-width="1.3"/>
<text transform="matrix(1 0 0 1.17 444.4 2613.2)" class="gl">0.500</text>
<line x1="431.9" y1="2565.4" x2="442.9" y2="2565.4" stroke="#505050" stroke-width="1.3"/>
<text transform="matrix(1 0 0 1.17 444.4 2581.7)" class="gl">0.550</text>
<g filter="url(#bl7)"><polygon points="651.8,2648.5 799.6,2751.3 650.8,2853.4 503.0,2750.6" fill="#902090"/><g transform="matrix(0.36950 0.25700 -0.37200 0.25525 651.8 2648.5)"><use href="#h3g" fill="#98209c" stroke="#98209c" stroke-width="12.0" stroke-linejoin="round" clip-path="url(#c3g)"/></g><g transform="matrix(0.36950 0.25700 -0.37200 0.25525 651.8 2646.2)"><use href="#h3g" fill="#ff36f4" stroke="#ff36f4" stroke-width="11.1" stroke-linejoin="round" clip-path="url(#c3g)"/></g><g transform="matrix(0.36950 0.25700 -0.37200 0.25525 651.8 2643.9)"><use href="#h3g" fill="#ff33b2" stroke="#ff33b2" stroke-width="10.3" stroke-linejoin="round" clip-path="url(#c3g)"/></g><g transform="matrix(0.36950 0.25700 -0.37200 0.25525 651.8 2641.6)"><use href="#h3g" fill="#ff3e78" stroke="#ff3e78" stroke-width="9.4" stroke-linejoin="round" clip-path="url(#c3g)"/></g><g transform="matrix(0.36950 0.25700 -0.37200 0.25525 651.8 2639.4)"><use href="#h3g" fill="#ff7e54" stroke="#ff7e54" stroke-width="8.6" stroke-linejoin="round" clip-path="url(#c3g)"/></g><g transform="matrix(0.36950 0.25700 -0.37200 0.25525 651.8 2637.1)"><use href="#h3g" fill="#ffb040" stroke="#ffb040" stroke-width="7.7" stroke-linejoin="round" clip-path="url(#c3g)"/></g><g transform="matrix(0.36950 0.25700 -0.37200 0.25525 651.8 2634.8)"><use href="#h3g" fill="#ebe024" stroke="#ebe024" stroke-width="6.9" stroke-linejoin="round" clip-path="url(#c3g)"/></g><g transform="matrix(0.36950 0.25700 -0.37200 0.25525 651.8 2632.5)"><use href="#h3g" fill="#74e042" stroke="#74e042" stroke-width="6.0" stroke-linejoin="round" clip-path="url(#c3g)"/></g><g transform="matrix(0.36950 0.25700 -0.37200 0.25525 651.8 2630.2)"><use href="#h3g" fill="#00e957" stroke="#00e957" stroke-width="5.1" stroke-linejoin="round" clip-path="url(#c3g)"/></g><g transform="matrix(0.36950 0.25700 -0.37200 0.25525 651.8 2627.9)"><use href="#h3g" fill="#00cc7c" stroke="#00cc7c" stroke-width="4.3" stroke-linejoin="round" clip-path="url(#c3g)"/></g><g transform="matrix(0.36950 0.25700 -0.37200 0.25525 651.8 2625.6)"><use href="#h3g" fill="#009cbe" stroke="#009cbe" stroke-width="3.4" stroke-linejoin="round" clip-path="url(#c3g)"/></g><g transform="matrix(0.36950 0.25700 -0.37200 0.25525 651.8 2623.4)"><use href="#h3g" fill="#0076f6" stroke="#0076f6" stroke-width="2.6" stroke-linejoin="round" clip-path="url(#c3g)"/></g><g transform="matrix(0.36950 0.25700 -0.37200 0.25525 651.8 2621.1)"><use href="#h3g" fill="#5e9efc" stroke="#5e9efc" stroke-width="1.7" stroke-linejoin="round" clip-path="url(#c3g)"/></g><g transform="matrix(0.36950 0.25700 -0.37200 0.25525 651.8 2618.8)"><use href="#h3g" fill="#b8ccf4" stroke="#b8ccf4" stroke-width="0.9" stroke-linejoin="round" clip-path="url(#c3g)"/></g><g transform="matrix(0.36950 0.25700 -0.37200 0.25525 651.8 2616.5)"><use href="#h3g" fill="#e6eefa" clip-path="url(#c3g)"/></g></g><path d="M501.7 2751.2L651.4 2853.7L799.2 2752.2M576.5 2802.5l-2.5 3.6M726 2802.8l2.5 3.6M794.5 2713.9H800.2V2751.2H794.5" stroke="#444" stroke-width="1.2" fill="none"/><text transform="matrix(1 0 0 1.12 814 2731)" class="rl">0.58</text><text transform="matrix(1 0 0 1.12 814 2767.5)" class="rl">0.02</text><text transform="translate(558.8 2812.4) rotate(34.4)" class="ax" text-anchor="middle" dy="6">y: 1.00</text><text transform="translate(739.7 2814) rotate(-34.5)" class="ax" text-anchor="middle" dy="6">x: 1.00</text>
<rect x="924.5" y="2546.0" width="19.4" height="379.9" fill="url(#rainbow)"/>
<rect x="924.5" y="2546.0" width="19.4" height="379.9" fill="none" stroke="#3a3a3a" stroke-width="1.3"/>
<line x1="943.9" y1="2546.0" x2="954.9" y2="2546.0" stroke="#404040" stroke-width="1.3"/>
<text transform="matrix(1 0 0 1.12 957.4 2553.2)" class="rl">0.58</text>
<line x1="943.9" y1="2566.4" x2="954.9" y2="2566.4" stroke="#404040" stroke-width="1.3"/>
<text transform="matrix(1 0 0 1.12 957.4 2573.6)" class="rl">0.55</text>
<line x1="943.9" y1="2600.3" x2="954.9" y2="2600.3" stroke="#404040" stroke-width="1.3"/>
<text transform="matrix(1 0 0 1.12 957.4 2607.5)" class="rl">0.50</text>
<line x1="943.9" y1="2634.2" x2="954.9" y2="2634.2" stroke="#404040" stroke-width="1.3"/>
<text transform="matrix(1 0 0 1.12 957.4 2641.4)" class="rl">0.45</text>
<line x1="943.9" y1="2668.1" x2="954.9" y2="2668.1" stroke="#404040" stroke-width="1.3"/>
<text transform="matrix(1 0 0 1.12 957.4 2675.3)" class="rl">0.40</text>
<line x1="943.9" y1="2702.0" x2="954.9" y2="2702.0" stroke="#404040" stroke-width="1.3"/>
<text transform="matrix(1 0 0 1.12 957.4 2709.2)" class="rl">0.35</text>
<line x1="943.9" y1="2735.9" x2="954.9" y2="2735.9" stroke="#404040" stroke-width="1.3"/>
<text transform="matrix(1 0 0 1.12 957.4 2743.1)" class="rl">0.30</text>
<line x1="943.9" y1="2769.9" x2="954.9" y2="2769.9" stroke="#404040" stroke-width="1.3"/>
<text transform="matrix(1 0 0 1.12 957.4 2777.1)" class="rl">0.25</text>
<line x1="943.9" y1="2803.8" x2="954.9" y2="2803.8" stroke="#404040" stroke-width="1.3"/>
<text transform="matrix(1 0 0 1.12 957.4 2811.0)" class="rl">0.20</text>
<line x1="943.9" y1="2837.7" x2="954.9" y2="2837.7" stroke="#404040" stroke-width="1.3"/>
<text transform="matrix(1 0 0 1.12 957.4 2844.9)" class="rl">0.15</text>
<line x1="943.9" y1="2871.6" x2="954.9" y2="2871.6" stroke="#404040" stroke-width="1.3"/>
<text transform="matrix(1 0 0 1.12 957.4 2878.8)" class="rl">0.10</text>
<line x1="943.9" y1="2925.9" x2="954.9" y2="2925.9" stroke="#404040" stroke-width="1.3"/>
<text transform="matrix(1 0 0 1.12 957.4 2933.1)" class="rl">0.02</text>
<path d="M1032.4 2686.4H1374.3M1032.4 2655.4H1374.3M1032.4 2624.4H1374.3M1032.4 2593.4H1374.3M1032.4 2562.4H1374.3M1146.4 2531.4V2722.0M1260.3 2531.4V2722.0" stroke="#e6e6e6" stroke-width="1" fill="none"/>
<path d="M1032.4 2657.3 L1033.8 2614.2 L1035.8 2574.5 L1037.6 2549.4 L1040.4 2549.1 L1042.2 2567.4 L1044.9 2614.2 L1047.7 2668.1 L1049.0 2686.1 L1050.9 2668.1 L1053.1 2605.2 L1055.9 2560.2 L1058.6 2548.5 L1061.3 2560.2 L1065.2 2605.2 L1068.0 2659.1 L1070.2 2686.7 L1072.5 2650.1 L1074.6 2560.2 L1078.0 2538.5 L1080.7 2544.1 L1083.7 2560.2 L1086.4 2605.2 L1088.9 2668.1 L1091.2 2695.7 L1093.7 2650.1 L1096.4 2560.2 L1100.1 2543.2 L1102.8 2547.5 L1105.6 2558.4 L1109.2 2605.2 L1112.9 2668.1 L1116.1 2695.1 L1118.8 2668.1 L1122.2 2569.2 L1125.9 2544.1 L1128.8 2551.2 L1132.2 2569.2 L1135.9 2632.2 L1138.6 2677.1 L1140.9 2692.3 L1143.2 2668.1 L1145.9 2614.2 L1148.6 2572.6 L1151.6 2557.4 L1157.1 2553.7 L1159.8 2587.2 L1162.5 2650.1 L1165.3 2680.5 L1168.0 2650.1 L1170.8 2623.2 L1175.3 2608.6 L1178.0 2632.2 L1181.2 2667.2 L1183.7 2634.0 L1186.9 2639.3 L1190.1 2666.2 L1193.8 2657.3 L1196.5 2614.2 L1200.2 2544.1 L1202.9 2556.5 L1205.6 2614.2 L1207.9 2677.7 L1210.4 2614.2 L1214.1 2540.4 L1216.8 2551.2 L1219.5 2578.2 L1223.2 2632.2 L1226.8 2692.3 L1230.0 2659.1 L1233.0 2554.7 L1235.3 2546.6 L1238.0 2560.2 L1241.2 2602.4 L1243.5 2596.2 L1246.2 2551.2 L1248.5 2578.2 L1251.7 2635.6 L1254.4 2578.2 L1257.6 2544.1 L1259.9 2551.2 L1262.6 2596.2 L1265.6 2659.1 L1268.3 2695.1 L1271.0 2693.2 L1273.8 2650.1 L1277.4 2551.2 L1280.8 2538.5 L1284.5 2547.5 L1286.5 2578.2 L1290.0 2627.5 L1295.0 2631.2 L1297.7 2659.1 L1300.4 2692.3 L1303.2 2677.1 L1306.8 2632.2 L1311.4 2554.7 L1314.6 2544.1 L1317.8 2551.2 L1320.5 2587.2 L1324.8 2641.1 L1327.1 2677.1 L1330.3 2664.4 L1332.8 2627.5 L1336.2 2619.4 L1339.0 2587.2 L1341.2 2562.1 L1343.8 2572.6 L1346.3 2603.3 L1348.1 2578.2 L1350.1 2553.1 L1352.0 2538.5" stroke="#3c3c3c" stroke-width="1.15" fill="none" stroke-linejoin="round"/>
<path d="M1032.4 2531.4H1374.3V2722.0" stroke="#5a5a5a" stroke-width="1.4" fill="none"/>
<path d="M1032.4 2530.4V2722.0M1023.4 2722.0H1374.3" stroke="#3c3c3c" stroke-width="1.6" fill="none"/>
<path d="M1027.4 2720.5H1032.4M1023.4 2717.4H1032.4M1027.4 2714.3H1032.4M1027.4 2711.2H1032.4M1027.4 2708.1H1032.4M1027.4 2705.0H1032.4M1026.4 2701.9H1032.4M1027.4 2698.8H1032.4M1027.4 2695.7H1032.4M1027.4 2692.6H1032.4M1027.4 2689.5H1032.4M1023.4 2686.4H1032.4M1027.4 2683.3H1032.4M1027.4 2680.2H1032.4M1027.4 2677.1H1032.4M1027.4 2674.0H1032.4M1026.4 2670.9H1032.4M1027.4 2667.8H1032.4M1027.4 2664.7H1032.4M1027.4 2661.6H1032.4M1027.4 2658.5H1032.4M1023.4 2655.4H1032.4M1027.4 2652.3H1032.4M1027.4 2649.2H1032.4M1027.4 2646.1H1032.4M1027.4 2643.0H1032.4M1026.4 2639.9H1032.4M1027.4 2636.8H1032.4M1027.4 2633.7H1032.4M1027.4 2630.6H1032.4M1027.4 2627.5H1032.4M1023.4 2624.4H1032.4M1027.4 2621.3H1032.4M1027.4 2618.2H1032.4M1027.4 2615.1H1032.4M1027.4 2612.0H1032.4M1026.4 2608.9H1032.4M1027.4 2605.8H1032.4M1027.4 2602.7H1032.4M1027.4 2599.6H1032.4M1027.4 2596.5H1032.4M1023.4 2593.4H1032.4M1027.4 2590.3H1032.4M1027.4 2587.2H1032.4M1027.4 2584.1H1032.4M1027.4 2581.0H1032.4M1026.4 2577.9H1032.4M1027.4 2574.8H1032.4M1027.4 2571.7H1032.4M1027.4 2568.6H1032.4M1027.4 2565.5H1032.4M1023.4 2562.4H1032.4M1027.4 2559.3H1032.4M1027.4 2556.2H1032.4M1027.4 2553.1H1032.4M1027.4 2550.0H1032.4M1026.4 2546.9H1032.4M1027.4 2543.8H1032.4M1027.4 2540.7H1032.4M1027.4 2537.6H1032.4M1027.4 2534.5H1032.4M1023.4 2531.4H1032.4M1032.4 2722.0V2730.0M1043.8 2722.0V2727.5M1055.2 2722.0V2727.5M1066.6 2722.0V2727.5M1078.0 2722.0V2727.5M1089.4 2722.0V2727.5M1100.8 2722.0V2727.5M1112.2 2722.0V2727.5M1123.6 2722.0V2727.5M1135.0 2722.0V2727.5M1146.4 2722.0V2730.0M1157.8 2722.0V2727.5M1169.2 2722.0V2727.5M1180.6 2722.0V2727.5M1192.0 2722.0V2727.5M1203.3 2722.0V2727.5M1214.7 2722.0V2727.5M1226.1 2722.0V2727.5M1237.5 2722.0V2727.5M1248.9 2722.0V2727.5M1260.3 2722.0V2730.0M1271.7 2722.0V2727.5M1283.1 2722.0V2727.5M1294.5 2722.0V2727.5M1305.9 2722.0V2727.5M1317.3 2722.0V2727.5M1328.7 2722.0V2727.5M1340.1 2722.0V2727.5M1351.5 2722.0V2727.5M1362.9 2722.0V2727.5M1374.3 2722.0V2730.0" stroke="#555" stroke-width="1" fill="none"/>
<text x="1021.9" y="2720.7" class="pl" text-anchor="end">0.2</text>
<text x="1021.9" y="2689.7" class="pl" text-anchor="end">0.3</text>
<text x="1021.9" y="2658.7" class="pl" text-anchor="end">0.4</text>
<text x="1021.9" y="2627.7" class="pl" text-anchor="end">0.5</text>
<text x="1021.9" y="2596.7" class="pl" text-anchor="end">0.6</text>
<text x="1021.9" y="2565.7" class="pl" text-anchor="end">0.7</text>
<text x="1021.9" y="2539.9" class="pl" text-anchor="end">0.8</text>
<text x="1032.4" y="2741.0" class="pl" text-anchor="middle">0.0</text>
<text x="1146.4" y="2741.0" class="pl" text-anchor="middle">0.5</text>
<text x="1260.3" y="2741.0" class="pl" text-anchor="middle">1.0</text>
<text x="1374.3" y="2741.0" class="pl" text-anchor="middle">1.5</text>
<text x="1201.3" y="2754.0" class="pl" text-anchor="middle">x</text>
<text transform="translate(1006.4,2626.7) rotate(-90)" class="pl" text-anchor="middle">y</text>
<rect x="1315.3" y="2534.9" width="56.5" height="16" fill="#fff" stroke="#555" stroke-width="1.2"/>
<line x1="1319.8" y1="2542.9" x2="1329.8" y2="2542.9" stroke="#444" stroke-width="1"/>
<text x="1333.3" y="2546.4" class="pl">Profile 1</text>
<g filter="url(#hmh)"><rect x="16" y="2910.5" width="382.8" height="383.0" fill="#000" fill-opacity="0"/><g transform="translate(16,2910.5) scale(0.5)"><path d="M200 296L-2 498M200 296L466 450M200 296L108 219M200 296L234 559M60 90L361 90M768 170L603 206M768 280L612 360M700 780L708 584" stroke="#000" stroke-opacity="0.22" stroke-width="80.0" fill="none" stroke-linecap="round"/><path d="M4 0l-4 3 0-3 4 0zM0 43l0-18 12-2 7-7 4-8-5-8 13 0-1 8 4 8 0 4-7 8-19 7-8 8zM148 261l-12-2-16-12-8-2-24 4-16 13-8-2-7-11 3-4 12-2 12-9 12-1 6-4 2-4-10-20-14-18-12-8-10 5 0 9 6 9 19 7 2 4-5 9-16-3-8-12-8-5-24 2-4-3-1-13-4-4-7-3-8 2 0-16 8 5 8-2 5-6 2-8-3-6-8-4-12 7 0-18 32 7 4 22-11 16 3 7 8 4 8-1 6-6-1-16 3-4 8-4 12 11 28 11 0 20 12 3 8-4 3-13-3-4-11-8-5-12-8-5-22-7-2-4 8-7 24 7 20 16 3 12 5 4 24 0 8 4 11 13-13 24-25 12-1 4 4 8 8 3 8-5 8-10 15-8 8-16-2-16 11-15 4-4 12 0 9-6 3-16-6-20 27-6 16-12 12-3 7-7 1-8-4-5-13-7 3-16-6-10-4-1-8 5-8 13-17 1-9 4-16 20-4 16-7 0-12-10-20 2-2-4 3-8 0-16 10-4 3-8 1-8-6-12 12-12-5-17-8-5-8 1-7 9 9 20-9 12 2 20-15 6-5 6 5 12 20 8-4 12-16-1-6-15-6-3-8 0-10 7 7 12 19 8 4 13 16 7 12 11 20-2 5-5 2-8-1-4-6-1-26 1-3-8 1-7 28 3 8 7 9 1 3 12-4 17-4 4-32 5-12-10-20-6-2-14-18-8-12-12-8 0-12 7-4-3-2-4 2-6 20-5 6-5-1-12 24-16 18-28-7-9-8-1-9 10-5 16-22 6-17-14-2-12-5-6-16-7-7-15 1-4 9-8 2-8 32 0 4 16 7 5 8-3 8 14 12 5 14-9 2-4-2-8-6-5-8-1-16 10-3-4 4-12 10-4 13 0 16 8 10-8 12 0 3 12 11 8 2 4-3 16-6 12 6 20-3 4-12 4-2 4 2 12 8 5 11-5 3-4 0-12 10-6 4-6-1-8-10-12 0-4 35-20 2-4-4-20 12 0 5 8-9 16 3 12-2 4-19 3-5 5-2 12 7 6 8-1 14-9 27-46 12 2 13-12 16 0-17 17-16 8-14 15-2 8 4 7 12 2-1 15 12 12 1 12 8 12-2 4-25 12-6 12-15 0-11 4-3 4-1 8 7 9 4 1 13-10 7-15 12 5 30-14 2-8-2-12 5-8 1-8-4-8-8-5-2-15 2-2 15 2-2 12 2 8 9 3 7-3 19-28-1-20-7-16 2-4 16-1 8-7 2-8 6 0 6 12-3 4-15 5-8 11 6 16-2 16-10 8-6 18-16 4-6 6-3 8 6 12-15 20-18 9-16-2-4 4-19 25-1 4 11 13-11 10-12 4-17 13-13-3 1-4 12-18 12 2 8-4 8-13-1-4-10-6-5 1-8 5-8 14-8-3-8 3-5 7-2 8 10 12-23 12-8 16-28 16zM208 21l-10-5 0-16 10 0 4 7 1 9-5 5zM265 8l-6-8 9 0-3 8zM329 61l-10-1 1-16-11-7-10 7-2 14-20-2 4-1 12-23 16-1 25-31 8 0-3 8 4 8-10 3-7 9 0 8 8 16-1 7-4 2zM413 21l-4 1-11-6-4-4 2-4 5-5 16 4 13-7 16 0 0 4-5 4-20 7-8 6zM501 6l-8-1-4-5 13 0-1 6zM701 63l-6-7-5-16 17-8 1-12-7-9-12-2-6 3-2 4-5-8-11-3-14 7-6 16 8 7 12-2 16-17 5 20-13 2-12 9-19-7-3-12-14-10-52-12-8 1-9-7 13 3 6-3 14 0 12 5 11-5 6 0 7 14 4 1 12-3 5-12 3 0 36 2 16-3 3 1 5 8 8 2 5-1 5-9 7-1 4 1 8 9 12 0 8 14 0 14-8-7-10-2-6-14-16-2-7 8 0 16-10 4-8 23zM766 5l-4 1-1-6 5-1 0 6zM549 101l-8-15-8-3-16 2-15-13-1-4 8-8-6-28 2-19 12-2 16-9 4 4 0 7-3 3-17 5-6 7 1 8 9 8 8-1 10-7 6-10 12-3 20 8 32 4 12 12 10 1 2 3-4 4-8-6-28-10-16 4-16-13-12 4-5 10 1 8 4 3 12 5 12-3 19 11-11 7-4-1-12-13-4-1-10 8-5 4 1 12 13 8 0 4-11 5zM75 32l8-4 3-12-10-9-8-1-8 6 0 8 4 9 11 3zM493 72l-12 0-10-24 5-16-1-8-6-5-15-3-3-4 2-5 12-1 14 6 8 24-4 16 4 8 9 8-3 4zM365 222l-8-2-12-18-12-3-12 0-20 12-20-4-11-14 1-5 10-21 8-3 12 2 8-2 12-12 19-12 1-8-6-8 1-4 7-8 6-14 17-6 5-8 0-12 18-11 4 1 0 6-13 16-3 17-16 6-10 13 0 8 6 5 8 0 7-5 10-20 11-5 12-22 12-13 4-2 16 2 10-12-2-9-12-6-8 5-8 10-4-1-5-11 4-8 21-1 12-9 4 1 7 17-1 20 5 8 10 8 1 12-6 4-4 0-4-16-12-7-8 1-8 12-8-3-8 3-7 22-13 5-5 15-15 12 0 8 5 8 0 4-9 14-16 6-7 8 0 9 3 3 16 2 2 3-2 17zM100 60l8-8 1-8-5-11-8-1-9 4-3 12 4 9 8 4 4-1zM393 49l-4 3-12-8 0-8 4-4 9 4 4 8-1 5zM730 82l-17-10 16-16-3-20 12-2 4 2 1 20-9 8-2 8 1 8-3 2zM60 79l-10-3-5-16-5-2-8 0-12 10-12-8-8 2 0-18 12 10 12-3 12-9 8 1 4 13 17 12-5 11zM534 76l8-4 2-4-1-12-10-6-8-1-14 11 1 4 9 11 13 1zM766 128l-12-3-12 3-10-44 2-3 12 5 8-5 3-9-6-12 15-11 0 16-6 7 6 8 0 13-12-3-7 6-2 8 9 10 12 0 0 14zM681 163l-7-7-1-12-4-8 8-9 6-15 14 2 4-2 3-16-11-11-11 7-5 14-21-2-3-8 16-2 10-10-2-8-17-12 5-11 28 29 8-3 6 1 11 28-5 11-12-1-16 14-1 12 8 8-11 11zM613 83l-15-15 7-3 8 2 3 5-3 11zM649 93l-8-5-4-8 0-10 4-1 9 3 1 16-2 5zM40 96l-20-6-16 8-4-2 0-13 12 1 12-8 15 8 1 12zM84 97l-16 2-4-3 5-8 19-5 4 9-8 5zM212 132l-5 0-3-5 12-11 4-17 16-3 13-10 11 2-7 16-17 2-12 10-8 16-4 0zM589 100l-8 4-13-12 9-7 12 15zM629 116l-6 0-7-12-15-8 8-10 4-1 6 11 12 12 2 4-4 4zM469 282l-4 0-5-9-11-11-3-25-16-24-12-8-10-33 2-4 11-5 5-11-3-12-11-8 3-16 13-8 5-16 24 12-4 9-8-3-8 1-4 1-5 8 0 12 10 20-15 24 7 29 20 12 1 16 12 8-4 16 2 8 4 4 12-2 6-10-2-8-7-8 2-20-18-12 3-9 12 3 7 10 12 8-5 16 12 16-8 8-6 13-16 8zM497 105l-12 3-4-4 0-8 12-1 10 5-6 5zM64 149l-4 2-16-11-1-4 8-16-6-16 19-7-7 27 7 25zM545 129l-4-1-4-8-8-6-16 1-11-11 11-3 16 8 13-1 10 16-7 5zM0 127l0-14 4-2 20-1 8 2-4 10-20-3-8 8zM661 133l-8 0-8-13-1-4 5-5 4-1 11 22-3 1zM569 134l-4 2-7-8 2-4 21-9 1 5-9 7-4 7zM457 196l-8-2-6-6 14-40-7-12 7-19 15 11-7 5-7 11-1 4 7 12-6 12-1 24zM609 213l-12 0-16-20-12 6-12-12-14-3 1-20-7-11-16-1-7-12-9-2-8 0-8 5-16-15 2-4 6-1 16 6 12-2 12 12 16 1 4 9 13 7 0 12 3 10 8 4 24 0 20 22 4-1 8-10 0-9-4-6-12-8-20-6-22-12 6-11 12 10 20 8 18 1 13 20 2 21-5 4-20 8zM601 138l-5-2-5-12 10 0 14 4-14 10zM766 217l-8-2-2-14-14-8-2-5 2-2 16-5 3-5 2-8-5-7-12 1-12 16-8 1-9 5-12-4-1-4 5-12 0-4-15-8 19-22 26-2 4 16 7 5 8 0 8-7 0 38-4 17 4 5 0 15zM405 167l-8 0-10-7 0-4 6-8 4-10 4-2 7 0-5 16 2 15zM653 186l-8-10 1-20-5-3-16-1-1-16 19 8 18 16-4 22-4 4zM729 164l7-8 1-8-7-7-8 0-8 7-4 12 12 7 7-3zM332 188l8-8 3-12 14-1 8-7 0-12-8-7-13 3-5 16-14 4-6 4-2 8 2 8 6 5 7-1zM509 197l-8 2-21-6-3-29 8-14 4 0 6 10-8 16 10 14 8 1 7-7 0-8-6-12 3-3 8-4 3 3 6 28-17 9zM589 381l-4-1-8-11-2-16-10-16 16-6 7-6-1-16 16-12 6-18 4-1 12 13 8 3 12-3 2-6-6-12-24-2-8-9-8-4-4-13 1-8 15-13 20 3 14-6-2-16 12-16 9 8-15 24 1 4 21 26 8 3 8-3 24-21 4 0 13 10 10 1 3-8-1-8-4-7-4-1-37-1-6 5-6 13-8 2-6-3 1-8 12-20-10-12 7-22 4 0 11 9-9 17-1 4 3 2 12 2 21-7 8 4 12 13 12 2 4 16 8 8 0 32-7 12 7 11 0 9-4-3-12 1-7 6-1 8 4 6 8 3 12-7 0 16-12 7-16-12-15-1-2-4 9-7 2-9-6-10-13-5-8-21-4-3-12 1-12-9-8 0-9 7 1 16-2 4-6 4-5 12-14 12 2 16-15 5-5 7 1 20-4 1-14-1 6-28 24-24-2-8-6-5-8 1-5 4-11 26-17 18 2 8 14 8-7 16zM306 197l4-13-5-7-8-2-11 5-3 8 6 8 8 3 9-2zM393 199l-20-1-2-1 2-13 8-1 12 4 2 6-2 6zM150 213l8-8-2-8-8-5-8 1-7 8 0 8 7 4 10 0zM525 321l-4-1-4-11 18-16 0-8-6-7-8 0-8 3-8 20-9 0-3-4 4-11 10-9 3-8-1-8-6-8 7-8 2-12-12-16 9-6 8 4 5 18 7 7 16-10 7 23 5 3 8-2 7-13-2-8-5-7-8-1-8 5-5-9-13-12-2-16 8-4 9 20 7 4 12-2 17 14 4 8-8 16-1 16-4 3-12-3-11 8-5 12 3 16-14 8-9 12zM4 271l-4 1 0-30 8-1 4-4 3-8-6-8-9-4 0-13 18 5 3 8 7 5 16 0 10 3 6 20-4 2-20-16-8-1-5 7 0 12-11 1-6 7 1 12-3 2zM385 234l-8 1-2-6 22-17 11 5 1 12-12 0-12 5zM132 233l1-8-5-10-12 1-7 9 0 4 7 7 8 0 8-3zM56 469l-8 4-2-4 11-24-3-16 10-4 24-1 26-15 3-4 2-12 13-2 6-6 0-8-6-8-8-7-8 0-4 11 3 16-17 0 1-24 17-11 6-21 12-8 6-13 16-5 8-12 16 1 13-11-1-8-4-4-8-1-8 4-8 16-4 1-12-8-1-4 5-8 20-7 14-17 18-12 12-3 16 3 29-20 12-2 8 13 4 2 8 0 12-6 7 1-7 20 24 12-8 1-9 7-5 8-1 12-17 14-12-3-12 4-8 8-16-4-13 3-6 6-2 9-15 7-9 10-20 3-4 3-4 12-8 3-7-3 3-16 12-2 8-14 20 1 6-9-2-8-12-3-8 2-8 8-12-1-4 2-8 17-12 4-7 11 4 8 17 8-1 12 3 13-16 9-14 18-18 9-12 10-12-3-11 4-4 8 2 12-11 12zM341 246l-8 1-3-10-5-7-10-5 1-4 9-4 8 3 13 17 1 4-6 5zM217 269l7-9 21 2 20-7 12-10 1-12-5-4-8 0-16 16-15-4-2-3-8 13-20-1-8 7 0 8 4 5 8 2 9-3zM433 280l-8-3-11-20-1-24 16 4-5 16 4 8 7 8 1 8-3 3zM654 261l4-12-5-7-32-6-10 5-1 12 3 7 16-5 16 7 9-1zM365 258l-4 1-3-14 7-4 8 0 4 8-12 9zM218 305l6-15 21 5 8-2 8-9 16 3 8-1 17-25 3-16-8-4-8 1-5 7-3 14-16 5-8 7-21-2-12 9-20 3-4 8 3 12 9 3 6-3zM540 269l4-4 0-8-15-15-9 7-3 12 12 11 11-3zM762 265l3-8-4-8-11-5-8 1-1 12 5 7 8 4 8-3zM726 265l1-12-5-6-13 0-7 6 1 8 6 6 13 1 4-3zM4 371l-4-2 0-15 24-20 6-9-1-16 16-12 1-4-2-20-14-4-2-17 15 5 6 12 12 8 0 8-9 12-1 4 5 7 12-2 8-5 3-8-3-17 28-14 14 3 18 16 2 4-5 20-17 6-5 6-6 20-5 7-8 2-20-4-16 11-20-8-8 1-24 25zM413 298l-8 0-9-9-13-8 4-12-4-16 2-2 12 1 6 5-7 16 5 7 12 9 2 4-2 5zM208 472l-9-3 2-24-2-4-13-8 6-12-1-8-23-15-3-5 7-25 4-4 24-6 9-9 11-6 4 0 8 10 9 4 8-1 8-6 20 3 4-4 1-8-9-14-4-1-20 11-21-1-4-7 21-5 12-8 12 7 12-7 8-9 12 4 16-3 2 17 6 6 8 3 8-9 1-8-9-11-12-3-1-14 9-12 4-15 12 5 12-2 17 20-1 8 1 8 27 13 8 7 0 4-8 4-8-10-20-4-8-10-7-20-9-8-8 1-7 7 2 12 14 8 3 4-3 12 7 12 12 1 12 6 16-2 4 16-20-8-20 2-8-10-20-1-10 12 3 8 11 5 20-9 4 4-1 8-15 6-12-3-16 4-4-3 3-12-4-12 0-16-7-10-8-2-8 8 0 8 8 12-7 16 11 12-12 19-20 8-20-10-21-1-16 6-5-2-7-17-8-3-8 2-6 6-1 8 19 12 6 20 1 16 13 12-6 8-2 15zM561 318l-8-17 17-12 4-20 3-4 20 4 3 4-1 4-19 12-4 16-15 13zM4 330l-4 3 0-32 13-4 1-8-5-16 15-1 3 5-3 17-10 15-10 21zM744 293l5-8-3-8-8-6-8 0-6 10 5 12 9 3 6-3zM107 301l5-1 8-7 1-8-5-7-16 1-10 10 6 10 11 2zM697 430l-8 3-4-20-23-20-4-12 8-28 15-12 0-8-4-6-8-1-10 3 0 16-13 12-5 16-8 15-10-7-1-4 1-8 15-16 0-16 19-8 0-20 8-2 16 12 8-1 4-4 2-9-2-4-20-5-6-7 18-10 12 17 12 9 7 16-19 2-5 6 0 8 5 5 8 1 17-10 4 12 0 4-4 3-13 3-8 0-8-5-8 1-5 6-10 24 0 8 3 4 12 0 4 3 13 25 0 4-5 5zM437 307l-4 0 0-6 8-12 4 1 4 3-12 14zM481 311l-12-1 0-9 8-1 8 3-1 6-3 2zM85 333l9-4 6-8-4-9-8-5-8 2-7 12 3 10 9 2zM62 337l2-8-8-15-8-1-10 8-1 8 7 8 8 3 10-3zM461 336l-9-7-1-4 2-5 9 1-1 15zM485 350l-16 0-4-1 0-4 16-1 12-22 11 3 0 4-14 12-5 9zM493 388l-8-7 7-20 13-1 11-11 4-8 1-15 4-5 2 4 10 5 20-7 8 14-12 6-12-6-8 1-7 7-4 20-13-1-8 3-8 21zM429 353l-4 0-1-4 5-16 8 16-8 4zM722 418l-7-5-4-24-6-4-12-1-4-6 1-5 11-4 12 7 9-1 6-6 6-12 16-6 2 6-9 20-13 2-6 6-1 12 9 12-10 9zM413 373l-10-16 14 0-4 16zM589 433l-11-8-7-20-15-4-3-20-12-12 8-13 4 0 3 5 4 20 17 16 12 20 2 12-2 4zM766 365l-3-4 3-5 0 9zM76 377l-4 1-7-5 0-8 3-5 8 0 8 5 1 4-9 8zM229 381l7-8-4-9-12-6-11 3-2 8 4 8 13 7 5-3zM453 374l-7-1 3-11 4-2 4 1 1 4-1 6-4 3zM277 385l10-8 0-12-2-2-36 1-6 5-1 4 11 9 24 3zM4 529l-4 3 0-18 6-13-6-10 0-37 20-11 12-14 3-20 6-16-3-8-11-12 5-7 8 0 8 7 1 16 5 8-8 16 2 12-11 12-5 18-4 3-8-2-8 2-10 15 3 8 7 5 8-2 16-17 12 6-16 16-15 8-4 16-9 16zM389 429l-10-4-4-8 15-12 2-16-5-4-18-4 0-8 4-3 13 3 18 28 0 4-11 8-4 16zM433 390l-13-5-4-4 1-6 8 4 14 2-6 9zM585 487l-12-12-25 2-27-28-16 2-12-2-12 2-4-2-2-12-7-12 13-9 3 1-1 16 6 8 8 2 8-6 3-8-3-8-4-5-11-3 7-22 6 6 4 12 11 12-2 12 5 11 8 1 12-4 2-12-11-12-2-16-11-8-1-4 7-13 4 0 6 25 12 8 2 13 31 23 1 20 4 8 7 4-7 10zM0 435l0-15 7-15-1-8-6-8 0-8 4-3 12 11 4 20-20 26zM469 397l-4 4-4-4 4-12 8-3 5 3-9 12zM766 436l-13-3-5-12-13-12 7-8 4-16 4-3 11 3 3 4-9 12-2 12 5 8 8 1 0 14zM766 386l-2-1 2 1zM305 495l-22-2 1-16-10-16 0-4 17-8 5-12-3-4-12-7-12 7-8-10-8-3-25 3-11-6-1-5 8-3 41 3 12 8 8 1 10-8 6-16 20-8 20-2 12 4 12-1 3 23-7 5-9-1 4-12-7-11-32 7-10 8-10 28 12 11 13 5 3 8-4 16-16 18zM665 470l-28-5-8-25-12-11-9-20-15-16 1-4 18 0 3 16 11 8 4 16 15 8 1 12 7 8 16-1 6-3 1-4-10-12-15-8-1-16-15-8-1-4 3-11 20 11 3 12 9 14 20 6-10 16 1 12-3 4-12 5zM84 405l-12 2-10-6 3-4 8-4 22 0-4 8-7 4zM461 403l-2-2 2-3 3 3-3 2zM453 416l-16-7 6-4 14-3 3 3-7 11zM76 588l-20-2-4-3 0-14-8-8-1-8 12-12 18-28 19-4 10-8 0-8-6-6-16-4 1-22 15-17 24-1 12-16 12-4 16-16 8 20 15 10-8 12 0 8 11 12 0 4-10 2-12-18 3-20-3-5-8-4-8 0-12 16-12 2-8 10-12-2-8 4-5 11 3 8 6 6 8-2 12-14 9 2 1 4-6 8-13 8-5 8 2 8-12 14-21 6-5 16-14 16-3 8 2 4 19 9 3 4-1 6zM421 427l-4 2-3-16 3-3 12 0 2 3-10 14zM333 434l-4 2-7-3-2-8 3-4 10-4 12 4-12 13zM746 467l-4 1-3-11-5-8-21-7 0-9 4-5 29 15 8 18-8 6zM401 450l-4 2-2-3 0-12 14-2 8-6 4 12-20 9zM469 496l-4 1-10-8 11-12-14-20-25-12 22-13 5 17 3 4 17 4-5 39zM265 453l-12-2-18 2-14-4-3-4 14-7 13 6 8 0 12-10 4 15 0 3-4 1zM421 514l-20-7-12 10-4-2-4-6 11-8 4-8-5-24-6-4-8 0-12-14-12 1-8 8-4-1-3-6 23-17 4 0 12 16 16 4 2 9 10 6 8 1 8-8 8 0 20 25-8 16-20 9zM629 485l-26-8-4-4 4-16-10-21 15 1 5 4 0 24 4 5 16 1 2 10-2 4-4 0zM564 465l6-8-2-12-11-4-12 3-3 9 4 8 11 5 7-1zM148 467l-8-2 0-8 4-5 12 5-8 10zM577 632l-4 1-12-6-2-13-17-12 3-11 20 4 3 3-5 16 6 7 8 3 10-10 2-14 12 0 10-6 2-4-3-8-5-8-4 0-12 4-4 17-16 1 7-23 9-3 5-9 2-8-1-8-6-5-8-2-8 11 2 20-18 2-8 12-4 1-10-6-2-5 1-4 7-6 12 2 4-2 7-10 1-8-4-5-8-2-8 4-8 11-4-1-7-7 2-4 21-15 28 7 12-10 20 18 12-8 20 16-8 10-4 0-8-10-12-7-6 11 6 18 8 1 12-5 12 6 12-2 6-6 1-12 17 0 6-8-1-12-10-12 7-12-2-8-8-5-22 9 6 12 11 8-7 26-12-6 4-12-4-12-8-3-16 5-18-18-1-4 11-2 16 10 8 0 8-4 0-17 16-2 12 6 4 0 12-16 4 1 6 16-15 12 9 32 4 5 8 2 7-15-7-32 16-8 0-8-8-10-19-6 11-11 8-3 11 18 18 3 0 9-19 8-3 36 10 12 12-2 4 2 6 12-14 2-8-7-9-1-12 3-8 6-20 2-8 15-12 4-3 5-4 12 11 10 4-1 16-21 8-3 8-8 4-2 12 2 13-4 4 0 12 13 12-1 2 3-2 8-12 8-6-12-6-5-13-1-28 6-6 8-1 8 3 12 11 12-7 4-4-1-9-15-15-8-12 8-12 1-8 13-12-14-12-2-6 6-6 13-16 5zM304 481l8-8 2-8-3-8-6-3-12 4-8 19 12 6 7-2zM766 490l-5-1 3-12-4-12 0-4 6-4 0 33zM409 759l-8 2-12-10-2-13-6-5-12-2-16 7-9-4-1-4 6-8 20 1 20-4 4 1 1 18 3 4 16 5 6-5 0-12-10-12-12-5-8-15 8-24 4-2 16 1 12-11-4-16 3-12-4-12 1-12-7-12 3-4 16-6 4-15-7-4-13 0-10 4-8 9 9 12-9 16 2 17-4 6-10-15 9-32-2-13 4-20-13-14-8-1-5 7-1 8 10 25-9 12-4 16 6 20-5 8-14 0 7-20-7-16 13-20-2-9-7-8 6-27 8 1 12-9 8 7 8 0 16-10 8 10-19 8-4 12 7 7 12 0 11-11-2-12 13-16 14-2 12-14 8 0 12-11 16 12 8 2 8-2 3-9-5-8-14-7-12 1-5-2-1-8 10-6 25 10 7 14 8 5 28 1 16-6 5 10-9 9-44-2-8 2-16 15-4-1-8-12-16-5-4 5-4 16-8-5-8 0-19 26 0 16 2 4 9 7 2 10-2 6-12 2-7 12 4 56-9 23-12-3-8 1-6 7-2 12 4 7 8 1 9-4 7-13 23 1 0 12-3 4-12-4-10 8 0 16 10 7 8-1 5-18 0-8 3-2 13 10-9 16-12 5-4 13-3 2-9-5-8-1-12 11zM261 506l-4-5-1-12-11-9-9-1-8 12-4 2-11-16 36-6 8 2 4 16 7 8 1 4-8 5zM309 528l-9-7 11-12 14-2 4-3 8-20 8-10 12 2 12-1 11 30-12 4-3-4-2-16-6-7-4 0-10 11-5 20-17 3-12 12zM432 497l4-8-11-11-12-4-9 11 0 8 9 7 12 1 7-4zM68 502l-9-1-1-12 2-5 14 1 1 4-7 13zM136 522l-12-5-2-8 26-23 10-1 4 4 2 9-12-1-10 4-5 8-1 13zM746 525l-4 0-4-4-2-12 9-20 12 0-7 16 0 15-4 5zM204 530l-4-1-2-4 0-16-11-12 5-7 6 3 10 24 0 10-4 3zM232 514l-8-5 0-11 4-4 10 15-6 5zM172 527l-11-2 5-24 2 0 4 4 2 20-2 2zM24 550l-9-1-2-4 12-12 11-24 8-4 7 0-1 8-16 20-3 12-7 5zM281 532l-4-1-2-6 6-9 4 0 7 5-11 11zM337 619l-11-9 0-4 13-12-8-16 8-9 1-8-4-8-11-8 14-12 6-14 12-1 4 2 1 9-13 3-6 5-1 12 10 12-1 4-9 25 1 16-6 13zM766 532l-6-7 6-7 0 14zM148 540l-7-7-3-8 2-1 12 2 4 3-8 11zM249 542l-15-5 15-8 3 4-3 9zM517 675l-8 0-8-5-12 1-4-3-8-17-4-4-8 2-4-2-5-9-2-16 3-15 4-6 8 0 4-5 5-14-5-13-11-8 0-8 14-12 2-12 3-1 12 5 14 0 5 12-3 6-4 1-12-8-12 2-4 7 2 12 14 4 12-11 4 2 9 18-2 8 2 8 7 7 12 5-1 8-7 6-12-12-12-6 6-16-6-8-12-2-8 10 2 12 11 8 0 12 5 8 28 12 1 4-5 8-2 16-8 9zM88 570l-4-3-2-6 1-12 21-15 12 1 7 14-3 2-8-4-12-1-5 7-3 16-4 1zM184 554l-12 2-2-3 7-8 3-12 5 4-1 17zM216 554l0-15 13-2-13 17zM313 555l-4 2-6-8 6-11 4 0 8 7-8 10zM285 563l-4 2-7-8 3-7 4-3 7 6-3 10zM124 572l-4-3 3-4-1-12 2-3 11 7 0 4-11 11zM758 575l-3-22 3-3 8 1 0 20-8 4zM0 566l0-12 0 12zM156 570l-3-5-1-5 16-4 3 1-15 13zM249 574l-13-4-12 6-3-7 3-3 17 3 12-14 4 0 0 8-4 9-4 2zM196 566l0-5 0 5zM24 586l-8-3-3-5 0-5 7-4 6 0 4 4 0 9-6 4zM313 582l-9 0 5-12 4-3 11 11-11 4zM120 582l-12 2-9-6 1-3 20-5 4 3-4 9zM176 590l-18-4 2-3 16 1 16-9 3 7-2 4-17 4zM241 608l-9 0-3-6 20-7 8-8 12 5 8-4 8-10 5 4 0 4-14 12-15-3-20 13zM638 606l11-16-12-10-8-1-8 7-3 8 7 10 8 3 5-1zM12 611l-12-1 0-17 9 5 6 12-3 1zM76 629l-20-7-20-15 0-10 10-3 7 12 7 6 8 1 8-6 4 3-3 4-1 15zM84 607l-4 3-3-4 3-16 8 5 4 7-8 5zM140 598l-8 3-2-3 1-4 5-2 7 2-3 4zM216 598l-4 0-1-4 5-3 4 2-4 5zM717 606l-12 2-3-2 3-12 8 0 12 8-8 4zM766 610l-4-8 4-8 0 16zM309 615l-4 1-5-2 1-9 4-5 12 6-1 4-7 5zM738 696l-4 1-4-3-12-20 4-16-4-12-20-20 7-3 17 6 5 13 7 6 8 1 7-3 3-4-1-8-17-16-9-12 1-4 12-4 4 12 12 8 12 17 0 7-8 4-1 4 2 12 7 5 0 11 0 14-16-4-12 8zM484 642l5-8-1-16-7-12-8-4-6 12 0 20 6 10 11-2zM116 662l-9 0 1-16-4-4-8-3-12 3-4-3-3-9 3-2 12 4 8-4 4-6-2-12 6-4 11 4-12 16 1 16 15 12 1 4-8 4zM180 622l-8 1-14-9 22 0 17-4 2 4-19 8zM12 644l-12-2 0-4 13-8 3-8 0-11 9 3 4 20-17 10zM140 646l-7-16 3-8 4-1 4 5 0 16-4 4zM285 634l-12-7-20 9-9-2 9-8 20-7 18 11-6 4zM216 634l-8 4-3-4 3-7 4-2 11 5-7 4zM653 766l-8 0-8-6-8-2-10 8-4 0-2-12-4-5-8-4-11 9 0 12-11 0 4-8-1-16 7-12-2-24 2-4 20 1 5-9-8-12-12-8-2-20 7-8 2-9 16-5 8-6 0-4 4 8 3 16 10 12 2 8-7 3-8-2-2-17-10-5-11 5-3 4 0 8 6 8 13 8 0 28 11 8 6 8-3 4-11 5-2-1-3-16-3-4-8 0-8 8-5 12 9 10 12-4 4 2 3 8 5 5 16-5 4 16 8 4-4 0zM669 647l-8 2-12-15 1-8 7-1 7 5 8 12 1 4-4 1zM321 683l-4-3-9-22 0-20 17-4 12-8 18 12-6 11-4 1-12-11-8 0-8 11 0 8 8 9 8 2 12-14 4 2 8 13-7 4-17 1-12 8zM369 672l-5-2 9-17 4-4 16 3 8-17 4-3 8 14-2 4-18 5-7 7-17 10zM549 648l-15-6 0-4 7-5 12-1 2 6-6 10zM56 651l-16-4-6-9 10-3 8 0 6 11 0 4-2 1zM204 640l0-4 4 2-4 2zM511 662l6-12-3-8-9-5-13 5-2 8 7 12 8 4 6-4zM172 652l-4 2-7-4 1-4 10-8 4 1 2 7-6 6zM701 670l-4 0-23-24 4-4 7-2 8 7 10 15-2 8zM200 671l-4-5-1-16 5-8 6 20 0 4-6 5zM577 655l-5-1 1-12 4 0 5 8-5 5zM72 666l-8 3-1-15 17-2 4 11-12 3zM228 672l-4-4 0-6 8-11 3 11-7 10zM309 698l-12 1-15-9 2-16-10-16 5-4 6 0 6 8-1 16 4 8 7 5 12 2-4 5zM60 687l-20-5-31-16 7-8 4 0 11 4 13 10 16-2 3 8-1 8-2 1zM257 678l-5-8 1-8 8-6 7 2-11 20zM465 687l-8 2-2-3-6-20 4-5 8 1 7 20-3 5zM545 698l-11-4 3-16 16-19 11 3 3 8-17 8-3 8 1 12-3 0zM755 682l3-8-4-10-16-6-10 4-2 8 7 8 13 7 9-3zM673 750l-12-7-12 2-2-15 2-4 4 0 12 8 8 2 12-4 6-6-1-12 8-16-5-15-4-1-12 4-23-8 0-8 7-5 28 15 8-3 4 1 6 12 2 20-10 16-1 16-13 2-12 6zM0 691l0-23 4 2-2 20-2 1zM136 697l-20-2-12-9-12 2-1-18 9-1 8 14 16 2 13-3 3-13 4-1 10 6-1 4-12 8-5 11zM176 691l-4 0-13-13 3-4 6-2 8 5 4 9-4 5zM557 766l-8 0-3-4 0-4 12-20-6-36 17-5 3-19 5-2 9 6-1 19-12 0-4 5-3 12 6 20-12 16 1 12-4 0zM236 766l-7 0-5-10-12-7 2-19-6-10-10-2-2-4-2-20 2-6 4-1 5 3 1 20 2 6 4 2 12-3 5-5 2-8-7-16 4-6 13 18-6 16-14 20 2 8 12 12 4 12-3 0zM653 703l-8-1-6-8 2-6 8-6 4 21zM265 702l-4-1-6-7 2-10 4 1 7 9-3 8zM349 708l-4 1-12-3-4-4 1-4 27-2 8-12 4 0 10 10 1 4-3 2-20 2-8 6zM84 705l-20-3 0-14 24 6-4 11zM481 719l-8-5 2-24 6-4 10 4 4 4-11 12-3 13zM501 766l-13 0 1-4 12-7 7-9 13-2 7-6 0-4-3-13-4-4-10-3-5-12-7-8 6-5 4 0 10 9 7 12 14 12 1 4-6 12-2 17-20 2-12 9zM44 736l-4 1-8-3 8-16-4-10-8-3-16 2-8-13 24 1 27 15-11 26zM673 714l-12 0-6-8 14-5 8 1 7 8-11 4zM184 741l-4-2-7-17-9-6-12-2-9 4-7 14-8-5-16 3-23-16-3-8 2-2 40 17 9-3 4-12 3-3 12 2 12-3 8 14 13 6-5 19zM269 766l-10 0 1-16 13 0 5-4 6-12-3-8-8-5-11 5-4 8-1 14-9-2-4-4 2-12 19-21 12 7 12 2 6 8-3 24-15 7-8 9zM726 733l-7-11-1-8 12-8 7 8-11 19zM766 767l-6-1-2-8-4-4-12-3-7 7 1 8-7 0 2-4-2-4-12-6-10 6-3 8-10 0 5-8 0-12 2-2 12 0 13-10 12 12 4 1 4-3 7-10-7-16 1-4 7-4 4 0 6 8 1 4-9 12 10 20 0 13zM309 766l-12 0 12-8 6-12 0-12-4-16 6-3 9 11 2 8-3 20-16 12zM16 742l-8-8-2-8 2-4 4 0 19 12-15 8zM501 736l-12-2-4-4 0-10 20 0 1 10-5 6zM108 759l-8 0-12-13-20-6-3-6 3-8 8-1 16 19 16-4 4 10-4 9zM172 766l-8 0 0-12-12-6-10 6-4 12-10 0 12-35 28 15 5 8-1 12zM477 758l-12-3 0-9 12-4 4 3 1 9-5 4zM84 766l-28 0-8-6-8-1-8 7-32 1-1-5 1-6 12 4 24-4 8-13 8 4 12 15 20 4zM204 766l-7 0-9-12 0-7 16 4 0 15zM377 766l-20-4-20 4-3 0 0-4 3-4 20-7 20 3 3 4-3 8zM445 766l-11 0 7-12 4 12zM673 766l-15 0 11-3 7 3-3 0z"/><path d="M196 292Q35 523 -85 778M195 300Q59 493 -30 710M195 293Q122 493 84 702M205 293Q60 431 -63 588M205 300Q-35 446 -256 620M204 294Q-19 353 -231 443M203 292Q-10 385 -209 506M205 291Q91 341 -10 411M196 299Q67 420 -29 567M202 296Q1 393 -177 526M196 301Q32 342 -117 419M202 301Q14 475 -150 672M199 298Q0 353 -183 445M205 299Q84 419 -18 554M204 301Q32 483 -111 688M194 292Q-32 363 -248 467M197 298Q103 516 38 744M203 297Q-24 370 -236 481M195 296Q53 538 -55 797M204 295Q93 507 29 739M203 293Q3 364 -183 461M194 299Q128 401 87 516M203 298Q105 521 49 758M196 299Q18 458 -134 640M195 292Q96 553 31 825M205 298Q155 431 129 570M199 300Q107 545 61 803M203 292Q150 414 114 542M197 299Q81 417 -12 553M197 300Q62 325 -66 372M198 300Q21 380 -140 487M194 291Q23 424 -125 581M200 294Q119 516 77 749M204 290Q129 464 91 649M197 292Q352 386 490 503M197 292Q355 351 499 440M199 296Q393 398 562 535M196 290Q341 352 478 431M204 301Q365 394 515 504M205 292Q407 428 582 598M197 301Q363 364 519 451M204 300Q450 416 684 556M204 299Q395 456 553 646M195 298Q383 448 555 617M197 299Q376 365 539 462M203 291Q389 438 554 608M199 299Q375 422 533 566M194 295Q402 443 577 627M196 296Q338 348 475 415M203 301Q368 340 528 398M194 300Q414 411 611 558M203 299Q388 414 557 551M199 294Q476 377 732 511M203 300Q420 434 612 603M203 299Q398 474 573 667M195 298Q393 463 560 660M200 291Q373 376 533 484M200 300Q421 419 616 578M196 290Q381 433 541 604M195 301Q331 366 454 454M199 297Q167 231 127 170M201 294Q124 263 43 247M198 297Q177 249 149 205M204 294Q179 227 142 166M204 296Q103 252 -1 221M197 296Q151 259 100 229M196 299Q116 222 22 161M203 298Q160 266 112 240M202 297Q174 235 137 178M197 295Q168 246 130 203M201 291Q172 246 136 205M195 301Q167 237 132 177M205 299Q160 246 107 203M204 293Q134 263 62 241M201 292Q167 231 127 175M203 301Q134 235 57 180M204 294Q198 465 210 636M201 291Q237 442 295 586M197 292Q234 509 299 719M200 298Q254 497 329 688M205 301Q185 495 184 689M202 291Q200 457 225 621M197 298Q172 495 186 692M198 294Q228 443 278 586M194 290Q159 450 147 614M202 293Q242 478 303 657M197 290Q165 446 159 604M199 299Q246 509 322 711M198 293Q181 440 186 587M205 290Q244 456 306 614M199 296Q167 480 156 666M201 292Q251 497 331 692M203 301Q164 457 150 617M203 297Q249 480 327 651M194 299Q201 440 230 578M201 297Q155 517 148 743M201 296Q249 466 316 630M204 292Q227 444 276 590M41 84Q223 81 403 59M74 96Q291 127 509 133M50 102Q244 102 436 79M40 76Q295 100 552 105M56 76Q259 78 462 61M46 109Q288 126 532 125M45 86Q297 92 548 78M48 90Q222 81 394 60M59 81Q314 80 568 48M73 71Q274 88 475 89M43 73Q259 106 476 114M50 93Q300 96 549 80M78 89Q318 120 560 124M69 99Q294 89 518 61M70 91Q295 76 518 45M75 97Q265 102 455 89M78 70Q336 90 594 94M69 85Q270 117 474 127M69 70Q265 87 461 91M79 71Q332 82 585 73M55 82Q305 74 553 44M43 73Q260 76 477 63M751 188Q608 229 470 281M771 179Q672 185 574 197M782 163Q664 182 547 212M790 183Q664 220 542 271M789 149Q685 161 583 181M755 160Q622 171 490 195M757 181Q660 201 565 230M745 189Q649 205 555 231M776 167Q649 191 524 223M783 149Q654 187 529 239M768 169Q630 209 499 266M784 167Q663 181 544 205M773 159Q634 170 497 197M775 173Q675 184 576 201M776 176Q681 187 589 209M779 148Q657 177 539 215M765 298Q632 353 507 423M774 286Q667 337 567 401M766 271Q639 344 519 426M778 274Q677 329 583 395M764 283Q652 328 546 384M770 272Q680 319 596 375M762 299Q651 336 544 386M784 283Q680 323 578 372M779 276Q660 340 549 416M775 264Q669 307 568 359M778 283Q654 342 534 409M782 262Q669 327 563 405M749 276Q626 330 511 399M763 279Q669 336 578 399M672 765Q657 620 631 476M683 788Q678 622 661 458M683 784Q725 635 753 483M686 791Q663 630 630 471M711 767Q720 635 719 502M727 771Q727 657 713 544M699 762Q713 596 714 430M708 755Q714 638 709 521M695 801Q713 634 716 467M702 805Q726 646 732 486M681 765Q689 611 679 456M681 778Q679 612 665 447M689 761Q719 613 732 463M711 752Q733 607 746 462M713 802Q746 675 765 545M688 795Q737 640 770 480M696 761Q704 601 697 441M677 768Q664 602 638 437" stroke="#000" stroke-opacity="0.6" stroke-width="3.0" fill="none"/></g></g><rect x="16" y="2910.5" width="382.8" height="383.0" fill="none" stroke="#1e1e1e" stroke-width="1.2"/>
<text transform="matrix(1.16 0 0 1 25.8 2963.2)" class="pn">(h)</text>
<rect x="411.2" y="2912.0" width="20.7" height="381.5" fill="url(#gold)" stroke="#3a3a3a" stroke-width="1.2"/>
<line x1="411.2" y1="2912.0" x2="442.9" y2="2912.0" stroke="#505050" stroke-width="1.3"/>
<text transform="matrix(1 0 0 1.17 444.4 2928.3)" class="gl">0.588</text>
<line x1="411.2" y1="3293.5" x2="442.9" y2="3293.5" stroke="#505050" stroke-width="1.3"/>
<text transform="matrix(1 0 0 1.17 444.4 3291.6)" class="gl">0.000</text>
<line x1="431.9" y1="3261.1" x2="442.9" y2="3261.1" stroke="#505050" stroke-width="1.3"/>
<line x1="431.9" y1="3228.6" x2="442.9" y2="3228.6" stroke="#505050" stroke-width="1.3"/>
<text transform="matrix(1 0 0 1.17 444.4 3244.9)" class="gl">0.100</text>
<line x1="431.9" y1="3196.2" x2="442.9" y2="3196.2" stroke="#505050" stroke-width="1.3"/>
<text transform="matrix(1 0 0 1.17 444.4 3212.5)" class="gl">0.150</text>
<line x1="431.9" y1="3163.7" x2="442.9" y2="3163.7" stroke="#505050" stroke-width="1.3"/>
<text transform="matrix(1 0 0 1.17 444.4 3180.0)" class="gl">0.200</text>
<line x1="431.9" y1="3131.3" x2="442.9" y2="3131.3" stroke="#505050" stroke-width="1.3"/>
<text transform="matrix(1 0 0 1.17 444.4 3147.6)" class="gl">0.250</text>
<line x1="431.9" y1="3098.9" x2="442.9" y2="3098.9" stroke="#505050" stroke-width="1.3"/>
<text transform="matrix(1 0 0 1.17 444.4 3115.2)" class="gl">0.300</text>
<line x1="431.9" y1="3066.4" x2="442.9" y2="3066.4" stroke="#505050" stroke-width="1.3"/>
<text transform="matrix(1 0 0 1.17 444.4 3082.7)" class="gl">0.350</text>
<line x1="431.9" y1="3034.0" x2="442.9" y2="3034.0" stroke="#505050" stroke-width="1.3"/>
<text transform="matrix(1 0 0 1.17 444.4 3050.3)" class="gl">0.400</text>
<line x1="431.9" y1="3001.5" x2="442.9" y2="3001.5" stroke="#505050" stroke-width="1.3"/>
<text transform="matrix(1 0 0 1.17 444.4 3017.8)" class="gl">0.450</text>
<line x1="431.9" y1="2969.1" x2="442.9" y2="2969.1" stroke="#505050" stroke-width="1.3"/>
<text transform="matrix(1 0 0 1.17 444.4 2985.4)" class="gl">0.500</text>
<line x1="431.9" y1="2936.7" x2="442.9" y2="2936.7" stroke="#505050" stroke-width="1.3"/>
<text transform="matrix(1 0 0 1.17 444.4 2953.0)" class="gl">0.550</text>
<g filter="url(#bl7)"><polygon points="649.0,3017.0 784.0,3111.0 652.0,3205.0 517.0,3111.0" fill="#c030b0"/><g transform="matrix(0.33750 0.23500 -0.33000 0.23500 649.0 3017.0)"><use href="#h3h" fill="#ff36f4" stroke="#ff36f4" stroke-width="12.0" stroke-linejoin="round" clip-path="url(#c3h)"/></g><g transform="matrix(0.33750 0.23500 -0.33000 0.23500 649.0 3014.8)"><use href="#h3h" fill="#ff369b" stroke="#ff369b" stroke-width="10.9" stroke-linejoin="round" clip-path="url(#c3h)"/></g><g transform="matrix(0.33750 0.23500 -0.33000 0.23500 649.0 3012.6)"><use href="#h3h" fill="#ff6a5c" stroke="#ff6a5c" stroke-width="9.8" stroke-linejoin="round" clip-path="url(#c3h)"/></g><g transform="matrix(0.33750 0.23500 -0.33000 0.23500 649.0 3010.5)"><use href="#h3h" fill="#ffb040" stroke="#ffb040" stroke-width="8.7" stroke-linejoin="round" clip-path="url(#c3h)"/></g><g transform="matrix(0.33750 0.23500 -0.33000 0.23500 649.0 3008.3)"><use href="#h3h" fill="#d8e028" stroke="#d8e028" stroke-width="7.6" stroke-linejoin="round" clip-path="url(#c3h)"/></g><g transform="matrix(0.33750 0.23500 -0.33000 0.23500 649.0 3006.1)"><use href="#h3h" fill="#88e03c" stroke="#88e03c" stroke-width="6.5" stroke-linejoin="round" clip-path="url(#c3h)"/></g><g transform="matrix(0.33750 0.23500 -0.33000 0.23500 649.0 3003.9)"><use href="#h3h" fill="#30e84c" stroke="#30e84c" stroke-width="5.5" stroke-linejoin="round" clip-path="url(#c3h)"/></g><g transform="matrix(0.33750 0.23500 -0.33000 0.23500 649.0 3001.7)"><use href="#h3h" fill="#00ed53" stroke="#00ed53" stroke-width="4.4" stroke-linejoin="round" clip-path="url(#c3h)"/></g><g transform="matrix(0.33750 0.23500 -0.33000 0.23500 649.0 2999.5)"><use href="#h3h" fill="#00e65a" stroke="#00e65a" stroke-width="3.3" stroke-linejoin="round" clip-path="url(#c3h)"/></g><g transform="matrix(0.33750 0.23500 -0.33000 0.23500 649.0 2997.4)"><use href="#h3h" fill="#00df61" stroke="#00df61" stroke-width="2.2" stroke-linejoin="round" clip-path="url(#c3h)"/></g><g transform="matrix(0.33750 0.23500 -0.33000 0.23500 649.0 2995.2)"><use href="#h3h" fill="#30e070" stroke="#30e070" stroke-width="1.1" stroke-linejoin="round" clip-path="url(#c3h)"/></g><g transform="matrix(0.33750 0.23500 -0.33000 0.23500 649.0 2993.0)"><use href="#h3h" fill="#5aa8f0" clip-path="url(#c3h)"/></g></g>
<rect x="924.5" y="2944.6" width="19.4" height="327.1" fill="url(#rainbow)"/>
<path d="M924.5 2944.6V3271.7H943.9V2944.6" fill="none" stroke="#3a3a3a" stroke-width="1.3"/>
<line x1="943.9" y1="2954.3" x2="954.9" y2="2954.3" stroke="#404040" stroke-width="1.3"/>
<text transform="matrix(1 0 0 1.12 957.4 2961.5)" class="rl">0.50</text>
<line x1="943.9" y1="2988.8" x2="954.9" y2="2988.8" stroke="#404040" stroke-width="1.3"/>
<text transform="matrix(1 0 0 1.12 957.4 2996.0)" class="rl">0.45</text>
<line x1="943.9" y1="3023.3" x2="954.9" y2="3023.3" stroke="#404040" stroke-width="1.3"/>
<text transform="matrix(1 0 0 1.12 957.4 3030.5)" class="rl">0.40</text>
<line x1="943.9" y1="3057.8" x2="954.9" y2="3057.8" stroke="#404040" stroke-width="1.3"/>
<text transform="matrix(1 0 0 1.12 957.4 3065.0)" class="rl">0.35</text>
<line x1="943.9" y1="3092.3" x2="954.9" y2="3092.3" stroke="#404040" stroke-width="1.3"/>
<text transform="matrix(1 0 0 1.12 957.4 3099.5)" class="rl">0.30</text>
<line x1="943.9" y1="3126.8" x2="954.9" y2="3126.8" stroke="#404040" stroke-width="1.3"/>
<text transform="matrix(1 0 0 1.12 957.4 3134.0)" class="rl">0.25</text>
<line x1="943.9" y1="3161.3" x2="954.9" y2="3161.3" stroke="#404040" stroke-width="1.3"/>
<text transform="matrix(1 0 0 1.12 957.4 3168.5)" class="rl">0.20</text>
<line x1="943.9" y1="3195.8" x2="954.9" y2="3195.8" stroke="#404040" stroke-width="1.3"/>
<text transform="matrix(1 0 0 1.12 957.4 3203.0)" class="rl">0.15</text>
<line x1="943.9" y1="3230.3" x2="954.9" y2="3230.3" stroke="#404040" stroke-width="1.3"/>
<text transform="matrix(1 0 0 1.12 957.4 3237.5)" class="rl">0.10</text>
<line x1="943.9" y1="3271.7" x2="954.9" y2="3271.7" stroke="#404040" stroke-width="1.3"/>
<text transform="matrix(1 0 0 1.12 957.4 3278.9)" class="rl">0.04</text>
<path d="M1032.4 3063.8H1374.3M1032.4 3027.0H1374.3M1032.4 2990.1H1374.3M1032.4 2953.3H1374.3M1146.4 2915.3V3105.2M1260.3 2915.3V3105.2" stroke="#e6e6e6" stroke-width="1" fill="none"/>
<path d="M1032.4 3064.9 L1034.7 3052.0 L1037.6 3031.7 L1039.5 3052.0 L1043.1 3072.2 L1046.8 3071.1 L1052.2 3070.4 L1058.6 3067.5 L1061.3 3067.5 L1064.3 3075.9 L1067.0 3033.6 L1070.2 2982.0 L1073.4 2985.7 L1078.0 2975.8 L1080.7 2978.4 L1083.5 2972.1 L1086.2 2996.8 L1088.7 3024.4 L1091.2 2978.4 L1094.2 2985.7 L1097.4 3015.2 L1100.1 3048.3 L1101.9 2978.4 L1105.1 2951.1 L1107.4 2969.2 L1110.8 3013.3 L1113.8 2987.6 L1116.3 2959.9 L1118.8 2987.6 L1121.3 3024.4 L1124.0 3077.8 L1127.7 3033.6 L1131.8 2974.7 L1134.1 3015.2 L1137.2 3060.1 L1139.5 2996.8 L1142.7 2980.2 L1145.9 3018.9 L1150.7 2968.4 L1153.7 2976.5 L1156.6 2959.2 L1159.4 2978.4 L1162.1 3002.3 L1164.8 2978.4 L1167.1 2950.0 L1169.8 2983.9 L1172.6 2991.2 L1175.1 2969.2 L1177.6 2948.2 L1180.6 2983.9 L1183.3 2990.5 L1186.5 2970.3 L1189.7 2978.4 L1192.0 2982.0 L1194.2 2976.5 L1197.9 2985.7 L1200.6 2990.5 L1205.2 3002.3 L1208.4 3021.8 L1210.6 3015.2 L1214.3 2987.6 L1216.1 2959.9 L1218.8 2938.2 L1224.1 2918.0 L1229.1 2922.4 L1232.8 2929.0 L1235.5 2941.9 L1237.3 2959.9 L1239.6 2989.4 L1242.8 2994.9 L1245.5 2988.7 L1248.5 3004.1 L1251.2 3022.5 L1254.0 3061.2 L1256.7 3074.1 L1259.4 3078.5 L1262.2 3042.8 L1264.9 2996.8 L1267.6 2975.8 L1270.4 3024.4 L1272.2 3066.7 L1276.1 3071.1 L1284.3 3068.6 L1287.9 3068.6 L1294.3 3072.2 L1297.9 3071.1 L1307.3 3071.1 L1312.8 3072.2 L1316.4 3074.8 L1321.6 3077.4 L1327.1 3060.1 L1329.6 3065.6 L1332.1 3076.7 L1336.7 3071.1 L1341.2 3073.0 L1345.8 3074.8 L1348.1 3070.4 L1350.4 3042.8 L1352.2 3015.2 L1354.0 2994.2" stroke="#3c3c3c" stroke-width="1.15" fill="none" stroke-linejoin="round"/>
<path d="M1032.4 2915.3H1374.3V3105.2" stroke="#5a5a5a" stroke-width="1.4" fill="none"/>
<path d="M1032.4 2914.3V3105.2M1023.4 3105.2H1374.3" stroke="#3c3c3c" stroke-width="1.6" fill="none"/>
<path d="M1027.4 3104.3H1032.4M1023.4 3100.6H1032.4M1027.4 3096.9H1032.4M1027.4 3093.2H1032.4M1027.4 3089.6H1032.4M1027.4 3085.9H1032.4M1026.4 3082.2H1032.4M1027.4 3078.5H1032.4M1027.4 3074.8H1032.4M1027.4 3071.1H1032.4M1027.4 3067.5H1032.4M1023.4 3063.8H1032.4M1027.4 3060.1H1032.4M1027.4 3056.4H1032.4M1027.4 3052.7H1032.4M1027.4 3049.1H1032.4M1026.4 3045.4H1032.4M1027.4 3041.7H1032.4M1027.4 3038.0H1032.4M1027.4 3034.3H1032.4M1027.4 3030.6H1032.4M1023.4 3027.0H1032.4M1027.4 3023.3H1032.4M1027.4 3019.6H1032.4M1027.4 3015.9H1032.4M1027.4 3012.2H1032.4M1026.4 3008.6H1032.4M1027.4 3004.9H1032.4M1027.4 3001.2H1032.4M1027.4 2997.5H1032.4M1027.4 2993.8H1032.4M1023.4 2990.1H1032.4M1027.4 2986.5H1032.4M1027.4 2982.8H1032.4M1027.4 2979.1H1032.4M1027.4 2975.4H1032.4M1026.4 2971.7H1032.4M1027.4 2968.0H1032.4M1027.4 2964.4H1032.4M1027.4 2960.7H1032.4M1027.4 2957.0H1032.4M1023.4 2953.3H1032.4M1027.4 2949.6H1032.4M1027.4 2946.0H1032.4M1027.4 2942.3H1032.4M1027.4 2938.6H1032.4M1026.4 2934.9H1032.4M1027.4 2931.2H1032.4M1027.4 2927.5H1032.4M1027.4 2923.9H1032.4M1027.4 2920.2H1032.4M1023.4 2916.5H1032.4M1032.4 3105.2V3113.2M1043.8 3105.2V3110.7M1055.2 3105.2V3110.7M1066.6 3105.2V3110.7M1078.0 3105.2V3110.7M1089.4 3105.2V3110.7M1100.8 3105.2V3110.7M1112.2 3105.2V3110.7M1123.6 3105.2V3110.7M1135.0 3105.2V3110.7M1146.4 3105.2V3113.2M1157.8 3105.2V3110.7M1169.2 3105.2V3110.7M1180.6 3105.2V3110.7M1192.0 3105.2V3110.7M1203.3 3105.2V3110.7M1214.7 3105.2V3110.7M1226.1 3105.2V3110.7M1237.5 3105.2V3110.7M1248.9 3105.2V3110.7M1260.3 3105.2V3113.2M1271.7 3105.2V3110.7M1283.1 3105.2V3110.7M1294.5 3105.2V3110.7M1305.9 3105.2V3110.7M1317.3 3105.2V3110.7M1328.7 3105.2V3110.7M1340.1 3105.2V3110.7M1351.5 3105.2V3110.7M1362.9 3105.2V3110.7M1374.3 3105.2V3113.2" stroke="#555" stroke-width="1" fill="none"/>
<text x="1021.9" y="3103.9" class="pl" text-anchor="end">0.0</text>
<text x="1021.9" y="3067.1" class="pl" text-anchor="end">0.1</text>
<text x="1021.9" y="3030.3" class="pl" text-anchor="end">0.2</text>
<text x="1021.9" y="2993.4" class="pl" text-anchor="end">0.3</text>
<text x="1021.9" y="2956.6" class="pl" text-anchor="end">0.4</text>
<text x="1021.9" y="2923.8" class="pl" text-anchor="end">0.5</text>
<text x="1032.4" y="3124.2" class="pl" text-anchor="middle">0.0</text>
<text x="1146.4" y="3124.2" class="pl" text-anchor="middle">0.5</text>
<text x="1260.3" y="3124.2" class="pl" text-anchor="middle">1.0</text>
<text x="1374.3" y="3124.2" class="pl" text-anchor="middle">1.5</text>
<text x="1201.3" y="3137.2" class="pl" text-anchor="middle">x</text>
<text transform="translate(1006.4,3010.2) rotate(-90)" class="pl" text-anchor="middle">y</text>
<rect x="1315.3" y="2918.8" width="56.5" height="16" fill="#fff" stroke="#555" stroke-width="1.2"/>
<line x1="1319.8" y1="2926.8" x2="1329.8" y2="2926.8" stroke="#444" stroke-width="1"/>
<text x="1333.3" y="2930.3" class="pl">Profile 1</text>
</svg>
</body></html>
